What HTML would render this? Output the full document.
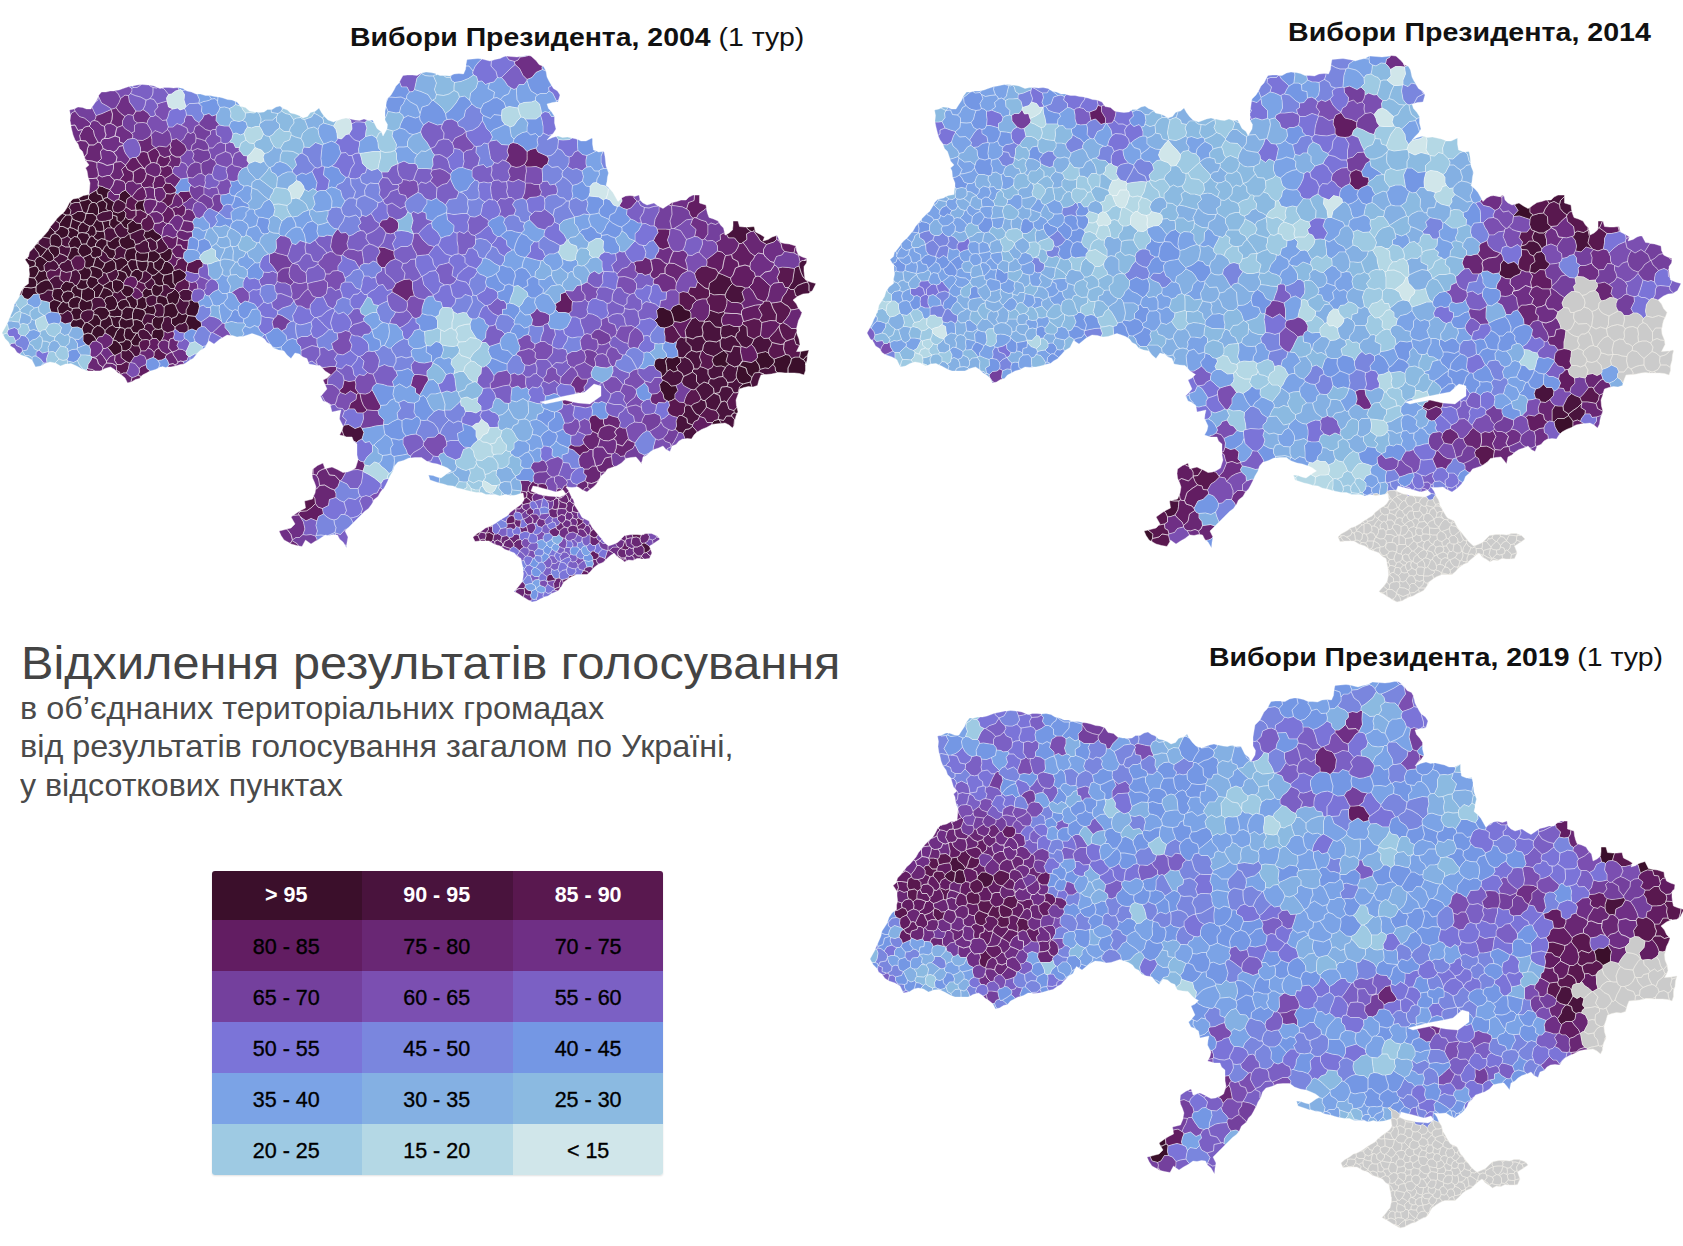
<!DOCTYPE html>
<html lang="uk"><head><meta charset="utf-8"><title>Відхилення результатів голосування</title>
<style>
html,body{margin:0;padding:0;background:#fff;}
body{width:1683px;height:1246px;position:relative;overflow:hidden;font-family:"Liberation Sans",sans-serif;}
#maps{position:absolute;left:0;top:0;width:1683px;height:1246px;}
.mt{position:absolute;white-space:nowrap;font-size:26.5px;line-height:30px;color:#111;transform-origin:0 0;}
.mt b{font-weight:bold;}
#t1{left:349.5px;top:22.2px;transform:scaleX(1.0725);}
#t2{left:1287.7px;top:17.2px;transform:scaleX(1.0794);}
#t3{left:1209.2px;top:642.2px;transform:scaleX(1.072);}
#h1{position:absolute;left:21.3px;top:636px;font-size:46px;line-height:54px;color:#444;white-space:nowrap;transform-origin:0 0;transform:scaleX(1.0566);}
.sub{position:absolute;left:20px;font-size:32px;line-height:38px;color:#4a4a4a;white-space:nowrap;transform-origin:0 0;}
#s1{top:688.5px;transform:scaleX(1.011);}#s2{top:726.5px;transform:scaleX(1.012);}#s3{top:766px;transform:scaleX(1.005);}
#legend{position:absolute;left:212px;top:871px;width:451px;height:304px;border-radius:3px;overflow:hidden;box-shadow:0 1px 2px rgba(0,0,0,.12);}
#legend div{position:absolute;width:151px;height:51px;line-height:54px;text-align:center;font-size:21.5px;color:#000;-webkit-text-stroke:0.35px #000;}
#legend div.w{line-height:49px;color:#fff;font-weight:bold;-webkit-text-stroke:0;}
</style></head><body>
<svg id="maps" viewBox="0 0 1683 1246" width="1683" height="1246">
<g transform="translate(0,0) scale(.5)" stroke-width="1.1" stroke-linejoin="round"><path fill="#3b0f2b" stroke="#fff" stroke-opacity="0.85" d="M138 464l-2-6-10-5-7 0-2 6-7 5 0 3 7 3 5 7 6-1 7-4zM342 527l-7-4-5 0-3 6-3 9-6 5 5 5 5 2 7-1 10-3 0-3 4-2-1-3-1-4zM305 573l-2 6 1 6 2 5 4 2 4 1 5-2 7-10-1-10-7 1-8-4zM271 616l4-7-1-10-6-3-5-6-4 3-6 1-1 4 6 8 3 9 4 1 3 2zM335 549l-7 1-3 11 3 8 7 1 6 7 8 0 2-5-5-7 0-11-1-8zM1599 714l4 4 4 1 6-7 2 0 0-2 3-10-12 2-5 1zM1329 750l5-7-1-12-2-9 4-7-2-2-6 4-9-1-7 3-2 5-1 7 4 8 10 6 1 9zM183 533l-4 3 4 8-2 9 9 2 6 4 9-7 1-7-2-3-1-3-9-4-8-2zM292 616l2-7-2-6 0-7-4-1-3-2-5 3-6 3 1 10-4 7 6 1 8 2zM297 514l-2 8 1 2 6-1 5 2 8-4 5-6 1-3-3-5-5-3-3-3-6 1-3 0-4 3zM125 427l-4 3-7 7-3 4 8 6 6-9 7-8zM1576 736l5-10 2-9-5-7-7-1-8 4-7 2-8 3 1 6-3 5 4 5 1 8 4 3 6 0 9 1 6 0zM1503 725l-17-3-7 8-1 1 14 5 3 11 9 8 5-9 10-1-1-3 2-3-2-9-7-10zM94 553l-1-8-1-2-3-2-7 2-4-2-4 9-5 6 5 8-1 7 8-7 9-4 8 0zM230 619l5-9 0-4-3-8-7-7-12 3-5 7 4 8-2 6 5 3 2 4zM218 522l-8 4-3 8-4 5 1 3 2 3 4 1 3 1 9-3 10-6-1-12-6-7zM374 630l2 1 8 1 7 1 5-7 3-13-1-5-2-4-8 0-4-4-4 0-2 2 0 7-6 11 0 7zM337 633l6 4 10-4 4-9-4-8-2-6-6-4-8 2-6 2-3 5 0 11-2 7 2 2zM373 638l-2 6 5 8 0 9 8-3 9 4 3-5 7-4 0-5-1-4-8-5-3-6-7-1-8-1zM183 472l4 1 5-6 0-5-2-7-5-4-3 1-3 0-2 9-6 5 6 2 2 7zM281 542l5 2 3-2 3 0 4-11 0-7-1-2-11 1-11-2 1 10 3 8zM328 504l-10 3 3 5-1 3 5 2 5 6 5 0 7-5 3-12-1-3 0-4-4-2-3 0zM73 571l1-7-5-8-9-1-2-1-1 4 0 9-9 7 0 1 7 0 7 1 10-2zM172 427l-2 11-4 6 7 5 6 3 3 0 3-1 4-6 5-8-1-4-7-6-13 0zM250 474l-9 2-3 6 3 10 5 4 7 3 10-3 7-1 0-3 1-3-3-9-7-3-1-9-2-1zM356 605l3-10 1-4-3-6-3-3-4-4-6 6-9 4-2 7 2 6 2 7 8-2 6 4zM265 627l3-9-3-2-4-1-9-1-8 7 0 6-2 6 1 2 9 5 13-3zM323 473l-5-5-7-4-5-7-9 5-7 0-3 9 5 8 9-3 10 7 9-5 3-3zM63 534l7-2 1-6-2-4-12-3-3-3-4 3 8 12 0 5zM1429 841l-4 4-2 4 8-1 10-1 2 0-5-8-2 0zM267 675l6-9-7-1-5-9-7 0-4 3-2 12 3 8 7 1 4 3zM279 660l8-2 2-3 0-4-3-4-2-4-10-4-8 1 1 10-6 6 5 9 7 1 3 0zM307 654l4 4 6 1 7-2-1-7 4-8 1-7-2-2-9 1-6-1-6 6-1 9zM185 660l-2 8 5 4 5 8 4-6 8-1 5-7 0-5-4-5-6-4-5-1-6 4zM144 642l-2 3-2 5 4 5 11-1 9 4 2-6 4-6-4-6-4-3-9 3-7-1zM1501 764l-8 2-7 2-7 6-3 11 1 1 2-8 9-3 9-2 7 1zM225 519l6 7 1 12 3 3 5 0 6-6 9-7 1-4-4-4-2-3-8-2-9 4-6-3-2 2zM213 637l-11 4-1 5-1 6 6 4 4 5 8-8 7-3-2-11-4-7-1-2zM260 468l7-3 9-4 8-3 0-5-2-6-10-1-6-6-11 9 1 9-1 5 3 4zM358 648l5 0 8-4 2-6 3-7-2-1-2-3-8 2-7-5-4 9-10 4 0 10 7 7zM142 446l2-9 0-4-3-2-1-1-5 0-3 0-7 8-6 9 0 2 0 4 7 0 10 5 1-2 3-1zM226 587l-4-6-7-4-8-2-4 9-6 11 7 1 4 5 5-7 12-3zM189 405l4 2 5-4 8-3 0-1-3-9-8-2-2-8-7 4-7 4-2 5 0 5 5 4 2 3zM147 457l9 5 1-9 6-8-12-4-7-4-2 9-2 9zM136 518l2 2 4 1 9-9 11 0-6-8 1-6-7-4-9 2-1 7-5 11zM158 607l0 9 3 3 4 4 9-3 9 0 2-10-2-10-10 3-10-6zM116 512l3-5 0-5-1-7-10-3-6 0-4 2-1 3 3 7 6 6 2 7zM175 511l-9 4 4 7-1 11 4 3 6 0 4-3 3 0 3-10 2-7-6-1-4-7zM1348 646l0-3-2-9-2-7-3-6-7-2-7-4-8 0-6 6 2 14-6 6 4 4 2 5 6 5 8 1 8-2 8-4zM117 602l-9-3-5 3-4 3 0 10 3 9 9 1 6 1-2-10 8-11zM1613 712l-6 7 4 6 0 5 3-9 1-9zM1474 827l2-3-2-10-6 7 0 2 0 3zM248 439l3-6 1-7-5-5-11 5-9-3-2 2 0 2 0 3 9 3 0 8 8 4zM238 474l-2-1-7 3-9 7-6-2 0 5 0 3 5 8 11 3 4-5 7-3-3-10 3-6zM182 649l7 6 6-4 5 1 1-6 1-5-7-11-8-1-2 9-10 7zM203 584l4-9-1-4-4-2-4-3-7 6-7 6 5 5 0 12 4 0 4 0zM142 408l8-3 9 0 2-3-4-6-11 2-5 5zM229 584l-4-9 0-12-5-1-7 5-7 4 1 4 8 2 7 4 4 6zM132 606l5-1 4-7 6-3 1-6-5-6-8-1-8 3-4 8 4 10zM225 415l4-11-7-4-7-5-5 1-4 3 0 1 8 7-2 10 5 5 4-1 4 4 2-2zM236 708l6-3 2-4-1-9-6-7-5-4-6-1-2 8-9 7 6 7 6 8 3 1zM166 560l-5-2-4 8-4 5 2 6 9 2 6-1 7-4-4-8 2-7zM125 581l2 4 8-3 8 1 1-7 6-5-5-6-7-1-6-2-4 3-5 6-2 6zM231 655l-6-5-7 3-8 8 0 5 11 6 5 7 4-8 3-8 7-8zM1510 459l-2-6-10 1-5 0 1 3 8 6 3 0 2-1zM178 555l3-2 2-9-4-8-6 0-4-3-5 6-9 2 6 9 0 8 5 2 9-1zM76 487l2-6-1 1-4 6zM137 487l2 7 2 2 9-2 7 4 3-6 3-3-3-9-5-6-6-1-7 5zM1382 627l-3-6-9-2-5-7-7-4-12 5-5 8 3 6 2 7 2 9 13 2 10-3 11-6zM123 593l4-8-2-4-4-4-6 0-8 1-1 3-2 10 4 8 9 3 6 3 1-1 3-1zM200 496l-9-3-3 0-6 3 2 7-3 5 4 7 6 1 3-2 3 0 6-3 1-9zM289 399l-5 2-8 1-6 8 2 10 0 1 9-1 11 6-3-8-2-9 3-9zM160 492l-3 6-1 6 6 8 2 2 2 1 9-4 6-3 3-5-2-7-6-4-3-4-6 0-4 1zM163 597l0-8 1-10-9-2-2-6-3 0-6 5-1 7 5 6-1 6 7-2zM172 645l-2 1-4 6-2 6 2 6 1 5 9-3 7 2 2-8 4-5-7-6-7-4zM248 671l2-12-4-3-6-1-7 8-3 8-4 8 0 1 6 1 5 4 10-1 4-5zM298 628l10 2 4-8-4-11-9 2-5-4-2 7-7 3 5 3 1 6zM61 596l6-7 10-1-5-4 0-10-10 2-7-1-7 0-3 5-2 9 6 8 7 2zM145 631l1 8 7 1 9-3-1-7 4-7-4-4-3-3-6 0-7 1-1 4-3 3zM255 449l11-9-1-2-9 1-5-6-3 6-6 6 0 1 6 9 8 3zM195 630l7 11 11-4 5-7 2-4-3-4-2-4-5-3-10-1-6 2-8 6 2 3-1 4zM345 543l0 3 1 8 0 11 5 7 3-6 10-5 6-4 3-7-3-5-11-7-10 3zM1337 803l6-2 7-4 0-9 6-7-4-10-10 1-6-7-10-5-7 9 2 12 5 7 2 10 7 4zM237 549l-5 10 9 2 6 6 3-7 5-6-4-9-11-4-5 0zM296 531l-4 11 7 5 5 4 6-1 8-7-10-7-1-11-5-2-6 1zM190 455l2 7 8 1 8-1-1-10-3-9-7-1-3-5-5 8-4 6zM243 384l-4 5 0 4-2 6 10 5 5 5 2-11 9-6-6-5-6-7zM279 684l6-4-6-5-3-9-3 0-6 9-5 8 1 4 5 5 10 0zM117 470l-7-3-7 3-3 7 0 9 2 6 6 0 10 3 3-3 2-2 1-8-2-5zM1515 715l-4 5 7 10 2 9 10-3 7 1 9-8 3-5-1-6-8-6-3-6-6-3-8 2-9 2zM274 639l10 4 3-8 4-7-1-6-5-3-8-2-6-1-3 2-3 9 0 10 1 3zM151 441l12 4 3-1 4-6 2-11-4-2-3-2-10 0-6 4-8 4 3 2 0 4zM258 680l-7-1-4 5-10 1 6 7 1 9 8 1 5-3 5-4 1-8-1-4zM163 416l2 7 3 2 4 2 1 0 3-7 3-11 5-4-2-3-5-4-9 3-7 1-2 3zM75 534l3 7 4 2 7-2-1-11 7-7-6-5-7-5-3 0-5 2-5 7 2 4-1 6zM176 492l6 4 6-3 3 0 0-5 5-7-6-3-3-5-4-1-4 3-4 7-2 6zM268 583l-1-6-8-5-11-2-2 8-5 3 5 8 7 5 6-1 4-3zM186 427l7 6 1-2 3-3 0-12-4-9-4-2-5 0-5 4-3 11-3 7zM98 560l-8 0-9 4-8 7-1 3 0 10 5 4 1 1 11-3 6-6 11 1 1-3-3-9-6-8zM227 516l4-7-1-9-11-3-5-8-5 5-4 8 7 5 5 9 8 2zM220 626l-2 4 1 2 10 2 4-1 9 0 2-6 0-6-6-3-3-8-5 9-13 3zM1478 765l8 3 7-2 8-2 2-5 1-4-9-8-3-11-14-5-2 1-2 9-2 9 1 6zM263 496l-10 3-4 11 1 7 2 3 4 4 6-5 10 1-1-11 3-7-3-2-1-5zM259 537l-4-9-9 7-6 6 11 4 4 9 3 1 3-3 1-4 2-4zM187 597l2-2 0-12-5-5-4-1-3-3-7 4-6 1-1 10 0 8 10 6 10-3zM284 523l11-1 2-8 0-9-8 1-9 0-6-4-3 7 1 11 1 1zM286 590l-1 3 3 2 4 1 7-4 7-2-2-5-1-6-6 0-4-3-5 3-4 7zM160 480l3 9 4-1 6 0 2-6 4-7-2-7-6-2-7-1-6 1-3 4 0 4zM94 476l6 1 3-7 7-3 0-3-9-9-1 0-4 7-6 7-5 5zM1611 725l-4-6-4-1-4-4-9 0-7 3-2 9-5 10 0 10 3 0 10 0 10 1 9 3 3-9 0-10 0-1zM208 462l6-6 10 0-5-6 1-10-9 2-7 1 3 9zM313 601l1 6 9 1 5 7 3-5 6-2-2-7-2-6-8-3-6-1-5 2zM246 578l2-8-1-3-6-6-9-2-4 1-3 3 0 12 4 9 6 2 6-5zM238 644l5-9-1-2-9 0-4 1-10-2 4 7 2 11 6 5 9 0zM176 666l-9 3-1 2 0 11 6 7 4 2 2 1 7-9 8-1 0-2-5-8-5-4zM318 572l7-1 3-2-3-8 3-11-5-2-5-5-8 7-6 1-1 3 0 2 6 6 1 6zM60 555l9 1 5-6 4-9-3-7-5-2-7 2-5 2 0 4 1 9-1 5zM106 510l-6-6-3-7-3 1-6 8-6 7 7 5 6 5 5 1 7-4 1-3zM132 430l3 0 5 0 2-9-4-6 4-7-1-5-2 2-5 10-5 8-4 4zM84 493l-8-6-3 1-2 2-3 4 4 6 5 6 2 7 3 0 6-7 6-8zM267 650l-1-10-1-3-13 3-9-5-5 9 2 11 6 1 4 3 4-3 7 0zM304 674l0 3 9 0 6 7 4-3 5-10 0-9-3-2-1-3-7 2-6-1-6 4-2 10zM201 520l-4-6-3 0-3 2-2 7-3 10 8 2 9 4 4-5 3-8zM124 604l-1 1-8 11 2 10 1 1 7 1 10-7 6 3 3-3 1-4-7-3-1-9-5 1-5-3zM242 600l-7 6 0 4 3 8 6 3 8-7 9 1-3-9-6-8zM1424 721l3 8 5 4 11-1 8 3 3-4 5-2-7-6 4-14-8-8-1 0-7 4-6 4-7 4zM137 456l-1 2 2 6-3 8 4 4 3 2 7-5 6 1 0-4 3-4-2-4-9-5-7-2zM271 539l-7 5-2 4-1 4 10 3 4 8 2 0 7-6 2-13-5-2-4-3zM205 502l4-8 5-5 0-3 0-5-4-2-7-2-7 4-5 7 0 5 9 3 4 6zM205 424l12-2-5-5 2-10-8-7-8 3-5 4 4 9 0 12zM210 472l-2-10-8 1-8-1 0 5-5 6 3 5 6 3 7-4 7 2zM158 466l6-1 7 1 6-5 2-9-6-3-7-5-3 1-6 8-1 9zM274 531l-1-10-1-1-10-1-6 5-1 4 4 9 5 7 7-5 6 0zM161 402l7-1 9-3 0-5 2-5-1-1 0 2-11 2-10 5zM220 379l-9-3-6-3-9-2 1 4-4 5 2 8 8 2 3 9 4-3 5-1 1-10 5-4zM173 566l4 8 3 3 4 1 7-6 7-6-3-4 1-3-6-4-9-2-3 2-3 4zM242 445l-8-4 0-8-9-3 0 7-5 3-1 10 5 6 4 2 7-8 7-4zM152 616l6 0 0-9 5-10-9-4-7 2-6 3-4 7 1 9 7 3zM325 517l-5-2-5 6-8 4 1 11 10 7 6-5 3-9 3-6zM1357 715l-1-3-11 4-10-1-4 7 2 9 1 12 6-4 7 5 9-3-3-8 9-9-2-9z"/><path fill="#49133d" stroke="#fff" stroke-opacity="0.85" d="M293 679l6 2 4-2 1-2 0-3-1-2-8-10-8-4-8 2-3 6 3 9 6 5zM1608 521l-4 0-4 3-2 3 0 5 4 13 4 9 4 3-1-6-1-9 0-9 5-7 1-6zM1494 457l-1-3-4 0-10-1-3-11-10 0 0 9-1 9-7 6-5 3 4 7 12 0 9 11 5 0 3-2 8-6-1-11 9-5zM1592 689l7 2 1-2-2-11-4-10 0-6-3 6-3 9zM1395 774l-4 4 5 7 4 7 2 6 4 3 4 0 7-6 5-4 6-5-1-10-10-9-9-3-9 6zM1361 865l5 2 5-8 7-1 7-5 0-3-10-4-1-9-10-6-6 0-3 4-3 7 1 10-3 7 4 2 3 4zM1365 758l-2 6 4 7 7 4 8 4 6 1 3-2 4-4 4-4-6-7 0-13-8-6-7 4-11 5zM380 600l4 0-1-8 2-8-4-3-4-2-11 0-9 6 3 6-1 4 7 7 12 0zM1378 748l7-4 0-4 3-2-2-9-7-10-10-5-3 2-6-1 2 9-9 9 3 8 8 5 3 7zM270 492l0 3 1 5 3 2 6 4 9 0 8-1 4-3-4-9 0-8-6-5-6 2-5 5-9 2zM1390 858l-5-5-7 5-7 1-5 8 3 8 1 3 4-1 9 1 5-8 6-6 1 0zM140 503l1-7-2-2-8 0-8-4-2 2-3 3 1 7 0 5 9 3 7 4zM1606 554l-4-9-4-13-6 2-3 3-2 13-2 13-8 12 4 4 7 0 7-8 12-5 8-2 1-2-5-2-1-3zM45 580l3-5 0-1-6 9-3 8 1 0 3-2zM1452 759l3 6 11-1 7-8-1-6 2-9 2-9-7 2-10-5-5 2-3 4-6 10 1 8zM1376 649l-6 12 2 13 14 4 6-4 13-2 1-7-2-11 5-10-1-2-10 0-7-7-7 2zM1407 690l-2 11 7 7 9 3 6 2 7-4 6-4 7-4-6-7-1-14-7 4-14-2-7 1zM710 857l-13-8-8 1-3 3 0 1-2 7 2 6 2 5 5 2 11 0 3 8 6 3 5-4 6-3 4-13-4-8-3-4zM100 540l11 1 7-6 0-3-5-8-6-4-7 4-5-1-7 7 1 11 3 2 1 2zM1468 826l-4 2-1 4 6 7-1 12 1-3 1-8 2-8 2-5zM1428 758l9-4 9-1-1-8 6-10-8-3-11 1-5-4-3 6-8 4 0 9 5 9zM76 487l8 6 10 5 3-1 1-3 4-2-2-6 0-9-6-1-9-2-1 2-6 5zM1357 677l-4 6-2 11 4 7 1 11 1 3 3 0 6 1 3-2 6-8 8-5-1-8-10-10 0-9-4 2-6-2zM74 515l5-2-2-7-5-6-4-6-2 3-7 7-2 9-3 3 3 3 12 3zM194 437l3 5 7 1 7-1 9-2 5-3 0-7 0-3 0-2-4-4-4 1-12 2-8 4-3 3-1 2zM104 569l3 9 8-1 6 0 2-6 5-6-8-6 0-7-10 0-6 4-6 5zM1404 654l2 11-1 7 3 6 4 5 7-1 14 2 7-4 3-2 0-3-2-8 1-12-11-1-11-12-11 2zM1504 774l2 0 9-3 3-11 4-10 6-1 0-1-9-3-10 1-5 9-1 4-2 5zM1507 462l9 12 5 8 12 7 9-3 6-2 5-5 0-8-9 3-8 5-10 3 3-8-8-5-10-5-1-5zM1467 692l-5 12-14-3 8 8-4 14 7 6 10 5 7-2 2-1 1-1 6-9-4-18 1-9zM1441 667l2 8 8 1 12-5 8 4 2-8 6-5-1-9-10 0-9-4-13 2-2 2-2 2zM174 620l-9 3-4 7 1 7 4 3 4 6 2-1 3 0 10-7 2-9 1-4-2-3-3-2zM1393 750l0 13 6 7 9-6 9 3 1-6 3-4-5-9 0-9-9-4-7-2-4 5-8 0-3 2 0 4zM1412 806l1 8 9 5 10 2 4-6 6-11-3-13-9-4-2-1-6 5-5 4-7 6zM1428 590l13-1 9 1 3-7 6-10 6-6-3-6-1-5-7-3-9-4-8-3-6 12-12 8-2 12 2 4 0 4zM280 487l5-5 6-2 1-1-5-8 3-9-2-3-4-1-8 3-9 4-7 3 1 9 7 3 3 9zM255 463l1-5-8-3-6-9-7 4-7 8 3 8 5 7 2 1 3 2 9-2 8-7zM299 592l-7 4 0 7 2 6 5 4 9-2 2-2 4-2-1-6 1-8-4-1-4-2zM1618 570l0 11 3 3 4-3 7-14-11-3-5-2-1 2zM1449 802l5 3 2-5 6-8 5-7-4-9-9-3-11 1-4 11-9 2 9 4 3 13zM1364 746l-8-5-9 3-7-5-6 4-5 7-6 4 0 1 0 3 3 2 10 5 6 7 10-1 6-3 5-4 2-6 2-5zM231 466l-3-8-4-2-10 0-6 6 2 10 0 7 4 2 6 2 9-7 7-3zM317 634l9-1 2-7 0-11-5-7-9-1-4 2-2 2 4 11-4 8 3 3zM284 566l5 1 6-4 8-7 0-2 1-3-5-4-7-5-3 0-3 2-2 13-7 6zM372 620l6-11 0-7-12 0-7-7-3 10-5 5 2 6 4 8 7 5 8-2zM1389 843l7-3 3-7 0-2-7-3-6-8-4-8-5-2-5 0-3 5 0 9-5 7 10 6 1 9 10 4zM104 591l2-10-11-1-6 6-11 3 1 6 3 6 10 2 7 2 4-3 5-3zM1403 725l-4-11 4-12-10 2-10-3-8 5-6 8 10 5 7 10 2 9 8 0 4-5zM304 502l6-1 5-5-2-12 7-6-9 5-10-7-9 3-1 1 6 5 0 8 4 9zM1509 696l5 11 9-2 8-2 6 3 1-8 4-6 2-7-4-5-2-4-10 1-7-6-7 3-6 4-2 5-3 6zM101 455l9 9 7-5 2-6 0-4 0-2-8-6-3 4-7 8-1 2zM132 545l11-2 3-2 3-1-5-11-2-8-4-1-2-2-7 6-7 2-4 6 0 3 3 2 1 4zM135 621l-10 7-7-1 4 7-1 9 9 5 12-3 2-3 2-3-1-8-4-7zM1441 694l6 7 1 0 14 3 5-12 15 2 1-1-5-8-3-3-4-7-8-4-12 5-8-1 0 3-3 2zM128 476l-6 1 2 5-1 8 8 4 8 0-2-7 5-9-3-2-4-4zM1437 626l-9-3-9-3-1 9-3 6-7 7 1 2 11-2 11 12 11 1 2-2 2-2-3-8 1-8 6-9-2-3zM254 724l5 2 2-1 4-6 4-6-5-8-7-6-5 3-8-1-2 4 0 10 10 8zM268 692l-5-5-1 8-5 4 7 6 5 8 5 0 6-4 0-3 2-4-2-6-2-4zM335 666l12-4 2-2 1-2 0-4-7-7 0-10-6-4-9 2-1 7-4 8 1 7 1 3 3 2zM141 431l8-4 6-4 10 0-2-7-4-11-9 0-8 3-4 7 4 6-2 9zM145 565l5 6 3 0 4-5 4-8 0-8-6-9-3-2-3 1-3 1-3 2-1 9-4 12zM320 478l-7 6 2 12-5 5 3 3 5 3 10-3 9-7-3-6-6-8-5-8zM186 622l8-6 6-2 10 1 2-6-4-8-4-5-7-1-4 0-4 0-2 2-4 3 2 10-2 10zM326 581l-7 10 6 1 8 3 2-7 9-4 6-6-1-1-8 0-6-7-7-1-3 2zM216 555l4 7 5 1 3-3 4-1 5-10-2-8-3-3-10 6-9 3zM1475 682l3 3 5 8 10 3 10-7 3-6 2-5-13-6-1-18-9-6-3 4-4 1 1 9-6 5-2 8zM1456 768l-2 5 9 3 4 9 3 1 6-1 3-11 7-6-8-3-5-9-7 8-11 1zM1438 839l9 2 6-9 10 0 1-4 4-2 0-3 0-2-10-3-4-13-5-3-7 2-6 11-4 6 6 9-2 9zM246 589l-5-8-6 5-6-2-3 3-1 4 7 7 3 8 7-6 10-2 1-4zM287 635l-3 8 2 4 3 4 6-5 9 2 1-9 6-6-3-3-10-2-7 0zM1372 674l0 9 10 10 1 8 10 3 10-2 2-1 2-11 5-7-4-5-3-6-13 2-6 4zM1469 839l-6-7-10 0-6 9-9-2 5 8 7-1 8 4 7 6 3-5zM309 562l-6-6-8 7-6 4 1 5 3 4 4 3 6 0 2-6 5-5zM246 496l-5-4-7 3-4 5 1 9-4 7 6 3 9-4 8 2-1-7 4-11zM350 658l9 7 10 1 4-2 3-3 0-9-5-8-8 4-5 0-8 6zM1283 1090l5 6 0 10 2 0 3-1 5-3 3-4-2-5-3-3-6-4-3 0-3 1zM1551 742l-1-8-4-5-9 8-7-1-10 3-2 3 1 3 9 3 0 1 5 0 10-1 9-2 3-1zM1618 581l0-11-3-6-8 2-12 5-7 8 3 12 4 2 2-1 9-4 11-1 4-3zM128 510l-9-3-3 5-8 5-1 3 6 4 5 8 4-6 7-2 7-6-1-4zM1463 605l11 0 8 2 7-7-5-16 7-8-7-3-12-1-7-5-6 6-6 10-3 7 1 5 3 4zM1418 761l-1 6 10 9 1 10 2 1 9-2 4-11 11-1 2-5-1-3-3-6-6-6-9 1-9 4-7-1zM217 516l-5-9-7-5-1 0-1 9-6 3 4 6 9 6 8-4 7-3 0-1zM295 662l8 10 2-10 6-4-4-4-3-6-9-2-6 5 0 4-2 3zM213 567l7-5-4-7-3-8-3-1-4-1-1 7-9 7-1 3 3 4 4 3 4 2zM247 404l-10-5-5 1-3 4-4 11 2 8 9 3 11-5 3-4 2-3 0-3 0-2zM1403 827l6-7 4-6-1-8-2-5-4 0-4-3-5 6-9 3-6 5 4 8 6 8 7 3z"/><path fill="#59184f" stroke="#fff" stroke-opacity="0.85" d="M351 385l-10 3-9-1-2 8-8 8 7 3 6 7 2 0 7-5 3-12 5-9zM1369 824l0-9 3-5-1-2-3-3-10-1-8-7-7 4-6 2 2 8-5 9 4 8 6 4 11 3 3-4 6 0zM1419 566l12-8 6-12-5-8-12-3-7-3-10 1-9 6-5 8 2 8 4 8 5 5 10 8 7 2zM1149 1148l-5 3-5 0-3 5 1 1 7-4 7-3zM348 538l1 3 10-3 11 7 3-3 0-7 3-9-5-4-4-6-2 0-3 0-8 5-1 8-6 5zM288 459l2 3 7 0 9-5 2-6 1-4-5-12-6-6-3-1-2 7-8 4-3 8 2 6 0 5zM983 1083l3-3 1-6 1-4-9-5-7 1-1 0 1 6-2 7 1 3 7 0 3 2zM242 729l-8 0-2 2 1 4 0 6 6 3 1 4 1 1 6-3 6 0 4-9 2-11-5-2-2-1zM381 545l8 2 8 0 1-10 8-4 0-7-3-3-2-4-8 0-8 4-9 3-3 9 0 7zM1560 662l5 12 8 8 8-3 7-2 3-9 3-6-1-5-10 0-8-7-9-5-2 2-5 0 1 2-2 3zM1572 585l-7 9-3 9 8 6 6 3 6 8 7-1 9-2-1 0-4-9-7-8 9-7-4-2-3-12-7 0-4-4zM272 446l10 1 3-8 8-4 2-7-3-2-11-6-9 1 0 10-7 7 1 2zM121 545l-1 7 0 7 8 6 4-3 6 2 4-12 1-9-11 2-10-4zM256 439l9-1 7-7 0-10 0-1-9 1-11-7-2 3-3 4 5 5-1 7zM1419 582l-2-4-7-2-10-8-5-5-4 12-11-1-4 11 5 6 6 2 6 8 11-3 9 0 6-6 0-6zM1266 1075l7-1 7 3 2-5 1-2-9-1-10 0zM686 867l-2-6-5 9 9 2zM981 1054l4-2 0-2-3 2-3 1zM1419 592l-6 6 2 8 4 5 0 9 9 3 9 3 11-3 4-8 2-8 0-8-3-4-1-5-9-1-13 1-9-4zM1485 644l0 4 9 6 1 18 13 6 6-4 7-3 1-7 1-11 1-8-3-2-2-4-11-2-13 4-8 2zM1542 692l-4 6-1 8 3 6 8 6 8-3 7-2 8-4-4-11 1-10-7 1-9-2-8-2zM1517 617l7 13-5 9 2 4 3 2 9-2 8-2 11 1 1-13-7-12-4-11-3-4-7 0-2 0-3 1-1 4-4 2zM288 579l5-3-3-4-1-5-5-1-7-3-2 0-1 6-4 6 7 3 7 8zM350 578l4 4 3 3 9-6 11 0 2-8-1-8-5-2-3-4-6 4-10 5-3 6-2 5zM600 1023l13-1 9-6 9-9-1-10-3-5-2 6-16 4 2 14-8 4-3 2zM1399 833l10 3 5 9 11 0 4-4 7-2 2-9-6-9-10-2-9-5-4 6-6 7-4 4zM947 1073l5-3 4 1 3-3 2-4-1 0-6 3zM308 711l-2 4 5 2 5 4 8-1 7-4 0-3 3-4-11-6-5-7-6 3-4 6zM1569 684l-1 4-1 10 4 11 7 1 5 7 7-3 9 0 2-11-8 0 6-12-7-2-4-12-7 2-8 3zM1403 702l-4 12 4 11-3 8 7 2 9 4 8-4 3-6-3-8 3-8-6-2-9-3-7-7zM254 398l-2 11 0 2 0 3 11 7 9-1-2-10 6-8-7-4-5-5-1-1zM1366 583l-8 3 0 12 0 10 7 4 5 7 9 2 5-5 2-8 7-7-6-8-6-2-5-6zM151 512l-9 9 2 8 5 11 3-1 3 2 9-2 5-6 1-11-4-7-2-1-2-2zM1540 680l4 5 8 2 9 2 7-1 1-4 4-2-8-8-5-12-2-10-7 10-6 6-7 8zM1476 785l-6 1-3-1-5 7-6 8-2 5 4 13 10 3 6-7-1-2-1-12 4-11 1-3zM280 696l2 6 9 0 5-6 4-7-1-8-6-2-8 1-6 4-1 8zM1374 788l-4 9-2 8 3 3 1 2 5 0 5 2 6-5 9-3 5-6-2-6-4-7-5-7-3 2-6-1zM353 380l-3-5-9-8-9-1-3 3-4 6 4 7 3 5 9 1 10-3zM104 556l6-4 10 0 1-7 1-4-1-4-3-2-7 6-11-1-7 5 1 8 4 7 0 1zM1337 654l-8 2-1 8 2 9 0 10 9 3 8 1 6-4 4-6 5-3-6-8-5-9-6-7zM1546 617l7 12-1 13 3 3 4 2 5 0 2-2 7-8 5-7 4-10-6-8-6-3-8-6-11 2-9 1zM1559 544l-5 11 4 10 7 0 5 10 7 0 8-12 2-13 2-13-12-2-12-1-9 2z"/><path fill="#621d62" stroke="#fff" stroke-opacity="0.85" d="M300 374l7 2-1-9 2-4 2-9-10-4-7-3-2 9-4 7-5 4 1 4 2 2 3 3zM1098 318l-4-6-9-4-9-4-4-8-11 3-7 4 0 8 0 9-5 9 2 2 1 3 10 0 10-1 12 5 5-7 6-3zM1136 1156l-6 2-5 1 1 7 0 1 2-3 8-6 1-1zM278 325l6 7 4 5 2 1 3-6 9-6-4-10-3-11-7-2-7 1-3 7-6 4zM1530 602l2 0 5-10 2-11 2-9-6-5-7-7-8-7-4-1-5 1-4 6-2 8-7 7 8 9 8 15 13 5zM1493 696l-10-3-1 1-1 9 4 18-6 9 7-8 17 3 8-5 4-5-1-8-5-11-6-7zM1528 677l10-1 7-8 6-6 7-10 2-3-1-2-4-2-3-3-11-1-8 2-9 2-1 8-1 11-1 7zM1095 974l-4-6-7-1-8 1 0 6 14 4 5 1zM1450 626l12 1 12 0 9 2 0-7 4-5-2-7-3-3-8-2-11 0-9-6 0 8-2 8-4 8zM346 476l-12-5-11 4 5 8 6 8 3 6 3 0 4 2 6-5 3-4 1-7 1-8-1-3zM1207 846l0-8-7 0-9-8-7 1-5 5-1 5 3 8 0 8 4 6 5 2 6 3 5-12 9-4zM357 415l-5-2-9 4 5 7 1 8 7-2 7 4 7-6 1-8 0-6-6-5zM350 494l-6 5 0 4 1 3 7 9 10 1 3 0 2 0 1-11 6-5-9-3-3-7-9 0zM601 1034l11 8 10-5 12 5 3-9 10-5-1-5-1-6-9-3-5-7-9 9-9 6-13 1-3 4 1 3zM1180 1071l8 5 5-2 3-4 0-1-4-5-5-6-5 4-2 3-1 5zM1382 636l-11 6-10 3-13-2 0 3-3 4 6 7 5 9 6 8 6 2 4-2-2-13 6-12 8-12zM1045 1010l6-2 9-2 2-3-3-4-6-4-5 2 0 3-4 6zM248 363l3 6 5-6 10-1 1-11-1-7-11-5-4-8-8 8 4 11-8 10zM1483 622l0 7 2 7 2 7 8-2 13-4 11 2 5-9-7-13 5-8-11 1-14 4-10 3zM1445 549l9 4 7 3 5-6 5-14 7-3-2-10-11-6-2-8-5 1-7 1-3 10-3 16-8 9zM327 334l8-3 6-10-2-9-10 3-9-5-4 6-3 11 5 2 2 4zM1154 1037l-1 2 2 6-3 7 2 1 5-3 7-5 0-2 0-3-4-1-5-3zM259 572l8 5 3-2 4-6 1-6-4-8-10-3-3 3-3-1-5 6-3 7 1 3zM1175 1143l-7-2-1 0-4 6 0 2 1 0 10 0 3-2zM1053 995l1-7-1-4-5-1-5-1-1 0-1 5 5-1 2 11zM330 680l8 4 2-6 7-2 2-8-2-6-12 4-7-4 0 9-5 10zM339 415l-2-2-2 0-6 10-6 5 4 7-1 7 4 4 5 1 2 0 5-7 7-8-1-8-5-7zM232 742l3 3 5 3-1-4-6-3zM303 699l5 6 4-6 6-3-2-6 3-6-6-7-9 0-1 2-4 2 1 8-4 7zM1397 428l13-9 3-3-1-6-13-4 0-15 0-1-10 0-1 11-11 4-4 13 5 4 2 8 6 7 3-2 4 1zM1495 576l3-2 7-7 2-8 4-6-2-8-8-6-1-6-10-3-12 3-7 3-5 14-5 6 1 5 3 6 7 5 12 1 7 3zM1102 1162l9-2 2-3-5-1-4-7-6 0-4 4-1 6 2 4zM293 393l-2-11-3-6-3-3-10 6-5 6-6 8 5 5 7 4 8-1 5-2zM265 315l-5 3-4 6-5 6 0 1 4 8 11 5 6-4 9-5 7 2-4-5-6-7-6-10zM276 750l-5 3-7 2-2 8 0 1 1 0 8-5 8-2 3-4zM268 596l6 3 6-3 5-3 1-3-2-4-7-8-7-3-3 2 1 6-5 7zM1173 893l-5-6-8 5-11 0-7-3-4 3-1 4 0 1 10 3 6 6 7 6 6-7 9-1 4-5zM1425 845l-11 0-5-9-10-3-3 7-7 3-4 7 0 3 5 5 5 6 8-5 10-4 9-5 1-1zM1144 621l0-8 1-10-6-7-4-6-4-6-10 4 0 13-11 7 2 5-1 6 6 6 13 0 8 2zM1335 480l4-11 1-10-9-1-9 0-8 0 2 7-6 9-3 7 6 8 5 7 8 3 8-3 6-2zM1069 966l-2-4-4 3-6 9-1 8 5 4 7 2 3-1 1-1-10-4 4-10 10 2 0-6zM970 1079l-4-1-6 2 0 2 9 0 2 0zM288 337l-7-2-9 5-6 4 1 7-1 11 7 6 9-1 5-4 4-7 2-9-2-4-1-5zM354 483l-1 7 9 0 3 7 9 3 1-1 1-8 1-11-9 1-13-6zM717 786l-4 3-1 10-11 7-4 12 12 0 5 8 12 0 4-2 4-4-7-9-4-10-3-14zM174 321l-4-3-1-4 2 8 1 0zM1246 1093l-6 4 7 2 4 1 4-1 4-4-6-3-2-11-2 1zM1500 505l-7-11-7-9-3 2-5 0-2 7-5 9-8 6 2 8 11 6 2 10 12-3 10 3 1-8 6-7 3-6zM1014 1037l-2 7 2 4 8-1 6-1 2-3 0-5-1-2-1-4-5-1-4 1zM1059 999l3 4 4-1-2-8 4-6-7-2-5-4-3 2 1 4-1 7zM1414 524l-1 8 7 3 12 3 5 8 8-9 3-16 3-10-7-7-9-2-7 6-8 6-7 5zM324 351l-6 0-4 2-4 1-2 9-2 4 1 9 2 2 8-3 8 0 4-6 3-3-2-4 0-5zM1287 1117l-4-4-3 4 2 1 6 0zM1556 480l6 8 2 9 5 6 11 2 8 1 2-10 2-3 0-1-13-4-9-1-9-2-3-6zM1055 1190l6 0 2-4 0-4-8-2-5-6-2 3 1 5 0 5zM340 351l6-5-1-3 0-3-3-7-7-2-8 3-7-1 2 9-4 9 6 0 6 6zM990 1068l-5-5 0-11-4 2-2-1-3 1 1 5-5 7 7-1 9 5zM711 777l1-9-2-7-12 2-10-3-1 6-2 9-6 5 1 5 11 4 10-7 12 7 4-3zM381 388l-2-6-8 1-10 0-6 5 9 10 2 9 7-4 6-6 6-2zM353 529l1-8 8-5-10-1-7-9-3 12-7 5 7 4 5 7zM298 316l4 10 6-1 5 2 3-11 4-6-3-7-6-7 0-1-9 5-7 5zM1444 635l-1 8 3 8 13-2 9 4 10 0 4-1 3-4 0-4 2-1-2-7-2-7-9-2-12 0-12-1zM952 1070l-5 3-1 2 4 8 9-1 1 0 0-2-2-4-2-5zM242 715l0-10-6 3-6 3-1 10 5 8 8 0 10-6zM1180 1107l5 7 1 6 3-1 3 0 4-3 2-3 0-3-1-3-6-2-3-3-4 0-2 3zM185 739l-10-2-2 2 2 3 10 0 5 0zM294 737l-2-8-9 4-5 4 1 7-3 6 6 3 3-3 8-4 7-4 1 0z"/><path fill="#692774" stroke="#fff" stroke-opacity="0.85" d="M1589 619l-7 1-4 10-5 7-7 8 9 5 8 7 10 0 2-8 2-8 4-8 3-8-2-2-4-6zM1505 463l-3 0-9 5 1 11-8 6 7 9 7 11 10 7 6-6 11 2 0-9 6-10-12-7-5-8-9-12zM637 943l7-4 6-2-4-11-11 5-9 7 0 11 3 0 4 2zM723 801l4 10 7 9 12 1 10 0 5-5 0-5-6-11-4-8-7-13-5 6-8 3-11-1zM174 307l1-10 3-7-6-8-11-1-7 2-1 1 3 4 3 9 6 6 3 9 1 2zM368 308l6-8-4-10-9-7-8-6-10 3 0 3-3 4 2 8-3 5 4 9 9 5 8 0zM1046 294l-11-7-9-2-5 2-3 3-4 12 3 9-6 11 7 4 4 6 10 3 7-1 10-5 5-9 0-9 0-8zM1088 993l2-2-6-1zM801 562l-10 5-3 7-4 5 0 5 11 6 11 7 8 6 7-10 8-1-3-11-1-6 0-12-6-5-11 1zM257 387l6 5 1 1 6-8 5-6 10-6-2-2-1-4-9 1-7-6-10 1-5 6 0 6 0 5zM1184 899l2 1 4-5 5-1 3-8 2-9-4-4 0-5-6-3-5-2-4 6-10 1-6 10 3 7 5 6 6 6zM1302 554l6 4 9-5 3-5 10-1 0-11 5-8-7-3-7-7-11-2-4 2-5 1 2 8 2 13-5 8zM1109 1178l4-2 6-2 1-9 3-6-2-1-2-2-3 0-3 1-2 3-4 7 1 9zM1197 960l-1 2 0 1 2-2 0-1zM1391 635l7 7 10 0 7-7 3-6 1-9 0-9-4-5-2-8-9 0-11 3-7 7-2 8-5 5 3 6 0 9 2 1zM1124 995l-9 2 2 2 6 5 10 3 2-2 3-3-3-9-4-5-2 2zM1298 1110l3 2 3-6-3-8-3 4-5 3zM1303 806l10 4 4-5 12 1 6-4-7-4-2-10-5-7-7 6-11 1-1 5-2 5zM1570 575l-5-10-7 0-10 1-7 6-2 9-2 11-5 10 7 0 3 4 9-1 11-2 3-9 7-9 5-10zM1440 470l1 9-10 6 4 7 0 10 9 2 7 7 7-1 5-1 8-6 5-9 2-7-9-11-12 0-4-7-3 1-1-5zM329 406l-7-3-3 1-5-2-1 8-5 7-4 7 10-1 9 5 6-5 6-10zM1597 511l3 13 4-3 4 0 6-3 0-1-9-3-8-4-4-9-1-8-2 3-2 10zM1196 962l-7 3-6 2-9-2 2 3-1 6 5 5 7-5 6-6 3-5zM1338 410l5 2 1-1 1-6-1 0-7 5zM224 239l1-11-3-9-9 4-9 4-12 4-1 6-3 4 8 2 6 7 7 3 4-5 8-1zM1118 1007l-2 11 7-1 8 1 3-6-1-5-10-3-6-5zM186 357l7-1 3-3 1-3-1-8-2-7 0-10-10-3-10-1-2 1 6 8-7 6 3 6 2 12 1 3zM1097 1022l1 4 1 5 3 3 4 2 4 0 5-2 1-1-2-7 1-8-5 1-6-2-5 2zM278 287l3 9 0 8 7-1 7 2 7-5 9-5-7-5 0-11-2-9-7 6-10 5-11-1zM1224 832l-7-3-3 7-7 2 0 8 3 6 8-2 7 2 9 5 3-1 2-3 2-8-5-10zM1126 808l7 2 10-3 3-3-16-4-6 1zM1225 929l-1-9-1-7-13 3-7 13-10 3 3 9 6 4 6-1 2 1 5-7 9-3 5-2zM352 351l-6-5-6 5-10 6 0 5 2 4 9 1 9 8 5-7 7-10zM331 713l0 3 4 5 3 8 8-2 4 3 5-3 1-3-4-7-5-7-2-6-1 0-5 2-5 3zM706 940l9-1 11 3 2-6 2-6-2-3 0-3-8-2-4-4 0 2-5 16-8 5zM251 375l0-6-3-6-9-3-5-1-5 1-3 10-6 9 1 2 8 8 10 0 4-5 8-4zM280 706l0 3 9 3 4 9 5-3 8-3 2-4 0-6-5-6-7-3-5 6-9 0zM179 388l7-4 7-4 4-5-1-4 1-8-4-7-7 1-9 0 3 9-1 12-1 9zM1088 993l-1 3 3 2 2 2 9 3 6-2 3-3 4-2-4-3-14-1-6-1zM1167 946l6 6-3 9 4 4 9 2 6-2 7-3 1-2 3-4 1-3 1-8-6-4-3-9-2 0-6 0-8 6-9 0zM626 949l0-11-1 0-1 9 0 2zM1119 976l-5 2-2 6 13-4-1-1zM1114 996l1 1 9-2 5-5-9 4-10-1zM366 407l-2-9-9-10-3-1-5 9-3 12-7 5 2 2 4 2 9-4 5 2 8-6zM207 713l-6-7-9 8-8 0 10 4 3 10 9 7 3-5 4-4 0-4zM1053 1027l6 4 1 0 1-2 4-1 2-3 0-5-4-2-2-4-4 4-5 4zM1252 1113l2-1-3-5 0-7-4-1-7-2-5 7 1 7 7 5 7 0zM226 370l3-10-5-4-4-5-6 0-10 3-7-4-1 3-3 3 4 7-1 8 9 2 6 3 9 3zM1002 1079l0 5 3 3 1 5 3-9 10-5-1-3-2-2-2-2-5 1-5 1zM337 696l7 8 1 0 6-2 7-4-4-7 4-9-8-1-3-5-7 2-2 6zM649 970l12 7 8 3 7-7 4-11-10-11-11-1-7-13-2 1 0-1-6 2-7 4-4 8 4 7 2 13zM184 714l-2 6-6 9-1 8 10 2 5 3 10 0 5-2 0-2 1-3-9-7-3-10zM1257 877l-3-13-2-8-7 0-6-3-2 3-3 1-5 7 4 7-6 7 5 3 1 7 12 4 10-13 9 4zM655 769l1-12 10-10 7-7 0-5-2-2-11 0-13 2-4-1 7 8 11 7-7 7-8 4 4 9zM779 499l-10-4-11-1-2 1 4 9-7 12 1 9 4 6 5 4 3 0 4 0 4-7 7-6 10-4-3-9 0-7zM630 997l1 10 5 7 9 3 12-6 2-12 13-4 0-8-3-7-8-3-12-7-10 1-3 4-5 4-1 7-3 6zM1305 540l-2-13-2-8-5-2-6-3-5 7-12 1-6 3 4 8-1 8 6 6 8 0 6 4 10-3zM1048 983l5 1 3-2 1-8 6-9-6-4-8 0-9 0 3 10 0 11zM1032 1180l6-3 10 0 2-3 1-4-3-4-2-3-2 1-8 10-4 5zM1283 1113l0-1-8 0-7-7-1 4-4 2 5 4 0 5 6-3 6 0zM598 1030l-1-3 3-4 0-1-4 2-7 5-3 2zM318 329l-5-2-5-2-6 1-9 6-3 6 1 5 2 4 7 3 10 4 4-1 4-2 4-9-2-9zM1330 536l0 11 6 4 12 5 5 10 6-11 5-7 11-6 0-2-11-5-15-8-11-1-3 2zM225 727l-12-1-4 4-3 5-1 3 0 2 5-3 11-3 8 5 3 3 1-1 0-6-1-4zM1185 1121l2 7-3 6 1 2 1 1 2-2 8-6 2-1-3-2-3-7-3 0-3 1zM240 253l5-2 0-9 5-9-8-6-5-5-5-7-4 2-5 1-1 1 3 9-1 11-3 8 7 3 6 5zM1246 1121l3 3 4-2-2-6zM300 398l12 2-3-9 0-13-2-2-7-2-12 2 3 6 2 11-4 6 1 1zM1485 610l2 7 10-3 14-4 11-1 4-2 1-4-13-5-8-15-8-9-3 2-4 0-7 8 5 16-7 7zM1003 1093l3-1-1-5-3-3-7-4-6 3 1 6 10 3 3 2zM319 446l-10 1-1 4-2 6 5 7 7 4 5 5 2-7 2-11 8-8-5-1-4-4zM319 684l-3 6 2 6 5 7 11 6 5-3 5-2-7-8 1-12-8-4-7 1zM363 452l-4 8 7 1 8 3 10-1 4-5 0-3 0-5-3-6-10-2-8-1zM355 475l13 6 9-1 3-5 5-1 0-6-1-5-10 1-8-3-7-1-3 3-3 5 1 4zM377 418l-6 2-1 8-7 6 2 3 2 4 8 1 10 2 3-6 4-3-3-7-4-7zM1281 1083l3 4 3-1 3 0 5-3 3-5 1-5-3-5-1-1-3 0-4 1 0 1-2 0-3 1-1 2-2 5zM350 730l-4-3-8 2-2 3-1 2 7 0 9-2zM229 721l1-10-3-1-7 3-7 9 0 4 12 1 7 4 2-2zM262 763l2-8-6-4-5-5-6 0-6 3 2 1 7 6 5 10 7-2zM1041 1079l-7 1-7 7 1 3-1 3 7 4 5 5 3-4 6-4-5-6 1-6zM1035 1040l-5-2 0 5-2 3 3 4 1 3 3 1 4 1 1-1 2-8 0-6zM196 284l-8 6-10 0-3 7-1 10-5 7 1 4 4 3 10 1 10 3 2-1 7-7-2-14 5-6-1-5-4-6zM1146 1050l-4 1-4 2-2 3-1 4 3 6 8-2 8 4 3-3-1-6-1-3-1-3-2-1zM333 294l-15-2-7 4 6 7 3 7 9 5 10-3 2-1 2-2-4-9 3-5-2-8zM1285 1109l-2 3 0 1 4 4 1 1 3 0 8-1 2-5-3-2-5-5-3 1-2 0zM1115 1182l2-1 4-6-2-1-6 2-4 2-1 2zM1264 1076l-2 11 7 7 6 0 8-4 1-3-3-4-1-6-7-3-7 1zM229 325l-2 3 0 8-2 8-5 7 4 5 5 4 5-1 5 1 8-10-4-11 8-8 0-1-9-7-10 1zM1145 1015l0 8 7 2 4 0 2-1-2-3-7-11 0-2zM1126 1051l-1-5-2 0-3-1-3 5-5 2 0 2 1 4 6 4 5-5 6-3zM329 382l-4-7-8 0-8 3 0 13 3 9 2 2 5 2 3-1 8-8 2-8zM1135 993l3 9 2 0 3-7 0-1-1-2-4-9-2 1-4 4-1 0zM1144 1006l-4-4-2 0-3 3-2 2 1 5-3 6 2 2 1 3 4 2 4 0 3-2 0-8 4-7 0-1zM1019 1078l4 3 4 6 7-7 7-1-2-3 0-5-5-3-6 1-3 5-7 1zM1031 1018l9 0 4-6 1-2-1-4-1 2-8 6-4 3zM1116 1018l2-11-1-8-2-2-1-1-4 2-3 3 0 8-3 8 6 2 5-1zM224 688l2-8 0-1-5-7-11-6-5 7-8 1-4 6 0 2 10 6 3 9 5 0 4-2zM1047 1193l2-6 0-5-1-5-10 0-6 3-2 4 2 1 7 4 7 5zM961 1064l5 1 5 1 1 0 5-7-1-5-5 2-8 6-3 2zM594 1087l-10-6-2 4-3 1 3 2 11 3 5 1zM1195 1088l3-1 0-3 2-2-5-3-2-5-5 2-8-5 0 7 0 8 5 5 6 0zM1022 1047l-8 1 0 5-2 2 2 2 8-1 4 3 4-1 2-5-1-3-3-4zM1288 1096l-5-6-8 4-6 0-2 2-1 6 2 3 7 7 8 0 2-3 3-3zM1252 1072l1 6 7-2 4 0 2-1-2-6-2 0-11 2zM989 1083l6-3 7 4 0-5 2-6-5-4-4-2-2 1-3 0-2 2-1 4-1 6zM1024 1095l3-2 1-3-1-3-4-6-4-3-10 5-3 9 8 3 7 2zM229 389l-8-8-5 4-1 10 7 5 7 4 3-4 5-1 2-6 0-4zM958 1076l2 4 6-2 4 1 2-7-1-6-5-1-5-1-2 4-3 3zM188 290l8-6-7-13-2-10-9-9-9 2-4 5-6 12 2 10 11 1 6 8zM352 314l-9-5-2 2-2 1 2 9-6 10 7 2 3 7 4-7 9 0 4-9 0-5-2-5zM314 423l-10 1-3 2-3 3 6 6 5 12 10-1 7-4 1-7-4-7zM1169 977l6-3 1-6-2-3-4-4-9 4-7 4 0 2-1 3 3 0 9 6 2 1zM659 950l11 1 10 11 1 0 4-5 5-9 2-4-6 1-11-6-11-5-12 3zM1105 1057l-4 2-3 4 1 3 4 4 3 3 7 0 5-4 1-3 0-4-6-4-1-4zM1246 1121l5-5-1 0-7 0-7-5-1 2-1 0 8 5zM308 417l5-7 1-8-2-2-12-2-10 2-3 9 2 9 3 8 3 2 3 1 3-3 3-2zM1185 1136l-1-2-4-1-6 1-5 3-1 4 7 2 2 4 4-4 5-6zM1133 969l-5 3-4 7 1 1 1 0 6 8 4-4 2-1 0-1-6-8 3 0zM1041 1061l1 5 7-3 7 1-1-5-2-7-7 4-6-2-1 1zM1171 1048l-5-3-7 5-5 3 1 3 1 3 5-1 6 1 3-4 2-4zM1270 886l-3-2-3-1-9-4-10 13-12-4-1 9-3 8 6 3 6 5 8-1 4-8 13-7 4-8zM1233 871l-4-7 5-7-9-5-7-2-8 2-9 4-5 12 0 5 4 4 7 4 10 1 10-4zM1242 1079l7 3 2-1 2-3-1-6-1-1-2 0-7 7z"/><path fill="#6f2f85" stroke="#fff" stroke-opacity="0.85" d="M1232 897l1-9-1-7-5-3-10 4-10-1-7-4-2 9-3 8 11 0 9 13 9 1 3-1 2-2zM791 463l3-1 3-6 0-10-4-6-8-5-7-2-4 6-10 1-5 7 0 5 7 5 6 9 9 2 7-2zM255 279l10-2 1-7-3-4-5-4-7-4-6-7-5 2-6 2-2 7-2 10 9 3 0 9 8 3zM1048 113l-8 1-4 6-7 3 0 3 1 3 9 8 7 14 8 8 10-4 8-10 13-6-1-4 1-3-7-3-5-7-11-10-5-1zM1132 1027l-2 4 1 3 0 5 5 1 4 2 1-3 4-3 1-5-4-6-4 0-4-2zM247 287l-8-3 0-9-9-3-13 5-8 0-5 2-3 7 4 6 1 5 8 4 6 0 7 3 6-3 5-8 8-2zM296 240l5-7-5-7-10-7-5 3-9 0-3 5-3 4 2 10 7 5 11-1 8 2zM1531 514l10 9 7 2 5-12 11-3 5-7-5-6-2-9-6-8-3-1-5 5-6 2-9 3-6 10 0 9zM1132 1055l-2-1-6 3-5 5 0 4-1 3 4 5 4 2 5 1 1-6 6-5-3-6 1-4zM1056 1200l5 2 2-2 2-2-3-3-1-5-6 0-6-3-2 6-1 1 4 2zM1306 564l1 4 10 2 7 14 9 0 7-4 12 0 0-7 1-7-5-10-12-5-6-4-10 1-3 5-9 5zM201 303l2 14-7 7 10 3 8 4 13-3 2-3 3-1 2-10-7-10-7-3-6 0-8-4zM220 713l7-3-6-8-6-7-4 2-5 0-2 5-3 4 6 7 6 9zM1148 775l3 11 7 0 4 0 7-5-1-7 6-8 2-8-13 0-7-7-6 4-5 8-4 7zM150 250l6 11 9-2 4-5 9-2 3-3 0-3-12-10-10-3-9-11-7 4-2 5-1 10 2 10zM1073 1028l-8 0-4 1-1 2 6 7-1 8 4 1 4-1 2-6 4-3-1-4zM636 975l3-4-2-13-4-7-4-2-3 0-2 0 1 7 4 9 3 9-1 5zM576 1061l6 8 3 11 7-5 7 0 7-6 4-11-3-14-6-10-3-4-12 1-4 3 8 14-8 8-9 2zM1553 532l-4-2-8 12-11 2-10 9 8 7 7 7 6 5 7-6 10-1-4-10 5-11-3-8zM1019 1032l4-1 5 1 0-4 3-4 1-4-1-2 0-1-3 2-8 6-3 4zM212 270l-2-7-1-10-7-3-6-7-8-2-4 1-3 4 0 3-3 3 9 9 2 10 7 13 5 2 3-7 5-2zM1268 396l0-4-8-1-9 1-8 4 0 1 1 5-6 10 9 5 7 2 8-3 7-8 5-6zM1084 990l-8-2-4-2-1 1-3 1-4 6 2 8 3 1 8-3 8-2 2-2 1-3zM1175 904l-9 1-6 7-3 6 1 10 3 7 4 0 3 3 9 0 8-6 6 0-2-10-3-9 0-13-2-1-5 0zM1180 979l-5-5-6 3-2 4 7 3zM1161 1058l-5 1 1 6-3 3 0 1 6 3 5 3 7-1 3-4-4-6-4-5zM204 702l2-5-3-9-10-6-8 1-7 9 3 7-1 12 2 1 2 2 8 0 9-8zM342 440l-5 7 7 2 6 10 6 4 3-3 4-8 4-11-2-4-2-3-7-4-7 2zM159 271l6-12-9 2-6-11-8 1 0 3 4 16 4 10 3 4 1-1 7-2zM194 325l0 10 2 7 1 8 7 4 10-3 6 0 5-7 2-8 0-8-13 3-8-4-10-3zM1142 1045l0 6 4-1 6 2 3-7-2-6-4-2-4-1-4 3-1 3zM1344 411l8 1 13 2 8 4 4-13 11-4 1-11-3 0-8 4-6 6-10 0-9 3-8 2zM582 1085l2-4 1-1-3-11-6-8-3-3-3 1-12 3 4 9 6 9 11 6zM1115 1034l0 5 5 6 3 1 2 0 4-3 2-4 0-5-1-3-7-2-7 4zM238 293l-5 8-6 3 7 10-2 10 10-1 9 7 5-6 4-6-8-10-3-6-3-11zM353 468l3-5-6-4-6-10-7-2-2 0-8 8-2 11-2 7 0 2 11-4 12 5 8-4zM1338 526l2-8 4-10 3-6-4-3-3-5-6 2-8 3-8-3-1 7-5 7-2 6 11 2 7 7 7 3zM1179 1045l-2 6 4 5 1 6 5-4-2-2zM366 723l-5-1-5 2-1 3-5 3 1 2 10-3 8-1zM989 1083l-3-3-3 3-2 1 7 4 2 1zM1225 1105l-7-4-2-1-1 1-2 6-3 10 1 2 1 0 2-2 7-6 6-4zM351 702l-6 2 2 6 5 7 4 7 5-2 5 1 8-2 3-8-4-4-1-6-7-4-7-1zM1608 521l6-1 0-2zM1208 944l-6 1-1 8 8-7 1-1zM1349 527l15 8 11 5-1-10-3-10 5-10-4-6-6-4-9 3-10-1-3 6-4 10-2 8zM1232 1089l3 5 3 1 2 2 6-4 3-11-7-3-7 6-4 2zM1136 1040l-5-1-2 4-4 3 1 5 4 3 2 1 4 1 2-3 4-2 0-6-2-3zM1516 506l-6 6-3 6-6 7-1 8 1 6 8 6 2 8 5-1 4 1 10-9 11-2 8-12-1-5-7-2-10-9-4-6zM1090 1046l0-6-5-1-6-2-4 3-2 6 2 6 9 3 4-5 5-1zM825 755l-2 10-2 6 10 6 0 8 8 6 6-10 5-10 7-11-1-5-2-3-8-2-9-1-8 0zM1259 1113l4-2 4-2 1-4-2-3 1-6-4 1-4-2-4 4-4 1 0 7 3 5zM1175 1051l-3 0-2 4-3 4 4 5 4 6 4 0 1-5 2-3-1-6-4-5zM1065 1046l-4 1-6 2-2 3 2 7 1 5 4 3 3 0 3-1 6-10-3-9zM1186 913l3 9 2 10 2 0 10-3 7-13 13-3 1-5-9-1-9-13-11 0-5 1-4 5zM1211 1119l-1-2-7-3-5-1-2 3-4 3 3 7 3 2 8-3 5-5zM1225 1105l2 2 1-1 6 7 1 0 1-2-1-7 5-7-2-2-3-1-9 0-8 7zM265 212l-6-8-2-13-7-1-9 7-3 8-6 10 5 7 5 5 8 6 6-4 10 2 3-4 3-5zM1054 1035l-7 3 3 6 5 5 6-2 4-1 1-8-6-7-1 0zM1143 995l-3 7 4 4 5 1-2-7-4-6zM1389 435l-3 2-1 1-4 11 11 10-3 14 7 1 8 6 3-1 2-1 7-10 0-8 0-10-4-7-10-3-9-4zM1123 1029l7 2 2-4 2-4-1-3-2-2-8-1-7 1-1 0-1 8 2 7zM1253 1092l6 3 4 2 4-1 2-2-7-7 2-11-4 0-7 2-2 3zM1032 1020l-1 4 8 1 4 3 5-4 3-3-6-4-1-5-4 6-9 0zM1253 1122l4-2 9 1 2-1 0-5-5-4-4 2-5-1-2 1-2 3 1 0zM217 277l13-5 2-10 2-7-6-5-7-3-8 1-4 5 1 10 2 7-3 7zM1149 1037l4 2 1-2 3-1-2-6 1-5-4 0-7-2-3 2 4 6-1 5zM1021 1097l-7-2-8-3-3 1 0 1 7 5 9 3zM381 581l4 3 3-5 8-1-1-9-4-6-8 2-5-2 1 8-2 8zM1052 1022l5-4 4-4-1-3 0-5-9 2-6 2-1 2 1 5 6 4zM1126 1166l-1-7-2 0-3 6-1 9 2 1 2-2 3-6z"/><path fill="#74409d" stroke="#fff" stroke-opacity="0.6" d="M289 712l-9-3-6 4-5 0-4 6-4 6 9 2 8 10 5-4 9-4 1-4 0-4zM1318 423l-8 15-2 14 4 2 2 4 8 0 9 0 9 1 3-2-3-15 4-13-1-17-5-2-1 0-2 1-9 6-8-4zM397 325l5 3 5-5 10-3 4-5 0-6-4-9-10 1-12-4-11 5 4 6-3 9 5 7zM382 328l-6 7-3 9 3 11 10 1 10-8 8-1-2-11 0-8-5-3-7-1zM1402 440l10 3 4 7 6-4 9 3 7-4-2-3-9-4-9-3-3-8-2-8 0-3-3 3-13 9-4 8zM197 193l6 13 11 6 9 6 5-1 4-2 6-10 3-8-4-9-7-7-1 1-9 0-8 2-9 0-6 7zM1285 838l-2 7 8 5 2 12 3 0 3 1 10-6 8-5 5-8 0-5-2-8-11-5-8 2-11 1zM285 281l10-5 7-6 0-1 1-7-4-7-5-8-8-2-11 1-6 4 0 13-6 3 3 4-1 7 4 0 5 3zM1289 910l-11-5-4-8-4-8-4 8-13 7-4 8 2 6 0-1 11-2 10-1 6 7 4 5 1-1 1-2 2-9 1 0zM395 297l12 4 10-1 1-4-2-7-5-7-8-3-11-3-1 9-7 5-2 10 2 2zM1200 1094l5 4 5 2 5 1 1-1 0-7 1-1-6-5-5 0-6-5-2 2 0 3zM402 336l2 11 3 3 4 2 6-4 7 1 2-7 2-8 5-6-1-3-3-5-4-1-4-4-4 5-10 3-5 5zM1358 768l-6 3 4 10-6 7 0 9 8 7 10 1 2-8 4-9 8-9-8-4-7-4-4-7zM1039 334l-7 1-10-3-6 10 4 11-4 8 10 3 11-5 13 6 1-12 2-11-1-8-1-3-2-2zM143 226l7-4-1-3 1-2-2 1-9 2 2 11zM187 221l-3-7-2 4-9 0-8-3-9-1-6 3-1 2 1 3 9 11 10 3 12 10 3-4 4-1 3-4 1-6zM444 419l3-7-5-7-1-7 1-8-4-2-10 2-4 7 3 13-6 7 7 4 9 4zM1065 940l4 7 9-3 6 0 9-1 3-8-5-11-3-3-4-1-6 4-10 0-4 4-3 8zM1306 1088l4-3 9-6 0-2-2-2-2 0-2-2-2 4-6 3zM1249 912l-8 1-6-5-6-3-2 2-3 1-1 5 1 7 1 9 4 4 4-1 10-6 8-8zM584 1081l10 6 4 5 6 1 7-13 11 8 9-6 3-1 0-3-3-6-9-3-10 1-6-1-7 6-7 0-7 5zM433 253l6-3-7-9 1-12-9 3-6-5-10 3-3 7-7 8 0 4 8 6 5 4 10 3 5-3 6 0zM539 525l7 8 9 13 8-8 6-2 11-1 3-5 2-3-6-7-4-8-10-3-9-2-7-3-6 3-4 1zM343 283l0-3-1-8-2-7-5-6-10 8-15-6-8 8 0 1 2 9 0 11 7 5 0 1 7-4 15 2 7-7zM400 394l8-6 0-6 0-8-9-3-10 4-7-5-3 5 0 7 2 6 4 7 4 4 5 2zM413 276l8-7 0-7-10-3-5-4-8-6-8 4-3 11 4 5 1 7 11 3 8 3zM1556 480l2-1-4-8-1 0 0 8zM1416 460l0 8-7 10 6 4 10-1 6 4 10-6-1-9 9-5-2-9-6-6-3-5-7 4-9-3-6 4zM685 510l4-7 8-5-3-11 2-6 2-9-6-7-10 1-6-8-1 0-5 6-5 8-2 8-2 14 5 10 7 6 9 1zM1565 534l12 1 12 2 3-3 6-2 0-5 2-3-3-13-9-5-8-1-11-2-5 7-11 3-5 12 1 5 4 2 3 4zM724 857l15-2 12-3 16-2 0-1 1-9-10-10-2-9-10 0-12-1-4 4-4 2 1 11-2 7-4 9zM1226 1094l9 0-3-5-1-2-5 2-9 3-1 1 0 7 2 1zM1048 1024l-5 4 1 5 2 5 1 0 7-3 5-4-6-4-1-5-1-1zM395 403l9 3 7 6 4 7 3-2 3 0 6-7-3-13-9-5-7-4-8 6-6 7zM1066 954l1 8 2 4 7 2 8-1 7 1 3-9 10-5-6-4-5-7-9 1-6 0-9 3zM553 632l-5 5-4 7 3 13 9-1 7 6 9-5 3-9 7-5-7-5-11-7-9-3zM1380 430l-2-8-5-4-8-4-13-2-8-1-1 1 1 17-4 13 3 15 5 0 13-8 11-9 13-2 1-1zM1089 649l7-2 3-6 0-11-9-5-10-2-6-7-6 8-8 5 5 10-2 11 8 3 9 0 6-1zM554 556l0 7 9 3 8 0 10 5 4-3 3-4-8-8-2-9 2-12-11 1-6 2-8 8 0 1zM1283 925l-1 1 1 2 1-5zM389 399l-4-4-6 2-6 6-7 4-1 2 6 5 0 6 6-2 8 3 3-13 7-5-1-2zM1203 690l9-2 8-5 2-2 0-3-3-9-13-7-8-4-8 2-8 9 2 8 10 2 2 9zM379 301l3-1 2-10 7-5 1-9-1-7-4-5-6 3-5-3-5 6-3 7-7 6 9 7 4 10zM268 241l-2-10-10-2-6 4-5 9 0 9 6 7 7 4 5 4 6-3 0-13 6-4zM1050 378l-1 8-5 11 5 1 3 3 8-6 13-1 8-3 2-8-3-5-1-9-10 0-7-3-11 0zM1104 1017l3-8 0-8-6 2-9-3 5 7 0 10 2 2zM1172 714l-3 10 7 5 11 6 1-1 3-2 0-7-2-8 6-8-2-4-3-2-8-3-8-1-6 3zM1354 861l-4-2-6 2-7-2-3 9-8 9 5 6 9 3 2 6 6-8 6-11 3-8z"/><path fill="#7b4fb1" stroke="#fff" stroke-opacity="0.6" d="M1129 769l12 1 4-7 5-8 6-4-2-7-6-8-3-2-3 0-6 5-8 9-6 6-2 8 1 5zM1296 1068l3 5-1 5 4 1 3 1 6-3 2-4-1-2-9-4-6 0zM1154 744l2 7 7 7 13 0 4-2 4-2-2-8 5-11-11-6-7-5-8 4-9 3-4 5zM381 267l6-3 3-11 8-4 0-4-8-5-6-9-11-1-4 8 0 6-7 6 12 6 2 8zM1048 700l9-3 7 2 5-3 1-8-8-6 0-9-6-4-8 2-6 5-7 3 2 8 3 6-2 9zM727 519l-2-12-1-7-8 2-8-3-11-1-8 5-4 7 10 7 15 5 9 15 2-6 7-4zM1380 574l11 1 4-12-4-8-2-8-8-5-6 0-11 6-5 7-6 11-1 7 0 7 3 3 3 3 8-3 10 2zM1309 886l-2 7-1 7 2-1 9-3 9-4 6 7 2 1 1-3 7-3 0-2-2-6-9-3-5-6-9 3-6-2zM670 703l5 5 11 2 7-4 8-5 3-11-5-9 4-12-2-4-3-2-7-2-9 4-8 1 2 12-13 9 3 11zM701 782l-10 7-11-4-5 8-2 9-3 7 5 7 10 1 4 5 4-1 4-3 4-12 11-7 1-10zM925 269l-15 7-6 10 2 4 2 7 12 2 7 7 6-5 11-2 5-7-9-10-7-9-1-10zM353 277l8 6 7-6 3-7 5-6-2-8-12-6-8-3-8 7-9 0-2 3 0 2 5 6 2 7 1 8zM1152 1075l2-6 0-1-8-4-8 2-6 5-1 6 5 5 6 0 2-3 4 0zM1381 542l8 5 5-8 9-6 10-1 1-8-1-5-9-8-6-7-6 2-8 5-8-1-5 10 3 10 1 10 0 2zM1260 666l-2 9-2 12 0 5 4 5 8-2 8 2 5-10 7-7-1-8-3-7-7-7-6-3-1 0zM673 510l-7-6-6-1-6 3-7 4-3 7-8 7 0 4 6 7 6 4 3 9 9 0 5-6 11-1 0-9 8-11-2-10zM1132 714l2 6 1 7 7 7 3 0 3 2 4-5 9-3 8-4 3-10-4-12-3-1-2-3-10 5-9 0-9 5zM1253 815l8-3 11-2 11 5-1-7 6-6-7-3-5-5-3-8-4 9-9 7-7 7-1 5zM686 545l-10-4-11 1-5 6-9 0-1 6-2 5 7 6 0 11 7-2 9 7 9-3 3-11 7-3 1-5-1-3zM869 370l5 6 11-7 9-2 7-10 1-3-1-5-11-8-10-4-16 3-3 7 4 8-5 7zM1143 807l1 4 5 1 13 2 9 2 12-3 2-5 4-3-1-3-8 6-24-2-10-2zM1239 707l-6-10-11-4-7 7-3 10 5 7 1 7 5 8 2 1 2 0 3-2 3-10 9-2 4-9zM731 788l8-3 5-6 2-6 7-6-3-9-4-10-7-1-4-2-7 6-10-2-5 5-2 4-1 3 2 7-1 9 6 9 3 1zM1243 776l3-7-6-7-8-8-10-1-6 6-11 6 4 10 5 6 8 7 10-5 8 0zM1131 866l11 5 9-1 4-7 5-9-2-11-2-4-6-2-6 7-7 2-8 0-3 5 0 7zM395 569l1 9 5 0 6 3 5-4 0-9 6-7-8-4-11-4-3 6-5 4zM673 802l2-9 5-8-1-5-7-7-7-4-10 0-5 0 4 9-6 7-5 6 1 1 6 11 13 7 4-1 3 0zM582 578l2 9-1 8 2 2 2 4 11-4 10-13 8-6 0-4-1-7-2-3-10 3-6 0-9-3-3 4-4 3zM1006 742l-11 2-7 7-1 9-7 7 1 9 2 2 9-2 14-4 13-2 3-9-1-12-3-3-4-6zM1372 440l-11 9-13 8 13 4 6 9 6 9 9-3 7-3 3-14-11-10 4-11zM588 602l3 7 4 3 7 0 11 6 7 0 1-9 6-7 6-7-8-3-5-9-4-5-8 6-10 13-11 4zM1184 598l8-1 3-8-2-6 5-8-10-1-7-5-7-5-6 3-5 3 0 11 7 9 0 8 4 5 4 1zM436 671l7 4 1 1 10-6 8 1-5-8-7-8 0-8-5-1-6 6-8 8-6 5zM1268 396l6 6 3 1 3-4-2-9-9 3-1-1zM1263 524l-8 10-11 3-10 11 0 3 3 3 12-1 7 2 11 4 6-5 3-7-6-6 1-8-4-8zM421 309l0 6 4 4 4 1 4-9 9-4 9-4 0-7 0-9-4 0-5-3-8 3-8 9-8 0-1 4zM1098 950l6 4 5 0 3-2 5-1 3-8 4-11 2-7 0-4-2-3-8-5-6 2-10 3-9 6 5 11-3 8zM388 408l-3 13 4 7 3 7 7 2 7-5 4-8 5-5-4-7-7-6-9-3zM196 200l1-7 0-2 0 1-4 9-2 3zM1296 774l1 10 6 4 11-1 7-6-2-12 7-9-3-2 0-3-14 0-7 10-12-3-1 4zM1258 754l-9 6 0 8 9 3 6 1 8 7 8-6 9-7 1-4-7-6-7-9 0-9-2 0-7 2-8 6zM371 327l-9-3-4 9-9 0-4 7 0 3 1 3 6 5 10 7 6-1 8-1 0-1-3-11 3-9zM1165 701l3 1 6-3 8 1 8 3 6-7 0-8-2-9-10-2-2-8-8-2-6 2-2 3-2 2-4 7 1 8 2 9zM828 636l4 1 8-3 4-7 0-8 2-9 4-11-12-2-9-5-8 1-7 10 1 7-2 10 7 6 5 8zM760 975l-6 11-6 1-9 6 6 4 1 7 1-4 9-7 5-9 4-5zM459 331l-5 4-2 6 3 10-1 6 3 3 3 2 8 1 8-3 0-8 3-9 6-6-6-3-10-2-5-4zM616 574l0 4 4 5 5 9 8 3 8 0 5-2 7-6 2-11 0-11-7-6-12 3-10 2-11 3zM1156 1025l-1 5 2 6 5 3 4 1 2-3-4-2-6-11zM1257 826l10 6 2 12 8 1 6 0 2-7 5-9-6-7-1-7-11-5-11 2-8 3zM469 307l11-5-2-3 1-4-8 0-4-9-8-2-3 2-5 1 0 9 0 7 10 4 4 10zM1072 333l-10 1-10 0 1 8-2 11-1 12 1 1 11 0 7 3 10 0 4-2 2-4 0-8 0-7-1-10zM1069 696l-5 3 7 6-1 10 5 4 11 0 8 0 6-6 5-7 1-12-2-3-8-3-6-5-9 0-6 3-5 2zM1357 503l9-3 4-8 1-6 2-7-6-9-6-9-13-4-5 0-3 2-1 10-4 11 5 14 3 5 4 3zM1193 705l2 4 10-2 7 3 3-10 7-7-3-6 1-4-8 5-9 2-7-2 0 8-6 7zM1404 511l9 8 7-5 8-6 7-6 0-10-4-7-6-4-10 1-6-4-2 1-3 1 1 8-3 8-4 8zM1354 873l-6 11-6 8 0 2 1 1 1-3 8-3 6-7 7-4 5 0-1-3-3-8-5-2-4 0zM832 466l-5 2-1 10-3 10 4 10 4 6 3 8 6-1 11-1 6-1 5-7 7-9-12-3-11-10-9-13zM819 362l-5-2-9-1-1 6-8 4 2 4-2 5 3 10 12 3 3 8 7-5 8-5 7-4 1-6-1-8-2-8-7-3zM1041 714l3 10 6 6 9 1 12-5 2-4 2-3-5-4 1-10-7-6-7-2-9 3-10 2-4 3-2 4zM336 234l3-12 7-4-9-4-3-12-11 3-9 3 2 6-7 8 2 8 6 4 8 7 8-1zM1346 613l12-5 0-10 0-12-3-3-3-3-12 0-7 4-1 15-11 2-2 14 8 0 7 4 7 2zM1012 112l6 8 11 3 7-3 4-6 0-1-6 1-12-1zM1305 872l6 6 6 2 9-3 8-9 3-9-10-6-5-9-5 8-8 5-10 6zM872 913l5 0 3-5 8-3-2-7 8-7-1-8-4-11-9-5-2-1-8 8-15 1-7 9-2 4 1 3 6 8 7 7 7 6zM1022 761l-3 9 2 4 3 2 12-4 7 6 10-3-2-9 1-12-3-3-5-4-8 3-7-4-8 3zM578 547l2 9 8 8 9 3 6 0 10-3 0-11-1-8-9-5-7-11-9-2-2 0-2 3-3 5zM1089 1160l-9 2-1 4 1 5 6 2 4 2 3-3 2-4 0-4zM1196 1070l-3 4 2 5 5 3 4-4-5-5-3-4zM1189 717l2 8 0 7 11 3 12 1 9-4-5-8-1-7-5-7-7-3-10 2zM1179 1045l-1-3-10-5-2 3 0 3 0 2 5 3 1 3 3 0 2 0zM1295 1083l-5 3 6 4 3 3 0-1 7-4-1-8-3-1-4-1zM1206 662l13 7 3 9 3-4 5-2 3-5 1-5-4-13-12-4-2-10-3-1-6 3-5 2 1 11-5 8zM257 737l-4 9 5 5 6 4 7-2 5-3 3-6-1-7-8-10-9-2-2 1zM1131 1077l-5-1-3 7-6 5 0 3 2 2 5 3 5 1 3-2 2-9zM1259 849l-7 7 2 8 3 13 7 6 3 1 3 2 8-11 7-8 8-5-2-12-8-5-6 0-8-1zM1256 555l-7-2-12 1-3 12-1 10 9-1 7 10 11 4 5-2 4-1 2-5 2-3 0-11-6-8zM438 368l-5 6 3 5 2 9 4 2 10-1 7-3 1-10 3-4-3-10-3-2-3-3-8 4-8 1zM1135 965l-2-5-8-7-8-2-5 1-3 2 0 9 5 8 0 7 5-2 5 3 4-7 5-3zM237 188l4 9 9-7 7 1 2-2 2-2 3-5 0-5-6-4-3 1-9 3-8 3-8 1zM469 332l10 2 6 3 5-2 4-1 2-4 2-3-4-6 1-9-8-1-7-9-11 5-4 10 0 7-1 4zM1082 1079l5 1-1-6 4-6-2-3-5-2-6 5-6 1 4 5 0 8zM1070 1114l1-3-2-4 0-4-4-2-7-1 0 6-4 6 7 1 5 4 2-1zM1241 652l-7 10-1 5-3 5 9 8 9 5 8 2 2-12 2-9 10-11-7-4-10 1zM385 317l3-9-4-6-2-2-3 1-5-1-6 8-8 6 2 5 0 5 9 3 5 8 6-7 8-4zM335 257l2-3-2-6-2-8-8 1-8-7-6-4-5 3-5 0-5 7-2 7 5 8 4 7-1 7 8-8 15 6 10-8zM1058 1084l-2-6-7-1-5 5-1 6 5 6 4 2 3 0 3-6 5-4zM1120 762l2-8-8-6-1-10-9-5-10 6-2 11-6 7 1 3 0 2 11 5 11-6 10 8 2-2zM465 324l0-7-4-10-10-4-9 4-9 4-4 9 3 5 1 3 9 4 12 3 5-4 5-3zM556 507l9 2 10 3 3-7 2-8 4-10-4-10-10-5-3 0-6-1-9 9 1 16-4 8zM1112 984l2-6 0-7-5-8 0-9-5 0-10 5-3 9 4 6 0 5zM1090 1027l-9 1-1 3-2 2 1 4 6 2 5 1 4-4 5-5-1-5zM1164 867l7 3 10-1 4-6-4-6 0-8-3-8-9-4-11 6 2 11-5 9zM396 348l-10 8-10-1 0 1 0 8 6 6 7 5 10-4 9 3 1 0 2-9-1-4 1-9-4-2-3-3zM1152 604l12-1 6-5 0-8-7-9 0-11-9 1-8 11-15-1 0 3 4 6 4 6 6 7zM1353 852l-1-10 3-7-11-3-6-4-9 8-7 3 0 5 5 9 10 6 7 2 6-2zM1260 802l9-7 4-9 0-3-1-4-8-7-6-1-9-3-3 1-3 7-3 7 9 8-2 9 6 9zM416 289l2 7 8 0 8-9 8-3 0-9-9-5-1-11-6 0-5 3 0 7-8 7-2 6zM1313 1073l2 2 2 0-4-4-1 0zM423 375l-5 3-9-4-1 0 0 8 0 6 7 4 9 5 4-7 10-2-2-9-3-5zM1154 1119l-3 4 3 3 2 5 6-6 6-4-1-4-6 1-7-4zM499 596l-1-11-5-4-7-7-7 1-9 5-7 5 7 5 7 13 5 5 8-6 7 2zM1095 1168l7 5 6 3-1-9 4-7-9 2-7 1 0 1z"/><path fill="#7b60c4" stroke="#fff" stroke-opacity="0.6" d="M728 722l-3 14 10 9 4 2 7 1 7-6 4-8 2-13-2-7-8-12-4 1-7-1-6 2-6 6-7 3zM783 333l-7 11-13 0 1 5 1 6 11 1 9 13 11 0 8-4 1-6-7-8-3-12 1-12zM974 438l-9-5-4-4-11 5-10-1-5 11 2 7-1 10 6 8 7 2 11-6 9-8 8-6-1-5 2-3zM1084 1005l1-7-8 2-8 3 5 7 2 7 3 1 3-3zM862 922l5-10-7-6-7-7-6-8-6 6-14 8-6 7 0 3 0 1 9-1 13 0 10 7 2 1zM927 317l1 6-3 12 8 3 11 3 3-6 9-4 4-15-8-11 1-12-4-1-5 7-11 2-6 5zM875 250l-18-7-10 7-4 7-2 7 4 10 9 11 7 12 9-4 7-12 10-3 1-12-6-10 3-8zM822 730l2 12 2 4 3 3 8 0 9 1 8 2 0-10 9-9 3-7 0-1-3-2-14 3-11-1-9-4zM834 560l-9 3 0 12 1 6 3 11 9 5 12 2 6-6 10-1 1-2-10-11-9-9-4-17-1 0zM1074 736l-1 11 5 5 8 5 6-7 2-11 10-6 0-1-3-6-7-7-8 0-11 0-2 3-2 4zM417 550l0-10-2-12-4 0-5-2 0 7-8 4-1 10 1 3 1 3 11 4 8 4 4-3 3 0zM1132 699l-7-2-9 1-10-4-1 12-5 7-6 6 7 7 3 6 8-7 13 1 9-6-2-6 3-6zM579 520l6 7 2 0 12-5 6-10 7-5-1-5-1-8 2-9-12-4-8 8-8-2-4 10-2 8-3 7zM1168 1141l1-4 5-3-2-6-3-7-1 0-6 4-6 6 0 3 3 5 8 2zM266 175l8 0 9-6-9 1-9 2zM1018 431l10-1 4-10-7-11 5-8-6-6-7 0-6 3-10-1-7 7 5 10 2 9-4 9 7 0 6 5zM525 553l-7 7 1 5 4 8 10-4 9 0 7 2 3-3 2-5 0-7 1-9-10-5-7 3-11-1zM1109 437l-3-6-10-8-7-5-6 5-13-1-6 6-5 4 0 8 8 8 8 8 15 4 6-7 7-1 6-8zM753 565l4 6 9-2 8 12 10-2 4-5 3-7-6-8-14-12-1-12-4 0-3 0 0 7-9 5-3 7zM819 558l6 5 9-3 9-7-7-13-4-7-1-15-10 1-7 7-8 1-3 9 7 10-2 13zM1384 511l8-5 6-2 4-8 3-8-1-8-8-6-7-1-7 3-9 3-2 7-1 6-4 8 6 4 4 6zM973 335l-6-6-11 2-9 4-3 6 0 12 6 7 6 2 2 4 10-2 8 2 7-1 3-3 2-1-6-11 2-10-1-8zM456 286l3-2 5-7 2-9-3-8-5-8-9 0-10-2-6 3-1 6 1 11 9 5 0 9 5 3 4 0zM1169 781l-7 5 8-2 1-1zM428 358l10 4 8-1 8-4 1-6-3-10 2-6-12-3-9-4-5 6-2 8-2 7zM1296 907l-7 3-2 4 7-4 4-4zM290 211l2-11-11-6-11-3-9-4-2 2-2 2 2 13 6 8 7 10 9 0 5-3zM552 568l-3 3 1 11 4 6 8-1 13 5 8 3 1-8-2-9-1-7-10-5-8 0-9-3zM1069 1160l9-1 0-4 0-2-9 0-5-4-4 2 3 7 2 7zM1250 645l-1-9-6-8-9-1-9 2-9 6 2 10 12 4 4 13 7-10 12 0zM1227 733l-2 0 1 10-4 10 10 1 8 8 6 7 3-1 0-8 9-6 1-8-10-3-10-4-9-8zM769 407l5 3 10-4 17 11 10-5-1-6 4-7-3-8-12-3-3-10-15 5-6 10-9 7 0 1zM919 508l4 2 8-1 6-12 8-1 6-8 0-9 1-5-3-3-7-2-6-8-8 6-9-4-5 3 0 16 2 11 0 15zM1000 798l9 8 8 1 5-2 0-4 0-8 1-8 1-9-3-2-2-4-13 2-14 4-9 2 6 8 3 10zM852 367l-10-3-6 7 1 8-1 6 7 3 6 8 5 3 9 2 10-5 0-10 1-10-5-6-9-8zM753 516l7-12-4-9-10-5-7-2-9 4-6 8 1 7 2 12 1 8 10 1 8-6 8 3zM820 626l-7-6-6 4-9 1-7-1-4 8-5 6-3 9 14 2 6 7 8-4 10-7 8-11zM734 241l0-1-6-2-9 3-9-1-9-2-4-1 4 3 2 8 8-4 9 0 10 1zM750 441l-4-8-4-6-10 6-9-3-1 4-4 2 4 10-6 6 5 9 7 1 5 7 11-5 7-4 8-8 0-5zM1005 619l8-1 0-10-5-7-6 0-7-5-6 5-7 7-8 3 4 8 8 8 11 5 4-3 4 0zM410 654l6 7 6 5 3-1 6-5 8-8 6-6-2-3-5-5-9-4-10-2-7 5-10 7 1 4 0 5zM980 767l7-7 1-9-4-7-5-7-7-6-4 3-5 0-1 13-6 7-2 11 5 6 7 6 8-1 7 0zM327 177l4 4 6 8 6-1 8-6 7-2-2-5-9 1-9-1-9 0-5 1zM1335 897l-1 3 6 3 3-8-1-1zM1190 660l8-2 5-8-1-11-6-6-11-5-9-1-6 8-10 3 2 11 5 12 1 8 6-2 8 2zM306 233l5-3-2-8 7-8-2-6-6-9-8-2-4 2-4 1-2 11-4 8 10 7 5 7zM978 300l3 17 7 8 8 2 9-7 6 2 6-11-3-9 4-12-15-1-10-9-12 2-3 3-2 3zM1108 1180l-3 1-3 4 1 2 3-1 9-4zM1003 661l-9-3-3-10-5 3-8 1-6 11-1 13-8 7 1 2 8 0 7 8 12-4 9-3 2-9 8-9zM810 546l-7-10 3-9-6-5-9-4-10 4-7 6-4 7 1 12 14 12 6 8 10-5 7-3zM1052 1096l-4-2-6 4-3 4 6 4 6 7 3-1 4-6 0-6 0-2-3-2zM1153 1136l3-2 0-3-2-5-3-3-6 1-4-2-5 4-1 7 9 4 7 1zM1189 805l8 1 6-3 10 4 2-2 5-9 2-8-8-7-5-6-4-10-1 0-6 6 4 1 0 20-14 10zM1109 761l-11 6-11-5-4 4-1 5 4 7 0 8 5 6 7-1 10-4 7 2-2-13 6-7zM666 747l-10 10-1 12 10 0 7 4 7 7 6-5 2-9 1-6-2-9-5-5-8-6zM1263 651l7 4 1 0 8-7 1-8-3-8-1-9-7-5-10 1-10-2-1 8-5 3 6 8 1 9 3 7zM1001 397l10 1 6-3-4-12 2-8-2-12-10 1-6-4-9 1-2 1-3 3-2 10 1 12 3 13 5 0 4 4zM880 337l10 4 11 8 2-4 3-3-6-6-3-13-3-6-10-6-5-2-10 1-4 8 1 12-4 8 2 2zM776 732l-7-3-12 5-4 8-7 6 4 10 3 9 13 2 9 3 13 1-3-10 10-12-3-9-3-2-2-6zM1281 411l-4-8-3-1-5 6-7 8-8 3-1 10 8 9 8 3 7 5 7 0-3-10 7-11 2-10zM681 746l5 5 2 9 10 3 12-2 1-3 2-4-5-4-2-12-3-5-11-4-9 9-10-3 0 5zM1151 1082l4 4 6-1 3-4 0-3 1-3-5-3-6-3-2 6-4 4zM626 522l-5-13-9-2-7 5-6 10-12 5 9 2 7 11 9 5 4-8 12-3 8-6 0-4zM1087 760l-1-3-8-5-5-5-6 1-7 6-8 0-1 12 2 9 2 2 3 3 7-6 10 2 7-5 1-5 4-4zM1245 823l-6 3-3 9 5 10-2 8 6 3 7 0 7-7 10-5-2-12-10-6-4-11-1-1-1 1zM1214 618l3 9-4 7 3 1 9-6 9-2 9 1 5-3 1-8 0-2-2-3-8-3-7-3-8-5-4 5-6 1zM657 701l-9-7-9 2 1 14-8 11 3 10 5 0 3 3 4 1 13-2 11 0 3-8-5-7 6-10-5-5-4-5zM745 997l-6-4-7-2-9 3-4 8 6 16-3 8 2 2 5-5 8-6 6-8 3-5zM698 658l0 5 3 2 2 4 7 3 6 0 8 3 4-6 10-1 6-7 0-1-4-8-5-4-7-6-10 4-11 3-6 6zM1287 425l-7 11 3 10 1 2 7-1 10 5 7 0 2-14 8-15 0-10-1-1-1 0-9 1-9 3-9-1zM788 502l0 7 3 9 9 4 6 5 8-1 7-7 10-1 2-3 1-3-3-8-4-6-4-10-8 5-13 0-12 7zM873 386l0 10 6 6 6 3 6 5 7-11 15-2 5-13-8-7-6-12-3-8-7 10-9 2-11 7zM1302 765l7-10 14 0 0-1-1-9-10-6-4-8-10 0-10 7-10-2-2 2 0 9 7 9 7 6zM1265 587l-5 2-6 7 0 11-7 5 2 3 0 2 10 2 10-1 7 5 7-5 1-9-1-9-9-5-5-9zM708 499l8 3 8-2 6-8 9-4-7-11 1-8-5-7-7-1-6 2-9 6-8 3-2 9-2 6 3 11zM651 603l4 9 9 5 3 0 6-9 1-7 11-6-1-7-4-10-9 3-9-7-7 2-2 11-7 6zM1180 1078l0-7-1-1-4 0-3 4-7 1-1 3 0 3 2 7 5 4 1 0 4-1 4-5zM1100 370l-5-8-10 1-2 4-4 2 1 9 3 5-2 8 7 3 1 5 6-7 8-2 10-1 2-6-1-8-4-7zM296 199l4-2 5-7 1-6 0-9-6-3-2-2-2 0-11-1-2 0-9 6-8 0-2 2 0 5-3 5 9 4 11 3 11 6zM1096 1136l-4-1-3 6-4 5 4 4 5 3 4-4 6 0-2-4 2-7-2-1-2-2zM1171 783l17-15 10 3 6-6-7-2-8-4-5-5-4 2-4 2-2 8-6 8 1 7zM661 494l2-14 2-8-11-2-6 3-11-1-2 4-5 4 7 10 9 6 8 10 6-3 6 1zM41 708l1-3 3-2 0-1-1-6-11-5-3-5-8 1-2 3 1 2 8 5 5 8 6 3zM865 355l-4-8 3-7-2-2-8-1-11 0-7 0-3 6-3 8-3 9 7 3 2 8 6-7 10 3 8-5zM1249 710l2-1 3-7 6-5-4-5 0-5-8-2-9-5-9-8-5 2-3 4 0 3-2 2-1 4 3 6 11 4 6 10 7 3zM300 172l6 3 7 1 2-1-7-3-10-2zM1284 822l6 7 11-1 8-2 3-7 1-9-10-4-3-8-7 1-5 3-6 6 1 7zM1058 1090l-3 6 3 2 0 2 7 1 4 2 4-3 3-4 0-8-3-3-4 1-6 0zM1252 814l1-5-6-9 2-9-9-8-8 0-10 5-2 8-5 9 13 4 14 0 9 6zM383 565l8-2 5-4 3-6-1-3-1-3-8 0-8-2-8-3-3 3 3 5-3 7 3 4 5 2zM798 373l-2-4-11 0-9-13-11-1-5 6-3 6 3 13-2 9 8 11 9-7 6-10 15-5zM1144 1079l-2 3 4 6-1 6 3 0 6 0 1-5 0-3-4-4-3-3zM575 592l-13-5-8 1-1 9-10 8 2 10 11 7 9-6 16-5 7-9-1-1-2-4-2-2zM1133 810l-7-2-2 9-11 6 8 3 5 11 3 9 8 0 7-2 6-7-4-7 2-8 1-10-5-1-1-4zM1098 1114l5 7 1 6 7 0 6-5-5-4-3-6-7-1-4 2zM624 722l11 9-3-10 8-11-1-14-3-2-12-3-12 5-10 5 0 9 0 1 4 3 8 3 3 8zM1168 338l6-4-2-6 0-8 2-9-9-2-9-8-7 3-5 8-6 2 0 11-3 8 10 6 8-2 11 5zM913 557l-9-6 3-17-9-9-11 3-9 2-5 7-2 4 6 8 2 15 10 6 6-1 5 1 8-4 5-7zM425 558l-3 0-4 3-6 7 0 9-5 4 2 4 1 3 3 3 5 1 7-7 5-3 7-3 0-10-4-7-5-3zM1290 551l-6-4-8 0-3 7-6 5 6 8 0 11 11 0 9-8 10 3 3-2 1-3-1-4 2-6-6-4-2-6zM410 361l1 4-2 9 9 4 5-3 10-1 5-6 0-6-10-4-4-9-7-1-6 4zM707 649l11-3 10-4-1-5 4-5-9-5-2-9-5-1-8 1-6 8-6 5 5 7 3 7-2 10zM766 485l3-9 3-10-6-9-7-5-8 8-7 4-11 5-1 8 7 11 7 2 10 5 2-1zM843 146l-9 5-9-1-10 0-9 1-4 7-3 6 4 10 11 0 5 10 7-1 3-4 2-9 3-14 9-9zM1009 1072l5-1 0-8 0-6-2-2-5 1-6 1-3 6-3 4 4 2 5 4zM1010 163l5 8 7 5 6 3 5-2 5-8 10 0 6-8 0-2-8-8-7-14-9-8-8 7-12 12-7 7zM593 680l1 6 7 7 1 8 10-5 12-5 12 3-2-8 0-9-8-3-3-6-8 5-12 0-8 4zM1140 1102l2-6-4-1-6 0-3 2 0 3-1 4 6 1 5 6 3-3zM1128 748l8-9 6-5-7-7-1-7-9 6-13-1-8 7 0 1 9 5 1 10 8 6zM1200 574l6-9-1-13 3-9-2-1-8 6-9-6-9 5-4 7-2 10 7 5 7 5 10 1zM827 905l14-8 6-6-1-3 2-4-6-11-10-5-10 1-10 3-5 3-1 3 0 10 6 11 3 9 2 2 4 2zM249 302l3 6 8 10 5-3 7 0 6-4 3-7 0-8-3-9-4-7-5-3-4 0-10 2-8 8-1 4zM686 853l3-3 4-10-8-7 4-11-4-5-10-1-5-7-3 0-4 1-2 2 3 12 9-2 9-2-2 9-1 9 7 14 0 2zM932 263l-5-7-10-4-2-8-11-6-10 1-6 3-3 6-3 8 6 10-1 12 11 1 6 7 6-10 15-7zM774 592l1 10 2 8 6 10 8 4 7 1 9-1 6-4 2-10-1-7-8-6-11-7-11-6zM1292 603l-8 6-1 9-7 5 1 9 3 8 9-1 11-3 9 5 6-6-2-14 6-6-8-7-9-3zM690 948l-5 9-4 5 13 6 6 9 16 0 7-11 2-12 1-11 0-1-11-3-9 1-3 1-8 3-3 0zM1092 1121l-6 4 4 5 2 5 4 1 4-1 3-5 1-3-1-6-5-7zM1140 632l3 2 9 0 8 4 10-3 6-8-2-8 2-8 2-7-4-1-4-5-6 5-12 1-7-1-1 10 0 8-6 6zM1153 974l1-3 0-2-9-3-4-7-3 0-5 1 2 5-2 4 2 5 9 1zM1141 882l1 7 7 3 11 0 8-5-3-7 6-10-7-3-9-4-4 7-9 1zM898 279l-11-1-10 3-7 12-9 4 4 8 4 5 10-1 5 2 10 6 6-5 7-7 1-8-2-7-2-4zM407 597l3-9-1-3-2-4-6-3-5 0-8 1-3 5-2 8 1 8 4 4 8 0zM986 329l-3 3 1 8-2 10 6 11 9-1 6 4 10-1 3-2 4-8-4-11 6-10-4-6-7-4-6-2-9 7-8-2zM610 494l1 8 1 5 9 2 5 13 10 2 8-7 3-7 7-4-8-10-9-6-7-10-10 7-8-2zM1048 1121l0-4 3-4-6-7-6-4-2 5-3 3 3 4 5 3 1 5zM1257 517l-5-8-2-6-6 1-5-2-3 3-5 2 2 14-10 9 5 14 3 0 3 4 10-11 11-3 8-10zM1090 683l6 5 8 3 2-10 5-11-2-12-8-1-5-10-7 2-3 3 1 9-5 13-1 9zM785 487l7-12-4-9-7 2-9-2-3 10-3 9-8 9 11 1 10 4 9 3 2-2zM313 176l-7-1 0 9-1 6-5 7 8 2 6 9 9-3 11-3-1-6 4-7-6-8-4-4-3-1-4 1-5-2zM1110 1036l-4 0-2 3 1 5 5 1 2 7 5-2 3-5-5-6 0-5zM1138 959l3 0 2-11 6-7 7-5-13 1-5-11-12-1-2 7-4 11-3 8 8 2 8 7zM1193 583l2 6-3 8 6 3 9 2 7 5 6-1 4-5 1-12 4-9-9-3-8-3-12 0-2 1zM691 1058l-10 11-10-3 0 4 4 0 4 8 7 6 4 6 3 1 1-6 2-11-6-12 3-4zM865 442l-12-4-1-12-8-3-8 4-9-4-5 4 4 14-4 16 5 11 5-2 5 1 7-8 11-10 8-3zM650 803l-6-11-1-1-2 1 5 10 8 3 7 5 0 2 2-2zM365 699l7 4 4-8 4-9-5-6-6-3-5 5-6 0-4 9 4 7zM1277 403l4 8 8 4 9 1 9-3 9-1-8-6-14 4-8-4-6-6 0-1zM1024 395l6 6 6-2 8-2 5-11 1-8 1-12-1-1-13-6-11 5-10-3-3 2 2 12-2 8 4 12zM612 1070l10-1 9 3 1-1 3-9-3-11 2-9-12-5-10 5-11-8 6 10 3 14-4 11zM774 418l0 6 4 9 7 2 8 5 9-2 10-7 4-8-3-4-2-7-10 5-17-11-10 4zM1242 809l-14 0-13-4-2 2-2 7 1 9 5 6 7 3 12 3 3-9 6-3 6-8zM1034 1110l-2 0 3 3 2 1zM713 885l-6-3 6 5zM1118 1131l3-7 0-1-4-1-6 5-7 0-1 3-3 5 2 2 2 1 4 3 8-2zM1114 1104l4 3 5 1 1-3 4-1 1-4 0-3-5-1-5-3-2 5-3 5zM1134 1105l-6-1-4 1-1 3-4 5 3 9 8-5 8-3 1-3zM1200 1082l6 5 5 0-5-5-2-4zM1102 1034l-3-3-5 5-4 4 0 6 3 3 1 1 5-3 6-3-1-5 2-3zM648 539l-6-4-6-7-8 6-12 3-4 8 1 8 0 11 2 3 11-3 10-2 12-3 2-5 1-6zM1146 1110l-4-2-3 3-1 3 4 4-1 4 4 2 6-1 3-4 0-5-2-4zM187 221l5 10 12-4 9-4 9-4 1-1-9-6-11-6-6-13-1 7-5 4-4 6-3 4zM1048 741l-4 6 5 4 3 3 8 0 7-6 6-1 1-11-3-10-12 5-9-1zM796 327l-1 12 3 12 7 8 9 1 5 2 8-2 3-9 3-8 3-6-2-7-4-3-12 0-10-5zM1080 1022l-1-4-3-1-6 0-3 3 0 5-2 3 8 0 5 5 2-2 1-3zM1093 1049l-5 1-4 5 0 4-1 4 5 2 2 3 6-1 3-1-1-3 3-4-4-3-3-6zM1225 589l-1 12 8 5 7 3 8 3 7-5 0-11 6-7-11-4-7-10-9 1-2 3-2 1z"/><path fill="#7b74d8" stroke="#fff" stroke-opacity="0.6" d="M1091 792l-5-6 0-8-4-7-7 5-10-2-7 6-2 6 5 8-4 8 7 2 10 3 9 1 3-2-6-2 10-2zM749 579l-7 3-8 7 1 5 7 3 5 12 10 2 7-4 11-5-1-10 10-8 0-5-10 2-8-12-9 2zM984 438l6-2 7-4 4-9-2-9-5-10-4-4-5 0-7-2-8 6-5 5-2 11-2 9 4 4 9 5 4 5zM705 1043l1 3 4-4 6-6 6-6 2-2-2-2-6 6-9 3-6 1zM624 722l-7 3 1 3 11 2 6 1zM937 451l-2-7 5-11-3-4-3-2-11 0-15 2-15-3 2 14 13 11-1 12 3 2 4 1 5-3 9 4 8-6zM707 1035l9-3 6-6 3-8-6-16 4-8-3-2-9 7-14-3-9 8 2 7 3 10-4 8 7 3 5 4zM1165 935l-4 0-5 1-7 5-6 7-2 11 4 7 9 3 7-4 9-4 3-9-6-6 1-8zM626 639l3-4-7-7-2-10-7 0-11-6-7 0-5 11-5 8 2 11 3 3 2 2 8 3 10-2 12-4zM72 705l0 7 9 6 6 8 3 0 3 0 1 0-1-8 2-7 3-7-1-1-12 3-7-6-2 1zM643 632l11-10 10-5-9-5-4-9-5-10-5 2-8 0-6 7-6 7-1 9 2 10 7 7 4 0zM1222 508l-4-3-9-1-8 5-4 7 7 7 0 11 2 8 2 1 8 0 12 1-5-14 10-9-2-14zM699 681l5 9-3 11 8 7 7 5 3 0 7-3 6-6 6-2-1-13-3-6-10-8-8-3-6 0-7-3zM1010 148l12-12 8-7-1-3 0-3-11-3-6-8-6 2-6 3-10 2-6 2-1 0-1 11 10 11 3 12 4 1 4-1zM630 356l4 9-3 15 4 3 6-2 10 0 3-2 2-2 3-17-12-10 2-16-2-2-3 0-8 4-6-1-3 3-3 5zM493 581l5 4 8-6 7 1 8-2 1-3 1-2-4-8-1-5-9-4-10 2-5-6-3 2-2 3-3 7 0 10zM1093 1172l-3 3 1 4-1 4 6 4 6-2 3-4 3-1 1-2-1-2-6-3-7-5zM719 537l-9-15-15-5-10-7-3 1 2 10-8 11 0 9 10 4 4 11 10-6 7-9 12-3zM725 954l-2 12-7 11 1 9 3 6 3 2 9-3 7 2 9-6 6-1 6-11 2-2 0-6-13-11-13-8-10-5zM1150 788l8-2-7 0zM538 635l-7 0-9-4 0 8-1 9-5 6 5 9 8 6 2 0 10-6 6-6-3-13 4-7zM1117 200l3-10-5-8-8-5-4-6-6 4 1 7 7 4 5 10 3 6zM1234 551l0-3-3-4-3 0-12-1-8 0-3 9 1 13-6 9 12 0 8 3 9 3 2-1 2-3 1-10 3-12zM1271 581l-2 5 5 9 9 5 1 9 8-6 10 2-5-8 5-12 1-12-10-3-9 8-11 0zM867 529l-2-11-8-9-6 1-11 1-6 1-1 3-2 3 1 15 4 7 7 13 1 0 10-6 5-4 12-2 2-4zM703 645l-3-7-5-7-8-7-10 4-7-7-5 10-4 15 4 13 3 6 6 1 8-1 9-4 7 2 0-5 3-3zM855 449l-11 10-7 8 9 13 11 10 12 3 3-3 4 0 3-5 3-9-7-12-10-8-2-10zM775 957l-8 2-5 8 0 6-2 2 5 4 2-1 4-7 4-8 2-5zM1292 491l7-8 8-2 3-7 6-9-2-7-2-4-4-2-7 0-10-5-7 1-7 13-7 6 0 15 8 7 8 2zM933 273l7 9 9 10 4 1 9-1 6-6 8 2 2-3 3-3 4-8-4-9-8-8-3-7-5-9-8 12-11 7-14 3zM669 718l5 7-3 8 2 2 10 3 9-9 11 4 4-5 6-7 3-8-7-5-8-7-8 5-7 4-11-2zM817 645l-10 7-8 4 6 7 0 7 3 7 4 2 4 0 8-9 5-9 11-3-1-8-7-5 0-8-4-1-3-2zM862 502l-5 7 8 9 2 11 6 8 5-7 9-2 11-3 1-9 5-4-13-4-8-9-7-9-4 0-3 3zM1115 447l-6-3-6 8-7 1-6 7-2 7 0 5 11 8 9 4 12 7 7-2 7-9-6-11-9-9 0-11zM1058 1073l2-6-4-3-7-1-7 3-3 2 0 3 0 5 2 3 3 3 5-5 7 1zM1278 489l-8-7-6 6-6 7-8 8 2 6 5 8 6 7 4 1 6-3 12-1 5-7 2-9-2-6-4-8zM1030 1184l2-4 0-1-4 4 1 1zM922 562l10 2 6 7 3-13 7-4 7-11-2-3 0-2-9-4-7-2-11 7-10 10-3 8 0 2zM982 387l-1-12 2-10-7 1-8-2-10 2-2 11 2 7 0 11 5 5 7 4 8-6 7 2zM1035 1054l-3-1-2 5-4 1-1 5 3 5 6-1 5 3 0-3 3-2-1-5-2-6zM1005 1041l7 3 2-7 5-5-2-3-3 3-7 4-5 3zM718 306l-8 1-6 4 5 16-7 10-5 17 2 2 2 1 10 1 9-3 4-7 7-2 3-10-9-9-2-10-3-10zM1151 786l-3-11-7-5-12-1-8-2-2 2-6 7 2 13 6 5 9-2 20-4zM893 912l11 5 7 3 10-4 6-17 11-4-10-1-6-6-5-7-9 0-7 0-8 2 1 8-8 7 2 7zM1128 691l6-9 2-9-7-5-2-10-7 2-11-2 2 12-5 11-2 10 2 3 10 4 9-1zM957 124l-7 9-4 9-1 4 2 4 6 3 3 10 8-1 7 7 8-3 9-2 7-9-3-12-10-11 1-11-3 1-12-3-4-1zM346 254l8-7 8 3 7-6 0-6 4-8-1-7-3-6-9 3-5-4-9 2-7 4-3 12-3 6 2 8 2 6zM999 473l-4 0-5 9-7 7 0 3 10 4 6 11 10 6 5-7 11-6-11-9-1-10-12-9zM1144 676l11-2 9 0 2-2 2-3-1-8-5-12-2-11-8-4-9 0-3 9-6 11-7 4 2 10 7 5zM1148 822l-2 8 4 7 6 2 2 4 11-6 9 4 1-5 5-5 1-10-2-8-12 3-9-2-13-2zM716 588l-9 1-7 10 0 10 7 9 8-1 5 1 6-9 5-9 4-6-1-5-6 0-6-7zM910 607l2-10-7-6-3-14-2-7-5-1-6 1-8 3-4 11-10 6-1 2 5 10 11 2 3 11 10 0 7 1zM1063 1200l-2 2 3 2 9-2 2-1-3-3-4 1-3-1zM1124 1141l-4 4-2 4 1 7 2 2 2 1 2 0 5-1 6-2 3-5-5-5-1-7zM690 1090l3 6 0-5zM349 668l-2 8 3 5 8 1 6 0 5-5-1-5 1-6-10-1-9-7-1 2-2 2zM1191 1105l6 2 3-4 5-5-5-4-2-7-3 1-4 3 0 6-3 5zM1072 1056l-6 10 2 2 3 1 6-1 6-5 1-4 0-4-9-3-2-6-4 1zM972 821l-8 1-4 9 3 7 6 5 6 4 4 8 10 0 8-1-1-8 3-7-2-8-7-6-6-1-6-5zM1073 394l-13 1-8 6 3 8 1 13 8 6 6-6 13 1 6-5 1-12-1-7-1-5-7-3zM998 1063l3-6-3-6-5-6-1 1-7 4 0 2 0 11 5 5 3 0 2-1zM717 299l2-9 0-7-10-3-5-5-6-7-6 1-9 9-8-2-1 4-4 5 8 6 1 7 3 8 10-1 5 6 7 0 6-4 8-1zM899 516l-1 9 9 9-3 17 9 6 3-8 10-10 11-7-7-7 0-10-7-5-4-2-3 0-7 1-5 3zM645 671l5-4 8-8-10-9-5-6-10-9-4 0-3 4-4 5 2 9-3 9 2 6 3 6 8 3zM693 1021l-3-10-2-7-8-3-8-6-13 4-2 12-12 6 1 6 1 5 7 6 6 4 8 2 7-2 7-9 7 0zM1061 492l0 11-9 11 10 3 11 3 9 2 1-1 3 0 2-5 3-3-5-12-8-5 0-14-4 2-6-1zM802 493l13 0 8-5 3-10 1-10-11-5-13-2-9 1-3 1-3 3 4 9-7 12 5 13zM1082 906l-1 7 3 7 4 1 3 3 9-6 10-3-6-4 1-13-5-4-8-2-6 0-1 4-4 1zM1139 279l-13 1-9-1-1 9-1 9 9 4 7 10 7 3 6-2 5-8 7-3-1-10 0-11-2-2-9-2zM883 499l8 9 13 4 5-3 7-1 0-15-2-11 0-16-4-1-3-2-7 8-8 1-10 4-3 9-3 5zM721 579l-9-3-9-12-13 0-7 3-3 11 4 10 1 7 6 1 9 3 7-10 9-1 6-6zM1097 1007l-5-7-2-2-3-2-2 2-1 7-2 10 8-1 7 3zM930 515l0 10 7 7 7 2 9 4 5-6 5-6 3-9-8-3-4-12-9-6-8 1-6 12-8 1zM1028 1028l0 4 1 4 1 2 5 2 7 0 4-2-2-5-1-5-4-3-8-1zM37 667l-1-8-7-4-12 4-2 3-1 4 4 7 9 0 4 9 8-5 3-6zM1135 1133l-5-7-9-2-3 7-2 8 1 4 3 2 4-4 9-2 1-3zM754 415l-6 5-6 7 4 6 4 8 9 6 5-7 10-1 4-6-4-9 0-6 0-8-5-3-3-6-5 3-5 1zM1050 1127l3 4 3 0 3-1 4-6 3-7-5-4-7-1-3 1-3 4 0 4zM265 172l-7 1 6 4 2-2zM702 337l7-10-5-16-7 0-5-6-10 1-4 8-8 13-7 5 14 5 5 10 10 8 5-1zM1185 628l11 5 6 6 5-2 6-3 4-7-3-9 0-11-7-5-9-2-6-3-8 1-6 6-2 7-2 8 2 8zM725 844l2-7-1-11-12 0-5-8-12 0-4 3-4 1-4 11 8 7-4 10 8-1 13 8 11-4zM743 556l-6-4-9 0-4 10 0 6-3 11 1 3 6 7 6 0 8-7 7-3 8-8-4-6-2-11zM1103 233l-5-8-8-2-7 4-2 4 3 10 2 12 0 13 11 5 7-2 3-3 5-8-3-12 0-13zM848 570l9 9 10 11 10-6 4-11 8-3-10-6-2-15-6-8-12 2-5 4-10 6zM920 299l-12-2-1 8-7 7-6 5 3 6 3 13 6 6 10-6 9-1 3-12-1-6 0-11zM969 457l-9 8-11 6 3 3-1 5 10-2 12 3 10 9 7-7 5-9-8-6-4-10-6-6zM1046 1162l4-5 5-7-3-6-4-5-2 3 1 5-1 8-1 6zM1099 1047l-5 3 3 6 4 3 4-2 7-3 0-2-2-7-5-1zM1075 1201l5-3 7-3-1-4 2-6-6 1-6-3-1 9-3 6zM380 713l-3 0-3 8-8 2 3 5 1-1 7-5 3-2zM713 887l1 1 0 11 0 11 2 8 4 4 8 2 6-10 11-10 0-13-6-8-9 2-6-7-6 3-5 4zM1102 1185l-6 2-6-4-2 2-2 6 1 4 1-1 8-2 7-5zM529 511l-5 5-4 9-1 9 8 10 11 1 7-3 10 5 0-1-9-13-7-8 0-17-2 0zM1069 1086l4-1 2-3 0-8-4-5-3-1-2-2-3 1-3 0-2 6-2 5 2 6 5 2zM520 611l-5 5 0 2 5 5 2 8 9 4 7 0 10 2 5-5 2-4 0-3 1-3-11-7-2-10-8 2-7-3zM985 815l2-11 5-8-3-10-6-8-2-2-7 0-8 1-3 10-7 8-2 9 8 8 0 8 2 2 8-1 6-2zM509 608l6 8 5-5 8-7-4-9-4-6 1-11-8 2-7-1-8 6 1 11-2 8zM952 826l-10-3-11 0-3 8-4 4-1 9 2 3 10 3 9 3 8-6 6-1 5-8-3-7 4-9-2-2zM726 278l5-5 1-11 2-6-4-11-10-1-9 0-8 4 1 10-6 10 6 7 5 5 10 3zM883 926l-6-13-5 0-5-1-5 10-7 1 9 3 11 2 8 3zM1136 1126l5-4 1-4-4-4-8 3-8 5-1 1 0 1 9 2 5 7zM1302 683l-2-10-5-2-8 1 1 8-7 7-5 10 6 5 6 4 5-2 6 1 10-7 1-11zM911 767l-1-10-3-9-6-2-9 3-3 7-5 9-8 3 3 9 3 8 1 1 11-4 9 3 10-4zM1300 636l-11 3-9 1-1 8-8 7 6 3 7 7 3 7 8-1 5 2 3-8 7-8 5-7-2-5-4-4zM923 596l7-7 13 4 3-3-2-8-6-11-6-7-10-2-9-3-5 7-8 4 2 7 3 14 7 6zM968 639l3 8 7 5 8-1 5-3 3-10 3-6-11-5-8-8-4-8-4 0-6 5-5 11-2 7zM1312 819l-3 7 11 5 2 8 7-3 9-8-4-8 5-9-2-8-2-1-6 4-12-1-4 5zM969 581l-9 5-7 5 3 9 8 6 6 5 4 0 8-3 7-7 6-5 1-5-1-7-8-6-8-2-6-4zM1198 1110l0 3 5 1 7 3 3-10 2-6-5-1-5-2-5 5-3 4zM1051 1135l-2 2-1 2 4 5 3 6 3 1 2 0 4-2-1-8 5-6-4-2-5-3-3 1-3 0zM1034 1110l3-3 2-5-5-5-7-4-3 2-3 2-2 5 2 1 8 3 3 4zM443 675l-7-4-11-6-3 1-3 6-2 8 0 2 0-1 11 7 12-10 4-2zM1136 1082l-5-5 3 9-2 9 6 0 4 1 3-2 1-6-4-6zM1095 1163l-2-4 1-6-5-3-4-4-2 0-3 3-2 4 0 2 0 4 2 3 9-2 6 4zM1184 1102l4 0 3-5 0-6-6 0-5-5-4 5-4 1 4 9 6 4zM1042 1040l0 6-2 8 6 2 7-4 2-3-5-5-3-6-1 0zM1102 1111l7 1 1-5 4-3 0-1-5-1-5-4-4 8-3 4 1 3zM1144 1137l-9-4-1 3-1 3 1 7 5 5 5 0 5-3 3-5-1-5zM1163 1147l4-6-8-2-3-5-3 2-2 2 1 5-3 5 2 2 2-1 10 0zM1066 1002l-4 1-2 3 0 5 1 3 2 4 4 2 3-3 6 0-2-7-5-7zM1110 1107l-1 5 3 6 5 4 4 1 1-1-3-9 4-5-5-1-4-3zM661 660l4-1-4-13 4-15 5-10-3-4-3 0-10 5-11 10-10 3 10 9 5 6 10 9zM1025 1074l3-5-3-5 1-5-4-3-8 1 0 6 0 8 2 2 2 2zM1311 608l8 7 2-14 11-2 1-15-9 0-7-14-10-2-1 3-3 2-1 12-5 12 5 8zM716 713l-3 8-6 7-4 5 3 5 2 12 5 4 5-5 10 2 7-6-10-9 3-14-9-9z"/><path fill="#7a86de" stroke="#fff" stroke-opacity="0.6" d="M670 1065l2-10-3-7-1-8-8-2-6-4-7-6-10 5-3 9-2 9 3 11-3 9 10-1 7 1 1-1 6 1zM980 520l9 7 10 5 3 0 2-2 5-8 0-9-10-6-6-11-10-4-2 7-8 10-3 7zM946 260l11-7 8-12 0-6 2-4-6-7 1-7-9-2-9-7-13 12-3 14-13 10 2 8 10 4 5 7zM1130 338l5-5 3-8 0-11-7-3-7-10-9-4-6 9-7 5-8 1 4 6-3 10 9 7 12-2 10 9zM913 397l-15 2-7 11 3 6-1 9 0 1 15 3 15-2 11 0 3-11-2-8 1-9-3-6-6-6-7-3-2 0zM944 582l2 8 4 1 3 0 7-5 9-5 4-9-2-8 3-9-6-4-9-3-4-5-7 11-7 4-3 13zM699 356l-2-2-5 1-6 9-11 5-4 7 10 5 3 12 6 9 8-6 9 0 4-13-9-13-1-13zM1127 441l13-4 9-2 0-1-7-11-4-8 1-13-3 0-3 0-9 9-15 7-3 13 3 6 0 7 6 3 4 2zM631 285l-12 10-11-1-3 5-1 7 11 7 4 10 11 12 6 1 8-4-2-15 1-12 2-15zM822 702l5-5-9-7-2-11-4 0-4-2-10 5-7 5-9 9 3 8 5 6 2 6 11-3 9 3 12-3zM905 619l1 4 9 5 11-3 7 1 6-10 6-12-2-11-13-4-7 7-11 1-2 10-8 9zM1144 703l9 0 10-5-2-9-1-8 4-7-9 0-11 2-8-3-2 9-6 9-3 6 7 2 3 9zM1105 1075l1-2-3-3-4-4-3 1-6 1-4 6 1 6 2 4 4 1 7-4 4-3zM913 810l-11 10-13 0 0 1 2 12 7 7 9 6 9-4 7 2 1-9 4-4 3-8-3-9-6-3-1-9zM1019 720l-5 8 0 6 0 6 4 6 3 3 8-3 7 4 8-3 4-6 2-11-6-6-3-10-9-5-3 2-3 0zM379 207l9 0 10-1 1-7-4-9-1-2-2 0-9-4-9-2-4-2-6 1 5 8-1 11 4 13zM1116 333l-12 2-9-7-6 3-5 7 1 10 0 7 0 8 10-1 5 8 10-2 11-8 4-7-1-6 2-5zM1321 655l-6-5-5 7-7 8-3 8 2 10 8 4 7 1 9-1 3 0 1-4 0-10-2-9 1-8zM1262 716l6 10 6 12 2 0 2-2 7-9 3-12 0-9-6-4-6-5-8-2-8 2-6 5-3 7zM963 420l2-11 5-5-7-4-5-5-6 4-9 1-7-1-1 9 2 8-3 11 3 2 3 4 10 1 11-5zM1117 1143l-1-4-8 2-4-3-2 7 2 4 4 7 5 1 3-1 3 0-1-7 2-4zM1124 347l1 6 7 4 8 7 5 7 11-3 9-6 2-9-3-11-11-5-8 2-10-6-5 5-4 4zM891 833l-2-12-12-2-9 4-5 6-6 5-3 6 13 6 8 10 3 10 2 1 3-9 6-9 9-9zM743 341l-9-5-3 10-7 2-4 7 3 10 11 5 7-4 7 1 9 0 3-6 5-6-1-6-1-5-4-3-3-4zM1007 445l5 9 1 8 10-1 8 3 12 2 6-6-2-8 3-7-9-2-3-9-10-4-10 1-8 6zM676 458l4-7 6-8 4-11-5-5-3-11-9-2-10 1-3 5-4 1 0 8-3 9 3 6 4 6 8 7 7 1zM754 547l9-5 0-7-5-4-4-6-8-3-8 6-10-1-7 4-2 6 0 1 6 5 3 9 9 0 6 4 8-2zM462 425l7-7-5-3 0-5-10-2-7 4-3 7-7 6 1 1 6 5 8 6 11 1zM1274 897l4 8 11 5 7-3 2-1 2-2 6-4 1-7 2-7 2-8-6-6-6-9-3-1-3 0-8 5-7 8-8 11 0 3zM1158 928l-1-10 3-6-7-6-6-6-10-3-1 9-12 4 0 8 2 3 0 4 12 1 5 11 13-1 5-1zM555 625l0 3 9 3 11 7 7 5 5-1-2-11 5-8 5-11-4-3-3-7-7 9-16 5-9 6zM889 849l-6 9-3 9 9 5 4 11 8-2 7 0 9 0-2-14 12-6-2-14-2-3-7-2-9 4-9-6zM777 696l-8-5-3 0-4 2-5 7-8 2 8 12 2 7-2 13 12-5 7 3 11 2 5-10 0-8-2-6-5-6-3-8zM672 987l0 8 8 6 8 3 9-8 14 3 9-7-3-6-1-9-16 0-6-9-13-6-1 0-4 11-7 7zM396 626l-5 7 3 6 8 5 10-7 7-5 3-7-1-10-9 0-5-5-8 3zM1024 657l6-9-2-3 1-4-6-6-7-5-11-1-4 0-4 3-3 6-3 10 3 10 9 3 7 7 5-3 5 0zM710 398l-3-2-9 0-8 6-4 7-4 7 3 11 5 5 8 2 14-4 6 6 4-2 1-4-1-9-10-9 2-14zM520 589l4 6 4 9 7 3 8-2 10-8 1-9-4-6-1-11-7-2-9 0-10 4-1 2-1 3zM1202 312l0 13 5 12 7 0-2-5-1-10-1-9-2-10-2 0zM875 856l-8-10-13-6-6 1-7-1-1 9-6 12-2 7 10 5 6 11 7-9 15-1 8-8zM663 687l13-9-2-12-6-1-3-6-4 1-3-1-8 8-5 4-11 6 0 9 2 8 3 2 9-2 9 7 9-3zM829 389l-8 5-7 5-4 7 1 6 2 7 3 4 2 3 4 1 5-4 9 4 8-4 4-7 6-9 0-8-5-3-6-8-7-3zM1155 1089l-1 5 4 2 1 3 3 0 4-6 5-1-5-4-2-7-3 4-6 1zM437 425l-9-4-7-4-3 0-3 2-5 5-4 8 6 9 7 7 0 8 3 0 2 0 3-3 2-1 6-9-4-10 7-7zM782 638l5-6 4-8-8-4-6-10-2-8-11 5-7 4-4 8 1 6 4 7 1 8 7 5 5 1 6 2 2-1zM827 716l-3-3-12 3-9-3-11 3 0 8-5 10 2 6 3 2 12-1 12-4 8 5-2-12 7-9zM747 399l-9-4-8-4-8 2-8 5-2 14 10 9 1 9 9 3 10-6 6-7 6-5 2-10zM705 1043l-4-7-5-4-7-3-7 0-7 9-7 2 1 8 3 7-2 10 1 1 10 3 10-11 2 0 4-3 7-7 2-2zM592 666l-1-10 1-9-2-2-3-3-5 1-7 5-3 9-9 5 9 9 2 10 11-4 8 3 2-3zM1075 686l6-3 1-9 5-13-1-9-6 1-9 0-8-3-4 1-1 2 0 9-2 7 6 4 0 9 8 6zM1159 432l9-4 12 2 0-1-7-9 3-13-3-9-9 4-12-7-10 4-3 3-1 13 4 8 7 11zM670 1065l-14 6 2 0 9-2 4 1 0-4zM642 1070l-10 1-1 1 3 6 0 3 6-4 9-6zM603 673l12 0 8-5-2-6 3-9-2-9-12 4-10 2-8-3-1 9 1 10 3 11zM1097 271l-11-5-4 6-5 1-3 7 2 10-4 6 4 8 9 4 9 4 8-1 7-5 6-9 1-9 1-9-4-6-1 0-7 2-11 5 6-7 4-4zM417 680l2-8 3-6-6-5-6-7-7-1-7 4-3 5-6 12 3 9 7 5 8 5 6-1 1-1 5-9zM369 217l3 6 1 7 11 1 6 9 8 5 7-8 3-7-5-7 1-10-6-6 0-1-10 1-9 0-7 6zM1038 434l3 9 9 2 5-3 4-2 0-8 5-4-8-6-1-13-3-8-3-3-5-1-8 2-6 2-5 8 7 11-4 10zM1154 1114l7 4 6-1 0-3 2-3-4-4-3-8-3 0-4 6-3 5zM682 466l10-1 6 7 8-3 9-6 6-2-5-9 6-6-4-10-6-6-14 4-8-2-4 11-6 8-4 7zM941 369l-7 11-14 4 7 3 6 6 3 6 7 1 9-1 6-4 0-11-2-7 2-11-2-4-6-2zM945 604l-6 12-6 10 5 9 6 3 8 0 5-4 2-7 5-11 6-5-6-5-8-6-3-9-3 0-4-1-3 3zM56 677l-6-5-5-1-3 0-3 6-8 5-1 4 3 5 11 5 1 6 9-2 5-13 0-2zM800 840l4 1 7-4 13 2 9-6-5-9 1-8 0-10-13-1-8-5-11 5 4 12-7 9 2 12zM1040 114l8-1 9-2-4 0-10 2-3 0zM724 568l0-6 4-10-3-9-6-5-12 3-7 9-10 6 1 3-1 5 13 0 9 12 9 3zM1121 360l-11 8 4 7 1 8-2 6 7 6 8 1 5 6 3 0 3 0 3-3 4-7-2-10 1-11-5-7-8-7-7-4zM998 1051l3 6 6-1 5-1 2-2 0-5-2-4-7-3-3-2-3 2-6 4zM1306 518l4-2 2-6 5-7 1-7-5-7-6-8-8 2-7 8-6 0 4 8 2 6-2 9 6 3 5 2zM1097 1017l-7-3-8 1-3 3 1 4 1 6 9-1 8-1-1-4 2-3zM604 346l8 3 12-6 3-5 3-3-11-12-4-10-11-7-4 1-2 2-9 9 4 12-8 10 0 4 3 3 5 5zM538 684l-4-6-3-9-2 0-6 5 6 4 5 7 6 3zM1087 1102l-1-3-5-1-5-2-3 4-4 3 0 4 2 4 4 0 7 1 4-2 2-5zM952 305l8 11-4 15 11-2 6 6 10-3 3-3 2-4-7-8-3-17-2-12-8-2-6 6-9 1zM1109 418l15-7 9-9-5-6-8-1-7-6-10 1-8 2-6 7 1 7-1 12 7 5 10 8zM761 404l5-3 0-1-8-11 2-9-3-13-9 0-7-1-7 4-5 11 1 10 8 4 9 4 9 6zM711 358l-10-1 1 13 9 13-4 13 3 2 4 0 8-5 8-2-1-10 5-11-11-5-3-10zM1049 1137l2-2 2-4-3-4-2-6-5 1 1 6 2 7zM1084 1124l-4 1-2 1-3 4-4 5 8 5 4 6 2 0 4-5 3-6-2-5-4-5zM1063 1158l-3-7-2 0-3-1-5 7-4 5 0 1 2 3 3 4 6-2 7-1 1-2zM1075 1111l-4 0-1 3-2 2 5 7 5 3 2-1 4-1 0-7-2-5zM1078 496l8 5 5 12 7-5 10 0 8-4 3-4 1-9-12-7-9-4-11-8-5 4-5 6zM1242 719l-9 2-3 10 9 8 10 4 10 3 8-6 7-2-6-12-6-10-11-7-2 1-3 0zM700 609l0-10-9-3-6-1-11 6-1 7-6 9 3 4 7 7 10-4 8 7 6-5 6-8zM389 708l-9 5 0 7 6-3 6-7 1-2zM1046 1163l0-1-1-1-1 3zM970 516l3-7 8-10 2-7 0-3-10-9-12-3-10 2 0 9-6 8 9 6 4 12 8 3z"/><path fill="#7497e4" stroke="#fff" stroke-opacity="0.6" d="M861 815l-4-8-4-10-6-6-7 2-2 8-9 5 0 10-1 8 5 9 4 1 4 6 7 1 6-1 3-6 6-5 5-6zM971 564l2 8 6 4 8 2 8 6 12-4 3-9-10-7-5-10-3-7-8 5-10 3zM1172 372l-7-10-9 6-11 3-1 11 2 10-4 7 10-4 12 7 9-4 2-2 3-4 2-7 0-12zM1165 309l9 2 7-3 12-6-6-2-2-12 0-10-1-2-12 6-10 0-6-3-1 1 0 11 1 10zM863 401l-9-2 0 8-6 9-4 7 8 3 1 12 12 4 9-9 8-3 11-5 1-9-3-6-6-5-6-3-6-6zM1276 446l-7-5-8-3-4 6-8 6-6 4 1 3 0 5 8 5 6 10 12 5 0-15 7-6 7-13-1-2zM643 305l-1 12 2 15 3 0 2 2 8 1 6-3 7-5 8-13 4-8-3-8-1-7-8-6-7-3-10 4-6 2-2 2zM981 237l7-8 15 2 1-11 8-5-4-11-7-5-7-4-7 1-9 6-11 5-5 10-1 7 6 7zM892 233l-1-6-5-9-8-8-12-10-2 1-7 9-13 4-4 13 0 3-1 3 1 7 7 10 10-7 18 7 10-2 3-6 6-3zM495 546l-1 6 5 6 10-2 9 4 7-7 2-9-8-10 1-9-6 1-4-1-7 6-9 9zM490 602l-8 6-5 4-1 9 3 11 9 6 8-4 8-15 11-1 0-2-6-8-12-4zM801 248l-2 8 11 3 8 8 8 2 8-2 7-3 2-7 4-7-7-10-1-7-8 3-15-5-9 5zM1253 429l1-10-7-2-9-5-3 1-5 12-10 5-2 9 1 2 6 5 11 6 7 2 6-4 8-6 4-6zM355 388l6-5 10 0 8-1 0-7 3-5-6-6 0-8-8 1-6 1-7 10-5 7 3 5-2 5 1 2zM620 487l10-7 5-4 2-4-3-9 2-13-6-5-5-3-10 3-6 7-5 8 5 9 1 7 2 9zM826 746l-2-4-8-5-12 4-12 1 3 9-10 12 3 10 1 1 10-6 14 8 8-5 2-6 2-10 4-6zM1060 479l-7-8-10-4-7 9-5 12-3 12 5 9 8 4 9 2 2-1 9-11 0-11 7-9zM430 197l-7 1-6 3-10 2-9 4 6 6-1 10 5 7 10-3 6 5 9-3 5-8 2-6-4-7-1-6zM470 392l4-6 11-7 3-7-8-4-4-8-8 3-8-1 3 10-3 4-1 10 4 5zM1016 701l-12-2-4-13-9 3-12 4-3 8 3 8 4 7 11 4 8 4 12 4 5-8 7-9zM1097 175l6-4-1-2-4-7-4-8-2-12-7-3-13 6-8 10-10 4 0 2 4 13 4 8 13 8 6-3 12 0 5-5zM832 645l7 5 1 8 3 4 6 1 8-2 8-1 10-4 0-8 0-7-4-7-9-4-8 0-10-3-4 7-8 3zM585 677l-11 4-6 7-6 6 2 7 4 1 6 8 8 7 8-11 9 2 3 3 0-1 0-9-1-8-7-7-1-6zM1115 872l-3 10 8 7 8 3 9 4 1-4 4-3-1-7 1-11-11-5-5-8-8 4-7 3zM1090 802l31-8-6-5-7-2-10 4-7 1zM904 365l6 12 8 7 2 0 14-4 7-11 9-9-6-7 0-12-11-3-8-3-9 1-10 6-3 3-2 4 1 5-1 3zM1076 290l-2-10 3-7-6-6-10 3-7-7-9 2-11 6-6 7-1 3-1 4 9 2 11 7 8 9 7-4 11-3zM370 180l-4-3-10-2 2 5 3-1 3 2zM1118 862l8-4 0-7 3-5-3-9-5-11-8-3-4 1 0 11-12 10-1 10 2 4 7 5 6 1zM1004 432l-7 0-7 4-6 2-6 5-2 3 1 5 6 6 4 10 8 6 4 0 2-1 6-6 6-4-1-8-5-9 3-8zM1236 505l3-3 0-9-6-9-2-8-9-3-7-4-12 2 0 4-3 2 7 5-1 14 3 8 9 1 4 3 9-1zM1062 1195l3 3 3 1 4-1 3-6 1-9-3-2-1-3-1 0-4 2-4 2 0 4-2 4zM950 133l7-9 7-6-8-1-11 1-11 1-2 10 0 3 6 0 8 10zM1066 1117l-3 7-4 6 5 3 4 2 3 0 4-5 3-4-5-3-5-7zM928 234l3-14 13-12-3-5-2-3-10-8-10 2-7 12-11 13-10 8 1 6 2 6 10-1 11 6zM568 688l6-7-2-10-9-9-7-6-9 1-6 6-10 6 3 9 4 6 2 4 2 1 3 5 7 2 10-2zM1329 687l-3 0-1 11 7 8 1 7 2 2 10 1 11-4-1-11-4-7 2-11-6 4-8-1-9-3zM1113 202l-1 2 4 0 1-4zM865 456l10 8 7 12 10-4 8-1 7-8 1-12-13-11-2-14 0-1-11 5-8 3-9 9-2 4zM397 492l-3 9 4 4 3 6 6-7 10-4 6-4 0-3-5-11-9-5-6 2-6 2zM837 834l-4-1-9 6-13-2-7 4 0 12 2 11 6 8 10-3 10-1 2-7 6-12 1-9zM812 899l-6-11 0-10-8 2-8-2-8-1 4 12-5 7 1 12 2 3 4 2 11-2 7-1 9-2zM465 441l-2-3-11-1-8-6-6-5-7 7 4 10-6 9 11 2 11-4 10 6 1-7 4-5zM592 357l1 4 8 3 6 8 2 7 8 4 9-6 5 3 3-15-4-9-6-13-12 6-8-3-11 6zM927 861l-12 6 2 14 5 7 6 6 10 1 3 1 5-7 10-9-4-8 0-11-8-8-9-3-10-3zM1063 1141l1 8 5 4 9 0 2-4 3-3-4-6-8-5-3 0zM411 692l-6 1-1 6 6-4 2-4zM117 626l-6-1-9-1-7 2-5 5 3 10 4 8 11-3 9 2 3-2 1-3 1-9-4-7zM785 843l-9 6-9 0 0 1 1 10 2 9 7 4 5 4 8 1 8 2 8-2 1-3 5-3-6-8-2-11 0-12-4-1-4-2zM1190 428l8-2 1-8 8-9 0-9-9-6-9-1-11-1-3 4-2 2 3 9-3 13 7 9zM1072 238l-11 0-11 0 6 8-2 8 0 9 7 7 10-3 6 6 5-1 4-6 0-13-2-12-3-10zM1100 1106l4-8-1-3-4 0-5-5-5 5-3 4 1 3 1 3 5 3 4 2zM1028 561l3-9-2-9-8-9-7 0-10-4-2 2-3 0-1 10-6 5 3 7 5 10 10 7 8-3 8 4zM1097 1110l-4-2-5-3-2 5-4 2 2 5 0 7 2 1 6-4 6-7 0-1zM1092 892l8 2 8-6 4-6 3-10-4-7-6-1-7-5-11 7-6 8 3 10 2 8zM772 213l4 10 6 1 10 2 7-1 3-12 5-6 4-9-9-4-11 1-13-1-2 2-3 7-1 7zM1054 937l-7-1-5 5-3 7-8 4 0 2 2 5 7 2 9 0 8 0 6 4 4-3-1-8 3-7-4-7-4-4zM938 132l-6 0-1 7-4 9-9-1-10 1-6 3-1 4 2 6 6 4 13-2 15-6 10-7-2-4 1-4zM1084 135l1 4 7 3-1-2-4-7-2-1zM1203 803l-6 3-8-1-4 3-2 5 2 8-1 10 7-1 9 8 7 0 7-2 3-7-5-6-1-9 2-7zM682 347l-5-10-14-5-6 3-8-1-2 16 12 10-3 17 7-3 8 2 4-7 11-5 6-9zM384 658l-8 3-3 3-4 2-1 6 1 5 6 3 5 6 5-1 5-2-3-9 6-12zM1087 578l-9-9 0-10-3-2-5-3-3-1-4 1-9 6 2 11-11 6 9 7 2 8 7 4 8 0 5-4 10-6zM1148 1094l-3 0-3 2-2 6 2 6 4 2 6 0 3-5 4-6-1-3-4-2zM1236 452l-11-6-6-5-7 10-3 8-7 8 1 4 12-2 7 4 9 3 8-5 5-9 0-5-1-3zM320 728l-4-7-5-4-5-2-8 3-5 3 0 4-1 4 2 8 7 5 10-3 6-3zM380 475l-3 5-1 11-1 8 11 0 8 2 3-9 0-11-6-5-6-2zM734 683l3 6 1 13 7 1 4-1 8-2 5-7-2-13-12-5-4-14-6 7-10 1-4 6zM965 235l0 6 5 9 3 7 8 8 7-6 10-4 12-6-6-8-1-10-15-2-7 8-14-6zM866 725l6-8 10-3 3-7 2-7-2-10-3-2-2-3-8-2-11 9-8-1-1 13 11 7 0 12zM1085 825l-10 4-2 10 9 4 9 7 5 5 1-10 12-10 0-11-8-2-6-3-7-2zM979 725l-7 6 7 6 5 7 4 7 7-7 11-2 8-2 0-6 0-6-12-4-8-4-11-4zM137 713l-3 6 1 3 12 3 8-4 4-6 3-5-4-5-4-7-10 1-8 4zM1031 464l-8-3-10 1-6 4-6 6 12 9 1 10 11 9 3 0 3-12 5-12 7-9 0-1zM320 728l-3 8 3-2 3 0 1-1 4 1 3 1 4-1 1-2 2-3-3-8-4-5-7 4-8 1zM1293 799l7-1 2-5 1-5-6-4-1-10-7-8-9 7-8 6 1 4 0 3 3 8 5 5 7 3zM1059 547l-7-9-8-3-7 2-8 6 2 9-3 9-2 11 2 1 8-2 9 6 11-6-2-11 9-6zM773 810l7-9 9-4-3-8 1-7 2-8-1-1-13-1-9-3-13-2-7 6-2 6 7 13 4 8 6 11zM1042 676l6-5 8-2 2-7 0-9-9 3-10-8-9 0-6 9-4 8 10 3 5 11zM1207 409l-8 9-1 8 4 6 7 3 9 4 2-9 10-5 5-12-8-3-7-10-8-3-3 1-2 2zM791 195l11-1 9 4 2-1 1-7 5-6-5-10-11 0-4-10-1 2-6 6-4 8-6 10-4 4zM165 692l7-3-6-7 0-11-8 8-9-1 6 9 0 9zM464 415l5 3 10-4 8-1 11 3 0-5-3-4-9-4-6-8-10-3-2 10-4 8zM1165 470l5 9 8 6 6-3 8-5 8 0 3-2 0-4-1-4-8-2-4-7-8-6-7 5-11 2-5 6zM1175 1111l-6 0-2 3 0 3 1 4 1 0 8 2 8-2 1-1-1-6-5-7zM515 441l-2 10 5 4 5 11 6 2 7-1 3-4-3-7 3-11-1-7-12-3-9-1zM487 641l1-3-9-6-3-11-6-2-5 3-4 10-6 7-4 7 12-3 12 3 13 0zM1048 1139l1-2-3-2 0 3 0 4zM996 591l-1 5 7 5 6 0 5 7 4-1 2-1 2-9 6-15 1-9-2-1-8-4-8 3-3 9-12 4zM468 402l2-10-7-1-4-5-7 3-10 1-1 8 1 7 5 7 7-4 10 2zM1039 617l-1-3-10-6-9-2-2 1-4 1 0 10-8 1 0 10 11 1 7 5 6 6 2-6 6-8 3-6z"/><path fill="#7ba3e6" stroke="#fff" stroke-opacity="0.6" d="M744 661l4 14 12 5 2 13 4-2 3 0 8-16 2-12-2-15-6-2-5-1-6 3-6 7-10 5zM1086 586l-10 6-5 4-2 9 5 11 6 7 10 2 9 5 8-4 4-7 1-6-2-5-5-8-7-10-10-3zM1149 435l0 12 6 7 4 11 5-6 11-2 7-5-3-8-2-6 3-8-12-2-9 4-10 2zM510 428l7 6 9 1 12 3 4-4 5-3 3-12-3-10-4-6-4-4-2 0-9 5-7 12-12 4zM1059 651l4-1 2-11-5-10-10 1-10-9-3 6-6 8-2 6-1 4 2 3 9 0 10 8 9-3zM1025 500l-11 6-5 7 0 9-5 8 10 4 7 0 8 9 8-6 7-2 2-11 4-9-9-2-8-4-5-9zM976 177l13 7-2 12 7-1 7 4 6-7 10-4 5-12-7-5-5-8-7-8-4 1-4-1-7 9-9 2zM831 785l0-8-10-6-8 5-14-8-10 6-2 8-1 7 3 8 2 6 6 2 11-5 8 5 13 1 9-5 2-8-1-2zM1201 370l10 2 6 6 2-1-7-6 2-8 1-9 2-8-3-9-7 0-6 2-3 3 1 7-5 9-1 7zM838 725l11 1 14-3 0-12-11-7 1-13-10 5-7 1-9 0-5 5 2 11 3 3 2 5zM879 962l0-6-1-1-4-1-8-3-9-1 3 10 9 3 9 3zM562 694l-10 2-7-2 2 2 10 4 7 1zM492 425l0 7-7 9 10 7 2 8 8-2 8-3 2-10 2-7-7-6-1-8-4-2-6 0zM1023 273l-2-10-1-9-4-3-6-2-12 6-10 4-7 6 4 9-4 8 12-2 10 9 15 1 3-3 5-2 1-4 1-3zM745 245l3 0-3-5-6 1zM773 231l3-8-4-10-2 9 0 9 0 6zM462 449l-1 7 8 4 10 7 4 6 5 1 4-4 1-7 4-7-2-8-10-7-12-1-7 4zM1177 438l2 6 3 8 8 6 4 7 8 2 7-8 3-8 7-10-1-2-9-4-7-3-4-6-8 2-10 1 0 1zM1062 182l-4-8-4-13-6 8-10 0-5 8 0 10 1 12 6 9 8-3 15-1 8-3 0-7 4-4zM1029 711l3-2 2-4 4-3 2-9-3-6-2-8-5-11-10-3-5 0-5 3-8 9-2 9 4 13 12 2 10 10zM953 215l9 2 5-10 11-5 9-6 2-12-13-7 3-11-8 3-7-7-8 1-4 13-11 10-2 14 2 3 3 5zM592 489l8-8 12 4-2-9-1-7-5-9-3-5-9-1-8 3-9 8-5 7 10 5 4 10zM1096 579l6-7 13-2-5-5-5-8-2-7-7 3-7 6-11 0 0 10 9 9-1 8 2 1zM1085 896l1-4-2-8-3-10-8-4-9-1-4 9-9 4 8 8 0 10 6 2 9-6 7 1zM491 649l-1 3 10 4 9-5 7 3 5-6 1-9 0-8-2-8-5-5-11 1-8 15-8 4-1 3 1 5zM1148 535l8-5-1-7-4-4-9 3-8-1-10-4 2 11-5 7 8 7 7 5 6-4 4 1zM735 648l5 4 4 8 10-5 6-7 6-3-7-5-1-8-4-7-9 0-5 2-9 5-4 5 1 5zM793 307l0 11 3 9 12-5 10 5 12 0 0-10 5-8-9-5-5-6-6-5-8 1-11 0-5 6-1 1zM471 203l-7-3-9-1-9-3-8-2-2 0-1 8 1 6 4 7 9-1 10 3 6-3 6-5zM1083 808l1 6 4 3 7 2 6 3 8 2 4-1 11-6 2-9-2-7-34 7-4-2zM1194 358l5-9-1-7-9 0-7-9-8 1-6 4-4 4 3 11-2 9 7 10 8 1 6-7 7-1zM457 585l-3 2 1 9-8 10 4 6 7 7 7 3 5-3 6 2 1-9 5-4-5-5-7-13-7-5-4 0zM398 456l8 6 9-3 2-1 2-2 0-8-7-7-6-9-7 5-7-2-4 3-3 6 3 6 0 5zM728 865l-4 13 6 7 9-2 6 8 3-1 8-8 6-4 8-9-2-9-1-10-16 2-12 3-15 2zM473 440l12 1 7-9 0-7 7-7-1-2-11-3-8 1-10 4-7 7 1 13 2 3 1 3zM1288 738l10-7 10 0 1-7 2-5-7-9-5-5-6-1-5 2 0 9-3 12-7 9zM817 910l-2-2-9 2-7 1-11 2 1 8-1 10-3 10 1 0 3-9 7-8 11-3 11-5 3 0 0-1 0-3zM734 305l12-2 14 0 2-1-5-6-1-11-3-9-9-6-13 3-5 5-7 5 0 7-2 9 1 7 2 1zM374 500l-6 5-1 11 4 6 5 4 9-3 8-4 8 0-2-4 2-4-3-6-4-4-8-2-11 0zM1055 1180l8 2 4-2 4-2 0-6-7-5-7 1-6 2-1 4zM529 669l-8-6-5-9-7-3-9 5-10-4-6 8 4 8-4 5 2 0 9-3 9-3 9 3 8 3 2 1zM493 463l-1 7 10 5 3 6 9 5 3-1 2 1 2-10 8-8-6-2-5-11-5-4-8 3-8 2zM430 582l-5 3-7 7 5 9 3 9 7 2 6-1 3-3 5-2 8-10-1-9-10 0-7-8zM1098 225l5 8 6 0-5-8-3-4zM1176 1101l-4-9-1 0-5 1-4 6 3 8 4 4 6 0 5-4 2-2zM1043 467l10 4 7 8 8 4 6 1 4-2 5-6 5-4 0-5 2-7-15-4-8-8-8-8-4 2-5 3-3 7 2 8-6 6zM388 458l-4 5 1 5 0 6 6 2 6 5 6-2 6-2 2-8 4-10-9 3-8-6-10-1zM1130 625l-13 0-6-6-4 7-8 4 0 11-3 6 5 10 8 1 11 2 7-2 7-4 6-11 3-9-3-2-2-5zM658 249l-11-3-8 5-3 8 2 12 3 6 6 11 6-2 10-4 7 3 4-5 1-4-1-9-2-8-5-7zM793 649l-14-2-2 1 2 15-2 12-8 16 8 5 5 0 9-9 7-5 10-5-3-7 0-7-6-7zM1055 777l-2-2-10 3-7-6-12 4-1 9-1 8 0 8 11 3 13-7 10 6 1-1 4-8-5-8 2-6zM491 260l4-6-3-10-7-3-7 2-10-2-6 2-4 9 5 8 3 8 6-2 9 4 7-3zM81 668l-1-4-2-1-10-4-9 2-4 6-5 5 6 5 3 8 6-5 7-2 7-6zM773 203l3-7-2 2zM54 603l1 5 8 4 6 4 4-1 4-1 5-7 0-6-3-6-1-6-1-1-10 1-6 7-5 3zM861 788l10 0 11-3-3-8-3-9-9-9-10 1-7 11-5 10-6 10 1 2 7-2 6 6zM471 209l6 2 2-1-5-6-3-1zM761 816l-5 5 2 9 10 10-1 9 9 0 9-6 11-5-2-12 7-9-4-12-6-2-2-6-9 4-7 9-12 1zM1091 528l8 4 5 10 10-2 7-5 5-7-2-11-3-6-5-7-8 4-10 0-7 5-3 3-2 5zM1059 890l-8-8-7 0-7-2-9 6 0 11-7 6 0 4 4 3 5 4 7 1 7-4 6-5 7-2 2-4zM1087 866l11-7-2-4-5-5-9-7-9-4-8 1-6 3 3 9 4 7-2 10 9 1 8 4zM856 593l-6 6-4 11-2 9 0 8 10 3 8 0 9 4 7-4 2-9 5-6-3-11-11-2-5-10zM633 424l10-1 13-2 4-1 3-5 1-13-3-10-10-11-10 0-6 2-9 10 4 15-6 10zM1008 204l4 11 7-2 10 2 7 1 1-5 3-3-6-9-1-12 0-10-5 2-6-3-5 12-10 4-6 7zM480 395l6 8 9 4 8-9-1-9 2-13-1-2-7-3-8 1-3 7-11 7-4 6zM567 472l3 0 5-7 9-8 8-3-1-8-6-12-2-1-9 1-10 8-3 7-3 11 0 7 1 2 2 2zM910 739l-8-11 2-9-6-4-10 3-6-4-10 3-6 8 0 1 10 5 9 8 7 10 9-3 6 2 1-1zM1113 202l-3-6-5-10-7-4-5 5-12 0-6 3-4 4 0 7 8 7 3 12 1 7 7-4 8 2 3-4-4-4-3-9 11-3 7-1zM1071 543l8-8 3-13-9-2-11-3-10-3-2 1-4 9-2 11 8 3 7 9 4 7 4-1 3 1zM663 374l-7 3-2 2-3 2 10 11 3 10-1 13 10-1 9 2 4-7 4-7-6-9-3-12-10-5zM856 189l-14-6-13-4-3 4-7 1-5 6-1 7 8 7 13 7 6 16 4-13 13-4 7-9zM1106 1089l-3 6 1 3 5 4 5 1 3-5 2-5-2-2 0-3-3 1-3-2zM423 198l7-1 5 5 1-8-7-1-9-2-2 0zM1201 339l6-2-5-12 0-13 4-9-9 1-4-2-12 6-7 3-2 9 0 8 2 6 8-1 7 9 9 0zM450 552l-6-4-7 10-9 1 5 3 4 7 0 10 7 8 10 0 3-2 2 0 2-13-7-12 4-8zM1108 888l-8 6 5 4-1 13 6 4 6-2 8 5 0-8 12-4 1-9 0-1-9-4-8-3-8-7zM1075 1174l5-3-1-5 1-4-2-3-9 1-4 5-1 2 7 5 0 6 1 0zM488 513l-10 4-3 7 4 8 8 2 7 6 9-9 7-6-5-7-7-3-4-11-2 0zM1068 624l6-8-5-11 2-9-8 0-7-4-7 6-5 10-6 6 1 3 1 4 10 9 10-1zM1100 1081l-7 4 1 5 5 5 4 0 3-6 5-2-6-4-1-5zM1076 1088l0 8 5 2 5 1 3-4 5-5-1-5-4-1-2-4-5-1-7 3-2 3zM941 658l6 10 6 9 6 3 4 3 8-7 1-13 6-11-7-5-3-8-11-5-5 4-8 0-2 4-2 6zM1074 896l-9 6-6-2-2 4 4 5 5 8 2 7 10 0 6-4-3-7 1-7-1-9zM622 434l-3-5 1-9-3 0-11 4-10 8-11 2 6 12 1 8 9 1 3 5 5-8 6-7 10-3zM668 457l-8-7-4-6-8 3-12 3-2 13 3 9 11 1 6-3 11 2 5-8 5-6zM395 190l4 9-1 7 0 1 9-4 10-2 6-3-5-7-7 0-10-3-7 0zM398 608l1 5 8-3 5 5 9 0 1-3 4-2-3-9-5-9-5-1-3-3-3 9-11 7zM959 548l9 3 6 4 10-3 8-5 6-5 1-10-10-5-9-7-10-4-4 1-3 9-5 6-5 6 0 2 2 3zM836 697l7-1 10-5-3-8 0-9-1-11-6-1-3-4-11 3-5 9-8 9 2 11 9 7zM438 619l3 15 2 9 2 3 5 1 1-1 4-7 6-7 4-10-7-3-7-7-4-6-5 2-3 3zM1086 1173l-6-2-5 3-3 4 1 3 3 2 6 3 6-1 2-2 1-4-1-4zM763 921l-5 6 5 6 8 6 7 8 4-2 3-4 3-10 1-10-1-8-4-2-2-3-8 2-9 1zM816 231l15 5 8-3 1-3 0-3-6-16-13-7-8-7-2 1-4 9-5 6-3 12 7 6 1 5zM1064 928l4-4-2-7-5-8-4-5-7 2-6 5-7 4 5 6-1 11 6 4 7 1 7-1zM784 272l9 17-2 11 5-6 11 0 8-1 0-9 3-7 8-8-8-2-8-8-11-3-5 3-8 3zM756 898l0 8 9 5 9-1 8-2-1-12 5-7-4-12-5-4-7-4-8 9-6 4-8 8zM565 348l10-4 10 0 0-4-6-7-7-6-12-4-9 3-3 5-8 4 3 9 8 4 4 7zM1177 1123l-8-2 3 7 2 6 6-1 4 1 3-6-2-7z"/><path fill="#84b0e3" stroke="#fff" stroke-opacity="0.6" d="M1043 982l0-11-3-10-7-2-2-5-6 4-4 6 2 9 1 7 11 1 7 1zM896 948l9-4 6-3 3-8-3-6 0-7-7-3-11-5-5-7-8 3-3 5 6 13 0 5 3 1 9 4 8 6-7 4-3 2zM1031 952l-6-8-2-6-10-5-9 4-8-1-1 3-2 2-1 9 7 9 2 7 8-3 12 1 4-6 6-4zM422 612l-1 3 1 10-3 7 10 2 9 4 5 5-2-9-3-15 1-8-6 1-7-2zM1017 812l0 5 6 11 5 8 9 4 5-1 7-1 8-12 0-11-1-12-10-6-13 7-11-3 0 4-5 2zM1309 698l-10 7 5 5 7 9 7-3 9 1 6-4-1-7-7-8 1-11-9 1-7-1zM539 399l3-8 4-6 2-6-8-5-10-8-11-8-2 1-5 0-8 6-1 9 1 2 11 4 14 13 8 6zM922 799l0-2-4-7-1-6-3-1-1-2-10 4-9-3-11 4 4 12 3 11-1 11 13 0 11-10 8-8zM441 531l5 9-2 8 6 4 8 0 3-2-1-10 7-10 4-6-3-2-2-1-8-2-10-1-8 3zM542 434l-4 4 1 7-3 11 3 7 8 3 11 1 0-7 3-11 3-7-8-8-9-3zM1182 746l2 8 5 5 8 4 7 2 1 0 11-6 6-6 4-10-1-10-2-1-9 4-12-1-11-3-3 2-1 1zM871 197l2-8-4-10 4-13-6-14-8 0-9-1-7-4-9 9-3 14-2 9 13 4 14 6 8 12 2-1zM539 508l4-1 6-3 4-8-1-16 9-9-2-2-1-2-11-1-8-3-3 4-7 1-8 8-2 10 6 7 5 8 7 7zM623 234l-6 2-8 3 3 7 4 11 12-3 8 5 3-8 8-5 0-6-2-4-9-6-8-4zM120 646l-3 2 6 7-3 10 9 6 8-2 4-7 3-7-4-5 2-5-12 3-9-5zM467 503l-1 8 0 10 2 1 3 2 4 0 3-7 10-4 4-9-13-5-3-9-5 3-7 0zM546 269l5-7 8-6 0-8-6-5 0-10-8 7-15 0-9 6-2 2 0 5 4 6 4 9 5 4 7 1zM560 376l10 1 6 2 2-6 8-5 7-7-1-4 1-5-5-5-3-3-10 0-10 4-10 7-1 8-1 12zM498 515l7 3 5 7 4 1 6-1 4-9 5-5 8-3-7-7-5-8-6-7-2-1-3 1-5 9-9 5-6 4zM454 560l7 12-2 13 4 0 7-5 9-5 7-1 0-10 3-7-10-2-6-6-12 1-3 2zM843 147l7 4 9 1 8 0 2-2 3 0 0-2-1-1-9-2-10-1-9 2zM564 215l-4-3-8 2-8 5-2 0 1 6 12 2 4-1 4-4 2-4zM15 649l2 10 12-4 7 4 5-5-1-5-1-3-1-2-10-1-5-1-6 0-3 6zM999 839l-3 7 1 8 1 5 6 2 9-5 10 3 4-8 9-4 1-7-9-4-5-8-6-11-4 6-8 6-8 2zM1127 575l4 6 15 1 8-11 9-1-2-9-12-8-3-9-4-1-6 4-1 9-9 8-2 8zM1019 990l2-1 2-4 1-5-1-7-2-9-12-1-8 3-2 3-2 7 7 9 5 4 6 1 2 0zM854 285l-9-11-4-10-7 3-8 2-8 8-3 7 0 9 6 5 5 6 9 5 8-7 8 1 10-6zM1048 235l-6-1-8 8-6 9-8 3 1 9 2 10 5 5 6-7 11-6 9-2 0-9 2-8-6-8zM533 330l5 5 2 0 8-4 3-5 9-3 1-13 4-8-2-3-2-3-9 0-5-5-3 8-8 6-7 2-3 7 2 8zM488 668l-4-8 6-8 1-3-3-3-13 0-12-3-12 3-1 1 0 8 7 8 5 8 3 0 9 3 6-1 4 0zM505 418l4 2 12-4 7-12 9-5-8-6-14-13-11-4-2 13 1 9-8 9 3 4 0 5 1 2zM41 633l-3 11 1 2 1 3 6-2 9 2 6-4 2-7-1-4-2-2-10-5-8-2zM1192 514l-6 1-6 2-5 9-7 5 7 7 5 9 9-5 9 6 8-6-2-8 0-11-7-7zM54 700l-9 2 0 1 5 8 7 0 7 4 4-3 4 0 0-7 4-4-7-3-3-6-7-5zM851 303l-8-1-8 7-5 8 0 10 4 3 2 7 7 0 11 0 8 1 4-8-1-12 4-8-4-5-4-8zM1159 465l-7 8-11 2-5 5 5 8 12 4 2 10 6-6 12 1 3-4 2-8-8-6-5-9zM1056 803l1 12 0 11-8 12 5 1 5 4 6-3 8-1 2-10 10-4 3-8-4-3-1-6-9-1-10-3-7-2zM444 511l4-8 2-7-9-1-9-8-4 3-5 3 0 3 8 5 0 12 8 8 1 0zM154 698l4 7 4 5 9 0 9 1 1-12-3-7-2-1-4-2-7 3-10 4zM745 904l-11 10-6 10 0 3 2 3 9 2 10-8 9 3 5-6 2-10-9-5 0-8-8-8-3 1zM480 368l8 4 8-1 7 3 1-9 8-6-7-8-7-7-4-10-4 1-5 2-6 6-3 9 0 8zM90 726l-3 0-5 6 8-5 3-1zM144 699l10-1 1-2 0-9-6-9-5-3-4-1-2 13-8 7 5 3 1 6zM34 612l-3-7-3 5 0 2zM417 458l-2 1-4 10-2 8 9 5 5 11 5-3 4-3 3-4 2-8-3-6-6-7-4-6-2 0-3 0zM440 521l-1 0-8 2-9 4-7 1 2 12 0 10 8 8 3 1 9-1 7-10 2-8-5-9zM1066 859l-4-7-3-9-5-4-5-1-7 1-5 1-1 7-9 4-4 8 6 8 2 5 6 8 7 2 7 0 9-4 4-9zM517 359l2-1 7-7 8-9 4-7-5-5-5-8-7 4-11-4-12 5-2 3-2 4 4 10 7 7 7 8zM462 243l6-2-7-7 1-8-3-9-10-3-9 1-2 6-5 8-1 12 7 9 10 2 9 0zM1105 1083l6 4 3 2 3-1 6-5 3-7-4-2-4-5-5 4-7 0-1 2-1 3zM460 480l-6-8-8 3-9 0-2 8-3 4 9 8 9 1 7-2 4-2zM473 549l6 6 10 2 2-3 3-2 1-6-1-6-7-6-8-2-4-8-4 0-4 6-7 10 1 10zM68 659l10 4-4-7-3-9 0-7-4 0-4-2-2 7-6 4 2 5 2 7zM155 654l-11 1-3 7-4 7 1 4 2 1 4 1 5 3 9 1 8-8 1-2-1-5-2-6zM1119 460l9 9 6 11 2 0 5-5 11-2 7-8-4-11-6-7 0-12-9 2-13 4-8 8zM648 447l8-3-3-6 3-9 0-8-13 2-10 1-9-6-4 2-1 9 3 5 3 8 5 3 6 5zM461 492l-4 2-7 2-2 7-4 8-4 10 8-3 10 1 8 2 0-10 1-8-3-10zM1270 482l-12-5-6-10-8-5-5 9-8 5 2 8 6 9 0 9 5 2 6-1 8-8 6-7zM1168 567l6-3 2-10 4-7-5-9-7-7-5 1-7-2-8 5-2 9 3 9 12 8 2 9zM104 682l-4 4-4 9 1 8 1 1 8-1 5 3 5-7 5-7-6-9-6-2zM1089 559l7-6 7-3 0-3 1-5-5-10-8-4-5-7-3 0-1 1-3 13-8 8-1 11 5 3 3 2zM471 493l5-3 5-9 2-8-4-6-10-7-8-4-5 7-2 9 6 8 1 12 3 1zM1098 590l7 10 5 8 11-7 0-13 10-4 0-3-4-6-3-3-4-3-5 1-13 2-6 7-8 8zM68 712l-4 3 0 5 7 14 10-2 1 0 5-6-6-8-9-6zM927 964l7 0 1-1 2-2 1-7 3-8-2-8-7 3-9-3-9-5-3 8-6 3 4 6 8 6 1 7zM451 450l-11 4-11-2-2 1-3 3 4 6 6 7 3 6 9 0 8-3 2-9 5-7zM984 824l6 1 7 6 8-2 8-6 4-6 0-5 0-5-8-1-9-8-8-2-5 8-2 11-7 4zM1120 569l4 3 2-8 9-8 1-9-7-5-8-7-7 5-10 2-1 5 0 3 2 7 5 8 5 5zM890 809l-3-11-4-12-1-1-11 3-10 0-8 9 4 10 4 8 7 8 9-4 12 2 0-1z"/><path fill="#8bbae1" stroke="#fff" stroke-opacity="0.6" d="M803 461l13 2 11 5-5-11 4-16-4-14-4-1-2-3-4 8-10 7-9 2 4 6 0 10-3 6zM912 972l6-9-1-7-8-6-4-6-9 4-3 0-4 3-7 5-3-1 0 1 0 6-1 4 9 2 9 3 10 1 5 2zM585 434l11-2 10-8 11-4-5-12-7-6-7-4-6-2-9 2-1 7-8 6 0 6 4 9 5 7zM914 783l3 1 13-5 4-9 13-6-9-6-5-8-6-7-8 0-11 4-1 1 3 9 1 10 2 14zM908 174l1-9-6-4-2-6-8 0-6-4-7 0-5-2-3 1-3 0-2 2 6 14-4 13 4 10 14 2 11-3 10-7zM517 298l6 2 6 7 7-2 8-6 3-8-5-9-3-9-7-1-5-4-5 10-9 3-5 6 1 4 1 4zM916 185l-8-4-10 7-11 3-14-2-2 8-5 3 12 10 8 8 5 9 10-8 11-13 7-12zM95 626l7-2-3-9 0-10-7-2-10-2 0 6-5 7 1 10 10 7 2 0zM159 730l-4-9-8 4-12-3 0 6 7-1 11 5 11 6 3 1zM115 683l6 9 4 1 5 1 8-7 2-13-2-1-1-4-8 2-9-6-6 4-4 5-1 3 0 4zM62 634l1 4 4 2 4 0 9-5 8-4-10-7-1-10-4 1-4 1-9 7 0 9zM775 259l11 3 8-3 5-3 2-8 6-12-1-5-7-6-7 1-10-2-6-1-3 8-3 6 0 3 5 9-1 9zM863 733l-9 9 0 10 2 3 1 5 10-1 9 9 8-3 5-9 3-7-7-10-9-8-10-5zM603 391l-5 7 7 4 7 6 5 12 3 0 4-2 6-10-4-15 9-10-4-3-5-3-9 6-8-4zM929 192l10 8 2-14 11-10 4-13-3-10-6-3-10 7-15 6-13 2-1 9 0 7 8 4 3 9zM561 310l-1 13 12 4 7 6 6 7 8-10-4-12 9-9-12-6-11-1-10 0zM1030 914l-5-4-7 5 0 12-5 6 10 5 2 6 6 8 8-4 3-7 5-5-6-4 1-11-5-6zM94 683l-9-1-2 12-5 6 7 6 12-3-1-8 4-9zM575 302l11 1 12 6 2-2 4-1 1-7 3-5-1-8-5-9-11-3-9-4-3 10-11 4-7 12 2 3 2 3zM46 614l-6 6 0 2 2 3 8 2 10 5 0-9 9-7-6-4-8-4zM722 627l9 5 9-5 5-2 9 0-1-6 4-8-10-2-5-12-7-3-4 6-5 9-6 9zM893 155l8 0 1-4-3 1-10-1-2 0zM647 288l-6-11-3-6-2-12-8-5-12 3-6 5-5 5-3 10 5 9 1 8 11 1 12-10 14 5zM628 226l8 4 9 6 3-4-5-7-5-9-7 6-2 1zM990 989l-7-3-2 0-2 3 2 0zM559 226l-4 1 0 3-2 3 0 10 6 5 0 8 9 7 10 0 3-8 7-9-1-7-7-10-9-2-8-5zM492 244l3 10 8 2 8-3 8 0 0-5 2-2 1-8-3-9-4-5-3 0-4 2-8-1-9 1-1 9-5 6zM494 504l6-4 9-5 5-9-9-5-3-6-10-5-4 4-5-1-2 8-5 9 3 9 13 5zM84 675l1 7 9 1 6 3 4-4 5-1 0-4 1-3-10-3-4-3-5-9-6 1-5 4 1 4-2 4zM530 366l10 8 8 5 2-3 3-1 1-12 1-8-4-7-8-4-3-9-2 0-4 7-8 9-7 7zM593 236l-6 3 1 7-7 9-3 8 4 2 0 5 9 4 11 3 3-10 5-5 6-5-4-11-3-7-4-1-4-3zM519 229l3 9-1 8 9-6 15 0 8-7 2-3 0-3-12-2-1-6-7 0-7 5-10 1-3-1zM1021 989l-2 1-2 0 4 1 4 0zM1009 989l-5-4-2 6 9-2 4 1zM24 635l6-8 10-5 0-2-2-4-4-4-6 0-2 8-4 9-2 5zM42 705l-1 3-1 1 2 1 12 4 10 6 0-5-7-4-7 0-5-8zM919 699l-4-8-8 2-12-1-10-2 2 10-2 7-3 7 6 4 10-3 6 4 9-8 5-6zM963 787l3-10-7-6-5-6-4-2-3 1-13 6-4 9-13 5 1 6 4 7 12-3 10 5 12-4zM72 678l-7 2-6 5 0 2 7 5 3 6 7 3 2-1 5-6 2-12-1-7-5-3zM1042 982l-7-1-11-1-1 5-2 4 4 2 7-1 9-3zM1179 510l0-7-6-6-12-1-6 6-3 7-1 10 4 4 1 7 7 2 5-1 7-5 5-9 6-2zM645 236l2 4 0 6 11 3 9 3 5-8 2-3-7 3-11-4-7-7-1-1z"/><path fill="#9ecae3" stroke="#fff" stroke-opacity="0.6" d="M1036 571l-8 2-1 9-6 15-2 9 9 2 10 6 6-6 5-10 7-6-2-8-9-7zM758 266l-5 10 3 9 1 11 5 6 8 3 11-1 9-3 1-1 2-11-9-17 2-10-11-3-1-1-8 14-3-8zM135 722l-1-3-8 2-8-3-8 8 1 0 10 6 10-4 4 0zM861 692l11-9 8 2 1-9 0-9 1-7-3-2-4-2-10 4-8 1-8 2 1 11 0 9 3 8zM760 303l1 12-3 12-2 10 3 4 4 3 13 0 7-11 13-6-3-9 0-11-3-6-9 3-11 1-8-3zM785 941l-3 4-4 2-3 5 0 5 2 1 3-6 6-10 0-1zM971 955l-1-6-3-10-11-6-3-6-5 9-9 2 2 8-3 8-1 7 10 5 10-5 8 2 2-2zM482 286l-3 9-1 4 2 3 7 9 8 1 5-4 5-6 5-7-1-4-1-4-9-1-7-6zM1113 273l4 6 9 1 13-1 5-3-9-2-10 1-9-3-4 1zM601 235l4 3 4 1 8-3 6-2 5-8 1-3-8 2-6 8-9 3-5-3zM23 642l5 1 10 1 3-11 1-8-2-3-10 5-6 8-4-1-2 4-1 4zM116 699l-5 7 1 5 6 7 8 3 8-2 3-6-1-10-1-6-5-3-5-1-4-1zM543 403l4 6 10-1 6 1 11 2 8-6 1-7-2-12-5-7-6-2-10-1-7-1-3 1-2 3-2 6-4 6-3 8zM567 217l-3-2 1 3zM996 928l-5-9-6-5-9-1-12 8-10-1-2 3 1 4 3 6 11 6 3 10 8-2 7-5 8-1 2-2 1-3zM556 434l8 8 10-8 9-1-5-7-4-9 0-6-11-2-6-1-10 1 3 10-3 12zM49 597l-6-8-3 2-1 0 0 2-5 8-3 4 3 7 4 4 2 4 6-6 9-6-1-5 2-4zM57 654l-2-5-9-2-6 2 1 5-5 5 1 8 5 4 3 0 5 1 5-5 4-6zM949 913l-2-11-6-6-3-1-11 4-6 17-10 4 0 7 3 6 9 5 9 3 7-3 9-2 5-9-1-4 2-3zM173 739l-2 1-4-1 7 3 1 0zM1016 903l-4-3-8 8-10 0-7 1-2 5 6 5 5 9 0 8 8 1 9-4 5-6 0-12 7-5-4-3 0-4zM171 740l2-1 2-2 1-8 6-9 2-6-2-2-2-1-9-1-9 0-3 5-4 6 4 9 8 9zM118 718l-6-7-1-5-5-3-8 1-3 7-2 7 1 8 6-2 10 2zM734 241l-4 4 4 11-2 6-1 11 13-3 9 6 5-10 5-2-1-1-8-6-4-8-2-4-3 0-6-4-2 0-3-1zM477 211l-6-2-6 5-6 3 3 9-1 8 7 7 10 2 7-2 5-6 1-9-5-6-3-7-3 0-1-3zM979 709l-3-8 3-8-7-8-8 0-5 11-12 10-7 11 2 5 8 2 5 5 8 5 5 0 4-3 7-6 4-9zM568 284l11-4 3-10 0-5-4-2-10 0-9-7-8 6-5 7-7 4 3 9 5 9 5 5 9 0zM1028 897l0-11 9-6-6-8-2-5-6-8-10-3-9 5-2 7-1 5 5 10 7 7-1 10 4 3 5 0zM1004 985l-7-9 2-7-3 1-2 1-5 10-6 5 7 3 1 0 9 3 2-1zM490 273l-2-6-7 3-9-4-6 2-2 9-5 7 8 2 4 9 8 0 3-9 10-6zM972 983l-7-11-4 2-2 6 0 4-1 1 5 0 9 4 7 0 2-3zM975 965l9 6 10 0 2-1 3-1 2-3-2-7-7-9 1-9-8 1-7 5-8 2 1 6-4 6zM22 687l8-1 1-4-4-9-9 0-4-7-6 2-2 1 4 8 7 7 3 6zM114 669l6-4 3-10-6-7-9-2-11 3-3 5-3 5 5 9 4 3 10 3zM565 218l-2 4 8 5 9 2 7 10 6-3 8-1 0-2-3-2-8-3-9-2-6-6-8-3zM934 975l0-9 0-2-7 0-9-1-6 9-1 2 3 2 10 2 3 1zM957 961l-10 5-10-5-2 2-1 1 0 2 5 6 3 5 9 3 8 0 2-6 4-2 0-5 0-4z"/><path fill="#b4d8e5" stroke="#fff" stroke-opacity="0.6" d="M1082 220l-3-12-8-7-8 3-15 1-8 3-3 3-1 5 3 11 3 7 6 1 2 3 11 0 11 0 9-7 2-4zM723 317l2 10 9 9 9 5 13-4 2-10 3-12-1-12-14 0-12 2-14 2zM932 714l-10-3-4-6-5 6-9 8-2 9 8 11-2 8 11-4 8 0 3-10 4-5 8-6-2-5zM728 936l-2 6 0 1 10 5 13 8 13 11 5-8 8-2 0-5 3-5-7-8-8-6-5-6-9-3-10 8-9-2zM895 615l-10 0-5 6-2 9-7 4 4 7 0 7 0 8 4 2 3 2 7 3 10-6 5-1 0-11 3-10-1-12-1-4-3-3zM8 668l6-2 1-4 2-3-2-10-1-1-5 9-5 9 2 3zM962 812l-8-8 2-9-12 4-10-5-12 3 0 2-1 3 1 9 6 3 3 9 11 0 10 3 10-6zM974 885l-9-1-5-5-4 1-10 9-5 7 6 6 2 11 5 7 10 1 12-8 9 1 2-5-3-5 0-11-4-5zM930 649l-14 4-5 7 4 8-2 8 5 8 14-1 8-8 13 2-6-9-6-10-1-10zM913 676l2-8-4-8-4 0-3-4-5 1-10 6-7-3-1 7 0 9-1 9 2 3 3 2 10 2 12 1 8-2 1-4 2-3zM405 693l-8-5-7-5-5 2-5 1-4 9-4 8 1 6 4 4 3 0 9-5 4 0 7-7 4-2zM940 675l-8 8-14 1-2 3-1 4 4 8-1 6 4 6 10 3 8 3 7-11 12-10 5-11-1-2-4-3-6-3zM1134 521l8 1 9-3 1-10 3-7-2-10-12-4-5-8-2 0-7 9-7 2-1 9-3 4 5 7 3 6zM85 660l6-1 3-5 3-5-4-8-3-10-2 0-8 4-9 5 0 7 3 9 4 7 2 1zM942 977l-3-5-5-6 0 9-7 4 7 2 9 2zM486 220l5 6 9-1 8 1 4-2-3 0-10-2-8-7-8-2zM984 893l0 11 3 5 7-1 10 0 8-8 1-10-7-7-5-10-6 3-5 10-10 2zM422 527l9-4 8-2-8-8 0-12-8-5-6 4-10 4-6 7-2 4 2 4 2 4 3 3 5 2 4 0zM990 886l5-10 6-3 1-5 2-7-6-2-1-5-8 1-10 0-4 11-9 4-6 9 5 5 9 1 6 3zM907 635l-3 10 0 11 3 4 4 0 5-7 14-4 10-1 2-6 2-4-6-3-5-9-7-1-11 3-9-5zM499 286l9 1 5-6 9-3 5-10-4-9-4-6-8 0-8 3-8-2-4 6-3 7 2 6 2 7zM955 729l-5-5-8-2-8 6-4 5-3 10 6 7 5 8 9 6 3-1 4 2 2-11 6-7 1-13zM1039 227l-3-11-7-1-10-2-7 2-8 5-1 11 1 10 6 8 6 2 4 3 8-3 6-9 8-8zM1201 509l8-5-3-8 1-14-7-5-8 0-8 5-6 3-2 8-3 4 6 6 0 7 7 5 6-1 5 2zM943 983l10 2 5 0 1-1 0-4-8 0-9-3z"/><path fill="#d0e6ea" stroke="#fff" stroke-opacity="0.6" d="M1186 366l-6 7 0 12-2 7 11 1 9 1 9 6 2-2 3-1 3-8 2-11-6-6-10-2-8-5zM701 240l-4-3-5-1-9 2-8 3-1 0-2 3-5 8 5 7 2 8 1 9 8 2 9-9 6-1 6-10-1-10zM581 386l2 12 9-2 6 2 5-7 6-12-2-7-6-8-8-3-7 7-8 5-2 6zM368 200l1-11-5-8-3-2-3 1-7 2-8 6-6 1-4 7 1 6 3 12 9 4 9-2 5 4 9-3 3-4zM966 870l9-4 4-11-4-8-6-4-6-5-5 8-6 1-8 6 8 8 0 11 4 8 4-1zM989 981l5-10-10 0-9-6-8-4-2 2 0 4 0 5 7 11 9 3 2 0zM1217 378l-2 11-3 8 8 3 7 10 8 3 3-1 6-10-1-5-7 6-5-9-5-9-6-7-1-1zM505 302l-5 6-5 4-1 9 4 6 12-5 11 4 7-4-2-8 3-7-6-7-6-2-7-3z"/></g>
<g transform="translate(865,0) scale(.5)" stroke-width="1.1" stroke-linejoin="round"><path fill="#3b0f2b" stroke="#fff" stroke-opacity="0.85" d="M576 1068l-10-8-8 2 4 9 6 9 3 2 2 0 2-5zM1299 410l7 11-9 10 0 2 12-1 12 4 9 3 2-6 5-3-7-5 0-10-4 2-9-5-9-6-7 2zM1416 843l-3-5-6-7-9 6-13 0-7 7 2 10 7 12 4 1 3-3 9-5 10-4 3-2z"/><path fill="#49133d" stroke="#fff" stroke-opacity="0.85" d="M1348 466l9 0 8-5 4-2 3-4 0-2-6-5-1-15-8-7-10 1-10 3-5 3-2 6-1 10 2 6 2 5 6 2zM612 1033l8-3 6-10 1-7 1-11-9 0-7-1-3 1 2 14-8 4-5 3 3 2 4 9zM1437 465l-12-3-6 4-1 5-4 2 6 7 3 12-2 10 11 2 10-10 13 4-9-12 3-13-3-13zM1396 396l-5 5-2 8 1 8 7 8 7 5 5-6 5-1-1-4-1-9-13-4 0-13zM1420 791l-7-4-8 7-4 8-5 10 1 9 10 7 9-7 9-6 9-9 0-2-2-4-2-5zM1311 494l1 2 1 3 12 1 5 9 7 3 6-7 10-2 0-3 1-2-5-8-3-4-9-4-9 0-6 7-10 3zM1366 403l2 4 10-4 11 6 2-8 5-5 3-3 0-3-13 0-8 4-6 6-9 0zM619 1002l9 0 3-2-2-10 0-1-4 9-13 3zM1362 521l-2-11-7-7-10 2-6 7 3 11-9 7-2 14 11 3 10-8 10 1 6-6 4-6zM1334 474l3 8 9 4 3 4 5 8 3-4 6-3 0-12-3-10 5-8-8 5-9 0-9-4zM1377 791l1-9-4-7-11 0-6-7-7 7-9 3-3 9 3 10 8 2 2 5 10 1 9-6zM1425 815l-9 6-9 7 0 3 6 7 3 5 9-3 6 3 2-6 7-9 1-7-9-6 2-9zM1271 528l0 12-3 6 1 3 3 3 9 5 10 1 7-5 12-5 3-8-5-3-2-7-8-7-12 4-9-7zM1378 844l7-7 13 0 9-6 0-3-10-7-1-9-9 0-7-1-6 9 0 14 0 9z"/><path fill="#59184f" stroke="#fff" stroke-opacity="0.85" d="M1331 530l9-7-3-11-7-3-5-9-12-1 0 12-5 8-2 11 2 7 5 3 9 4 7 0zM1250 895l-7-3-12 1-5 4-4 2-3 6 2 8 6 4 3 11 4 3 4-2 4-3 3-2 6-7 6-1 0-3 2-12zM1409 424l-5 6-1 3 2 10 12 10 2 13 6-4 12 3 9-5 0-1 0-4-5-5-5-8-9-4-9-3-3-8-1-4zM609 1078l-2-8-13-2-6 6-13 3-2 5 2 2 7 4 11 3 11 2 6-10zM1469 456l6-14-9 0 0 9 0 5zM1126 803l-6 2-5 8 1 2 11 5 15-7 10 4 2-3 2-6 0-2-26-6-4 1zM642 931l6 2-2-7-6 3zM1453 774l-6 1-5 7-6 7-6 6 2 5 2 4 11 0 7 1 10 2 5-7 2-10-9-7-3-7zM1397 425l-7-8-1-8-11-6-10 4-8 11-3 8 8 7 1 15 6 5 12-1 8-9 11-10 1-3zM576 1068l-1 9 13-3 6-6 13 2 1-2-2-8-6-3-1-9-11 2-6 6-12 3-4 1zM702 944l-5-1-2 1-9 1-11-6-1 0-8 12-10 1 0 1 4 10 5 7 9 2 2 7 9 1 7-12 8-5 9-9-1-2zM1330 425l7 5 10-3 10-1 3-8 8-11-2-4-3-3-1 0-9 3-9 2-9 6-5 4zM1446 459l0 1 3 13-3 13 9 12 2 1 9 3 11-4 2-13 0-8 5-10-9-7-6-4-3 0-1 4-7 6-8 4-2-11zM656 944l0 8 10-1 8-12-10-5-12 3zM1333 460l-2-5-7 9-12 0-4 11 7 9-3 8 10-3 6-7 9 0-3-8 5-12zM599 1048l6-4 0-10-4-9-3-2-2 1-7 5-7 5 8 14-2 2z"/><path fill="#621d62" stroke="#fff" stroke-opacity="0.85" d="M1509 463l2 1-3-11-2 0zM1007 355l-11-2-3-10-11-4-10 5-3 6 2 11-2 7 5 4 6 7 7 1 7-5 12-5 0-4 2-3zM1446 459l2 0-1-3-1-1zM629 990l2 10 4 1 4 0 5-16 10-8 11-7-5-7-4-10-9 9-14-5-6 4 2 4 3 9-2 12-1 3zM1350 539l-10 8-11-3 6 8-4 12 2 11 1 1 10-4 11 6 15 0 3-2 1-4-1-13-10-5-3-14zM628 1002l-1 11-1 7-6 10 5 6 9 8 3 7 9-8 3-15 11-7-2-4-4-5-12-4-3-7-4 0-4-1zM1412 775l8-9-1-10-10-7-3-10-3 0-3 1-4 5-7 4-2 9 4 8-4 10 10 1 3 7 10 0zM642 931l-2-2-5 2-10 7-1 9 1 9 2 5 6-4 14 5 9-9 0-1 0-8-4-7-2 1-2-5zM1469 790l-2 10-5 7 3 10 11 6-3-11-1-12 4-11 0-2zM1392 699l-6 1-6 7-2 13 1 3 7 9 10 2 4 6 3-1 3 0 4-3 3-5-3-8 2-10 1-11-5-3-10-2zM1416 853l6-3 9-2 7-1-7-4-6-3-9 3zM450 233l2 8 9-3 11 11 9-3 0-10-8-13 0-11-3 0-4-2-4 9-13 5zM983 249l1-5-11-5-13-3-8-11-11 5-4 9-1 9 4 9 0 11 2 1 2 3 6 2 10 1 8-1 6-4 3-9 7-6zM1359 839l-2-10-9-3-9 6-12-2-6 5 4 5 1 9 3 10 3 2 6 2 11-6 9-1 3-8 5-4zM666 1002l10-3 11-11 0-4-2-4-9-1-2-7-9-2-11 7-10 8-5 16 3 7 12 4 4 5zM1469 456l6 4 9 7 9 0 10-2 6-2-3-10-8 1-9 0-10-1-3-11-1 0z"/><path fill="#692774" stroke="#fff" stroke-opacity="0.85" d="M1463 769l7-8 6-3-2-6-2-5-8 4-9-4-11 2-2 5-2 2 1 8 6 11 6-1 4 2zM1263 514l-16 2-11 5-2 6 2 9-1 7 10-1 11 6 12-2 3-6 0-12 6-8-1-6-4-8-1 0zM1452 805l-7-1-11 0 0 2-2 9 9 6-1 7 10 0 4 7 9-1 10-3 3-8-11-6-3-10zM1363 600l9-11-2-11-15 0-11-6-10 4-6 12 9 9-4 11 5 2 5 5 10-2 8-4zM1374 834l0-14 6-9-6-5-4-7-9 6-10-1-3 6-2 8 2 8 9 3 2 10 7 5 3-2 5 1zM1492 587l3-12-7-6-9-5-9 2-6 0 1 7-5 8 6 5 3 10 4 6 8-2 9-5 8 1zM1338 610l-5-2-11 2-9 0-6 6-2 4 6 8 6 10 1 11 6 1 5 2 7-9 10-2 1-9-6-6 2-11zM1232 516l-7-8-7 1-6 2-9-1-3 2-3 5-3 9 5 12 9-1 7 11 13 0 4-1 3-4 1-7-2-9 2-6zM1297 905l-7-2-2-10-2 0-8 1-7 6-11-1-1 2-2 12 0 3 5-1 10-1 6 7 5 7 3-14 8-4 3-3zM1397 658l-5-1-10 2-3 13-12 2 0 3-2 4 4 9 10 1 7 9 6-1 6-2 0-13 2-8 2-15zM1489 766l-8-2-5-6-6 3-7 8-6 7 3 7 9 7 7-3 3-9 9-3 4-1zM1257 501l-10-9-3-11-6 3-7 3-3 5 1 9-4 7 7 8 4 5 11-5 16-2 8-8zM674 1043l-6-7 0-9-5-2-3-4-11 7-3 15-9 8 0 3 3 5 4 2 7 1 9-3 7 3 5-4 3-7zM1226 897l5-4 2-9 0-6-1-11-10-7-6-5-7 8-4 6-9 8 3 8 5 7 10 1 8 6zM1249 865l-9-2-8 4 1 11 0 6-2 9 12-1 7 3 9 6 1-2-5-12 7-14-6-12zM1185 867l-6-5-8-5-10 3-6 7-2 8 5 11 8 2 8 1 6-9 8-5zM691 1049l-7 1-9 1-3 7-5 4 2 7 6 1 4 8 3 3 5-1 5-2 4-4-6-12 7-7 3-3zM718 909l2 9 3 8 11-3 10 4 8-2 0-1-6-6 2-14-8-7-9 2-11-5-3 9-3 1 0 3zM1123 822l-2 12 7 6 5 2 6-1 5-5 7-6 4-6-3-7-10-4-15 7-11-5-1 2z"/><path fill="#6f2f85" stroke="#fff" stroke-opacity="0.85" d="M1393 619l4-4-3-9 5-11-9-6-8-7-9-6-3 2 2 11-9 11-2 9 5 9 11 0 9 6zM1277 392l1 0 0-2-1 0zM755 981l-10 0-9 8-2 6-1 4 6 7 2 5 2-2 4-9 9-7 5-9 1-1zM1329 544l-7 0-9-4-3 8-12 5-7 5-1 10 8 8 0 6 10-2 13-9 12 4-2-11 4-12zM1382 461l5 13 9 1 7 1 11-3 4-2 1-5-2-13-12-10-2-10-11 10-8 9-12 1 0 2zM1377 618l-11 0-5-9-8 4-10 2-2 11 6 6-1 9 3 1 4 2 9 2 12-4 8-7 2-5 2-6zM1366 870l-7-5-1-9-9 1-11 6 3 10-1 12 1 7 3 1 0-1 8-3 6-7 7-4 2 0zM1610 518l4 2 0-3-6-2zM1491 521l0-8-3-7-3-6-8-2-11 4-9-3-6 7 3 9-1 11 4 6 10 8 11-1 7-12 9 1zM1080 133l5-1-7-3-1-2zM709 954l11 2 3 7 9-10 9-5 12-4-2-5 4-7-3-4 0-3-8 2-10-4-11 3-4 10-3 7-8 9zM1050 114l-7 4-2 9 5 5 5 7 10-6 9 0 9 1 1-1-3-6-4-5-11-10-9-1-3 1zM1262 873l-7 14 5 12 11 1 7-6 8-1-4-7 5-13-6-7-7-3-10 0-5-5-3 3zM1374 642l-12 4-9-2 4 10 7 10 3 10 12-2 3-13 10-2-2-8-4-8-4-6zM1270 559l-6 9-2 9 8 5 1 10 10 1 6-1 8-4 0-4 3-2 0-6-8-8 1-10-10-1-9-5zM1230 403l7 8 13 3 10 7 6-3 3-3 5-9 0-12-8-2-8-1-7 1-8 4-7 7-3-5zM1457 532l-4-6-7 3-6 2-9 0-5 5 1 8-3 9 13 1 12 7 12-1 7-10-1-10zM1154 935l8 4 5-9 5-4 4-8-11-1-9-5-10-11-4 1-2 7-5 9 4 10 4 9zM988 779l-8 4 3 9 1 7-3 10 7 2 10 8 10-1 3-2 2-5-4-9-7-11-2-12-1 0zM1321 571l-13 9-10 2-3 2 0 4 8 7 1 9 3 12 6-6 9 0 11-2 4-11-9-9 6-12-1-1zM1266 392l8 2 3-2 0-2-8 3-9-2-2 0zM1287 873l-5 13 4 7 2 0 7-3 9-4 6-3 1-6 2-7-4-5-7-5-9-2-4 4-8 4zM600 1057l6 3 2 8 11-3 6-8 12-3 0-3-3-7-9-8-5-6-8 3-7 1 0 10-6 4zM660 1059l-9 3-7-1 5 9 1 0 8 1 9-2 2 0-2-7zM1360 469l3 10 0 12 9-3 12 5 4-7 8-11-9-1-5-13-10-6-3 4-4 2z"/><path fill="#74409d" stroke="#fff" stroke-opacity="0.6" d="M1528 631l9-5-5-9 7-14-1-10-8-2-6-3-6 2-5 5-8 4-3 8 0 7 4 8 7 2 5 7zM1441 764l-1-8-11-2-10 2 1 10-8 9-2 9 3 3 7 4 10 4 6-6 6-7 5-7zM840 648l1 6 9 7 9 6 7 7 5-2 5 0 3-7 6-4 1-9-5-9-7-6-8-3-8 4-7 1-8 2zM1214 893l-10-1-8 9-3 10-11 4 0 1 5 8 10 3 9-4 6-3 9-7-2-8 3-6zM326 251l5-6 1-5-2-3-3-10-8 1-5-9-6 8-9 0-6 4 1 11 4 5 6 7 8 4 6-1zM1273 840l-9 4-5 5-2 5 2 4 5 5 10 0 7 3 8-4 4-4 4-8 0-10-8-3-12-5zM1497 529l-3-1-9-1-7 12-11 1 1 10-7 10 0 3 3 3 6 0 9-2 9 5 11-7 5-8-2-8-3-6 0-9zM1579 517l9-8 8-2-3-6-1-9-13-4-9-1 0-1-6 10-5 8 7 5 5 12 1 0zM1388 486l-4 7 1 8 8 6 1 10 10-2 5-4 9-2 1-4 2-3 2-10-3-12-6-7-11 3-7-1zM1307 616l-3-12-1-9-8-7-8 4-6 1-10-1-2 7-5 6 10 5 5 10 3 9 10 0 4-6 9-3zM473 223l8 13 0 10 1 1 1 0 11-1 4-6 3-9 1-8-3-1-8-7-11-2-2-3-5 2zM1382 582l8 7 9 6 5-5 9-7 7 0-3-10 5-6-2-11-11-1-7-5-10 2-8 11-10 9-1 4zM1242 636l0-10 1-13-13 7-11-1-10-2-1 3-1 3 2 7 2 6 7 2 8 6 5 5 10-1 6 0 1-2zM1476 823l-3 8-10 3 0 8-5 7 0 1 7 6 4-8 1-8 2-8 4-8zM1146 901l6-8 6-7-5-11 2-8-5-4-5 1-9 1-6 5-3 8 0 9 5 10 10 5zM1364 664l-7-10-4-10-4-2-3-1-10 2-7 9 6 7-2 11 7 8 10-3 8 8 4 1 3-3 2-4 0-3zM1551 554l5 6 10 3 6-2 7 3 0-7 2-10 6-6-6-7-5-4-4-9-1 0-12 8-5 8-8 7 0 3zM1010 318l-7-4-5-10-13 1-9 9-11 3-2 3 2 8 0 7 1 5 6 4 10-5 11 4 5-8 4-8 8-5zM1341 892l-8 4-3 0 2 3 8 4 4-10zM815 636l14-8 12 10 0-10 0-10-3-12-12-4-9-1-4 1-3 7-8 7-2 11 0 1zM1366 534l-6 6 3 14 10 5 1 13 10-9 8-11 10-2-8-7-6-10 1-8-8 2-11 1zM1554 537l5-8 12-8-5-12-7-5-7-5-12 7-7-5-4 6-3 7-1 9 3 10 7 7 11 4zM264 742l-9 1-7 7 2 6 5 7 4 2 4-1 8-5 4-1-2-3 2-13-2-3-4-1zM1024 245l-2-8-4-8-6-4-12 2-7 6-7 5-2 6-1 5 1 6 13 5 11 6 10 3 4-11 7-6zM712 869l-10-3-6 4-6 1-2 2 5 1 11 0 3 8 7 6 0 11 0 5 3-1 3-9 1-8-3-9zM1263 817l-5-7-7 6-9 5-1 3 1 4 8 6 2 7 7 8 5-5 9-4 4-8-3-7 0-7zM1230 928l-3-11-6-4-9 7-6 3-9 4 3 5 0 7 6 5 4 1 5-7 9-3 9-3 1-1zM1315 890l-5-7-6 3-9 4-7 3 2 10 7 2 0 2 3-3 8-5 9-3 5-2zM1242 926l-4 3 5-3 2-2zM998 198l2-8 0-8-8-8-8 5-15-7-11 3 1 10 8 10-1 9 11-4 7 7 10-3zM1596 507l-8 2-9 8-7 4 4 9 5 4 6 7 11-4 8 4 2-4 0-4 5-7 1-6-4-2-2-3-3-1-8-4zM1419 505l-1 4 5 7 0 9 8 6 9 0 6-2 7-3 1-11-3-9 6-7-2-1-13-4-10 10-11-2zM1199 885l-3-8-5 0-3-2-8 5-6 9 4 10 2 8 2 8 11-4 3-10 8-9zM1333 896l8-4-1-7 1-12-3-10-6-2-3-2-7 4-9 7-2 7-1 6 5 7 7 4 4-2 4 4zM1606 541l1 12 3 2-1-4-1-9 0-5z"/><path fill="#7b4fb1" stroke="#fff" stroke-opacity="0.6" d="M45 687l-7 0-5 7-2 6 3 5 6 4 4-1 12-6-5-8-1-9-2-1zM1108 939l2-10 1-10-4-5-7-8-3-7-8 3-7 0-5 7-5 10 9 10 12 7 3 10 1 0 4-1zM625 1057l-6 8-11 3-1 2 2 8 1 5 1-3 11 8 9-6 9-5 9-7-5-9-4-2-3-5zM702 944l6 8 8-9 3-7 4-10-3-8-2-9-4-2 0 3 2 10-5 16-8 5-6 2zM984 207l-7-7-11 4-4 8-7 4-3 8 0 1 8 11 13 3 11 5 2-6 7-5 7-6-2-9 1-9-5-5zM1287 422l-11 2-7-9-3 3-6 3-4 9 1 5 9 4 8 11 8 7 4-1 2-3 7-8 2-12 0-2zM700 963l-8 5-7 12 2 4 0 4 10 4 6 7 4 8 8-1 7-7 11 0 1-4 2-6 0-8-5-13-8-5-3-7-11-2zM1172 570l-2 10-9 3 8 6 3 5 2 10 8 3 13-2 6-6 4-7-1-7-1-4-7-2-8-5-5-9zM1026 219l8-3-1-9 3-6-8-6-4-6-6 1-11-4-7 4-2 8-4 6 5 5-1 9 2 9 12-2 6 4zM1303 462l-9-3-6-6-2 3-4 1-3 2 0 3-3 11 4 9 4 10 8 4 13-7 6 5 1-2 3-8-7-9 4-11zM1093 936l-12-7-9-10-2 2-3 0-2 12-6 6 6 8 4 7 10-3 7-3 10-2zM1521 470l1 7 7-3-8-5-4-2zM1297 850l-4 8 9 2 7 5 4 5 9-7 7-4-3-10-1-9-4-5-3-2-4-2-3 0-9 4-5 5zM1522 477l-1 4 0 2 3 13 9 5 7 5 12-7 7 5 5-8 6-10-9-1-7-13-2 0-2 0-6 2-8 5-10 3 3-8zM1546 544l-11-4-7-7-3-10-10 3-8 8-8-3 0 9 3 6 2 8 9 4 8 6 9-2 9-7 7-8zM1374 806l6 5 7 1 9 0 5-10 4-8 8-7-3-3-10 0-3-7-10-1-4 4-5 2-1 9-7 8zM944 219l-8-9-6-12-9 5-8-3-7 4-4 10 7 9-3 8 1 1 8 1 13 8 9-2 4-9 11-5 0-1zM731 968l5 13 0 8 9-8 10 0 0-12 8-7-1-10-9-8-12 4-9 5-9 10zM1205 869l4-6 7-8-1-2-1-3-4-3-4-5-7-5-11 1-5 7-10 5-2 2 0 5 8 5 6 5 3 8 3 2 5 0zM1252 841l-2-7-8-6-9 6-11 3-8 13 1 3 1 2 6 5 10 7 8-4 9 2 7-4 3-3-2-4 2-5zM1180 907l-2-8-4-10-8-1-8-2-6 7-6 8 10 11 9 5 11 1 2-1 4-1 0-1zM1526 514l3-7 4-6-9-5-3-13-14 6-9 7-10 10 3 7 0 8 3 7 3 1 2 2 8 3 8-8 10-3zM1346 818l2-8 3-6-2-5-8-2-6 2-9 1-3 10 0 12-9 9 4 2 3 2 6-5 12 2 9-6zM737 852l-7-2-6-10-10 3-3 6-8 6 2 5-3 6 10 3 6 8 10-5 8-2 8-9zM850 704l6-10 5-11 5-9-7-7-9-6-9-7-5 5-7 7 0 8 0 16 6 7 5 4 6 3zM755 969l0 12 7 2 5-5 4-7 4-8 2-4-3-1-11 4zM1329 449l1-10-9-3-12-4-12 1-2 12-7 8 6 6 9 3 9 2 12 0 7-9zM1357 494l-3 4-1 2 0 3 7 7 2 11 8 7 11-1 8-2 4-3 1-5-1-10-8-6-1-8-12-5-9 3zM1499 562l-11 7 7 6-3 12 6 9 3 1 4 2 8-4 5-5 6-2-1-10 2-7-4-7-8-6-9-4zM707 801l5 7 8 10 4 2 3-2 7-11 0-10 9-12-6-9-6-6-12 3-9 3-5 6 0 7zM1240 455l4 6 4 9 10 0 8-6 13-2 0-3 3-2-8-7-8-11-9-4-10 1-4 3-7 7zM960 372l9-4 2-7-2-11 3-6-6-4-1-5-12 1-10 5-8 7-2 7 0 6 7 4 5 7 8 5zM1055 914l-14 3-8-9-9 7 1 11 3 7 9 6 6 3 9-1 7-2 6-6 2-12zM1277 392l-3 2 0 12-5 9 7 9 11-2 10 9 9-10-7-11 2-2-7 2-8-4-6-6-2-8z"/><path fill="#7b60c4" stroke="#fff" stroke-opacity="0.6" d="M1197 801l-5 3-1 9-8 6 2 10 3 9 11-1 7 5 4-11-2-7 5-9-8-4-3-9zM1379 691l-10-1-4-9-3 3-4-1 0 9-9 7-5 7 2 4 1 4 11 3 8-2 12 5 2-13 6-7zM928 241l-13-8-8-1-5 15-2 9-1 13 12 2 13 1 16-4 0-11-4-9 1-9zM1272 506l3-11 9-3-4-10-4-9 3-11-13 2-8 6-10 0-2 6-2 5 3 11 10 9 14 5zM869 243l0-10-1-3-3-2-10-4-16 2-9 0-8 4-2 6 9 9 3 10 11 4 6-4 9 0 9-4zM660 765l5 7 1 0 12-2 5-6 8-4 0-6 2-7-10-4-3-4-7-7-5 4-10 6-8 0 11 7-5 5zM1182 560l1 5 5 9 8 5 7 2 5-16 15-2 5-15-13 0-7-11-9 1-6 4-7 8-5 3zM1617 586l8-5 7-14-11-3-7-3-2 6-3 6 1 7zM1539 555l-9 7-9 2 4 7-2 7 1 10 6 3 8 2 4 0 4-2 4-10 4-13 2-8-5-6-5-7zM1617 586l-7-6-1-7-7-1-11-1-7 1-3 6-1 12-4 7 9 3 1 0 11-8 9-4 10-1zM769 935l12 4 6-1 2-6 7-8 2 0-1-4-4-7-8-11-5 0-5-1-4 10-10 11-9 2 0 1 0 3 3 4zM1203 607l6 10 10 2 11 1 13-7 2-3-4-7-6-10 0-8-9 4-11-7-11 3 1 7-4 7zM1225 787l-4-2-5-1-6 3-4 8-4 7 3 9 8 4 12 3 7-5-1-6 0-10 0-6zM466 210l4 2 3 0 5-2-4-6-10-4zM929 872l11-6 12 5-2-6 2-5-6-11-1-7-10-8-5 0-5-3-5 3-6 1-1 3-3 3 2 7-1 11 7 9zM894 194l-9 2-7 9-9 1 0 9-6 4 2 9 3 2 1 3 12 0 13-6 12 4 3-8-7-9 4-10-2-3-4-3zM993 290l-6-15-13-5-6 4-8 1 8 13-3 12 0 17 11-3 9-9 13-1 0-4zM255 763l-1 1 1 2 4-1zM443 223l-6-6-8-2-6 1-5 4 2 10 0 8 3 10 8 2 12-1 3-4 6-4-2-8-1-9zM850 588l-9-7 0-9-3-4-7 0-5 1-1 4-1 8-4 10-3 10 9 1 12 4 8-6 6-5zM1156 808l-2 6 8 1 10-2 11 6 8-6 1-9-2-4-10 8-24-2zM1119 977l6 3 1 0 0 1 4-5 2-7-6-5-9 1 1 6-5 5zM1119 977l-6-1-1 1 0 4-1 3 1 0 13-4zM1387 866l-7-12-2-10-4-1-5-1-3 2-5 4-3 8 1 9 7 5 1 8 7-1 9 1 5-8 3-3zM35 681l-12 2-5-6-3 3 1 3 1 1 4 8 8 5 2 3 2-6 5-7zM15 680l3-3 1-3 1-4-2-7-6-7-2-1-1 2-5 9 6 11 3 3zM1368 753l8 0 11 5 2-9 7-4 4-5-4-6-10-2-7-9-5 7-7 11-6 6zM1217 663l10-3 4-11-5-5-8-6-7-2-5 6-5 8-1 6 2 5 6 8 6 4zM1115 956l2 9 9-1 6 5 4-1 1-3 3-2-5-10 3-9-8 3-9 5-9-2z"/><path fill="#7b74d8" stroke="#fff" stroke-opacity="0.6" d="M309 290l5-8 8-9-2-9-2-7-6 1-8-4-8 5-4 7 1 11 5 8 4 3 5 2zM823 155l-12 0-6 2-1 8 9 9-3 10 9 2 7 3 6 3 2-3 5-1 5-10 4-6-6-6-9-8-4-7-3 0zM1350 675l-10 3-7-8-3 8-7 10-8 5 1 3 2 3 10 1 7 4 9 2 5-7 9-7 0-9zM548 249l-10 4-7-6-3 2-4 3-5 8 2 11 6 7 2 8 3 0 7-6 10-6 7-2 0-9-3-9zM1187 967l-5 4 2 6 3-3 6-6 2-3-7-5zM1183 845l5-7-3-9-2-10-11-6-10 2-8-1-2 3 3 7-4 6 9 7 6 6 7 7zM798 639l2 11 1 15 9 1 10 3 9-3 7-7 5-5-1-6 3-7-2-3-12-10-14 8-15-8zM108 567l0 5 8 4 4 13 3 0 0-11 10-9-4-3-2-5-8 1-7 0zM824 312l3-15-5-9-10-1-8-10-4 1-3 10-5 9-6 8 4 6 1 7 10 7 7-7 11 5 3-3zM1106 947l6 3 9 2 9-5 8-3 3-2 2-5-4-9-4-10-8 1-10 1-6-1-1 10-2 10-7 6zM1509 463l-6 2-10 2-9 0-5 10 0 8-2 13 8 2 3 6 10-10 9-7 14-6 0-2 1-4-1-7-4-3-6-3zM906 330l-6 2-6 8-4 5 2 10 11 6 6 13 6-7 10 1 8-7 0-6 2-7-7-9-2-5-10-7zM164 290l9-6 4-12 4-7 0-2-10-3-11-4-10 4 0 8-4 3 4 9 6 8 0 1zM1544 626l7 4 6 7 3-3 3-2-2-10 2-13 6-9-9-5-7 0-7-4-4 2-4 0 1 10-7 14 5 9zM1171 852l2-2-7-7-6-6-9-7-7 6-5 5 4 9-3 6 5 8 5-1 5 4 6-7 10-3zM886 882l7 2 9 0 6-1 3-11 7-4-7-9 1-11-2-7-9-1-9 3-9 5 3 12 0 9-2 12zM648 790l1-3-1-2-7 7 1 1zM891 453l-6 6 2 8 8 3 5 9 11-1 7 1 7-13-9-14 5-14-11-2-9 0-6 3-7 5zM1243 439l4-3 10-1-1-5 4-9-10-7-13-3-7-8-5 1-4 2 9 14 1 9 0 16 3 0 2 1zM501 231l-3 9 9 8 9 0 8 4 4-3 3-2-2-7 8-8-2-9-3-2-4 3-10 1-9-1-7-1zM772 240l1-1-3-7 0 8 1 1zM967 195l-8-10-1-10-2-1-7 1-8 1-7 6 2 9-6 7 6 12 8 9 8 5 3-8 7-4 4-8zM439 199l-6 8-4 8 8 2 6 6 6 1 13-5 4-9-2-10-9-1-9-3-6-1zM926 334l2 5 7 9 8-7 10-5 12-1 0-7-2-8-11 0-12-7-13-3-7 9-4 8zM1119 188l-4-6-2-1 4 7 1 0zM493 311l-1 9 1 7 4 4 8 3 7-5 8-2 7-1-7-8-3-9-1-9-7-1-11 4zM1260 799l-1-7-4-3-3-4-7-2-8 2-6 6 0 6 0 10 1 6 7 3 3 5 9-5 7-6zM1164 974l10 2 8-5 5-4 1-7-2-3 0-4-8-7-11 0 0 9-7 6 1 9 1 2zM896 393l10-5 1-7 2-7-6-13-11-6-2-10-6-2-6 4-2 11-5 11-7 10 6 7 1 6 6 5 6 1 7 0zM1276 514l1 6 9 7 12-4 8 7 2-11 5-8 0-12-1-3-1-2-6-5-13 7-8-4-9 3-3 11zM1216 712l-11 4-1 8-1 11 4 9 2 2 4 0 3 1 9-7 8-3 8-7-4-7-4-9-5-5-3 0-2-1zM940 313l12 7 11 0 2-3 0-17 3-12-8-13-10-1-6-2-8 10-2 15-8 10 1 3zM1141 942l-3 2-3 9 5 10 10-1 11 8-1-9 7-6 0-9-4-3-1-4-8-4-11 2zM950 384l3-7-8-5-5-7-7-4-8 7-10-1-6 7-2 7-1 7 7 6 5 2 10 4 9-9 12 3zM687 817l5 6 8 3 12-4 8-4-8-10-5-7-2-12-7 3-12 4-4 6 0 9zM101 577l-10 0 0 11 7 5 6-2 7 4 3-3 6-3-4-13-8-4zM1206 795l4-8-6-9-2-3 0 17-12 8 2 4 5-3 5 1zM399 193l-2 7 8 7 0 8 6 1 7 4 5-4 6-1 4-8 6-8 1-4-2-1-9-1-9-2-9 0-9-2zM1164 974l-2-2-3 4 6 4 1 0zM333 177l-1 3-1 6 4 11-2 7 10 3 6 8 8-1 1-1-4-8 3-10-2-9-6-3-8-5-6-3zM1182 971l-8 5-10-2 2 6 8 4 10-7zM874 257l1 7 7 7 5 0 7 3 3-2 2-3 1-13 2-9 5-15-1-1-12-4-13 6-12 0 0 10-2 8zM1097 946l1 7-3 5 0 8 5 9 6 3 6-1 1-1 5-5-1-6-2-9-3-6-6-3-5-2zM1612 567l2-6-3-1-1-5-3-2-1-12-8-4-11 4-6 6-2 10 0 7 2 4 3 4 7-1 11 1 7 1zM1213 676l1 3 1 1 6 1 9-3 8 1 4-6 5-4 5-8 0-6-5-7-6 0-10 1-4 11-10 3-3 10zM1167 645l5-1 2-4 3-6 0-9-8-3-1-9-9 2-7-3-10 4-5 10 2 8 8 1 9 9 7 3zM796 857l-8 1-17-1-9 2-4 1-1 3 0 5 1 9 2 10 9 9 6 5 5 1 5 0 7-5 5-7 3-10-4-9 3-10zM675 812l-7 2-6-1 2 11 9-2 9-2-2 9-1 9 1 1 7-1 6-8-1-7-5-6-5-6zM1097 980l3-5-5-9 0-8-5 10-9 5 9 3 1 2zM120 616l10 0-4-9 0-8 2-7-3-1-2-2-3 0-6 3-3 3-1 8 1 9zM1117 920l10-1 8-1 5-9 2-7-10-5-5-10-9 1-9 3-7 1-4 3-1 4 3 7 7 8 4 5zM1136 968l-4 1-2 7-4 5 5 5 2 1 8 2-3-7-6-8 5 1zM1458 849l5-7 0-8-9 1-4-7-10 0-7 9-2 6 7 4 3 0 9-1 8 4zM206 492l4-8-2-5-2-3-8 7-10 1-4 6 0 8 4 3 2 4 8-4 9-2zM649 787l11-4 5-11-5-7-4-11-2 2-8 4 4 9 4 9-6 7zM136 589l5 3 3-4 4-3-4-9-1-6-6-2-4 1-10 9 0 11 2 2 3 1zM781 236l13 4 11-3 0-16-11-11-2-13-8 8-10-3-1 1-1 7-1 8 2 3-3 5 0 5 0 1 3 7zM494 294l4 9 11-4 7 1 8-5 5-9-2-8-6-7-8-3-12-1-7 4-5 7-2 5-2 8zM1000 779l12 3 7-4 9-3 1-8-4-9 2-8-5-8-10-2-6 4-5 1-1 8 3 16-4 10zM1112 981l0-4-6 1-6-3-3 5 14 4zM150 268l0-8 10-4-2-5-4-8-7 1-6 0-1 0 2 10 4 16 0 1zM1239 816l-7-3-7 5-12-3-5 9 2 7-4 11 4 5 4 3 8-13 11-3 9-6-1-4 1-3zM698 792l7-3 0-7 5-6-7-5-6-6-6-5-8 4-5 6-12 2 8 5 8 12 4 7zM1580 590l1-12 3-6-3-4-2-4-7-3-6 2-10-3-2 8-4 13-4 10 7 4 7 0 9 5 4-3 3 0zM489 255l3 5 2 11 7-4 12 1 8 3-2-11 5-8-8-4-9 0-9-8-4 6-11 1zM1090 976l-9-3-3 1-1 1 13 3 1 0zM1086 993l3-2 1 0-7-2zM885 160l9 4 7 0 7 1 5-3 6-3 3-9 0-3-4 0-10 1-9 4-10-1-6 0zM243 231l1 8-1 12 7 0 11 3 6 2 0-9 7-4 2-8-5-8-11-4-7-3-5 2-5 0zM934 297l2-15 8-10-2-3-2-1-16 4-13-1-12-2-2 3-3 2-1 4 3 6 13 6 6 12 11 5zM268 704l11 4 4 7 1 0 5-3 3-7-8-7-1-10-7 4-11 3zM160 582l8 4 0-3 1-3-8-9-6-8-3 0-3 5-6 2 1 6 4 9z"/><path fill="#7a86de" stroke="#fff" stroke-opacity="0.6" d="M255 702l1 8-2 7 10 2 5 6 6-6 8-4-4-7-11-4-3-9-5-1zM829 690l0-16 0-8-9 3-10-3-9-1-2 1-2 3-6 7 2 9 6 4 4 10 7 4 6-1 9-2 10-3zM130 623l0 8 10-1 4 4 10 1 4-9 3-7-4-3-1-4-4-2-8 2-8 0-6 4zM151 600l1 10 4 2 2-9 10-9 1-8-1 0-8-4-12 3-4 3-3 4zM183 645l2-5 0-4 0-5-9-4-5-7-5-3-5 2-3 7-4 9 0 5 2 4 9 2 7-4 8 5zM523 555l6 6 14-7 12 6 10-3 2-2 2-9-5-11-9-2-9-5-5-6-7 8-7 13-8 5zM1393 522l-4 3-1 8 6 10 8 7 7 5 11 1 4-3 3-9-1-8 5-5-8-6 0-9-5-7-9 2-5 4-10 2zM166 493l2 3 8 4 8-2 0-8 4-6-8-9-8-4-2 2-4 0 2 10-5 8zM941 135l9 3 12 0 4-2 2-8 10-7-10-2-12-2-11 1-11 1-2 10 0 1zM773 813l-2 0-5 5-7 7-1 10 3 13 1 11 9-2 17 1 8-1 0-7 7-7 2-8-11-7-6-10-12-6zM1072 970l-6-6 1-5-10 3-7 2 2 9 8 8 3-1 3-8 4 1zM1148 462l7-5 1-11-5-7-12-2-9-2-9 9 3 9-9 10 1 3 1 2 12 1 6 9 10 0 1-3 4-1zM336 520l-3 3 6 7 0 13 6 3 6-1 7-6 1-7 0-3-1-2-8-4-2-7-9-1-3 1zM554 498l-5 2-7 6-2 7 1 5 0 4 5 6 9 5 9 2 5-6 4-9 8-6-10-5-2-8-8-3zM571 360l-3-10 10-11-3-10-5-6-11-1-7-5-8 3-7 10 1 3 9 13 13 6 4 11 4-1zM968 777l6 2 6 4 8-4 11 0 4-10-3-16 1-8-9-4-10-2-7 7-7 3 0 8 2 9-3 11zM470 297l-2 14-6 5 7 4 12 1 7 7 3-1 2 0-1-7 1-9 5-8-4-9-9-3-4 2-4-1zM1113 181l-6-4-5-8 0-1-9-2-7 7-10-4-1 1-2 12 3 17 7 9 3 1 2 1 6-2 4-1 7-13 12-6zM60 705l-2-1-2-2-12 6-4 1 2 1 12 4 6 3zM908 764l2-12 8-4-1-6-3-5-11-7-9 3-3 10-7 9-7 6 2 2 1 3 11 5 9 1zM904 201l2 3 7-4 8 3 9-5 6-7-2-9 7-6-9-3-3-8-10-6-6 3-5 3 1 14-2 11-7 8zM773 221l-2-3-1 4 0 4zM527 354l6-10 5-11-1-3-4-2-6-2-7 1-8 2-7 5-3 13 5 9 5 5 10 2zM922 150l-3 9 10 6 3 8 9 3 8-1 7-1 1-11 1-12 4-13-12 0-9-3-9-5-1 9-4 9-5-1zM1178 917l-2 1-4 8-5 4-5 9 1 4 4 3 11 0 8 7 4-8 10-6 0-7-3-5-10-3-5-8zM1275 743l5-9-8-4-4-8-7-2-13 2-5 9 7 9 3 9 5 9 13 3 7-6zM214 292l3 3 9-1 9-7 11-2-2-12-10-6 0-8-5-2-5 2-6 7-5 8-4 6 4 5-2 6zM992 741l9 4 5-1 6-4-2-8 9-11 0-9-9-6-9 3-7-6-6 5-4 5-5 9 0 8 3 9zM392 516l-6-8 4-10-4-5-4 1-4-3-4 9-12 2 1 6 3 5 8 2 10-3 6 5zM1118 188l-1 0-12 6-7 13 7-2 11-1 4-14 0-1zM299 316l-8-2-4-9-11-2-2 7-8 7 5 7 3 6 9 3 5-3 7-2 3-4zM349 317l2 9 0 1 7 4 11 4 7-2 2-11 6-7-6-6-2-6-10-1-9 5zM377 468l-9 6 0 1 8 6 2 10 4 3 4-1 8-4 8-10-6-6-5-7-6-5zM1279 781l2-8 5-6 0-4-1-4-4-3-3-1-7 6-13-3-4 4-2 3 4 10-4 10 3 4 4 3 9-4 9 0zM863 219l6-4 0-9-8-5-12-11-10-2-5 1-2 3 2 9 1 15-5 10 9 0 16-2 10 4zM1205 681l-8 0-7 8-1 6-1 7 0 3 3 3 9 3 5 5 11-4 7-4-1-12 0-7-7-9-1-1zM1238 484l6-3 2-5 2-6-4-9-4-6-4-9-2-1-3 0-13 1-6 9-1 10 3 9 7 4 10 9zM132 467l-3-6-10 2-10 4 0 8 9 6 3 8 8-6 7-3 1-4 2-5zM367 221l11 4 11 2 7-5 9-7 0-8-8-7 2-7-7-3-6 1-9 3-5 14-11 4zM739 1006l-6-7-11 0-7 7-8 1-1 8-5 9 2 8 5 12 2-2 6-6 6-6 7-7 8-6 4-6zM792 195l9-5 9-6 3-10-9-9 1-8-2-1-1 2-4 8-6 6-4 8-1 2zM144 505l5-11-7-8-6-6-7 3-8 6 1 13 5 7 7 3 7 1zM1078 974l-2-3-4-1-2 3 7 2zM1133 987l-2-1 1 2-11 6 3 1 3 5 5 0 4-1 2-5 3-4 0-1zM475 667l-4-11-12 1-10 2-9 2-2 3 1 4 5 7 10-5 11 1 7 2zM721 555l6 11 5 8 5-6 9-2 1-10 5-7 4-6-6-5-2-10-10-3-8 2-7 6-6 5-2 10zM1162 972l-1-2-11-8-10 1-3 2-1 3 1 7 7 0 12-1 3 2zM879 587l1-9-2-14-7-5-6 0-6 6-11 5-7 2 0 9 9 7 2 7 9-3 10 6zM918 789l6 0 5-4 5-8 2-6-2-9-2-8-7-1-7-5-8 4-2 12-8 5 3 8 7 11zM394 422l0 5 3 4 2 3 7-3 7-1 9 3 2-2-2-7 5-9-3-8-3-2-5 5-10 4-10 1zM602 574l5-5 7-6-5-7-7-4-4-11-8 6-13-1-8 10 7 5 12 5 6 10zM275 719l-6 6 1 7-1 6 4 1 2 3 9-4 8 1 0-7 2-6-5-4-5-7-1 0zM857 298l3 11 10 2 6-5 9 0 1-9 3-7 7-6-3-6 1-4-7-3-5 0-11 3-7 12-9 3zM168 483l-2-10-6-3-5-5-7 6-9 0-2 5-1 4 6 6 7 8 5-2 9-1zM805 157l6-2 12 0 3-4-1-1-10 0-9 1-3 5zM1052 973l-2-9-5 2-4-3-1 1 6 6-2 13 6-2 10 0zM472 249l-11-11-9 3-6 4-3 4 2 8-1 12 7 8 4 1 3-1 7-14 10-4 7-12-1-1zM840 701l-5-4-10 3-9 2-6 1-3 8-1 8 9 4 4 10 8-2 5 1 3-12 8-5 3-11zM418 303l10-4 8-2-1-5 3-6-7-8-7-3-9-6-2 7-6 4-6 8 2 8 9 10zM141 513l7 4 9-6 8 5 1-9 2-11-2-3-3-2-9 1-5 2-5 11zM564 363l-4-11-13-6-9-13-5 11-6 10-5 9 2 4 11-2 18-2 10 1zM312 203l3 12 13-4 5-7 2-7-4-11 1-6-6 2-9 4-9 2-2 3 0 6zM1065 947l-6-8-7 2-9 1-2 9 0 12 4 3 5-2 7-2 10-3 2-5zM1228 548l-5 15-15 2-5 16 1 4 11-3 11 7 9-4 2-7 5-4-6-8 0-8-4-11zM341 178l8 5 6 3 9 0 5-7-3-2-10-2-9 1-9-1-3 0zM274 299l2 4 11 2 4 9 8 2 2-9 0-10 6-7-5-2-4-3-8 3-8 1-6 5z"/><path fill="#7497e4" stroke="#fff" stroke-opacity="0.6" d="M844 178l-5 10 10 2 12 11 8 5 9-1 7-9-1-13-10-2-1-12-6-3-9 0-5 3-5 3zM365 705l6 4 3-2 4 1 3-5 3-4-2-7-6-6-5 0-5 1 0 7-6 6zM263 539l-2 12 1 9 7 2 2 6 11-4 4-7 0-6 0-7-7 2-6-5-8-4zM736 870l-8 2-10 5 3 9-1 8 11 5 9-2 9-6 5-4 4-10-1-9 0-5-6 0-7-2zM1017 988l-2-2-11 5-7-3 0 3 3 1 11-3 5 1zM1286 640l6 14-1 10 3 1 6-9 9-4 9-3-1-11-6-10-6-8-9 3-4 6-10 0-2 4zM371 727l6-5 9-5 1-2-2-2-7-5-4-1-3 2-6 6-1 9zM357 226l3 10 2 12 6 0 8 0 9 0 1-9 5-6-2-6-11-2-11-4-6-9-3 1-1 1-1 0zM424 483l-8 4-4 10-1 6 2 10 8 3 12-2 9 0 0-6 5-6-2-5-7-4-5-8zM422 433l3 8-1 7 4 8 4 1 5 3 6-6 4-9 0-7-6-7-8 1-9-1zM1222 689l0 7 1 12 2 1 3 0 6-9 11-4-3-9-4-8-8-1-9 3-6-1zM364 186l-9 0 2 9-3 10 4 8 3-1 11-4 5-14 9-3-9-7-1-1-2-1-5-3zM629 500l-10-7-8-9-13-1-1 1-7 10-1 9-2 10 5 9 10 2 8-3 9-1 8-2 3-8 0-9zM229 257l5 2 6-2 3-6 1-12-1-8 0-9-5-4-5-1-4 3-7 1-3 8-2 9-5 7 5 10 7 4zM1177 654l8 3 7 0 8-1 1-6 5-8 5-6-2-6-2-7-8 2-11 7-11 2-3 6-2 4zM934 762l2 9 9 6 12-3 10 3 3-11-2-9 0-8-7-3-11-4-10 8-8 4zM1077 909l5-7-3-6-7-6-9-2-6 4-8-2-7 3-1 11-8 3 0 1 8 9 14-3 12 7 3 0 2-2zM1015 394l6-5-5-7-2-7-8-5-12 5-7 5-3 9 3 7 7 10 9 3 5-2 6-2zM1077 350l2 13 2 12 4 6 4 2 5 3 8-1 8-10 9 0-1-11 1-8 3-11-1-2-15 2-12-9-10 0-1 1zM62 524l-7 3 1 1 6 6 0 8 7 2 7 0 4-3 1-7 1-4-10-6-6-8-1-1zM251 717l-3 2 1 12-8 5 2 11 3 0 2 3 7-7 9-1 5-4 1-6-1-7-5-6-10-2zM1323 688l7-10 3-8 2-11-6-7-5-2-6-1-9 3-9 4-6 9 6 7-1 7 5 8 6 1 5 5zM515 642l-1 2 8 10 1 6 5 11 4 1 4 0 10-5 7-4 5-9-3-3 0-4-6-7-10-3-9 5-12-2zM134 512l-7-3-7 2-8 8-1 1 4 8 8 1 3 8 8-6 7-7 2-6-2-5zM1170 738l2-11 8-10 11-9-3-3 0-3-9 5-13-3-10 0 0 7-6 9 4 8 6 4 7 7zM687 552l5-7-1-6-2-7-8-2-5-7-10-2-9 7-5 3-11 4 1 3 12 6 6 7 5 9 6 4 9-2zM1200 762l2-8 7-8-2-2-13-6-11 5-13-5-3 1 0 2-1 11 7 5 2 10 4 1 2 4 2 0 5-4 8 2 1-1zM833 158l9 8 6 6 5-3 5-3 1-10 1-6-1-5-7-1-9 2-9 5-5 0zM1234 700l-6 9 5 5 4 9 4 7 2 1 5-9 13-2-1-13 5-7-13-1-7-3zM240 320l8-3-2-10 1-10 2-11-3-1-11 2-9 7-9 1 7 5 1 11 3 6zM1033 907l-9-5-3-7-11-1-6-1-4 8-13 5 2 12 6 8 11 3 8 3 6-2 5-4-1-11 9-7zM316 683l-13 2 1 9-1 8 7 1 5 4 1-10 8-2 1-10-1-4zM1309 789l11 3 6 8 9-1 6-2-3-10 3-9-10-4-5-10-4 1-4 7-2 8-7 7zM940 750l10-8-3-6-3-8 1-11-12 0-8-3-5 5-3 8-3 10 3 5 1 6 7 5 7 1zM218 597l7-1 8-1-7-9 0-9-4-5-6 1-5 4 0 11-4 6 1 3 2 2zM1218 757l-2-10-3-1-4 0-7 8-2 8-3 7 2 2 3 1 0 3 2 3 6 9 6-3 5 1 3-9 6-5-1-8zM1008 118l1 8 6 4 7 2 10-6 9 1 2-9 7-4 0-2-7 1-9 1-12-1-13-1zM108 457l-1 9 1 0 1 1 10-4 10-2 0-7 1-5-7-4-10-2-3 2-3 1-1 1zM1383 780l4-4 4-10-4-8-11-5-8 0-7-6-3 1-1 11 0 9 6 7 11 0 4 7zM402 479l-8 10-8 4 4 5-4 10 6 8 6 4 9-2 3-2 3-3-2-10 1-6 4-10-5-6-6-2zM143 518l-2 6 7 4 4 10 4 0 8-5 7-10-4-2-2-5-8-5-9 6-7-4zM1181 772l-2-4-4-1-8 1-6 5-8 6-4 8 0 1 21-4 9-8zM1254 762l4-4-5-9-3-9-7-9-2-1-8 7-8 3-9 7 2 10 11 6 6 1 9-1 8 2zM1242 687l3 9 7 3 13 1 1-1 0-10 4-9-2-8-8-7-8-4-5 8-5 4-4 6zM660 1021l3 4 5 2 13-1 11 3 9-5 5-9 1-8-4-8-6-7-10-4-11 11-10 3-8 15zM354 676l3 1 2-6 5-4-4-4 0-7-6-4-10 3-1 3-1 6 1 7 5 1 3 6zM385 461l6 5 5 7 6 6 3 0 7-7 2-11-3-7-9-6-4-5-4 7-9 6zM171 523l-7 10-8 5 5 10 8 4 5-1 5 2 2-2 3-4 0-6-5-9zM314 464l1 3 9 0 7-4 7-8-1-5-1-6-6-1-4-5-6-1-5 3-3 11-1 10zM774 202l10 3 8-8 0-2-5-13-5 8-8 8-1 5zM1247 648l5 7 0 6 8 4 8 7 8 0 8-8 7 0 1-10-6-14-6-7-12 4-8 3-12 6zM431 250l-8-2-3 6-7 4 0 6 2 5 9 6 7 3 7 8 6-6 7-3-7-8 1-12-2-8zM1185 684l-3-5-8-3-14 7-8-5-3 2 0 10 3 5 4 9 10 0 13 3 9-5 1-7 1-6zM284 698l8 7 8 1 3-4 1-8-1-9-8-6-4-5-1 7-7 7zM597 531l5-7-10-2-5-9-3 1-3 0-8 6-4 9-5 6 5 11-2 9 2 1 8-10 13 1 8-6zM1022 742l5 8 11-2 10-5-2-5 3-4-6-12-5-7-11-7-4 2-4 2 0 9-9 11 2 8zM1311 736l-4 8-4 10 7 7 5 0 7 4 4-1 6-8 5-10 2-6 0-2-10 2-9-9-8-1zM185 598l-2-4-7-2-7-6-1 8-10 9-2 9 1 4 4 3 5-2 5 3 6-11 7-6zM775 612l13 3 3 10 4 3 5-1 2-11 8-7 3-7-11-5-6-11-11-7-3 2-3 2-5 7-2 10zM230 207l6-10-3-8-2-2-1-2-10 1-4-3-4 1-1 0-4 3-10 8 1 10 4 6 5 5 6 3 9 2 7-1 4-3zM1084 684l-14-2-8 7-3 3-1 4 3 7 2 6 4 8 10 3 6 4 7-11-1-10 7-8-1-5-2-8zM219 333l0 3 3 7 5 6 11 0 9 3 6-2 1-4 1-10-3-7 1-9-2-3-3 0-8 3-12-3-6 6-2 7zM1181 772l-2 4 4-4zM282 289l8-1 8-3-5-8-1-11-9-2-12-1-1 8-5 11 4 9 7 3zM452 629l-11 3-3 7 5 11-3 11 9-2 10-2 12-1 1-2-5-9-2-10-4-1-1-3zM692 1078l-5 2-5 1 4 3 7 12 1-11 2-11zM1367 741l7-11 5-7-1-3-12-5-8 2-11-3-4 8-1 7-3 9 0 2 8 6 11 2 3-1zM182 378l11-3 9 2 1-5 3-5-8-3-4-8-5-6-7 4-6 1 0 1 4 10 0 8zM31 643l-7-1-6 5-6 9 6 7 2 7 8-2 6-2 7-11 1-8zM357 450l0 8 5 10 6 6 9-6 8-7 0-5-6-3-9-3-5-6zM228 686l-6-2-6 7-3 8 6 5 7 10 4-2-1-6 6-8 3-7zM249 286l8 0 8-4 5-11 1-8-3-2-1-5-6-2-11-3-7 0-3 6-6 2 0 8 10 6 2 12zM558 253l2-5 2-7-2-12-8-7-10-2-3 2-4 1 2 9-8 8 2 7 7 6 10-4 5 5zM961 746l7 3 7-3 7-7-3-9 0-8-4-7-13-4-7-1-4 4-6 3-1 11 3 8 3 6zM1231 429l-1-9-9-14-5-1-6 8-5 9-9 3 1 8 6 6-1 11 5 0 5 5 6-9 13-1zM1183 743l11-5 13 6-4-9 1-11 1-8-5-5-9-3-11 9-8 10-2 11zM432 457l-4-1-5 4-9 1-2 11-7 7 6 2 5 6 8-4 9 2 2-9 5-11-1-3-2-2zM553 663l-7 4-10 5 5 5 3 10 7 6 7 0 5 0 3-3 7-10-3-11 3-7-5-4-10-4zM569 501l2 8 10 5 3 0 3-1 2-10 1-9 7-10-9 1-9-2-8-7 0 8-8 6-2 8zM1270 680l-4 9 0 10 9 4 8-1 10-4 1-7 10-4-5-8 1-7-6-7-3-1-7 0-8 8-8 0zM427 405l-3 2 3 8-5 9 2 7 9 1 8-1 4-4 3-4-2-6 0-4-8 1-7-9zM625 463l-4-4-10 3-7 7-4 6-2 8 13 1 8 9 10 7-3-11 1-12 4-10zM438 664l2-3-9-3-4-4-9-2-5 8-7 2 2 7 0 4 6 3 4 3 8-3 7-1 6-7zM781 804l5-3 7-7-3-6 1-10-9 0-8-6-6 7-6 4-6 4 4 9 4 8 7 9 2 0 3-1zM879 891l1 14 0 11 3 7 6 2 7 1 8-6 2-8 7-6 2-11-2-7-5-5-6 1-9 0-7-2zM243 465l5-1 3-6 4-5 0-8-2-8-1-1-7 0-6-2-5 9-8 8 1 7 7 6 2 1 3 1zM1347 746l-8-6-2 6-5 10-6 8 5 10 10 4 9-3 7-7 0-9 1-11zM1088 729l-5-5-6-4-10-3-5 5-8 9-5 3-3 4 2 5 2 1 1 2 11-2 9-1 9 4 3-9 5-4zM439 668l-6 7-7 1-8 3 1 3 9 6 12-10 4-3zM1157 748l-11 9-9 5 7 5 6 6 3 6 8-6 6-5 8-1-2-10-7-5 1-11zM690 871l6-1 6-4 3-6-2-5-3-6-6-7-7-4-7 1 6 13-2 9-5 9 9 3zM154 415l-4 6-2 6 3 4 7 3 7-6 8 3-2-5 3-5-6-4-5-6zM984 389l3-9-7-1-6-7-5-4-9 4-7 5-3 7-1 10 5 4 1 7 5-1 6 5 9-3 8-5 4-5zM821 913l-4-7 0-8-9-2-11-6-5 7-7 5 8 11 4 7 1 4 9-3 11-5 3 0zM1287 809l-7 3-6 6 0 7 3 7 12 5 8 3 5-5 9-4-1-10-14-4-3-12zM1013 982l1-6-7-4-5 0-1 6-6 7 2 3 7 3 11-5zM696 743l7-4-3-6 5-10-2-6-8-2-6-6-9-3-1 9-8 9 2 8 7 7 3 4 10 4zM528 671l-5-11-1-6-8-10-5 1-4 1-2 5-7 2 1 12 0 4 7-2 9 3 8 3 5 3zM1195 965l3-4 3-8 8-7 1-1-4-1-6-5-10 6-4 8 0 4 2 3zM1149 585l-10 9-4 10 1 7 6 5 10-4 7 3 9-2 2-6 4-3-2-10-3-5-8-6-2 0zM1251 577l-9-3-5 4-2 7 0 8 6 10 4 7 8 2 11-7 5-6 2-7-1-10-8-5zM192 519l-3-8-9 5-9 7 8 9 5 9 4-3 6-2 0-8 5-4zM423 629l-6 2 5 13-4 8 9 2 4 4 9 3 3-11-5-11 3-7-5-5-5-2-5 0zM529 570l-2 6 7 7 10 4 11 8 3-1 4-4 6-8 1-14-4-11-10 3-12-6-14 7zM1256 775l-4-10-8-2-9 1-6-1 1 8-6 5-3 9 4 2 6 4 6-6 8-2 7 2zM110 603l1-8-7-4-6 2-3 7-6 4 3 9 4 6 4 1 4-2 5-2 2-4zM848 287l7 2 9-3 7-12 11-3-7-7-1-7-7-6-9 4-9 0-6 4 2 13-5 9zM308 735l-1-10-7-1-6 2-2 6 0 7 1 7 7-4 11-3 1-1zM101 465l6 1 1-9-2-10-5 6-5 9-2 2zM549 640l6 7 8-5 1-12 5-8-4-7-9 0-5-7-2 2-3 1 1 8-8 8 0 10zM397 697l-6 3-7-1-3 4-3 5 7 5 2 2 5-5 7-8zM334 294l-6 9 1 5-2 9 10 1 7 3 7 5-2-9 8-10-8-3-4-12zM413 430l-7 1-7 3-1 5 0 4 4 5 9 6 3 7 9-1 5-4-4-8 1-7-3-8zM1025 341l-13-8-2-11-8 5-4 8-5 8 3 10 11 2 1 8 8-5 7-7 13-2zM1096 946l-10 2-7 3-10 3-2 5-1 5 6 6 4 1 2 3 3-1 9-5 5-10 3-5-1-7z"/><path fill="#7ba3e6" stroke="#fff" stroke-opacity="0.6" d="M1073 472l-13-5 2 9-7 4 0 9 13 3 7 6 6-5 8-8-1-9-6-8zM848 570l11-5 6-6 0-11-4-8-8-9-4-3-4 8-11 6-5 11 4 6-2 9 7 0 3 4zM186 313l-11 4-5 1 1 4 7 8-7 6 3 6 1 12 1 1 6-1 7-4 1-2 4-9-9-11 3-12zM1188 632l11-7 8-2 1-3 1-3-6-10-2-8-6 6-13 2-8-3-4 3-2 6 1 9 8 3 0 9zM1089 243l-7 7-9 8 7 11 1 10 6 10 7-8 18-4 5-5-1 0-11 3-11 5 6-7 7-7 2-3-3-10-5-12zM1009 126l-1-8-9-1-9 2-10 3-2-1-10 7-2 8 16 4 7 5 9 11 4-6 10-2 2-8 1-10zM831 287l-9 1 5 9-3 15-2 8 11-2 10-4 13 4 3-4 1-5-3-11-2-9-7-2-8-6zM668 814l7-2 7-1 0-9 4-6-4-7-8-12-8-5-1 0-5 11-11 4-1 3 2 8 6 7 0 2 5 3 1 3zM843 314l-10 4-11 2-3 3-2 8 0 10 4 10 5 3 5 2 12-10 11-5 10-2-3-6 1-10-6-5zM397 431l-3-4-9 1-7 0-3 7-10 7 0 2 5 6 9 3 6 3 9-6 4-7 0-4 1-5zM764 804l-4-8-4-9-8-3-5 1-9 12 0 10-7 11 9 4 14-1 9 4 7-7 5-5zM886 869l0-9-3-12-8-1-9-5-5-5-6 5-5 5-3 5 0 4 7 6 5 10 0 9 9-1 10-3 6 4zM238 218l5 4 5 0 5-2 8-6-2-9 8-7-2-5-4-3-11 1-9 2-8-4 3 8-6 10 3 10zM1152 695l-3-5 0-10-7-3-10 0 0 10-6 11-2 8 4 7 9 1 9 6 4 0 6-9 0-7zM109 616l-5 2 9 6 4 12 3 2 4-1 4-3 2-3 0-8 0-7-10 0-9-4zM174 551l-5 1-7 6-7 5 6 8 8 9 3-6 7-7 4-8-4-6zM1127 878l3-8-6-3-4-7-7-4-4 0-3 5-8 5-1 11 5 8 0 7 7-1 9-3 9-1zM172 666l9 2 0-12-1-9-8-5-7 4-9-2-1 2-1 3 7 4 1 9 2 9zM137 410l-3 5-5 8-5 4 0 2 10 5 4 6 4-1 3 0 4-2 2-6-3-4 2-6-7-6-5-5zM366 584l1 10 2 0 7-1 8-5 4-6-5-6-1-9-8-4-3 9-11 5zM576 622l-7 0-5 8-1 12-8 5 0 4 3 3 10 4 5 4 6 0 4-3 4-5 5-8-2-8 0-11-7-6zM212 559l2-4-3-5 1-5-13-1-5-8-6 2-4 3 0 6-3 4 9 4 11 1 9 7zM879 760l-2-2-9-3-8-8-6 0-7 3-6 8-5 11-5 6 9 6 8 6 8-3 13-1 1-8 5-5 5-7zM345 638l-3 2 3 7-1 8 10-3 6 4 6-7 3-6-1-4 0-3-2-2-2-1-10 3-8-1zM754 887l-5 4-9 6 8 7-2 14 6 6 9-2 10-11 4-10-6-5-9-9-2-10zM122 502l-1-13-8 2-6 4-9 0 1 8 12 6 1 10 8-8 7-2zM1084 861l5 6 9-1 8-5 3-5-7-6 2-9-7-7-11-5-9 2-5 9 1 13 3 9zM203 246l9-1 5-7 2-9 3-8-9-2-6-3-5-5-7 4-5 10-5 5 6 6 0 9zM948 470l3-11 9-7-4-8-13-5-10-4-3 0-4 0-2 1-3 2-5 14 9 14-7 13 3 1 7 4 10-6zM938 597l-3-13 8-7-1-3-2-2-9-3-8-3-6 7-11 3 2 6-3 7 8 1 4 11 11 4zM259 205l2 9-8 6 7 3 11 4 5 8 5-3 8-2 1-9-8-8-1-12-2-1-2-2-4-2-6 2zM188 501l-4-3-8 2-8-4-2 11-1 9 2 5 4 2 9-7 9-5-1-3 2-3zM1047 380l-4 4 2 9 2 7 5 10 9 2 10 0 11-8 2-8 5-13-4-2-4-6-8-5-12 0-12 4zM307 525l5 5 7-1 7-3 7-3 3-3 0-4-5-7-10-4-4 1-4 1-3 8-5 4zM852 915l-3 5 4 2 11 4 11 2 11 4 1 0-1-1 3-6-6-2-3-7-11-3-9 6-7-4zM1094 797l-6 1-7 4-3 5-6 7-1 10 5 6 1 1 9-2 11 5 7-5 2-7 9-5 1-2-1-2-8-4-4-4-13 3-10-4 17-4zM312 535l-1 4 3 3 1 4 5 2 8 2 7-1 4-6 0-13-6-7-7 3-7 3-7 1zM189 350l5 6 4 8 8 3 8 0 6-4 3-9 4-5-5-6-3-7-6 7-14 4-9 1zM801 190l-9 5 0 2 2 13 11 11 0 16 4 2 6-2 5-1 2-6 8-4 5-10-1-15-2-9-6-3-7-3-9-2zM851 639l7-1 8-4 3-14 3-7 1-13-2-2-10-6-9 3-6 5-8 6 3 12 0 10 0 10 2 3zM623 553l10-6 9-9-1-3-5-5-6-7-3-5-8 2-9 1-8 3-5 7 1 10 4 11 7 4 5 7 4 2 3-1zM1177 482l6 0-2-7 5-11-1-8-11 0-6-4-9-7-3 1-1 11-7 5 2 12 5 6 9 2 9 4zM246 574l5 9 9-1 11-4 0-6 0-4-2-6-7-2-12-3-6 4-1 3-1 4zM903 801l1-9 6-4-7-11-3-8-9-1-11-5-5 7-5 5-1 8 3 10 6 6 5 7 7 0 5 0zM228 385l-5 6 3 6 7 2 7-5 7 1 5-9-4-11-11-3-8 6zM377 184l9 7 6-1 7 3 3-4-1-1-9 0-9-4-7-1zM1305 799l4-10 0-2-6-12-9-3-8-5-5 6-2 8-2 7 5 3 6 6 5 6zM393 408l-4-5-5-1-5-3-10 6-8 4 4 5 4 9 9 5 7 0 9-1 0-5 2-7zM528 606l10 0 8 5 3-1 2-2 1-6 3-7-11-8-10-4-7-7-7 7-3 7-6 7 4 4 2 5zM933 612l4 6 4 0 5 1 5-8 8-1 8-6-4-10 2-10-7-5-9 3-6-5-8 7 3 13-10 8 1 3zM642 286l6 8-1 7 6 5 9 2 2-10 6-7 10-8-1-5-2-3-3-1-9 3-12-4-8 2zM1216 349l1-3-1-4zM340 605l-2-11-1-3-7-2-10-2-1 11-4 8 7 6 5 4 2-2 4 0zM1097 642l0 12-6 9-1 8 5 7 15 4 7-3 12-4-5-14 6-10-2-9-9-3-8 3-8-6zM187 591l5-2-1-8 4-6-9-1-7-7-7 7-3 6-1 3 0 3 1 0 7 6 7 2zM777 713l6-9-2-12-8 1-11-1-9-7-4 1-2 1 1 13-3 14 5 10 8-2 11 1 7-1zM679 704l-12 4-9-10-11 4-5 10 2 18 1 6 5 6 8 0 10-6 5-4-2-8 8-9 1-9zM1292 714l-4-6-5-6-8 1-9-4-1 1-5 7 1 13 7 2 4 8 8 4 9-3 5-8zM1232 547l4 11 0 8 6 8 9 3 11 0 2-9 6-9 2-7-3-3-1-3-12 2-11-6-10 1zM1103 237l-2 4 5 12 3 10 3-5-3-12 0-11zM1084 628l-13 3-6 7-2 6-1 6 10 3 8 8 11 2 6-9 0-12 6-6-4-6-5-9zM189 274l12-1 8 7 4-6 5-8 6-7-7-4-5-10-9 1-12-1-1 10-9 8 0 2zM238 552l7-6 6-8-2-6-8-6-6-1-3 2-2 1 2 7 3 9 1 7zM1291 755l12-1 4-10 4-8 1-6-2-4-2-2-8-3-6 2-5 8-9 3-5 9 3 12 3 1 4 3zM211 506l-4-7-9 2-8 4-2 3 1 3 3 8 7 5 4-1 6-1 1-9 5-5zM481 293l4-2 2-8 2-5 5-7-2-11-3-5-6-8-1 0-7 12-10 4-7 14 5 8 4 3 10 4zM374 563l8 4 1 9 5 6 3 1 3 0 10-5 2-11-4-4 0-6-11 0-9 1-7 2zM309 716l-2 9 1 10 4 3 8-4 11 1 3-2-1-8 0-9-6-7-11 1zM819 810l-4-7-7-3-8-4-7-2-7 7-5 3-5 8 12 6 6 10 11 7 4-2 4-10 5-8zM993 432l-8 3-8 1-8 5-2 11 6 7 3 5 9-4 11 5 13-1 4-7-3-9 1-8-5-7-8-3zM843 715l-8 5-3 12 8 5 2 5 5 8 7-3 6 0-2-13 13-11-4-9-7-9-10-1-4 0zM199 421l-3 9-6 6 7 5 8 9 2-3 6-1 1-8 1-5-8-5-4-8zM1215 381l-5 11 4 10 2 3 5 1 4-2 5-1 3-5-2-4-5-9-6-7-6-5zM75 699l7-6 1-4-2-4-5-2-3-4-9 3-6-1-8 4 1 9 5 8 2 2 2 1 6 0 3 0zM969 172l15 7 8-5 7-7-1-11-9-11-7-5-16-4-4 2-4 13-1 12-1 11 2 1zM258 691l-8 2-9-4-3 2-3 7-6 8 1 6 9 4 9 3 3-2 3 0 2-7-1-8 5-8zM270 525l5-4 0-6-2-11-9 1-11 2-2 4 1 5 6 8 8 6zM148 398l-2 0-7 7-2 5 1 0 5-3 4-7zM379 672l3 4 7 2 10 2 4-2 5-5 0-4-2-7-4-6-9-3-4 2-4 0-1 9-5 4zM162 221l9-1 4 9 10 1 5-5 5-10 7-4-4-6-1-10-2 1-2 5-6 9-5 8-9 0-7-3zM12 656l6-9 6-5 1-6-3-5-4 7-4 10-4 7zM645 683l1 7-3 8 2 1 2 3 11-4 9 10 12-4 1-12 5-7 0-9-7-6-7 6-12-2-8 0zM691 754l0 6 6 5 6 6 7 5 9-3 12-3 6-7 1-6-1-10-12 1-13-9-9 0-7 4-3 4zM1041 951l2-9-6-3-9-6-3-7-5 4-6 2-4 8 2 8 12 6 3 11 3 1 6-1 4-1 1-1zM1160 732l-6-4-4-8-4 0-11 3-6 17-11 3 1 4 8 2 1 10 8 3 1 0 9-5 11-9 10-7 0-2zM130 616l6-4 8 0 8-2-1-10-10-8-5-3-8 3-2 7 0 8zM1098 895l4-3 0-7-5-8 1-11-9 1-5-6-8 1-3 2-2 9 4 8-3 9 7 6 3 6 7 0 8-3zM221 507l-6 1-5 5-1 9 4 5 4 5 7-1 6-3 2-1 1-9-6-10zM1164 482l-9-2-5-6-4 1-1 3-1 13-6 7 9 6-2 8 9 4 4 3 4-1 4-3 4-2 1-11 6-7-4-9zM184 435l-6 2 0 5-3 2 6 9-1 9 10 4 10-4 1-7 4-5-8-9-7-5zM854 341l-11 5-12 10 2 9 2 6 7 6 6 2 8 1 8-1 7-10 5-11 2-11-9-3-5-5zM964 788l-5 8-9 5 5 9 5 10 3 3 4-1 5-7 9-6 3-10-1-7-3-9-6-4-6-2zM197 305l8-11 6-3 2-6-4-5-8-7-12 1-8-9-4 7-4 12 3 8 9 8 3 7zM66 516l11 0 10-7 1-5 2-5-8 2-9-6-5 5-4 8-1 5 2 2zM241 747l-3-4-6-1 3 3 6 4zM632 581l-4-13-7-4-3 1-4-2-7 6-5 5-8 2 0 6-1 4 4 6 9 1 7 5 9-3 3-5 9-3zM751 624l3 7 3 10 4 2 12-4 11-4 7-10-3-10-13-3-3-12-6 6-8 4-12 1-1 3-2 3zM671 564l-6-4-9 9-3 12-14 9 9 1 11 9 14-2-2-12 6-10 3-11 0-3zM262 344l10 6 2-2 3-1 2-9 4-5-9-3-3-6-5-7-8 2-5 1-1 9 3 7-1 10zM544 320l8-3-1-5 1-4-2-9-12-4-6-9-3 0-5 9-8 5 1 9 3 9 7 8 6 2 4 2zM845 518l-9-4-6-5-4 2-3-2-2 10-9 10-5 13 7 5 9 2 6 4 5-11 11-6 4-8-2-2 1-2zM89 481l5 4 4-7 2-7 8-5-1 0-6-1-7-1-4 5-6 7-1 1zM566 298l-7 5-7 5-1 4 1 5 7 5 11 1 5 6 9-8 8-1-5-10 4-11-10-1-11-5zM907 190l2-11-1-14-7-1-7 0-9-4-6 6-6 3 1 12 10 2 1 13 9-2 6 4zM670 291l-6 7-2 10 7 8 1 8 6-5 6-3 8-1-1-9 7-8-2-7-6-4-8-4zM335 641l-8-2-5 3 0 6 5 4 0 6 8-2 8 2 1-3 1-8-3-7zM63 513l1-5-2-5-1 0-2 1-2 9-7 6 5 8 7-3 3-9zM284 738l-9 4-2 13 2 3 4-1 6-7 8-4-1-7zM365 442l-4-5-10-5-6 8-9 4 1 6 1 5 3 2 2 3 6 1 8-3 0-8 8-6zM1000 419l3-10-9-3-7-10-4 5-8 5-9 3 5 9 2 11 4 7 8-1 8-3 5-2zM134 531l-8 6 0 3 5 4 0 5 6-4 9 2 4-4 2-5-4-10-7-4zM1208 669l-6-8-2-5-8 1-7 0 2 9-3 6-2 7 3 5 5 5 7-8 8 0 9-2-1-3 1-3zM233 405l1 9 7-1 8 0 7 1 3-3 0-4-3-5-5-3-4-4-7-1-7 5zM244 682l-1-11-2-7-8-1-7-3-7 8 1 14 2 2 6 2 10 5 3-2zM73 592l3 10 7-1 6 3 6-4 3-7-7-5 0-11-8 3-7 4zM70 605l-3 3 0 8 3 10 3 3 11 2 6-5 4-3 2-4-4-6-3-9-6-3-7 1zM869 408l8-11-6-5-1-6-6-7-8 1-8-1-6-2-7 5-2 11-6 8 5 11 11 3 12-3 9 2zM207 428l8 5 6-6 9-4 0-4-10-1-10-8-4 3-3 7zM230 423l5 4 4 7 6 2 7 0 3-9-1-8 2-5-7-1-8 0-7 1-3 1-1 4zM149 446l6 6 11-1 9-7 3-2 0-5-2-5-3-1-8-3-7 6-7-3-2 6-4 2zM807 711l3-8-7-4-4-10-6-4-6 2-6 5 2 12-6 9-1 9 5 2 3 3 7-2 7-4 8-2zM552 602l-1 6 5 7 9 0 4 7 7 0 7-1 3-4 0-14-3-8-5-2-11 2-5-5-4 4-3 1zM239 559l5 2 6-4 12 3-1-9 2-12-7 1-5-2-6 8-7 6zM1288 797l-6-6-5-3-9 0-9 4 1 7-2 11 5 7 11 1 6-6 7-3 6-4 0-2zM110 445l3-2 0-4-5 6-1 1zM642 793l4 9 8 3 2 2 0-2-6-7-2-8zM100 676l-9 0-4 6-6 3 2 4-1 4 7 5 8 3 7-4 4-8 4-8-2-3zM388 252l8-1 6 7 11 0 7-4 3-6-3-10 0-8-2-10-7-4-6-1-9 7-7 5 2 6-5 6-1 9zM681 651l13 6 9 0 16 1 1-9-2-9 0-10-9-3-8 1-6 0-9 7-5 6-1 3 0 5zM215 664l10-6-1-3 0-4-8-6-6-5-6 1-3 4 1 9 1 8zM62 542l0-8-6-6 2 3 0 9 1 5zM353 564l-4-8 4-8-2-3-6 1-6-3-4 6-7 1 1 6 1 9 4 7 12 1 1 0zM228 499l0-12-7-4-11 1-4 8 1 7 4 7 4 2 6-1 6 1 2-1zM265 695l11-3 7-4 7-7 1-7-1-1-10-4-9-1-8 1-1 7 1 8-5 7 2 3zM332 693l-7-8-1 10-8 2-1 10 1 3 11-1 6 7 6-2 3-5 2-2 1-4-1-3-1-3zM191 236l-6-6-10-1-4-9-9 1-3 5 1 9-6 8 4 8 2 5 11 4 10 3 9-8 1-10zM170 473l2-2 6-5 2-4 1-9-6-9-9 7-11 1-3 6 3 7 5 5 6 3zM1008 118l1-6-9 5-1 0zM364 724l-3 1-2 5 2-1 9-2 1 0zM395 603l7-4-5-6-3-10-3 0-3-1-4 6-8 5-7 1 2 7 7 8 9-1 5 5zM853 480l-9 1-1 12-10 4-3 12 6 5 9 4 3 6 5-9 10-5 8-9-8-7 3-10-7-7zM1498 762l7-7 0-7 3-4-4-9-11-5-8 5-11 4 0 5-2 3 2 5 2 6 5 6 8 2zM1024 987l5 3 0-6 2-11-1-7-3-1-7 7-6 4-1 6 2 4 2 2zM227 508l6 10-1 9 3-2 6 1 5-6 6-4-1-5 2-4-1-2-3-2-8 2-12 2zM278 434l-7 1-8 1-10 1 2 8 0 8 10 5 9-3 3-9 2-10zM931 569l9 3 0-9 12-10 0-9-7-5-3-5-8-3-10 7-7 7 5 7 2 8-1 6zM313 392l-6-3-9 1-6 8-7 1 0 5-3 6 8-1 10 7 5 4 7-4 2-5 0-6 0-8zM257 179l4 11 4 3 2 5 6-2 4 2 6-6 2-10 3-11-8-2-6 1-9 2-7 1zM169 700l5 10-2 8 6-3 8 4 7-3 3-6 0-3 0-4-6-4-8-4-6-1zM72 582l-3-1-10 2-6 6 0 7 0 6 7 0 7 6 3-3 6-3-3-10 3-8zM957 493l-12-6-7-9-10 6-7-4 0 9 2 12 0 8 4 6 6 2 10-7 5-6 13 0 1-4zM1095 690l1 5 5 4 6 9 7 1 6 0 4-3 2-8 6-11 0-10-3-2-12 4-7 3-15-4-2 2 0 2zM344 707l-2 2 9 2 6 7 4 7 3-1 1-9 6-6-6-4-5-5-7 1-8 2zM300 579l-2-7 2-8-8-4-6-3-4 7-11 4 0 4 0 6 1 0 4 5 11 4 7-1zM220 186l10-1 3-4-4 1-9 0-4 1zM112 519l-1-10-12-6-1-8-2 0-3 1-3 3-2 5-1 5 4 5 2 9 4 3 6-1 4-3 4-2zM222 373l-2-10-6 4-8 0-3 5-1 5 1 3 1 3 8 1 11 7 5-6 1-7zM134 434l-10-5 0-2-3 3-7 7-1 2 0 4 10 2 7 4 4-5 4-4zM971 579l6-4-3-12 2-8-6-11-8-1-6 2-4-1 0 9-12 10 0 9 2 2 1 3 6 5 9-3 7 5zM897 687l8-7 8-7-2-4-1-4-9 0-7 1-9-5-6 4-3 7 1 12 13 3 3 13 2-1zM107 522l-4 3 2 8-1 7-2 7 1 1 7-2 8-1 8-5 0-3-3-8-8-1-4-8zM700 491l6-11 3-7-10-3-5-8-8-5-7 8-1 16-10 10 1 0 9 3 9-3 10 7zM251 317l2 3 5-1 8-2 8-7 2-7-2-4 2-5-7-3-4-9-8 4-8 0-2 11-1 10 2 10zM340 406l-5 6-5 6 1 1 8 3 12 4 4-8 5-9-6-2-3-8-4-1-3 0zM148 555l4 8 3 0 7-5 7-6-8-4-5-10-4 0-2 5-4 4zM598 462l-4-6-7-5-10 1-11 4-2 3 1 7 6 10 8 7 9 2 9-1 1-1 2-8 4-6zM62 503l2 5 4-8 5-5-1-7-1 2-5 7-5 6zM261 397l3-11 8-6 0-1-9 0-5-6-9 1-1 1 4 11-5 9 4 4 5 3zM291 623l9-5 3-6 2-4-4-8-7-5-7 3-6 7-5 5 0 3 5 4 4 3zM81 534l-1 7 5 2 8 2 9 2 2-7 1-7-2-8-6 1-4-3-3 4-8 3zM337 615l2 2 6-2 9-3-1-8 4-4-8-5-11-1 2 11-7 9zM1020 972l7-7-3-11-12-6-10 4-5 9 5 5 0 6 5 0 7 4zM256 540l7-1 2-2 0-3 1-4-8-6-6-8-6 4-5 6 8 6 2 6zM613 622l-5-7-6-1-8 5-8-2-3 4 7 6 0 11 2 8 11 3 10-6 6-9 1-8zM206 700l7-1 3-8 6-7-2-2-8-2-10-2-1 7 1 9-2 6zM201 556l-11-1-9-4-2 2 4 6-4 8 7 7 9 1 9-5 6-6 0-1zM837 893l13 1 7-7 2-6 0-9-5-10-7-6-8 4-6 9-7 0 0 10 4 9zM230 185l1 2 2 2 8 4 9-2 11-1-4-11 1-6-3 1-9 3-8 3-5 1zM627 477l-1 12 3 11 1 1 9-2 12-6 13-4-6-9 0-11-8-5-12-1-7 4zM168 417l6 4 7-1 5-8-4-8 3-6-2-1-2-2-6 4-7-1-3 2-2 3-1 4 1 4zM1063 709l-2-6-3-7-10 4-8 2-9 1-1 3-3 2 11 7 5 7 6 12 5-3 8-9 5-5zM863 510l-10 5-5 9-1 2 2 2 4 3 11 2 12-9 16 6-1-6 3-5-4-6-5-10-5-3-9 1zM137 568l6 2 6-2 3-5-4-8-2-8-9-2-6 4-3 7-1 5 2 5 4 3zM291 353l-10 0-4-6-3 1-2 2 1 8 2 9-2 10 8 2 8-3 8-6 1-6 0-6zM241 505l8-2 2-4-2-4-3-8-11-4-3 2-4 2 0 12 1 8zM72 524l10 6 8-3 3-4-2-9-4-5-10 7-11 0zM1316 780l2-8 4-7-7-4-5 0-7-7-12 1-6 4 1 4 0 4 8 5 9 3 6 12zM1120 860l4 7 6 3 6-5 9-1-5-8 3-6-4-9-6 1-5-2-5 11-10 5zM585 590l-2 5 3 8 0 14 8 2 8-5 6 1 3-7 2-10-7-5-9-1-4-6zM73 495l9 6 8-2 3-3 3-1-3-4 1-6-5-4-6-4-6 5-5 6zM185 328l9 11-4 9 9-1 14-4 6-7 0-3 1-3-9-7-12 1-11-8zM214 438l-1 8 5 4 8 1 8-8 5-9-4-7-5-4-9 4-6 6zM562 272l-6 0-7 2-10 6-7 6 6 9 12 4 2 9 7-5 7-5 4-5-6-6 0-11z"/><path fill="#84b0e3" stroke="#fff" stroke-opacity="0.6" d="M969 441l8-5-4-7-2-11-5-9-6-5-5 1-9 8-10 9-3 13 10 4 13 5 4 8 4 0 3 0zM588 566l-12-5-7-5-2-1-2 2 4 11-1 14-6 8 5 5 11-2 5 2 2-5 8-4 1-4 0-6zM59 564l4 1 3 2 4-5 8-2-1-7-1-9-7 0-7-2-3 3 0 4-2 9 0 2zM281 617l-5-4-6 6-5 3 2 8-5 9 5 8 5-2 8 1 5-3 1-5 2-11-3-7zM593 395l-3-1-9 3-8 7-4 10 4 9 7 2 10 2 5-8 8-4 1-9-3-5-3-5zM1169 377l7-1 4-5 6-6 7-3 2-8-3-8-1-6-6-4-7-6-9 0-4 7-4 8-5 4 4 6 0 10 3 6zM763 301l10 2 13 2 6-8 5-9 3-10-11 2-8-11-14 1-1 2 0-1-3 2 0 10-1 5-6 7zM1216 342l-4-10 0-3-1 0-9 2-4 5-7 4 1 6 3 8-2 8 11 2 9 4 1-5 1-9 1-5zM729 264l-4 7-4 6 0 3 9 6 15 1 9 10 2-2 6-7 1-5 0-10-8-5-11-9-9 0zM1293 805l3 12 14 4 1 10 3 0 9-9 0-12 3-10-6-8-11-3-4 10-12 4zM301 517l-3 1-3 4-7 3-1 9 0 9 10 1 5-2 9-3 1-4 0-5-5-5-2-6zM181 420l-7 1-3 5 2 5 3 1 2 5 6-2 6 1 6-6 3-9-9-3-4-6zM1221 478l-7-4-11 2-7 11-1 7 8 7 0 9 9 1 6-2 7-1 4-7-1-9 3-5zM70 626l-10 6-10 2-2 5-2 6 7 8 7 5 3 2 4-1 5-2 4-4 3-7-2-11-4-6zM703 1032l-2-8-9 5-11-3-13 1 0 9 6 7 1 8 9-1 7-1 9 3 4-4 4-4zM637 589l2 1 14-9 3-12 9-9-5-9-6-7-12-6-9 9-10 6-2 11 7 4 4 13 2 6zM331 342l11 0 7-7 2-2 0-6 0-1-7-5-7-3-10-1-4 3-3 9 4 11-5 6 3 4 4 1zM197 195l10-8 4-3-8 0-6 8-2 4zM295 679l8 6 13-2 8-2 0-1-2-6-2-4-10-2-8-7-3 2-5 1-1 5-3 4 1 1zM452 320l4-3 6-1 6-5 2-14 7-5-10-4-4-3-5-8-3 1-4-1-7 3-6 6-3 6 1 5 6 7 4 10 5 6zM168 732l-4-4-3-4-7-1-6 7 5 2 11 6 2 1zM826 879l0-10-8-3-10 2-9-7-3 10 4 9-3 10 11 6 9 2 4-8 9-2zM499 594l-7-7-3-7-7 0-4 1-3 8-8 3-1 9 10 2 5 6 6 5 8-6 7-4 4-7zM271 668l9 1 10 4 3-4 1-5-1-8-6-6-7-4-8-1-5 2-5 2-4 3-1 5 1 8 5 4zM1073 853l-1-13 5-9-1-1-12 6-12 7-10 2 4 7 0 9 9 1 8 5 10-3 3-2zM1136 611l-1-7-12 0-13 5-16 5 0 4 0 3 5 9 4 6 8 6 8-3 9 3 5-3 6-5-2-8 5-10zM1139 415l-13 1-2 9 0 5 6 5 9 2 12 2 5 7 3-1 7-8 4-4 1-11 1-4-4-6-8-2-8-2-9-6zM626 412l-2 1-2 7 5 10-3 6 13 0 9 7 12-2-2-6 5-10 3-6-12-3-13-4-11-2zM171 724l-7 4 4 4-2 7 8 3 7 0 2-5 7-3-1-9-3-6-8-4-6 3zM951 714l4-4-3-12 11-8-2-9-7-3-4-3-9 5-11 1-4 11-6 9 3 10 2 3 8 3 12 0zM190 699l6 4 4-3 2-6-1-9 1-7-1-4-4-3-6-2-6 2-5 8 3 7-1 9zM625 227l1-4-5 2-6 8-9 3-8-5-5-2 1 6 9 0 7 5 5-3 7-2zM659 446l7 5 8 4 12 1 2-12 11-6 3-9-16 0-10-4-9-9-3 3-3 6-5 10 2 6zM212 384l-8-1 0 8-7 6 8 5 5 5 4-12 9-4zM305 591l4-6 9 0 2-5-1-5-4-8-11-4-4 1-2 8 2 7-6 7 1 2zM478 535l6 8 1 6 7 2 4 4 7-6 7-2 8 1-10-7 0-21-8-7-8-2-7 3-6 8-2 6zM119 562l8-1 1-5 3-7 0-5-5-4-8 5-8 1-7 2 0 1 3 6 6 7zM998 819l-10-8-7-2-9 6-5 7 1 7 6 8 9 2 4 4 6-6 10 0 6-1-5-7 4-11zM1013 854l0-6-2-10-2-2-6 1-10 0-6 6 0 9 0 7-3 10 7 5 6-1 9-5 5-5zM397 593l5 6 6-1 6 1 3-7 7-2-6-10 1-9-6-2-7-2-2 11-10 5zM693 830l-6 8 7 4 6 7 3 6 8-6 3-6 10-3 5-9-5-11-4-2-8 4-12 4-8-3zM233 574l-7 3 0 9 7 9 3 5 5 1 1-1 9-8 0-9-5-9-4-6zM242 616l10 5 5 3 8-2 5-3 6-6 0-3-5-4-2-5-9 4-8-1-10-4-1 1-1 5zM686 635l9-7-3-9 2-8-3-6-7-1-9-2-5 10-5 9 10 6 1 8 5 6zM606 712l10-2 5-10 9-3-6-4-4-8-4-8-8 2-6-2-1 10-8 9 1 7 4 4zM680 565l9 10 15-1 5 12 10-2 4-5 9-5-5-8-6-11-6-7-7 2-9-1-7-4-5 7-7 10zM360 552l8 5 6 2 5-6 1-8 1-9-8-2-5 0-9-2-1 7-7 6 2 3zM502 604l-7 4-8 6 0 4 6 6 6 10 6 12 4-1 5-1 1-2 3-2 3-14-2-11-2-9-2-5-4-4-5 0zM1080 661l-8-8-10-3-8 3-4 7 3 9 7 7 2 13 8-7 14 2 9-2 0-2 2-2-5-7 1-8zM446 417l2 6 11 3 8 3 3-3 6-3-1-11-5-7-4-2-5-2-10 4-5 8zM1023 710l4-2 3-2 1-3 1-14-12-6 2-11-4-3-7 1-5 7-9 2-8 9 0 8 5 7 7 6 9-3 9 6zM920 319l7-9-1-3-11-5-6-12-13-6-7 6-3 7-1 9 7 7 0 11 8 8 6-2 10-3zM574 272l-10 4 0 11 6 6 11 5 10 1 5-6 5-7 6-5-12-3-4-10-10-2zM1125 541l-11-2-13 5-13 6-1 3-2 1 2 12 5 5 8 9 10 0 11-3 4-9 2-5 8-6-3-9-6-7zM200 665l3-3-1-8-1-9-10 1-6-6-2 5-3 2 1 9 0 12 4 3 6-2 6 2zM977 663l-7 8-2 8 7 6 8-1 6 4 8-9 9-2 5-7-7-11-3-8-10 0-11 0zM845 272l-2-13-11-4-3-10-9-9-5 1-6 2 2 10-3 14-4 14 8 10 10 1 9-1 9-6zM180 475l8 9 10-1 8-7 0-1-3-7-3-6-10 4-10-4-2 4-6 5zM692 523l7-5 4-10-5-4-1-6-10-7-9 3-9-3 2 10-2 12-3 8 10 2 5 7 8 2zM860 150l-1 6-1 10 9 0 6 3 6-3 6-6-2-9-3 0-9-4-9-2-3 0zM1156 644l-9-9-8-1-6 5-5 3 2 9-6 10 5 14 3 2 10 0 7 3 3-2-1-10 7-9 5-12zM878 877l-10 3-9 1-2 6-7 7 0 13 3 8 7 4 9-6 11 3 0-11-1-14 7-9-2-1zM791 676l6-7-10 0-14-5-6-8-1 12-11 8-2 9 9 7 11 1 8-1 6-5 6-2zM621 449l-1-8-10 0-5-4-10 1-2 7-6 6 7 5 4 6 6 7 7-7 10-3zM294 586l-7 1-11-4-4-5-2 8 3 9-4 6 2 5 5 4 5-5 6-7 7-3 2-3-1-4zM246 360l5 8-2 6 9-1 5 6 9 0 1-2 2-10-2-9-1-8-10-6-8 2-1 4-6 2zM973 459l-6-7-3 0-4 0-9 7-3 11-10 8 7 9 12 6 5 7 8-5 6-5-1-8 3-10-2-8zM478 490l6 10 0 13 1 1 7-3 8 2 2-6 9-4 1-8 1-12-4-5-2-3-9 2-7-4-7 0-5 7zM699 549l9 1 7-2 2-10 6-5 7-6-3-8-9-8-6-3-9 0-4 10-7 5-3 9 2 7 1 6zM978 644l2 7 11 0 10 0 4-6 1-11 7-5-4-5-2-6-3-3-5-2-7 4-6-2-1 11-11 3-1 10zM1002 791l7 11 4 9 6-5 10-1 6-7 2-8 2-6-4-6-7-3-9 3-7 4-12-3zM757 332l8 2 13-1 11-6 2-9-1-7-4-6-13-2-10-2-7-6-2 2-6 11-2 9 0 4 3 4zM317 506l4-1 9-10-2-10-6-5-6-5-8 4-9 7 0 2 3 9 5 3 6 7zM1158 659l-7 9 1 10 8 5 14-7 8 3 2-7 3-6-2-9-8-3-5-10-5 1-4 2zM319 598l1-11-2-2-9 0-4 6-10-3 1 4-2 3 7 5 4 8 5-3 5 1zM1124 453l-3-9 9-9-6-5 0-5-5 1-4-4-9 0-13 6-6 6-1 12 5 7 9 3 8 4 7 3zM724 659l-4 0-5 9-2 8-8 6 10 5 3 10 9-8 8-1 11-1-5-12-8-4-4-9zM185 300l-9-8-3-8-9 6-8-1 3 8 6 6 3 9 2 6 5-1 11-4 2-3 0-3zM288 330l-5 3-4 5-2 9 4 6 10 0 7 5 6-9 8-2-4-10-7-1-6-8zM197 622l-6 2-6 7 0 5 0 4 6 6 10-1 3-4 6-1 0-8 3-10-5-2-1-3-5 1zM1113 856l10-5 5-11-7-6 2-12-8-5-9 5-2 7-7 5 7 7-2 9 7 6zM535 223l4-1 3-2 1-1-8 0-3 2zM1092 610l-4-7-5-2-7-1-10 3-8 7-8 6 0 3 8 6 0 9 7 4 6-7 13-3 10-7 0-3 0-4zM371 616l7-7-7-8-2-7-2 0-3 3-7 3-4 4 1 8 5 6 6 5zM298 247l-4-5-1-11-4-1-8 2-5 3-2 8-7 4 0 9 1 5 3 2 12 1 9 2 4-7 8-5zM620 717l-4-7-10 2-8-5-1 1 2 0 7 6 8 3 3 8zM957 644l-5 7-7 5 1 8 4 11 4 3 7 3 3-2 4 0 2-8 7-8 3-12-2-7-5-5-8-4-7 2zM46 585l7 4 6-6 10-2 2-6-5-8-3-2-4-1-2 1 0 2-9 7-4 6zM781 269l8 11 11-2 4-1 4-14 3-14-2-10-4-2-11 3-13-4-8 3-1 1-1 2 4 7-1 9-7 12zM752 549l-5 7-1 10 11 7 11 10 11 0 3-2 3-2 2-4 4-6 0-7-4-8 3-8-2-2-12 3-12 0-8-4zM833 869l6-9 8-4 0-4 3-5-13 3-14-18-14 1-4 2-2 8-7 7 0 7 3 4 9 7 10-2 8 3zM439 353l6 4 8-10 10 0-1-9-3-9-7-9-1 0-9 4-6 11-8 1 0 7 1 9zM338 594l11 1 8 5 7-3 3-3-1-10-6-7-5-3-8-1-1 0-2 8-7 10zM321 417l-7-6-2 5-7 4 3 6-3 6 4 4 6 4 5-3 6 1 6-8-1-11-1-1zM322 396l5-1 9-3-2-7 4-11-3-7-4-2-7 10-12 1-6 5 0 4 1 4 6 3 1 5zM1038 428l-1 5 7 9 5 9 9-6 13-8 12-5-2-8-5-8-5-4-10 0-9-2-9 4-4 8zM708 591l-2 5 5 7 4 11 11 7 11 0 6-4 2-3 1-3-2-12-1-15-11-10-9 5-4 5-10 2zM901 627l-1 4 6 3 9 6 4 7 3-1 2-1 0-9 5-11 8-7-4-6-4-4-10 1-9 13-9 0zM403 296l-2-8-8-2-11 0 0 8-6 9 2 6 6 6 6 1 9-2 9 3 3-6 1-5zM255 763l-5-7-2-6-2-3-3 0-2 0 0 2 2 1 7 6 4 8zM969 535l1-11-4-13-5-7-13 0-5 6-10 7 1 7 0 7 8 3 3 5 7 5 4 1 6-2zM169 690l-9-4-2-9-5 6-8 6-1 7 5 9 11 1 9-6zM890 806l-7 0-8 5-3 14-11 4 0 5 0 3 5 5 9 5 8 1 9-5 9-3 9 1 3-3 1-3-12-9-4-8-3-12zM176 694l6 1 1-9-3-7 5-8-4-3-9-2-8 5-3 2-3 4 2 9 9 4 0 10zM699 438l-11 6-2 12 0 1 8 5 5 8 10 3 6 2 6-5 2-7 4-3-1-6-5-8 0-9-6-4-10-6-3 2zM630 510l-3 8 3 5 6 7 5 5 11-4 5-3 9-7 3-8 2-12-2-10-1 0-4-2-13 4-12 6-9 2zM551 693l-7-6-3-10-5-5-4 0-4-1-2 5 3 2 5 7 8 4 5 7zM898 818l4 8 12 9 6-1 5-3-2-12 6-7 3-13-5-3-3-7-6 0-8-1-6 4-1 9-8 5zM667 646l-10-1-10 3-4 3-3 6 6 6 5 11 8 0 12 2 7-6 1-11 2-8-1-2zM262 639l5-9-2-8-8 2-5-3-6 6-2 11 9 8 5 6 4-3 5-2zM165 400l3-2-6-5-5 3-9 2-1 2 9 2 7 1zM355 574l5 3 11-5 3-9 1-3-1-1-6-2-8-5-7-4-4 8 4 8-6 9zM434 547l-4-5-9-1-7-3-7 4-4 9-2 2 1 4 0 6 4 4 7 2 6 2 3-6 8-4 7-2 1-3 1-2zM1100 732l8 4 0-12 4-8 2-7-7-1-6-9-5-4-7 8 1 10-7 11 5 5 0 5zM251 485l13-6-7-9-9-6-5 1-4 1-2 6-2 11 11 4 3 8zM862 323l-1 10 3 6 5 5 9 3 6-4 6 2 4-5 6-8-8-8 0-11-7-7-9 0-6 5-10-2-1 5-3 4zM943 799l-11 0-3 13-6 7 2 12 5 3 5 0 6-8 12-2 7-4-5-10-5-9zM148 471l7-6-3-7 3-6-6-6-4-7-3 0-4 1-4 4-4 5-1 5 0 7 3 6 7 4zM189 607l7 9 6 2 5-1-1-11 4-7-2-2-1-3-10 0-5-5-5 2-4 3 2 4-1 5zM904 707l9-2 10 6-3-10 6-9 4-11-7-7-10-1-8 7-8 7-2 12zM378 680l-2 6 6 6 2 7 7 1 6-3 3-8-1-9-10-2-7-2zM630 278l-8 3-14-2-1 2 7 9 9 9 8 10 5-6 11-2 1-7-6-8 3-11-4-3zM821 916l9-1 13 0 6 5 3-5-12-4-7 1-12 1zM625 227l-3 8 9 5 2 7 10 2 6-7 10 0 0-1-3-1-7-7-6-8-5-9-7 6-5 1zM339 422l-8-3 1 11-6 8 4 5 6 1 9-4 6-8 1-3-1-3zM189 725l1 9 8-1 7 2 4-5 0-8-3-7-10-5-3 6-7 3zM397 350l-4-4-7-1-5-2-7 6-4 7 7 10-3 9 2 1 9 0 9-3 0-11 5-5zM632 660l-7-1-7 10-2 8 4 8 4 8 6 4 6-1 7 2 3-8-1-7 6-9-5-11-6-6zM970 495l-8 5-1 4 5 7 4 13 7 0 9 1 6-1 7-6 5-6 3-10-13 0-9-9-9-3zM275 422l3-9-11-1-8-1-3 3-2 5 1 8-3 9 1 1 10-1 8-1 7-1zM603 649l-11-3-5 8-4 5 4 10 10 3 5 5 6 2 8-2 2-8 7-10-5-6-7-10zM1132 382l-8-1-5-6-9 0-8 10 9 13-1 15 5 9 4 4 5-1 2-9 13-1 4-13-5-9 3-8zM644 730l-2-18 5-10-2-3-2-1-7-2-6 1-9 3-5 10 4 7-3 8 1 3 11 2 11 1 5 5zM310 668l10 2 2-6 5-6 0-6-5-4-6 1-8 0-5 4-1 8zM288 171l4 1 2-2-9-1-5 0zM59 564l-2-4 0 5zM1043 414l9-4-5-10-2-7-2-9-7-2-6 3-9 4-6 5-1 11 7 4 11 10 7 3zM436 335l6-11 9-4-5-6-4-10-6-7-8 2-10 4-6 3-1 5-3 6 0 5 2 3 8 10 10 1zM277 446l-3 9 3 4 5 7 4-6 8-2-2-10 1-9-6 0-8-3zM206 606l1 11 1 3 5 2 7 1 5-1 3-8 5-6 7-2 1-5-5-1-3-5-8 1-7 1-8 2zM312 451l3-11-6-4-4-4-6 6-6 1-1 9 2 10 10-1 7 4zM303 653l5-4-4-6 0-5-10 0-8 0-1 5-5 3 7 4 6 6 1 8 5-1 3-2zM1192 396l12 8 10-2-4-10 5-11-1-8-2-2 1-3-9-4-11-2-7 3-6 6-4 5 0 8 4 5zM711 330l-1-3-9-1-1-8-10-3-8 1-6 3-6 5-1 1 6 8 9 9 7 8 6-6 9-1 4-9zM327 632l-7-5-4 0-7 2-4 3-1 6 0 5 4 6 8 0 6-1 0-6 5-3zM762 952l1 10 11-4 3 1 3-7 6-10 1-4-6 1-12-4-14-3-4 7 2 5zM289 712l-5 3 5 7 5 4 6-2 7 1 2-9 7-6-1-3-5-4-7-1-3 4-8-1zM103 548l-1-1-9-2-8-2-5-2-4 3 1 9 1 7 3 4 6 1 6-8 10-8zM233 663l8 1 5-6 11-1 1-5-5-6-9-8-5 1-4-2-7 8-4 6 0 4 1 3 1 2zM408 322l0-5-9-3-9 2-6-1-6 7-2 11 4 4 1 6 5 2 7 1 9-7 4-5 4-9zM1105 517l-12-1-10 5 4 11 0 8 1 10 13-6 13-5 11 2 1-10-14-7 0-13zM732 574l11 10 1 15 2 12 12-1 8-4 6-6 2-10 5-7-11 0-11-10-11-7-9 2zM229 552l-9 3-6 0-2 4-2 4 0 1 2 5 4 4 6-1 4 5 7-3 9-6 1-4 1-3-5-2-1-7-2-1zM220 418l10 1 1-4 3-1-1-9 0-6-7-2-3-6-9 4-4 12 0 3zM237 372l11 3 1-1 2-6-5-8 1-8-9-3-11 0-4 5-3 9 2 10 7 5zM229 731l1-8-5-8-11 1-5 6 0 8-4 5 3 3 2-1 11-3 8 5 1 1zM310 515l3-8-6-7-5-3-3-9-5 9-7 5 6 9 5 7 3-1 4 2zM251 592l-9 8 10 4 8 1 9-4 4-6-3-9 2-8-1 0-11 4-9 1zM693 387l-8-1-11 2-4 3 3 8-8 8 2 9 9 9 10 4 16 0 3-2-2-10 8-6 1-11-3-4-4-2zM530 642l9-5 0-10 8-8-1-8-8-5-10 0-11 0 2 9 2 11-3 14zM1116 466l-1-3-7-3-8-4-9-3-2 10-7 5 6 8 1 9 10-2 6 5 5-5 1-8 6-7zM177 609l-6 11 5 7 9 4 6-7 6-2 5-4-6-2-7-9-5-4zM1046 970l-6-6-4 1-6 1 1 7-2 11 0 6 3 0 9-2 3-4 0-1zM973 605l8 4 5 6 6 2 7-4-2-10-2-9 4-12-9-2-6-1-7-4-6 4-6 5-2 10 4 10zM199 324l12-1 9 7 2-7 6-6-3-6-1-11-7-5-3-3-3-1-6 3-8 11-9 2 0 3-2 3 2 3zM340 394l-4-2-9 3-5 1-8 1 0 8 0 6 7 6 9 1 5-6 5-6 4-8zM88 667l4-12-10-2-6 0-4 4-5 2 2 8 4 12 3 4 5 2 6-3 4-6zM364 682l2 5 5-1 5 0 2-6 4-4-3-4 0-4-8 0-7-1-5 4-2 6zM337 734l-3-1-3 2 7-1zM315 567l4 8 8-4 3-6-1-9-1-6-8-2-5-2-3 7-8 10zM581 260l-1-10-10 3-10-5-2 5-5 1 3 9 0 9 6 0 2 4 10-4 7-6zM87 570l0-5-6-1-3-4-8 2-4 5 5 8-2 6 3 1 4 2 7-4 8-3zM677 576l-6 10 2 12 2 4 9 2 7 1 9-2 6-7 2-5 1-5-5-12-15 1-9-10zM201 674l1 4 10 2 8 2-1-14 7-8-1-2-10 6-12-2-3 3-3 6zM1260 640l8-3 12-4 2-4-3-9-5-10-10-5-11 7-8-2-2 3-1 13 0 10 6 10zM542 220l10 2 8 7 7 1 6-6 5-2-3-2-8-3-7-5-8 2-8 5-1 0zM182 404l4 8 4 6 9 3 4-1 3-7 4-3 0-3-5-5-8-5-7 2-5-1zM235 544l-3-9-2-7-6 3-7 1-5 6 0 7-1 5 3 5 6 0 9-3 7-1zM342 664l1-6-8-2-8 2-5 6-2 6 2 4 2 6 10 1 9-10zM1511 759l-6-4-7 7-9 4 3 8 5-1 9 1 9-3 1-5zM1173 397l1 7-6 8 4 6-1 4 7-3 11 1 7 5 9-3 5-9 6-8-2-3-10 2-12-8-12-7zM803 431l-8-5-8-3-5-6-9 3-6 8-9 4 2 3 0 3 8 4 6 3 6 5 4-7 10-4 8-4 1-2zM355 418l-4 8 1 3-1 3 10 5 4 5 10-7 3-7-9-5-4-9-4-5-1 0zM205 735l-7-2-8 1-7 3-2 5 4 0 15 0 8-4zM598 707l-4-4-1-7-8-6-11 0-8 0-3 3 4 7 1 2 6 8 8 7 8-11 7 2zM963 823l-3-3-7 4-12 2-6 8 10 8 1 7 6 11 9-6 5-11 8-6-6-8-1-7zM1315 716l4-8-1-9-2-3-1-3-5-5-6-1-10 4-1 7-10 4 5 6 4 6 2 9 6-2 8 3zM997 882l0-9-6 1-7-5-7 3-5 6-9 2 5 7 1 8 8 7 5 3 5 1 13-5 4-8zM830 784l-9 11-6 8 4 7-1 5 9 1 10-5 11 3-3-8 5-11-2-8-8-6-9-6zM283 522l-8-1-5 4-4 5-1 4 0 3 8 4 6 5 7-2 1-1 0-9 1-9zM183 397l2 1 5 1 7-2 7-6 0-8-1-3-1-3-9-2-11 3-2 10 1 7zM720 353l5-7-7-5-8-7-4 9-9 1-6 6 0 3 0 2 7 8 8 3 7-1 8-4zM1080 133l-1 1 2 14-5 12 0 9 10 4 7-7 9 2-4-6-4-8-3-14-4-7-2-1zM871 723l-13 11 2 13 8 8 9 3 7-6 7-9 3-10-2-8-4-5-6-8-8 2-7 0zM106 555l-3-6-10 8-6 8 0 5 4 7 10 0 7-5 0-5 4-5zM162 407l1-4-7-1-9-2-4 7-5 3 5 5 7 6 4-6 9-4zM894 562l7 7 5 7 11-3 6-7 1-6-2-8-5-7-7-1-9-5-6 1-6 7 1 8-4 6zM820 591l4-10 1-8-14-1-9-2-11-1-4 6-2 4 11 7 6 11 11 5 4-1zM194 528l0 8 5 8 13 1 0-7 5-6-4-5-4-5-6 1-4 1zM911 923l10 0 6 7 11-5 3-7-3-8-1-9-7 0-7-5-8-1-2 11-7 6-2 8zM350 482l12-4 6-3 0-1-6-6-5-10-8 3-6-1-3 8 1 9 1 7 3 2zM1189 306l-13 12-10-1 4 7-1 6 9 0 7 6 6 4 7-4 4-5 9-2 1 0-1-3-3-5-3-13-5-4-3 0-1-1zM701 628l8-1 9 3 2-4 6-5-11-7-4-11-5-7-6 7-9 2 3 6-2 8 3 9zM821 890l-4 8 0 8 4 7 12-1 7-1 12 4 1 0-3-8 0-13-13-1-7-5zM279 200l2 1 6-3 9 0 10-1 0-6 2-3-7-5-2-8-4-5-1 0-2 2-4-1-3 11-2 10-6 6zM118 481l-9-6 0-8-1-1-8 5-2 7-4 7-1 6 3 4 2 0 9 0 6-4 8-2zM252 505l1 2 11-2 9-1 2-2 1-8-4-7-2-8-3 1-3-1-13 6-2 10 2 4-2 4zM1063 867l-8-5-9-1-2 2 4 7-1 10 2 10 8 2 6-4 9 2 3-9-4-8 2-9zM232 485l3-2 2-11 2-6-3-1-2-1-10 1-9 7-9 3 0 1 2 3 2 5 11-1 7 4z"/><path fill="#8bbae1" stroke="#fff" stroke-opacity="0.6" d="M913 888l2 7 8 1 7 5 7 0 10-6-1-12 10-6-2-4-2-2-12-5-11 6-11-4-7 4-3 11zM891 597l9-4 5-4 3-7-2-6-5-7-7-7-8-1-6 0-2 3 2 14-1 9-8 11 2 2 6-1 6 3zM545 495l-5-8-3-7-9 0-9 1-6 2-1 12-1 8 9 8 9-2 11 4 2-7 7-6zM1063 341l8-1 12-3 1-1 0-13 4-8-1-11-1-3-2-2-10 1-16 2-11-3-1 2-2 3-1 14 1 8 8 11zM1033 493l8 4 7 0 7-8 0-9 7-4-2-9-3-10-8-5-14 4-8 6-8 14 4 9-3 9zM1153 572l-8-12-10-3-8 6-2 5-4 9 2 9 5 13 7 5 4-10 10-9 10-2zM784 507l-2 14 10 8-4 15 2 2 9 1 8-5 5-13 9-10 2-10-12-3-6-7-10 3-10 5zM354 407l6 2 1 0 8-4 10-6 0-8-2-6-1-9-2-1-8 0-5 4-1 7-6 8-3 5zM890 513l4 6 10-7 10 5 9-8 0-8-2-12 0-9-3-1-7-1-11 1-2 9-5 7-8 8zM286 544l0 7 0 6 6 3 8 4 4-1 8-10 3-7-1-4-3-3-9 3-5 2-10-1zM617 332l-5 0-1 9-10 9-3 8 7 9 5 7 7-4 8 4 9-2 5-6 3-10 0-9-7-2-6-10-7-4zM1049 452l8 5 3 10 13 5 9-4 7-5 2-10-5-7 1-12-4-2-12 5-13 8-9 6zM659 242l7 6 6 1 9 1 11-7 8-4-1-1-7-2-9 2-8 3-8 3-8-3zM351 278l-5 3 0 6-1 5 4 12 8 3 9-5 10 1 6-9 0-8-2-3-1-2-10-1-7-1-10-4zM180 388l2-10-2-4-1 4-1 11-11 2-5 2 6 5 7 1 6-4zM718 341l7 5 9 1 9-5 5-9 1-8-3-4 0-4-8-3-7-3-9 4-6 8-6 4 1 3-1 4zM711 268l-8-3-8 6-8 4-8 3 1 5 8 4 6 4 2 7 10-3 7-1 4-8 4-6 0-3zM711 411l-8 6 2 10 10 6 6 4 7-8 12-4 9 0 1-8-4-10-8-4-6-1-5-6-8 5-7-1zM1186 550l7-8 6-4-5-12 3-9-7 0-10-3-10-1-4 2-4 3-2 10 9 8 1 11 7 1 4 5zM794 439l-10 4-4 7 4 8-4 9 8 4 8 2 9 3 3-3 3-4-7-11 0-11-2-12zM763 373l1 11 7 6 4 0 3 2 11 0 8-8 5-9-1-13-3-6-13-1-4-7-9 9-7 7-9 3zM265 458l-10-5-4 5-3 6 9 6 7 9 3 1 3-1 5-2 6-5-1-2 2-4-5-7-3-4zM635 400l-3-12 8-6-4-5-2-5-9 2-8-4-7 4-6 8-6 5 0 9 3 5 3 5 11 1 9 6 2-1 2-2zM368 639l1 4 8 6 8 6 4 0 4-2 2-6 4-8 0-10-3-2-10 8-8 3-10-2zM1010 502l-3 0-3 10-5 6-7 6 3 8 4 12 4 3 4 1 6-6 9-3 7 1-4-15-1-10-9-15zM25 636l-1 6 7 1 11 4 4-2 2-6 2-5-5-5-3-7-7-5-9 2 0 1-1 3 0 2-1 0-2 4 0 2zM826 569l5-1 2-9-4-6-6-4-9-2-7-5-8 5-9-1-3 8 4 8 0 7 11 1 9 2 14 1zM1032 419l-11-10-7-4-6 2-5 2-3 10-2 11 8 3 5 7 9-2 6-5 11 0 1-5 1-6zM417 592l-3 7 5 7 2 9 5 10 5 0 1-12 13-7 1-9-2-3-11 1-9-5zM409 383l-5 1-7 6-3 9-5 4 4 5 3 7 10-1 10-4 5-5-7-9-1-10zM733 671l8 4 5 12 1 0 2-1 4-1 2-9 11-8 1-12 0-8-6-5-4-2-11 9-10 1-7 11zM1100 791l1-10 0-4-2-4-13-4-5-6-6 9-9 4 7 5 1 13 7 8 7-4 6-1zM1107 809l8 4 5-8 6-2 0-2-23 4zM658 469l0 11 6 9 4 2 10-10 1-16 7-8 0-1-12-1-8-4-7-5-2 11-7 7zM586 240l8-5-1-6-3-1-9-2-3-4-5 2-6 6-7-1 2 12-2 7 10 5 10-3zM466 403l4 2 9-3 3-10 8-4-2-4-1-3-10-4-8-3-8-1-8 7-1 3 4 9 5 9zM335 367l5 2 4-3 5-5 9-7 0-11-9-8-7 7-11 0-5 9 0 8 5 6zM567 700l-4-7-5 0-7 0-4 3 10 4 11 2zM315 472l1 3 6 5 6 5 9-1 5 0-1-7-1-9 3-8-2-3-3-2-7 8-7 4-9 0zM729 366l6 10 7-6 9 3 5-6-2-9-4-11-7-5-9 5-9-1-5 7 1 8zM344 581l2-8-12-1-4-7-3 6-8 4 1 5-2 5 2 2 10 2 7 2zM860 705l7 9 7 0 8-2 9-5 2-7-3-13-13-3-1-12-5 0-5 2-5 9-5 11-6 10zM1065 171l-7 0-5 10-3 9-2 7 9 3 11 9 11 1 4-2-7-9-3-17 2-12zM345 627l-6-10-2-2-4-1-4 0-2 2-1 6-6 5 7 5 0 7 8 2 7-1 3-2 1-3zM934 777l-5 8-5 4 3 7 5 3 11 0 7 2 9-5 5-8 4-11-1 0-10-3-12 3-9-6zM141 244l6 0 7-1 6-8-1-9 3-5-10-5-4 2-9 2 2 11-1 10 0 3zM299 227l9 0 6-8 1-4-3-12-6-6-10 1-9 0-6 3 1 12 8 8-1 9 4 1zM416 379l7-3 0-8 1-10-7 2-9 0-9-3-5 5 0 11 4 6 6 5 5-1 4 3zM393 286l8 2 6-8 6-4 2-7-2-5 0-6-11 0-6-7-8 1-8 7 1 10-2 12 1 2 2 3zM679 659l-1 11 7 6 0 9 11-5 9 2 8-6 2-8 5-9-1-1-16-1-9 0-13-6zM307 321l9-5 7 4 4-3 2-9-1-5-5-8-8 0-6-5-2 0-6 7 0 10-2 9zM625 590l-3 5-9 3-2 10-3 7 5 7 7 4 12-3 8-2 0-9 0-12-1-10-2-1-3-2zM361 725l-4-7-6-7-9-2-3 5-6 2 0 9 1 8 3 1 1 0 4 0 9-2 8-2zM1094 336l12 9 15-2 0-12 11-10-2-10-2-2-16-4-12 5-13-6 1 11-4 8 0 13zM1205 308l3 13 3 5 0-4-1-9-2-10-8 1zM445 554l-6 0-1 2-1 3 8 6-2 8 5 7 9-4 10-3 1-7-2-7-7-7-6-2zM645 275l8-2 12 4 9-3-5-8 2-9 1-8-6-1-7-6-10 0-6 7-3 7 3 9-2 7zM1044 326l-1-8 1-14-10 9-14 5-10 0 0 4 2 11 13 8 11 8 3 1 3-9 10-4zM777 341l4 7 4 7 13 1 3 6 7-3 8-3 5-5-4-10 0-10 2-8-11-5-7 7-10-7-2 9-11 6zM746 245l2 0-3-5-6 1zM1093 229l-3-8-2-11-2-1-3-1-4 2-8 9-5 10-9 4-3 11 4 8 4 3 6 0 5 3 9-8 7-7 12-2 2-4zM966 843l-5 11-9 6-2 5 2 6 2 2 2 4 4 2 3 1 9-2 5-6 7-3 3-10 0-7 0-9-4-4-9-2zM984 548l7 0 8-4-4-12-3-8-6 1-9-1-7 0-1 11-7 8 8 1 6 11zM299 175l2 8 7 5 9-2 9-4 6-2 1-3 2-2-6 0-9 2-12-5-12-2-1 0zM639 412l13 4 12 3 3-3-2-9 8-8-3-8-11-3-8 0-11-6-8 6 3 12-7 10zM718 640l2 9-1 9 1 1 4 0 5 3 7-11 10-1 11-9-3-10-3-7-8-7-6 4-11 0-6 5-2 4zM1088 210l2 11 3 8 10 8 6-2 0-2-5-8-7-8-3-9zM42 668l-8-2-6 2-8 2-1 4-1 3 5 6 12-2 3 6 7 0 3-3 2-5-3-4zM306 385l0-4-7-5-2-6-8 6-8 3-8-2-1 2 0 1 5 7 0 6 8 6 7-1 6-8 9-1zM579 662l-6 0-3 7 3 11-7 10 8 0 11 0 8 6 8-9 1-10-5-5-10-3-4-10zM1076 416l5 8 2 8 4 2 6-6 13-6 9 0-5-9 1-15-9-13-8 1-5-3-5 13-2 8-11 8zM709 715l6-4 3-5 0-9-3-10-10-5-9-2-11 5-5 7-1 12 1 2 9 3 6 6 8 2zM366 634l2 2 10 2 8-3 10-8-4-5 0-9-5-5-9 1-7 7-6 7-2 5 1 5zM347 511l-8 4 9 1 2 7 8 4 6-7 2-7-3-5-1-6-6-4-6 0zM1177 548l-7-1-10 2-12 0-13 8 10 3 8 12 6 11 2 0 9-3 2-10 11-5-1-5-1-7zM895 411l7 10-1 15 9 0 11 2 3-2 2-1-2-15-7-12 1-12-5-2-7-6-10 5-6 5zM71 711l4 8 7 0 10 1 6-6 2-9-3-4-8-3-7-5-7 6-6 6zM467 592l8-3 3-8-6-6-5-2-10 3-9 4-2 6-2 8 2 3 5 6 9 0 3-1 3-1zM837 811l-10 5-9-1-5 8-4 10 14-1 14 18 13-3 5-5 6-5 0-3 0-5-7-5-6-10zM407 542l7-4-1-11-6-9-9 2-6-4-2 1-3 8-5 10 7 4 9 6 5 6zM414 676l-6-3-5 5-4 2 1 9-3 8 2 5 1-1 10-6 7-14 2 1-1-3zM1036 349l-13 2-7 7-8 5-2 3 0 4 8 5 2 7 5 7 9-4 6-3 7 2 4-4 2-6-6-7-4-7 0-10zM399 639l-4 8-2 6 9 3 4 6 7-2 5-8 4-8-5-13-10 1-8-3zM519 548l8-5 7-13 7-8 0-4-1-5-11-4-9 2-9-8-9 4-2 6 8 7 0 21 10 7zM878 799l-6-6-3-10-13 1-8 3 2 8-5 11 3 8 6 10 7 5 11-4 3-14 8-5zM773 490l4 6 8 11 10-5 10-3-3-7 3-7 0-9-9-3-8-2-8-4-10 4-6 8zM880 561l6 0 4-6-1-8 6-7 0-5-3-5-16-6-12 9-11-2 8 9 4 8 0 11 6 0 7 5zM287 439l6 0 6-1 6-6 3-6-3-6-5-4-10-7-8 1-2 2-2 1-3 9 3 12 1 2zM392 622l4 5 3 2 8 3 10-1 6-2 3-4-5-10-2-9-5-7-6-1-6 1-7 4-3 10zM197 594l10 0 4-6 0-11 5-4-4-4-2-5-6 6-9 5-4 6 1 8zM56 670l-9 5 3 4-2 5 2 1 8-4 6 1 9-3-4-12-2-8-4 1-3-2zM1083 738l-3 9 0 7 1 9 5 6 13 4 8-7 3-11 9-8-1-4-5-6-5-1-8-4-12 2zM808 423l12-8 1-13-9-6-6-9-9-3-8 8-11 0-1 7 6 8-1 10 5 6 8 3 8 5zM285 404l0-5-8-6 0-6-5-7-8 6-3 11-5 5 3 5 0 4 8 1 11 1 2-1 2-2zM670 612l5-10-2-4-14 2-11-9-9-1 1 10 0 12 0 9 3 2 7 0 7 1 8-3zM923 711l-10-6-9 2-9-8-2 1-2 7-9 5 6 8 4 5 2 8 9-3 11 7 3-10 3-8 5-5zM201 455l-1 7 3 6 3 7 9-3 9-7 10-1-7-6-1-7-8-1-5-4-6 1-2 3zM1004 829l5 7 2 2 10 1 7 1 9 1 2-8 4-5 0-9-9-5-5-9-10 1-6 5-2 5-3 2zM511 597l6-7 3-7 7-7 2-6 0-9-6-6-4-7-1 0-8-1-7 2-7 6 0 10-8 7 1 8 3 7 7 7 7 3zM293 511l-6-9-7 2-5-2-2 2 2 11 0 6 8 1 5 3 7-3 3-4zM430 561l-8 4-3 6-1 9 6 10 9 5 11-1 2-8 2-6-5-7 2-8-8-6zM713 365l-7 1-5 8 8 9-4 11 4 2 3 4 7 1 8-5 7-8 1-12-6-10-8-5zM748 333l-5 9 7 5 4 11 2 9 9-3 7-7 9-9-4-7 1-8-13 1-8-2-8-7zM969 895l-1-8-5-7-3-1-4-2-10 6 1 12-10 6 1 9 3 8 6 4 9 2 4-7 8-9 9-6zM131 725l-1-7 4-8-9 4-10 2 1 5-1 6 9 3 1 1 6-3 1 0zM758 484l-4 7-8 2 1 9 8 8-1 8 11-3 6-7 13-1 1 0-8-11-4-6-9-11zM862 422l6 10 3 6 9 4 8 2 7-5 6-3 1-15-7-10-5-13-7 0-6-1-8 11-5 6zM326 359l0-8-4-1-3-4-4 1-3 0-8 2-6 9 0 6-1 6 2 6 7 5 6-5 12-1 7-10zM623 438l-3 3 1 8 0 10 4 4 6 4 7-4 12 1 7-7 2-11-1-5-12 2-9-7-13 0zM107 656l-11-3-4 2-4 12 3 9 9 0 10 2 2-9 1-7zM615 407l-11-1-1 9-8 4-5 8 4 4 1 7 10-1 5 4 10 0 3-3 1-2 3-6-5-10 2-7zM162 221l4-6-1 0-9-1-4 2zM354 636l10-3-1-5 2-5-6-5-5-6-9 3-6 2 6 10 1 8zM365 352l5 4 4-7 7-6-1-6-4-4-7 2-11-4-7-4 0 6-2 2 9 8 0 11zM298 324l-3 4 6 8 7 1 4 10 3 0 4-1 5-6-4-11 3-9-7-4-9 5-8-5zM1026 888l-7-7 5-9-6-4-7-5-5 5-9 5 0 9 7 11 6 1 11 1zM764 479l-3-7-10-5-3-7-11 0-10 0-4 3-2 7 9 6-2 10 7 6 5 1 6 0 8-2 4-7zM800 627l-5 1-4-3-7 10-11 4-12 4 6 5 0 8 6 8 14 5 10 0 2-3 2-1-1-15-2-11 2-11zM474 348l2 0 5-6 0-8 7-6-7-7-12-1-7-4-6 1-4 3 7 9 3 9 1 9 4 3 3 0zM523 452l-7 0-2 9-6 7-1 7 2 3 4 5 6-2 9-1 9 0 3-12 6-6-8-7-7-6zM1046 301l1-2-3-5-1-3-10-3-2-10-11-1-5 12-12 5-5 6 0 4 5 10 7 4 10 0 14-5 10-9zM226 714l-1 1 5 8-1 8 1 9 2 2 6 1 3 4 2 0-2-11 8-5-1-12-9-3-9-4zM481 609l-5-6-10-2-3 1-3 1-1 10-3 10 4 8 1 3 4 1 11-3 4-9 7-5 0-4zM1037 160l-6 2-2 11-2 7-3 9 4 6 8 6 7 0 5-4 2-7 3-9 5-10-6-4-8-7zM288 627l-2 11 8 0 10 0 1-6 4-3-3-6-6-5-9 5-6-3zM1129 740l6-17 11-3-9-6-9-1-4-7-4 3-6 0-2 7-4 8 0 12 5 1 5 6zM457 542l3-9-5-6-7-4-6-7-8 8-2 7-2 11 4 5 5 7 6 0 8-4zM340 276l-7-3-11 0-8 9-5 8 6 5 8 0 5 8 6-9 11-2 1-5 0-6zM1041 904l1-11 7-3-2-10 1-10-4-7-4 6-8 3-8 0-5 9 7 7-5 7 3 7 9 5zM384 664l1-9-8-6-8-6-3 6-6 7 0 7 4 4 7 1 8 0zM1046 132l-5-5-9-1-10 6-7-2-1 10-2 8 8 5 6 2 5 7 6-2 7 0 8-8-1-13zM41 655l-7 11 8 2 5 7 9-5 4-12-7-5-7-8-4 2zM734 388l-7 8 5 6 6 1 8 4 9-6 11-3 5-8-7-6-1-11-7-6-5 6-9-3-7 6zM1003 577l5-1-5-9 8-10-4-9-4-1-4-3-8 4-7 0-8 7-2 8 3 12 7 4 6 1 9 2zM1149 787l4-8-3-6-6-6-7-5-1 0-3 5-5 8-4 7 2 6 2 4 2 0 19-4zM353 370l8 9 5-4 8 0 3-9-7-10-5-4-7 2-9 7-5 5zM1192 484l4 3 7-11 11-2-3-9 1-10-5-5-5 0-10 3-7 3 1 8-5 11 2 7zM387 525l3-8-6-5-10 3-8-2-2 7-6 7 1 2 0 3 9 2 5 0 8 2 1-1zM1066 229l5-10 8-9-11-1-11-9-9-3-5 4-7 0-3 6 1 9 10 5 7 7 6 5zM239 639l5-1 2-11 6-6-10-5-2-10-7 2-5 6-3 8 4 8 6 7zM887 611l7 6 7 5 9 0 9-13 10-1-1-3-11-4-4-11-8-1-5 4-9 4-6 5zM591 268l4 10 12 3 1-2-3-13 2-13 3-13-7-5-9 0-8 5-6 10 1 10 0 6zM398 379l-4-6-9 3-9 0 1 9 2 6 0 8 5 3 5 1 5-4 3-9 7-6zM322 612l-7-6-5-1-5 3-2 4-3 6 6 5 3 6 7-2 4 0 6-5 1-6zM468 566l-1 7 5 2 6 6 4-1 7 0-1-8 8-7 0-10-4-4-7-2-8 4-11 6zM740 425l-12 4-7 8 0 9 5 8 1 6 10 0 11 0 4-6 6-9 2-7 0-3-2-3-7-3-2-4zM477 377l10 4 3-10 5-10-7-4-6-6-6-3-2 0-4 2 0 8 0 6-1 10zM1177 495l-6 7-1 11 10 1 10 3 7 0 3-5 3-2 0-9-8-7 1-7-4-3-9-2-6 0-4 4zM746 245l-7-4-2 0-1 0 3 6-4 12 9 0 11 9 8 5 3-2-4-8-8-6-4-8-2-4zM228 645l7-8-6-7-4-8-5 1-7-1-3 10 0 8 6 5 8 6zM716 323l6-8-4-6-2-9-3-6-7 1-10 3-7 8 1 9 10 3 1 8 9 1zM154 723l0-8-7-7-7 0-6 2-4 8 1 7 1 3 10-1 6 3zM680 644l1-3-5-6-1-8-10-6-8 3-7-1-7 0 0 10-1 8 5 7 10-3 10 1 13 3zM196 707l0 3 10 5 3 7 5-6 11-1 1-1-7-10-6-5-7 1-6 0-4 3zM700 239l-8 4-11 7-9-1-1 8-2 9 5 8 3 1 2 3 8-3 8-4 8-6-5-10 3-8zM1128 775l5-8 3-5-8-3-1-10-8-2-9 8-3 11-8 7 2 4 0 4 7 0 8 4 8-3zM698 363l-7-8-7 8-7 4 2 13-5 8 11-2 8 1 12 7 4-11-8-9 5-8zM382 558l9-1 11 0-1-4 2-2-5-6-9-6-7-4-1 1-1 9-1 8-5 6 1 1z"/><path fill="#9ecae3" stroke="#fff" stroke-opacity="0.6" d="M1039 784l-2 6-2 8-6 7 5 9 9 5 6-2 10-4 5-1-3-12-11-5-8-11zM824 402l3-1 6-8 2-11 7-5-7-6-2-6-2-9-5-2-5-3-5 5-8 3-7 3 1 13-5 9 9 3 6 9 9 6zM350 491l0 7 6 0 6 4 12-2 4-9-2-10-8-6-6 3-12 4-5 4zM355 266l-3-11-6-3-7-4-8-3-5 6-8 6 2 7 2 9 11 0 7 3 6 5 5-3 1-3zM1158 288l-3 8 1 11 5 5 5 5 10 1 13-12 7-3-9-3-2-12 0-12-13 6-10 0-1-1zM1031 278l2 10 10 3 5-14 4-9 10-13-4-3-7 1-13 0-9-1-7 6-4 11 2 2 0 6zM1060 676l-7-7-3-9-6-2-4 1-6 2-5 5-7 6-2 11 12 6-1 14 9-1 8-2 10-4 1-4 3-3zM712 508l6 3 4-10 5-4 8-5-7-6 2-10-9-6-6 5-6-2-3 7-6 11-3 7 1 6 5 4zM1161 345l4-8 4-7 1-6-4-7-5-5-5-5-9-2-8 7-9-1 2 10-11 10 0 12 1 2 9-4 14 2 11 6zM1003 294l12-5 5-12 0-6-2-2-10-3-11-6-13-5-7 6-3 9 13 5 6 15 5 10zM432 531l2-7 8-8 0-2-9 0-12 2-8-3-3 3-3 2 6 9 1 11 7 3 9 1zM497 665l-1-12-7-2-8 2-9 1-1 2 4 11-3 6 4 1 10-1 9-3 2-1zM966 970l6 3 3-5 4-4 1-2 1-4-5-7-3-6-4-1-4-2-8 4-3 8-10 4 7 4 5 11zM674 388l5-8-2-13-9-8-16-2-6-11-4 1 0 9-3 10-5 6 2 5 4 5 11 6 8 0 11 3zM1019 579l10-3 6 6 3-2 4-4 0-10 0-11-2-11-5-5-6 1-7-1-9 3-6 6 4 9-8 10 5 9zM818 471l-7-2-3 4-3 3 0 9-3 7 3 7 6 7 12 3 3 2 4-2 3-12 10-4 1-12-7-3-4-9-7-2zM140 689l-4-2-3 6-5 5 0 7 6 5 6-2 7 0 2-3-5-9 1-7zM450 463l-10 2-5 11-2 9 5 8 7 4 2 5 2 0 3-13 5-7 11-5-5-4-1-4zM642 641l1-8 0-10-3-2-8 2-12 3-1 8-6 9 7 10 5 6 7 1 8-3 3-6 4-3zM563 490l8-6 0-8-6-10-1-7-7 4-11-1-6 6-3 12 3 7 5 8 4 5 5-2 7 0zM750 417l-1 8 2 4 7 3 9-4 6-8 9-3 1-10-6-8 1-7-3-2-4 0-5 8-11 3-9 6zM978 472l-3 10 1 8 9 3 9 9 13 0 3 0 5-2 4-3 1-3 3-9-4-9-4-5-6-7-13 1-11-5-9 4zM72 734l9-2 9-5 6-2-4-5-10-1-7 0-2 4-2 7zM428 343l0-7-10-1-8-10-4 9-4 5-9 7 4 4 2 7 9 3 9 0 7-2 1-4 4-2zM643 265l-3-9 3-7-10-2-2-7-9-5-7 2-5 3-3 13-2 13 3 13 14 2 8-3 11-6zM740 493l-5-1-8 5-5 4-4 10 9 8 3 8 8-2 10 3 4-4 2-6 1-8-8-8-1-9zM984 713l4-5 6-5-5-7 0-8-6-4-8 1-7-6-4 0-3 2 2 9-11 8 3 12 7 1 13 4 4 7zM112 669l-2 9 2 3 3 1 6-2 10-2 3-7 1-6 0-4-2-2-2-3-3-1-7 5-8 2zM160 706l-11-1-2 3 7 7 0 8 7 1 3 4 7-4 1-6 2-8-5-10zM1039 607l8 0 3 9 8-6 8-7 10-3-5-8-2-7-9-6-7-2-11-1-4 4-3 2 0 7-1 9zM1004 659l7 11 7-1 4 3 7-6 5-5 6-2-6-5 1-12-7-7-8 1-7-7-7 5-1 11-4 6zM445 606l-13 7-1 12 5 2 5 5 11-3 8 2-4-8 3-10 1-10-9 0-5-6zM263 684l-1-8 1-7-5-4-1-8-11 1-5 6 2 7 1 11-3 7 9 4 8-2zM553 395l11 3 9 6 8-7 9-3-3-12-12-9-7-11-4 1-1 1-3 12-2 8-6 10zM100 620l-4-1-2 4-4 3 4 9 5 10 10-2 8-7-4-12-9-6zM414 396l7 9 3 2 3-2 4 0 4-6 6-5 4-9-6-7-8 0-8-2-7 3-3 7zM752 524l-4 4 2 10 6 5 8 4 12 0 12-3 4-15-10-8 2-14-13 1-6 7-11 3zM347 398l4 1 3-5 6-8 1-7-8-9-9-4-4 3-5-2 3 7-4 11 2 7 4 2 4 4zM770 471l10-4 4-9-4-8-6-5-6-3-8-4-2 7-6 9-4 6 3 7 10 5 3 7zM304 457l-10 1-8 2-4 6-2 4 1 2 6 8 6 1 6 5 9-7 8-4-1-3 0-5-1-3-3-3zM499 634l-6-10-6-6-7 5-4 9-11 3 2 10 5 9 9-1 8-2 7 2 7-2 2-5zM1140 523l-5 12-9 6 6 7 3 9 13-8 12 0 10-2-1-11-9-8 2-10-4 1-4-3zM598 387l6-5 6-8-5-7-7-9-9 1-8 4-10-3-3 2 7 11 12 9 3 12 3 1 5 1zM691 353l0-3-7-8-9-9-6-8-7 6-10 9-6 6 6 11 16 2 9 8 7-4 7-8zM826 770l-12 0-5-6-5 6-7 4-6 4-1 10 3 6 7 2 8 4 7 3 6-8 9-11 1-9zM751 863l6 0 1-3 4-1-1-11-3-13 1-10-9-4-14 1-9-4-3 2 5 11-5 9 6 10 7 2 7 9zM987 987l-8-1-6-1-2 3 1 1 9 0 5 0zM1113 495l-8-7-6-5-10 2-8 8-6 5 4 12-1 7 2 3 3 1 10-5 12 1 7-6 2-2 0-4zM1192 453l10-3 1-11-6-6-1-8-7-5-11-1-7 3-1 11-4 4-7 8 9 7 6 4 11 0zM1007 186l11 4 6-1 3-9 2-7 2-11-5-7-6-2-8-5-10 2-4 6 1 11-7 7 8 8 0 8zM581 363l8-4 9-1 3-8 10-9 1-9-6-7-7-2-7-3-8 1-9 8 3 10-10 11 3 10zM989 918l-2-12-5-1-5-3-9 6-8 9-4 7 5 8 4 10 4 2 4 1 7-10 6-7 9-2zM891 524l1 6 3 5 0 5 6-1 9 5 7 1 7-7 10-7 0-7-1-7-6-2-4-6-9 8-10-5-10 7zM376 248l-8 0-6 0-4 6-6 1 3 11-3 9 10 4 7 1 10 1 2-12-1-10 8-7-3-4zM351 689l-8 8 1 3 1 3 8-2 7-1 6-6 0-7-2-5-7-5-3-1-3 2zM96 648l3-3-5-10-4-9-6 5-11-2 4 6 2 11-3 7 6 0 10 2 4-2zM799 751l-10-2-3-7-3 7-9 2-3 7-2 7 5 7 8 6 9 0 6-4 7-4 5-6-3-4 1-5zM670 324l-1-8-7-8-9-2-6-5-11 2-5 6-1 9-3 5-5 8 7 4 6 10 7 2 4-1 6-6 10-9 7-6zM1145 512l2-8-9-6-6 1-11 2-7 4 0 4-2 2 0 13 14 7-1 10 1 0 9-6 5-12 14-7zM294 497l5-9 0-2-6-5-6-1-6-8-6 5-5 2 2 8 4 7-1 8 5 2 7-2zM339 515l8-4 3-13 0-7-5-5-3-2-5 0-9 1 2 10-9 10 10 4 5 7zM965 635l8 4 1-10 11-3 1-11-5-6-8-4-6-1-8 6-8 1-5 8 3 9 9 9zM973 985l-2-6 1-6-6-3-10 3 1 7-3 5 9 0 8 3zM1042 341l-3 9 0 10 4 7 6 7 12-4 12 0 8 5-2-12-2-13 6-13-12 3-8 1-11-4zM700 239l1 8-3 8 5 10 8 3 10 9 4-6 4-7 6-5 4-12-3-6-8-3-9 3-9-1-8-2zM731 311l7 3 8 3 2-9 6-11-9-10-15-1-9-6-4 6-4 8 3 6 2 9 4 6zM459 552l7 7 11-6 8-4-1-6-6-8-1-7-8 5-9 0-3 9-4 8zM449 384l3-1 1-3-2-7-5-7-1-9-6-4-10-1-4 2-1 4-1 10 0 8 8 2 8 0 6 7zM1004 615l3 3 7-11 10-2 10-7 1-9 0-7-6-6-10 3-11-3-5 1-4 5-4 12 2 9 2 10zM488 457l2 7 1 9 7 4 9-2 1-7 6-7 2-9-5-3-5-7-7-3-7 2-1 6-6 4zM979 986l8 1 4-2-3-7-5-7-4-7-4 4-3 5-1 6 2 6zM735 688l-8 1-9 8 0 9-3 5 10 2 7 13 12 3 2-3 4-2-5-10 3-14-1-13-1 0zM499 439l7 3 4-7 1-10 3-9-5-1-6-4-9 3-6 7-7 3 5 7 6 10zM41 604l11-1 1-1 0-6 0-7-7-4-2-5-2 3-3 10-5 8zM1026 433l-6 5-9 2-1 8 3 9-4 7 6 7 4 5 8-14 8-6 14-4 0-1-5-9-7-9zM1078 807l3-5-7-8-1-13-7-5-5 1-6-2-8 2-5 7 8 11 11 5 3 12 4-1 4 3zM158 677l-8-1-10-6-5-5-1 6-3 7 1 5 4 4 4 2 5 0 8-6zM838 444l6 2 11 4 10-7 6-5-3-6-6-10 2-8-9-2-12 3-3 11 2 9-5 7zM71 730l2-7 2-4-4-8-2-6-3 0-6 0 0 12 4 3 5 11zM461 373l8 1 1-10 0-6 0-8-3 0-4-3-10 0-8 10 1 9 5 7 2 7zM983 971l5 7 3 7 4 0 6-7 1-6 0-6-5-5-8-5-8 2-1 4-1 2zM824 434l-9 3-12-4-1 2 2 12 0 11 7 11 7 2 8-4 1-11 5-8 6-4-1-2zM798 721l-7 4-7 2-2 8 4 7 3 7 10 2 8 4 3-8 9-6 0-8-4-10-9-4zM1048 497l-7 0 8 5 1 15 5 7 9-1 4-4 10-2 1-7-4-12-7-6-13-3zM957 980l-1-7-5-11-7-4-4-1-4 1 0 1 0 11-1 8 3 4 5 1 10 2 1 0zM995 985l-4 0-4 2-1 2 5 0 6 2 0-3zM1144 491l1-13-10 0-6-9-12-1-6 7-1 8-5 5 8 7 1 10 7-4 11-2 6-1zM915 640l-9-6-6-3-7 10-12 2 5 9-1 9 9 5 7-1 9 0 0-9 9-9zM71 730l-2 1 2 3 1 0zM472 480l-4-3-11 5-5 7-3 13 12-3 14 9 9 5 0-13-6-10 1-10zM1071 824l1-10-4-3-4 1-5 1-10 4-6 2 0 9-4 5-2 8 3 2 2 2 10-2 12-7 12-6zM438 414l8-1 5-8 10-4-5-9-4-9-3 1-4 1-4 9-6 5-4 6zM1071 743l-9 1-11 2 3 11-2 8 3 10 6 2 5-1 9-4 6-9-1-9 0-7z"/><path fill="#b4d8e5" stroke="#fff" stroke-opacity="0.6" d="M861 955l-3-1 2 6 3 1zM1320 731l9 9 10-2 3-9 1-7 4-8-1-4-2-4-9-2-7-4-10-1 1 9-4 8-7 8 2 2 2 4zM732 726l-7-13-10-2-6 4-6 2 2 6-5 10 3 6 9 0 13 9 12-1 1-2 3-2 4-6-1-8zM1024 515l1 10 4 15 6-1 5 5 3-1 2-2 4-10 6-7-5-7-1-15-8-5-8-4-13 1-1 3-4 3zM762 783l6-4 6-7-5-7 2-7-12 0-12-6-6-9-3 2-1 2 1 10-1 6-6 7 6 6 6 9 5-1 8 3zM1063 644l2-6-7-4 0-9-8-6-8 2-7 10-7 4 7 7-1 12 6 5 4-1 6 2 4-7 8-3zM1126 788l-2-6-8 3-8-4-7 0-1 10-6 6 3 3 31-8zM1038 748l-11 2-2 8 4 9-1 8 7 3 4 6 3 0 5-7 8-2-3-10 2-8-3-11-1-2-2-1zM842 435l-2-9 3-11-11-3-5-11-3 1-3 0-1 13-12 8-5 8 0 2 12 4 9-3 13 8zM479 522l6-8-1-1-9-5-14-9-12 3-2 0-5 6 0 6 0 2 6 7 7 4 5 6 9 0 8-5zM861 955l5-4-9-1 1 4zM932 954l4 4 4-1 4 1 10-4 3-8 8-4-4-10-5-8-9-2-6-4-3 7-11 5 2 10-2 9zM545 392l-10 2-6-3-3 9-2 7-5 8 9 5 9 6 4-3 4 0 3-8-1-10 6-10-1-1zM350 226l-9 6-11 5 2 3-1 5 8 3 7 4 6 3 6-1 4-6-2-12-3-10-1-12zM465 448l-2-5-7 3-9-1-4 9-6 6 2 2 1 3 10-2 12 6 3-9 3-8zM1155 373l-4 9-10 3-3 8 5 9 9 6 8 2 8 2 6-8-1-7 7-8-4-5 0-8-7 1-6-6zM781 724l-5-2-7 1-11-1-8 2-4 2-2 3 1 8-4 6 6 9 12 6 12 0 3-7 9-2 3-7-4-7 2-8zM511 425l-1 10-4 7 5 7 5 3 7 0 8-3 0-6 1-11 5-6-9-6-9-5-3-1-2 2zM1110 580l-10 0-2 8-7 6-3 9 4 7 2 4 16-5 13-5 12 0-7-5-5-13-2-9zM1087 540l0-8-4-11-3-1-2-3-10 2-4 4-9 1-6 7-4 10 13-1 13 5 11 10 3-1 2-1 1-3zM1124 281l-2 19 6 9 2 2 9 1 8-7 9 2-1-11 3-8 3-7-8-3-9-2-9-2-10 1-3-1zM1006 929l-11-3-9 2-6 7-7 10 3 6 5 7 8-2 8 5 5-9 10-4-2-8 4-8zM827 731l-8 2 0 8-9 6-3 8-1 5 3 4 5 6 12 0 5 5 5-6 5-11 6-8-5-8-2-5-8-5zM348 672l-5-1-9 10-10-1 0 1 1 4 7 8 11 4 8-8 0-11zM465 460l-3 9 1 4 5 4 4 3 7 0 5-7 7 0-1-9-2-7-3-6-8-1-9 2zM929 965l7-6 0-1-4-4-5-5-7 1-10 0-9 4-1 12-3 5 9 1 8 4 9 2zM115 690l0-8-3-1-4 8-4 8-7 4 3 4 4 2 4 1 4-9 9-3zM558 384l2-8 3-12-10-1-18 2-11 2-2 5 1 8 4 3 2 8 6 3 10-2 7 2zM922 646l-3 1-9 9 0 9 1 4 2 4 10 1 7 7 11-1 9-5-4-11-1-8-8-5-8 1-5-7zM860 458l-2 10 2 7 7-1 13 0 7-7-2-8 6-6-3-9-8-2-9-4-6 5-10 7zM35 617l7 5 2-13 8-6-11 1-7-3-6 9-2 9zM67 616l0-8-7-6-7 0-1 1-8 6-2 13 3 7 5 5 10-2 10-6zM115 727l1-6-1-5-1-5-6-3-4-1-4-2-2 9-6 6 4 5 4-1 11 2 3 2zM1018 868l6 4 8 0 8-3 4-6 2-2 0-9-4-7-2-2-3-2-9-1-7-1-10-1 2 10 0 6-2 9zM879 599l-6 1-1 13-3 7-3 14 8 3 7 6 12-2 7-10 1-4 0-5-7-5-7-6-2-9zM121 660l7-5-5-6 1-12-4 1-3-2-8 7-10 2-3 3 0 5 11 3 6 6zM880 474l-13 0-7 1-1 2 7 7-3 10 8 7 9-1 5 3 8-8 5-7 2-9-5-9-8-3zM504 360l3-4-5-9 3-13-8-3-4-4-2 0-3 1-7 6 0 8-5 6 6 3 6 6 7 4zM123 649l5 6 3 1 2 3 6-3 8-2 7-5 1-3 1-2-2-4 0-5-10-1-4-4-10 1-2 3-4 3zM1058 302l16-2 10-1 2-6 1-4-6-10-1-10-7-11-5-3-6 0-10 13-4 9-5 14 1 3 3 5zM445 427l-4 4 6 7 0 7 9 1 7-3 3-5 1-9-8-3-11-3zM935 978l1-8 0-11-7 6-6 13 1 0 10 3 4 1zM124 698l-3-2-9 3-4 9 6 3 1 5 10-2 9-4-6-5 0-7zM832 448l-5 8-1 11 7 2 4 9 7 3 9-1 6-3 1-2-2-7 2-10-5-8-11-4-6-2zM475 412l1 11 2 2 3-1 7-3 6-7 9-3-5-11-3-9-2-1-3-2-8 4-3 10-9 3zM1071 545l-13-5-13 1-2 2-3 1 2 11 0 11 0 10 11 1 7 2 8-6 9-7 5-11zM564 398l-11-3-6 10 1 10-3 8 8 6 10 2 6-2 4-6-4-9 4-10zM133 693l3-6-4-4-1-5-10 2-6 2 0 8 6 6 3 2 4 0zM861 955l2 6 6 2 9 3 9 2 9 3 1 0 3-5 1-12-9-5-3 2-7 5-8-2-8-3zM1009 624l4 5 7 7 8-1 7-4 7-10 8-2 0-3-3-9-8 0-5-9-10 7-10 2-7 11z"/><path fill="#d0e6ea" stroke="#fff" stroke-opacity="0.6" d="M1052 152l-8 8 8 7 6 4 7 0 10-1 1-1 0-9 5-12-2-14-9-1-9 0-10 6zM1091 594l7-6 2-8-8-9-5-5-2-12-3 1-5 11-9 7-8 6 9 6 2 7 5 8 7 1 5 2zM527 383l-4-3-13 0-6 11-9 0 3 9 5 11 6 4 5 1 2-2 3 1 5-8 2-7 3-9zM1054 244l3-11-6-5-7-7-10-5-8 3-8 10 4 8 2 8 5 7 9 1 13 0 7-1zM901 954l9-4 10 0 7-1 2-9-2-10-6-7-10 0-7-3-8 6-7-1-3 6 1 1 8 4 8 6-7 4-4 3zM601 286l-5 7-5 6-4 11 5 10 7 3 7 2 6 7 5 0 5-1 5-8 3-5 1-9-8-10-9-9-7-9zM538 455l8 7 11 1 7-4 2-3-2-7 1-11-2-7-10-2-8-6-4 0-4 3-5 6-1 11 0 6zM124 730l-9-3-1 1 7 4 4-1zM357 214l-8 1-6-8-10-3-5 7-13 4-1 4 5 9 8-1 3 10 11-5 9-6 6-12zM162 662l-1-9-7-4-7 5-8 2-6 3 2 2 0 4 5 5 10 6 8 1 3-4 3-2zM1160 365l0-10-4-6-11-6-14-2-9 4-3 11-1 8 1 11 5 6 8 1 9 3 10-3 4-9 8-2zM954 398l-5-4-12-3-9 9-10-4-1 12 7 12 2 15 4 0 3 0 3-13 10-9 9-8zM522 372l2-5-2-4-10-2-5-5-3 4-9 1-5 10-3 10 1 3 2 4 3 2 2 1 9 0 6-11 13 0zM949 628l-3-9-5-1-4 0-8 7-5 11 0 9 5 7 8-1 8 5 7-5 5-7 1-7zM1112 277l-18 4-7 8-1 4-2 6 2 2 1 3 13 6 12-5 16 4-6-9 2-19-2-7-5-2zM466 438l-3 5 2 5 3 4 9-2 8 1 6-4 1-6-6-10-5-7-3 1-2-2-6 3-3 3zM569 429l-6 2 2 7-1 11 2 7 11-4 10-1 6-6 2-7-1-7-4-4-10-2-7-2z"/><path fill="#cbcbcb" stroke="#f1efe9" stroke-opacity="0.85" d="M1148 1012l-8 0-2 3 0 1 4 6 2 4 5-3 6 0 0-1 0-2-2-4zM1138 1004l-2-5-4 1-5 0-3 5-1 6 8 2 7 2 2-3 1-3zM1204 1116l3-7-1-1-6-1-5-4 1 9-3 8 3 3 7 0 1-1zM1536 745l-4-7-3-2-3-2-8 10-10 0-3 4 0 7 6 4 5 7 2-6 4-10 11-1 3 0zM1518 664l1 9-2 6 5 8 6 1 7 5 5-5 7-4-1-11 1-5-2-11-9-4-8 1-7 3zM1487 649l0-7 1-10-10-4-6-4-5-8-5 4-8 3 2 9-1 9-2 12 9 5 9-4 12 4 0-1zM1137 1156l-2-7-8 3-10 0 0 3 0 5 1 2 3 4 4 0 3-2 8-6 1-1zM1384 630l-2 5 4 6 4 8 2 8 5 1 5 3 2 0 7-2 5-8 4-9-3-6 1-11-7 0-4-9-10-1-4 4-7 5zM1044 984l-3 4 4-2zM1052 998l-4-6-2-4 2 11zM1470 698l2 8 6 1 8 3 10-1-2-9 2-9 2-8-6-6-6-5-9 4-8 9-5 8zM1019 1029l1 4 2 2 4 2 3-5 6-4-4-4-1-7-2 2-8 6-2 3zM1081 1108l6 2 3-4 4-4-3-4-4-5-3 0-9 7-3 8 3 3zM1461 563l0-3-12 1-12-7-13-1-4 3 2 11-5 6 3 10 9 2 5 6 8-2 8-6 10-2 5-8-1-7zM1123 1081l4-1 4-6-2-5-7-1-6 0-1 2-3 1 0 4 2 5 2 3 4 0zM1138 994l-2 5 2 5 3 5 7-2 1-1-2-6-5-8-1-2zM1129 1062l0-6-1-3-3-3-4 3-6 5-1 5 2 5 6 0 7 1 0-1zM1047 1126l0-4 3-3-5-4-2-6-3 2-4 0-1 2 7 4 2 8zM1066 1049l6 4 3-1 4-2 0-1-5-6 1-6-6-2-5 2-3 3-2 6 0 2zM1151 1124l2-5-7-4-2-5-5 2-3 3-1 4 6 7 2 6 3-3 4 0zM1045 1051l1 8 5 0 4-3 0-4 4-4 0-2-5-6-9 0-2 3-2 1zM1485 735l8-5-2-9 5-12-10 1-8-3-6-1-4 10-5 6 9 8 2 9zM1045 1179l-2 3 1 9-1 1 7 4 4 3 2-1 5-4 2-7 0-1-9-7-8 0zM1571 743l-8-3-5-10-9 1-7 2-10 5 4 7 0 4 7-1 9-2 9-1 7 1zM1453 673l1 7 3 11 3 2 4 0 5-8 8-9 9-4-2-7-1-7-12-4-9 4-9-5-2 1-1 4-3 5zM1075 1100l9-7-1-3-2-1-7 0-6 0-2 1-2 2 0 6-1 6 3 3 6 1zM1027 1059l0 6-5 9 8 4 8-1 2-3 2-5 0-3 0-3-5-6-6 1zM1160 1115l6 2-1-3 0-4-3-4-6-2-7 3-5 3 2 5 7 4zM951 1074l1-2-1-3-5 5 1 2zM1054 1131l6 2 2-4 1-3-3-3-2-5-3 1-5 0-3 3 0 4 2 2 0 3zM1076 1025l-1-4-3 0-3-3-6 6-2 7 2 3 1 3 5-2 6 2 3-4 2-3zM1174 1148l1 0 6-5 5-6-1-3-3 0-4-1-4 5-4 2 1 5-2 3zM1082 1129l2-4-8-5-1-8-1 7-5 5 5 4 3 2 3 0zM1576 694l-5-8-8-4-8 0-8 2-7 4-5 5 0 5-1 3 10 2 7 8 7 6 9-8 7-6zM1092 1193l4-1 10-6 3-1-2-6-8 6-10 1 0 1zM1056 1020l-7 0 0 3 0 3 6 2 6 3 2-7 6-6-2-2-2-1zM1578 743l-4 1-3-1-3 3 2 0 9 0 3 0zM1004 1046l6 2 3 5 3-1 2 0 3-6 6-7-1-2-4-2-2-2-4 7-11 3zM1125 1166l-4 0-3-4-2 7-7 7 11 0 0 1 3-4 2-3zM1600 635l-13-4-12 4-12-3-3 2-3 3-2 4 1 4 7 3 6 8 6 8 6-8 13 0 1-7 2-8zM990 1064l5 4 3-1 0-7 0-11-4 1-6 5-5 6 0 1zM1490 595l-9 5-8 2-5 4-1 10 5 8 6 4 10 4 9-5 9-5-4-8 0-7 3-8-4-2-3-1zM980 1065l-2 1 2 6 1 9 3-1 5 2 5-4 1-10-5-4-7-2zM1432 699l-7-2-7 3-5 2-1 11-2 10 3 8 10 0 8 3 9-4 2-4 2-3-1-6-7-9 1-6zM1125 1107l-3-6-4-2-7 4-6 6 4 7 6 3 0 1 2-3 4-1zM1591 680l-7-3-9 4-2 3-2 2 5 8-2 9 8 3 8 7 10-3 6-4 3-4-3 0-13 1 7-14-1-8zM1042 1088l-1 8 7 7 7-1 8 2 1-6 0-6-4-6-6-1-7 0-5 2zM1235 1091l-1 6 1 3 2 1 6-2 8-2 1-1 0-2-5-6-4-5-5 0-2 1-1 1zM1068 1164l2 6-1 5 10 1 8 4 3-5-1-4-4-5-3-5-6 3-6-2zM1518 744l8-10-3-12 1-9-10-1-9-3-9 0-5 12 2 9 11 5 4 9zM1059 995l-4 4 0 1 7 7 3 8 2 1 3-8 5-5-6-5-6-5zM1289 1070l8 1 7 1 0-1 1-3-2-1-11 0-4 2zM1165 1040l3 5 4 1 4-5-9-4zM1283 1081l-6-7-6-1-5 6-2 4 4 4 3 4 6-7 6-2zM1054 1145l-4 3-1 2 8 6 0 8 6-1 5 1 2-2 0-5-3-6-5-2-4-4zM1582 706l-8-3-7 6-9 8 0 7 0 6 5 10 8 3 3 1 4-1 8-4 5-9-2-7 1-10zM1416 651l-5 8-7 2 7 7 8 4 8 2 6-6 7 0 7-5 3-5 1-4-7-7-17 1-7-6zM1108 1124l-4 3 1 4 2 3 7 0 5 2 1-1-1-9-4-6 0-1zM972 1059l2 6 4 1 2-1 3-3 0-1-2-7 0-1-10 3-2 2zM1195 1103l5 4 6 1 4-8 2-5-6-4-3-5-6 9zM1529 736l3 2 10-5 7-2 9-1 0-6 0-7-7-6-7-8-10-2-8 6-2 6-1 9 3 12zM1519 640l-1-9-5-7-7-2-9 5-9 5-1 10 0 7-4 8 10-5 12-3 11 3zM1078 1146l-5-2-2 3-4 4 3 6 0 5 6 2 6-3 2-4 4-5 0-4-3-3zM1312 1084l-9-4-1 4-5 4 4 3 9-6zM1067 1135l-6 0-2 4-1 6 4 4 5 2 4-4 2-3-1-3-1-4zM1450 692l-7 5-6 5-1 6 7 9 1 6 10 2 9-3 5-6 4-10-2-8-6-5-4 0-3-2zM1097 1102l7-6 2-4-2-3 0-3-2-1-4-3-6 5-5 6 4 5 3 4zM1000 1047l4-1 1-3-2-4-4 2-4 3zM1111 998l6-4-20-2 0 1 4 4 1 8 3 0 3 0zM1120 1029l-2 1-1 9 7 8 1 1 4-5 9-4 0-1-5-7-5-4-5 0zM1442 754l2-5 2-9-6-10-9 4-8-3-10 0-3 5-4 3 3 10 10 7 10-2 11 2zM1247 1088l5 6 4-5 6-6-4-3-4-4-4 2-3-1-2 4-2 2zM1049 1170l2-4 6-2 0-8-8-6-2 1-1 4-2 9zM1093 1151l-5 1-4 5-2 4 3 5 4 5 4-4 6 0 3-3-1-4-2-4-2-4zM1170 1073l4-2-4-6-1-8-7 3-8 3 7 5 2 8 2 1 2 1zM1027 1087l4 7 7-1 4-5 0-1 1-5-5-5-8 1-8-4 0 1-3 2-1 5zM1219 1111l-5-3-7 1-3 7 0 6 3 1 7-6 6-5zM1469 596l-3-10-6-5-10 2-8 6-8 2 5 8 1 7-2 8 9 3 7 6 8-3 5-4 1-10 5-4zM1072 1202l-2-7-5-7-2-1-2 7-5 4 2 3 6 3zM1066 1124l3 0 5-5 1-7 0-1-3-3-6-1-3-3-4 8-1 6 2 5 3 3zM1279 1107l-5 2 1 6 1 2 6 1 9 0 1-4 1-5-4-5-4-3-2-1-3 2zM1254 1117l-8-2-10-6-1 1 1 5 6 3 7 5 1 0 3-5zM1068 1070l0 12 0 7 6 0 7 0 0-6 0-6-4-3-3-3-4-1zM1275 1115l-1-6-5 1-5-2-5 4-3 4 10 4 1 0 7-3 2 0zM1005 1091l-4-5-5-1-4 0-1 4 9 3 6 4zM1030 1050l5-6-4-2-4-3-6 7-3 6 7 3 2 4 4-1zM1194 1130l-8 4-1 0 1 3 2-2 6-4zM1039 1174l6 5 1 0 3-3 0-6-5-6-7 9zM1278 1096l-7-2-2 5-6 1 0 4 1 4 5 2 5-1 5-2 1-5zM1300 1107l-7 2-1 5-1 4 8-1 5-11 0-1zM1204 1079l-5-6-7-9-1-1 1 7 5 10 2 1 4 1zM1041 1015l5-1 3-7 6-7 0-1-3-1-4 1 0 1-5 8-6 5zM1091 1041l-6 3-6 5 0 1 5 1 3 8 4-4 7-2 0-5-5-7zM1111 1103l7-4 0-1-6-3-6-3-2 4-7 6 3 3 4 4 1 0zM1176 1117l-6 3 2 6 6 7 4 1 3 0 1 0 2-5 2-7-6-4-4-3zM1149 1107l7-3 2-6-2-4-6-2-8 2-3 8 5 8zM1616 700l-7 2-3 4-6 4-10 3-1 10 2 7 12 0 8 5 0-4 3-10 1-11 2-8zM1287 1085l4 4 3 0 3-1 5-4 1-4 0-4 1-4-7-1-8-1-3 5-3 6 0 1zM1111 1008l2 2 5 3 3-1 2-1 1-6 3-5-3-5-3-1-1 0-3 0-6 4-3 7zM1105 1005l-3 0-6 4-3 5 3 4-1 4 2 1 7 0 5-1 1-7 3-5-2-2-3-3zM1162 1060l7-3 0-3 3-3 1-4-1-1-4-1-3-5-3-1-3 0-6 6-5 9 0 2 1 2 2 4 3 1zM1124 1101l6-9 7-3-5-2-5-7-4 1-3 2-4 7 2 8 0 1 4 2zM956 1081l-5-7-4 2 3 7 5 0zM1125 1020l-4-8-3 1-5-3-3 5-1 7 4 3 2 4 3 1 2-1 3-2zM1407 616l4 9 7 0 6-3 8-2 6-6 2-8-1-7-5-8-5-6-9-2-7 0-9 7-5 5-5 11 3 9zM1090 1175l-3 5 2 3 0 3 10-1 8-6 1-3-4-3-5-6-6 0-4 4zM1104 1038l-4-2-4 3-3 2 5 7 0 5 2 2 3 0 2-6 4-5-2-3 0-3zM1129 1043l-4 5 0 2 3 3 1 3 11 1 8-1 0-2-8-6-2-9zM1149 1082l-4-3-6 3-2 7 3 4 2 1 8-2 6 2 1-1-3-5 0-5zM1036 1111l-3-2-2-3-2 1 6 6zM1136 1115l3-3-5-8-10-3-2 0 3 6-4 9 5 1 5 3 4-1zM1148 1142l-7-2-3 1 1 4-4 4 2 7 0 1 7-4 8-3 1-4zM1161 1068l-7-5-3-1-5 4-2 4 0 4 1 5 4 3 5 1 5-3 4-4zM1548 651l-3 6 2 11-1 5 1 11 8-2 8 0 8 4 2-2 2-3 0-11 0-6-6-8-6-8-7-3zM1078 1033l-3 4-1 6 5 6 6-5 6-3-5-3-3-8-3 0zM1063 1163l-6 1-6 2-2 4 0 6-3 3 8 0 9 7 2-6 4-5 1-5-2-6zM1119 1043l-10 1-4 5-2 6 1 1 5 0 6 2 6-5 4-3 0-2-1-1zM1048 1134l1-3 0-3-2-2-3-1 0 3 2 8zM1029 990l-5-3-7 1-1 2 5 1zM1169 1148l2-3-1-5-4-5-6-1-4 5-3 7 6 1 7 2 2 0zM1018 1102l3 1 8 3 0 1 2-1-2-4 1-7-7 1-7 4zM1155 1022l0 1-3 8 4 6 3 2 3 0 3 1 2-3-3-2-8-13zM1102 1164l-3 3 5 6 4 3 1 0 7-7 2-7-1-2-8 3-8-3zM1181 1088l-3 0-1 7-1 6 3 3 5 2 5 0 4-3-1-10-8-7zM1238 1083l5 0 2-2 2-4-2-2-3 3-6 6zM1253 1118l-3 5-1 0 0 1 6-3zM1060 981l4 4 0 6 8-2 2-2-12-5 1-2zM1173 1047l-1 4 10 2 8 9-5-6-6-12zM1254 1076l4 4 4 3 2 0 2-4 5-6-1-3 0-1-8 0-6 1zM1086 1189l0 4-3 4 5-3 4-1-3-6zM1095 1074l0 4 3 4 4 3 2 1 7-2 3-4-2-5 0-4-5 0-5-3-2 4-4 1zM1191 1085l6-5-5-10-1-7-1-1-5 4-6 5 6 6 1 7zM1144 1110l-5-8 3-8-2-1-3-4-7 3-6 9 10 3 5 8zM1091 1012l-4 0-5 3-7 6 1 4 4 5 3 0 6-8 6 0 1-4-3-4zM1087 1093l5-6 6-5-3-4 0-4-6 2-8 1 0 6 0 6 2 1 1 3zM1311 1071l-7 0 0 1-1 4 0 4 9 4 8-6-7-7-1 0zM1043 1043l2-3 0-6 1-5-7 1-4-2-6 4-3 5 1 2 4 3 4 2 3-2 3 2zM1505 649l-12 3-10 5 0 1 1 7 2 7 6 5 6 6 11-5 8 1 2-6-1-9 3-7-3-2-2-3zM1082 1137l-2-7-3 0-4 4-2 3 1 4 1 3 5 2 7-1 0-3zM1169 1081l1 4 3 3 5 0 3 0 3-2 2-2-1-7-6-6-2 0-3 0-4 2-3 5zM1043 1061l-1 2 0 3 0 3 10 0 8 4 3 0 2-3-4-7-6-7-4 3-5 0zM1149 1058l-1-2-8 1-11-1 0 6 0 6 6 2 9 0 2-4 5-4zM1169 1120l1 0 6-3 4-2 4-5 0-4-5-2-3-3-2 2-4 0-3 1-2 6 0 4 1 3zM1206 1091l6 4 3 1 4-2 2-3-4 1-11-10-2-3-1 3 0 4zM1128 1027l3-8 7-3 0-1-7-2-8-2-2 1 4 8-2 7zM1120 1176l-11 0-1 0-1 3 2 6 8-4 3-4zM1152 1150l1-1 11 0 2 0-7-2-6-1zM1427 648l17-1 7 7 2-1 2-12 1-9-2-9-7-6-9-3-6 6-8 2-6 3-1 11 3 6zM1093 1064l-6-4-6 9-7 2 3 3 4 3 8-1 6-2 1-1zM1160 1134l6 1 4 5 4-2 4-5-6-7-2-6-1 0-7 6zM1006 1076l-1 6 6 0 6 0 1 0 1-5 3-2-5-9-7-1-4 3-4 0zM1056 1198l-2 1 4 2zM1263 1104l0-4-7-1-4-3-1 1-3 12 6 8 2-1 3-4 5-4zM1074 1071l7-2 6-9 0-1-3-8-5-1-4 2-3 1 0 8-2 9zM998 1067l-3 1-1 10-5 4 3 3 4 0 5 1 2-2 2-2 1-6-4-8zM981 1081l-1-9-2-6-4-1-3 6-8 3 6 4 2 4 7 0zM1505 709l9 3 10 1 2-6 8-6 1-3 0-5-7-5-6-1-5-8-8-1-11 5-2 8-2 9 2 9zM1048 1141l-2-4 0 1 1 9 0 4 2-1 1-2zM1220 1111l3-7-1-7-3-3-4 2-3-1-2 5-4 8 1 1 7-1 5 3zM1040 1074l-2 3 5 5-1 5 5-2 7 0 2-8 4-4-8-4-10 0zM1055 1052l0 4 6 7 4 7 3 0 2 0 2-9 0-8-6-4-7-1zM1184 1086l8 7 1 10 2 0 2-8 6-9 0-4-4-1-2-1-6 5-5-1zM1573 597l-4 3-6 9-2 13 2 10 12 3 12-4 13 4 1-2 3-8-7-8-4-9-7-8-1 0-9-3zM1070 1008l-3 8 2 2 3 3 3 0 7-6 5-3-3-4-3-6-4-1-2 2zM1100 1072l2-4-1-7 3-5-1-1-3 0-2-2-7 2-4 4 0 1 6 4 3 9zM1135 1070l-6-2 0 1 2 5-4 6 5 7 5 2 2-7 6-3-1-5 0-4zM1271 1091l-3-4-4-4-2 0-6 6-4 5 0 2 4 3 7 1 6-1 2-5zM1235 1110l-5-2 4 5 2 2zM1226 1107l-6 4-1 0 1 1 1-1zM1162 1126l7-6-3-3-6-2-7 4-2 5-1 5 6 1 4 4zM998 1049l0 11 0 7 4 1 4 0 4-3 4-4-1-8-3-5-6-2-4 1zM1586 739l-8 4 4 3 7 0 10 1 9 3 3-9 0-6-8-5-12 0zM1167 1104l3-1-4-6-3-5-3 0-3 1-1 1 2 4-2 6 6 2 3 4zM1049 1007l-3 7 0 3 3 3 7 0 9-5-3-8-7-7zM1048 1141l2 7 4-3 4 0 1-6 2-4-1-2-6-2-5 0-1 3-2 2 0 1zM1030 1095l-1 7 2 4 2 3 3 2 4 0 3-2 4-2 1-4-7-7 1-8-4 5-7 1zM1017 1066l5 9 0-1 5-9 0-6-2-4-7-3-2 0-3 1 1 8-4 4zM1097 1029l0-6-2-1-6 0-6 8 3 8 5 3 2 0 3-2 4-3zM1091 1130l2-6-5-1-4 2-2 4-2 1 2 7 3 5 4-2 5-4zM1079 1176l-10-1-4 5-2 6 0 1 2 1 11 5 10-4 3-2 0-1 0-3-2-3zM1289 1104l4 5 7-2 4-2-5-13 2-1-4-3-3 1-3 0-1 7-5 5zM1089 991l-3 2-4 3-1 6 3 6 3 4 4 0 2 2 3-5 6-4-1-8-4-4-1-1-6-1zM1089 1117l5 6 2-1 2-7 6-6-4-4-3-3-3 0-4 4-3 4zM1055 1119l3-1 1-6 4-8-8-2-7 1-1 4-4 2 2 6 5 4zM1010 1098l-2 0 2 1 8 3-2-2-3-3zM994 1050l4-1 2-2-5-3-3 2-1 1zM1050 981l-6 2 0 1 1 2 1 0 0 2 2 4 4 6 3 1 4-4 4-2 1-2 0-6-4-4zM1113 1025l-4-3-5 1-7 0 0 6 3 7 4 2 3 0 4-3 4-6zM1400 676l-2 8 0 13 10 2 5 3 5-2 7-3 4-7-4-8 2-8-8-2-8-4-7-7-2 0zM1101 1061l1 7 5 3 5 0 3-1 1-2-2-5 1-5-6-2-5 0zM1237 1106l-1 3 10 6 8 2-6-8 3-12-8 2-6 2zM1311 1071l1 0-7-3-1 3zM1054 1040l5 6 2-6 3-3-1-3-2-3-6-3-6-2-3 3-1 5 0 6zM1266 1120l-10-4-2 1-1 1 2 3 2-1 9 1 1-1zM1177 1071l2 0 6-5 5-4-8-9-10-2-3 3 0 3 1 8 4 6zM1425 682l4 8-4 7 7 2 5 3 6-5 7-5 7-1-3-11-1-7-6-10-7 5-7 0-6 6zM1044 1191l-1-9-7 4-5-1 8 4 4 3zM1069 998l6 5 2-2 4 1 1-6 4-3-3-4-7-1-2-1-2 2-8 2-1 2zM1204 1122l-1 1-2 4 5-2 1-2zM1038 1042l-3 2-5 6 1 8 6-1 5 6 1-2 3-2-1-8-4-7zM1056 1077l-2 8 6 1 4 6 2-2 2-1 0-7 0-12-3 0-2 3-3 0zM1196 1123l-3-3-3 2-2 7-2 5 8-4 0 1 2-2 5-2 2-4zM1142 1022l-4-6-7 3-3 8 5 4 5 7 4-3 1-4 1-5zM1036 1186l7-4 2-3-6-5-2-1-1 1-8 9 3 2zM1184 1110l-4 5 4 3 6 4 3-2 3-8-1-9-2 0-4 3-5 0zM1138 1038l0 1 2 9 8 6 5-9 6-6-3-2-6-3-8 1zM978 1082l10 6 3 1 1-4-3-3-5-2-3 1zM1148 1007l-7 2-1 3 8 0 5 4-4-6 0-4zM1126 1117l-5-1-4 1-2 3 4 6 1 9 2 1 3-2 4-7 2-7zM1016 1092l-3 5 3 3 7-4 7-1 1-1-4-7-9-5-1 0zM952 1072l6-1 5 3 8-3 3-6-2-6-3-1-6 4-9 5-3 2zM1474 744l0-5-2-9-9-8-9 3-10-2-2 3-2 4 6 10-2 9 11-2 9 4 8-4zM1103 1143l-1-3-3-1-5-3-5 4-4 2 0 3 3 3 0 4 5-1 4 1 4-1 2-4zM1116 1090l4-7-4 0-2-3-3 4-7 2 0 3 2 3 6 3 6 3zM1518 655l3 2 7-3 8-1 9 4 3-6 8-6-1-4 2-4-6-7-7-4-7 0-9 5-10 0 1 9-3 12zM1031 1024l4 4 4 2 7-1 3-3 0-3 0-3-3-3 0-3-5 1-4-2-2 1-5 3zM1143 1031l-1 4 8-1 6 3-4-6 3-8-6 0-5 3zM1235 1100l-1-3-5 0-7 0 1 7-3 7 6-4 2-1 2 2 5 2 1-1 1-3 0-5zM1219 1094l3 3 7 0 5 0 1-6 0-6-9 4-5 2zM1165 1077l-2-1-4 4-5 3 0 5 3 5 3-1 3 0 2-5 5-2-1-4-2-3zM1174 1148l-5 0-1 1 6 0 1-1zM1131 1120l-2 7-4 7 7 6 6 1 3-1 2-3 0-5-2-6-6-7zM1139 1145l-1-4-6-1-7-6-3 2-2-1-1 1-1 9-1 6 0 1 10 0 8-3zM1101 1151l-4 1 2 4 2 4 8 3 8-3 0-5 0-3 0-1-9 0-5-4zM1010 1098l3-1 3-5 1-10-6 0-6 0-2 2-2 2 4 5 1 5 2 2zM1173 1088l-3-3-5 2-2 5 3 5 4 6 4 0 2-2 1-6 1-7zM1156 1130l-6-1-4 0-3 3 0 5-2 3 7 2 5 4 3-7 4-5zM1103 1137l4-3-2-3-1-4-5-1-3-4-2 1-1 1-2 6 3 6 5 3 3 1zM1074 1128l-5-4-3 0-3 2-1 3-2 4 1 2 6 0 4 2 2-3 4-4zM1005 1043l11-3 4-7-1-4-1-1-4 4-7 4-4 3zM969 1078l-6-4-5-3-6 1-1 2 5 7-1 2 4-1 10 0 2 0zM1270 1070l1 3 6 1 6 7 3-6 3-5-1-1-5 1-9-1-2 0zM1250 1078l4-2 2-6-7 1-4 4 2 2zM988 1055l6-5-3-3-9 5-1 1 0 1 2 7zM1108 1151l9 0 1-6 1-9-5-2-7 0-4 3-1 3 1 3 0 4zM1581 656l-6 8 0 6 0 11 9-4 7 3 8 1-1-3-4-10-1-11 1-1zM1088 1123l5 1 1-1-5-6-2-7-6-2-6 3 0 1 1 8 8 5zM1111 1035l-4 3 0 3 2 3 10-1 5 4-7-8 1-9-3-1zM1125 1166l0 4 3-6zM1283 1100l2 1 5-5 1-7-4-4-4-3-6 2-6 7 0 3 7 2 2 6zM1070 1195l2 7 2 0 6-4 3-1 3-4 0-4-10 4-11-5zM1109 1116l-4-7-1 0-6 6-2 7 3 4 5 1 4-3 7-5zM1172 1046l1 1 6-3-1-2-2-1z"/></g>
<g transform="translate(868,626) scale(.5)" stroke-width="1.1" stroke-linejoin="round"><path fill="#3b0f2b" stroke="#fff" stroke-opacity="0.85" d="M599 1051l1-11-1-3-3-1-8 4-3 0 5 8-8 8-12 3-6 2 4 9 11 3 7-3 7-11 8 0zM588 1040l8-4-1-9 1-3-7 5-7 5 3 6zM1540 478l2 7 3 10 6-4 8-3 10 1 2-2-1 0-9-2-7-14-10 3-6 3zM1472 473l3 2 5-5 9-1 3-11 2-4-5 0-10-1-3-11-10 0 0 9-1 9-2 2 2 1 2 9zM1471 645l-10-1-9 6 3 9 1 10 7 3 7 7 8-4 7-4 0-10 2-10-7-12z"/><path fill="#49133d" stroke="#fff" stroke-opacity="0.85" d="M1384 755l11 3 4 0 6-9 5-9-2-6-1-6-4-5-8-2-9 1-3 8-5 9-2 7 1 3zM247 517l4-10 0-4-1-4-9-4-5-3-9 0-8 9-1 3 0 2 9 6 4 10 3 1 5-1zM166 469l-3 5 3 5 1 9 4 3 4 1 7-5 9 2 2-2 2-2-4-7-11-9-2-7-6 1-5 1zM191 514l4-3 0-6-3-10-1-6-9-2-7 5-1 9-2 10 6 4 9 1zM1414 787l2-12-7-5-2-9-8-3-4 0-7 9-2 8-7 10 3 7 5 5 9-6 12 0zM172 511l2-10 1-9-4-1-4-3-8 5-5 4-1 4 2 3 4 4 9 5zM1474 557l0 8 2 7 7 6 6-1 5 2 2-13 12-6 7-12-2-3-1-2-9 2-15 2-10-2zM1429 768l5-4-5-6 3-13-7-4-7 4-8-5-5 9-6 9 8 3 2 9 7 5 6-2 5 1z"/><path fill="#59184f" stroke="#fff" stroke-opacity="0.85" d="M1590 652l5-2 0-1 2-8 4-8 3-8-2-3-9 3-8-5-11 0-4 3-2 4 7 8 4 7 3 9zM192 451l-6 1-3 7-5 3 2 7 11 9 4 7 1-1 4-8 1-6 5-9-7-6-4-7zM279 562l-11-5-3 2-2 1-1 10 3 10 6 3 11-1 3-2 3-2 1-7-2-5zM152 578l3-7-8 1-6-5-8-3-1 2-1 2-1 10 7 10 3 2 6-3 4-1zM1470 683l0-4-7-7-7-3-7 5-11 0-10 6 2 10 3 6 8-1 7 5 8-2 4-7 8-5zM1445 641l-1-7 1-10-5-6-9-4-7 1-8 3-8 5 0 4-2 4 6 8 6 7 2 8 7-5 15 5 7-6zM227 531l4-9-4-10-9-6-8 4-6 4-1 9 5 8 5 4 7-1zM1625 574l-3 10 3-3 7-14-6-2zM1607 587l-5 0-2-3-10 0-7 12-10 0 1 7 3 7-3 10 11 0 8 5 9-3-5-5-4-9-7-8 11-8 9-4 1 0zM142 463l-3 3 1 5 2 7 11-3 10-1 3-5 1-5-2-2-2-2-7-5-12 1zM80 506l-1 7-1 7 4 8 11-2 6 4 3-1 2-2 3-3-1-3 0-8-6-6-9-1-4-4zM230 654l-7 1 2 8-3 7 2 8 6 4 5 2 2-6 3-9 8-6-8-8-5-7zM276 513l7-8 0-6 0-4-11-5-9-2-8 6-5 5 1 4 0 4 5 8 5 3 8 2zM1415 707l-6-7-10-4-8 8-10 2 0 3-2 3 2 7 5 3 9-1 8 2 4 5 3-10 7-3zM93 549l5-3 0-7 1-9-6-4-11 2-3 3 0 9 2 6 5 1 4 5zM1389 654l4-7 1-8-10-3-14-4-9 1 0 10-4 10 11 1 5 6 10 3zM1542 622l5 4 7 4 8 1 6-4 2-4 4-3 3-10-3-7-1-7-4-6-7-5-6-3-6 3-9-2-3 1-2 5 2 10-7 10 2 12zM215 465l-9-4-5 9-1 6-4 8 6 1 5 1 11-4 5-8 0-6-2-4zM217 573l-4 6 0 7 3 9 8 4 6 0 7-6-2-8 6-5-1-4-9-3-9-4zM1515 481l11-3 2-2 1-2-8-5-10-5-3-11-10 1-4 0-2 4-3 11 8 3 10 9zM1556 544l2 10 10 6 9 0 9-1 7-4 2-2 1-3 2-6-2-7-11-8-3-8-10 0-9 7-9 0-1 4-2 5zM295 543l-1-5-6 3-8 0-8 5-1 7-3 4 11 5 8 4 10-5 2-9 1-3zM114 489l0 8 6 2 4 3 3-1 3-1 2-7 6-3 0-4-10 0-7-8-6 1-4 5zM1608 551l-12-1-1 3-2 2 5 8-1 9 3 12 2 3 5 0 1 1 9-1 5-3 3-10 1-9-5-1-10-4-2-9zM147 508l8-4-2-3 1-4-5-6-11-1-6 3-2 7 7 8 6 9zM155 528l-12-5-1 2 4 4 4 8 1 10 5 1 2-2 1-10 5-8-1-3zM223 553l-4 3 2 8 1 5 9 4 9 3 6-11 4-6-5-5-1-5-12 1-8-1zM1442 654l-15-5-7 5 2 8-3 11 3 5 6 2 10-6 11 0 7-5-1-10-3-9-3-2zM246 565l-6 11 1 4 11 2 6 5 4-4 3-3-3-10 1-10-8 2-5-3zM1433 704l0-8-3-6-2-10-6-2-3-5-8 6-8 0-2 7-2 10 10 4 6 7 2 8 6 0 4-4zM131 464l-10 0 3 7-3 7 7 8 10 0 1-5 3-3-2-7-1-5zM224 541l-4-7-7 1-5-4-7 2-5 7 1 6 2 8 11 3 9-1 4-3 1-4zM283 595l-1-13-11 1-6-3-3 3-4 4 2 4-1 6 7 6 12-1zM297 595l3 7-1 10 1 1 10-5 7 3 2-4 5-2-4-7 0-9-9-4-9 0zM1569 489l3 10 9 1 3 11 5-6 6-1-2-3-1-9-13-4-8-1zM69 582l8-4 2-2 0-4-4-7-7-2-8 5-7 2 0 7 4 6 3 1 4 2zM1369 740l7 6 2-7 5-9 3-8-5-3-2-7-9 1-7 1-4 11-1 10z"/><path fill="#621d62" stroke="#fff" stroke-opacity="0.85" d="M237 645l-2 3 5 7 8 8 2 0 3 1 7-4 8-8-3-9-6-4-13 2-8 0zM269 520l-8-2-5-3-5-8-4 10-8 5 3 6 6 8 6-3 10 0 1-7zM1598 544l-2 6 12 1 1 0-1-9 0-9 3-5-6 8-9 1zM271 553l1-7-6-6-2-7-10 0-6 3-1 7-3 6 1 5 5 5 5 3 8-2 2-1 3-2zM1385 665l-2-2-10-3-5-6-11-1-4 8 2 11-2 10 0 1 11 2 7-2 8-8 6-5zM278 630l6 5 4-9 4-4 8-4 0-5-1-1-10-4-8-1-5 7-9 10zM137 529l-5-1-3 11-6 4 1 2-1 4 3 3 5 3 7-2 8-4 5-2-1-10-4-8-4-4zM210 597l-4 5 6 8-1 8 1 7 6 0 5-1 1-9 8-3 1-8-2-2-1-3-6 0-8-4zM162 442l2 8-1 10 2 2 2 2 5-1 6-1 5-3 3-7-8-5-7-6-3-8-3-1-4 2zM1563 528l9-7 10 0 3-6-1-4-3-11-9-1-3-10-10-1-8 3-6 4-4 5 0 5 9 7-5 10 9 6zM1411 679l8-6 3-11-2-8-2-8-6-7-6-8-6 6-6 2-1 8-4 7-6 9 2 2 0 5 10 5 8 4zM1565 569l-7 2-2 11 6 3 7 5 4 6 10 0 7-12 10 0-3-12 1-9-5-8-7 4-9 1-9 0zM124 574l7-6 1-2 1-2-2-4 0-5-5-3-3-3-3 2-4 0-3 6-2 8-9 6 2 4 6 0 3 3zM240 611l9-1 3-7 7-6 1-6-2-4-6-5-11-2-6 5 2 8-7 6 1 3 2 2zM144 520l-1-3-6-9-7-8-3 1-3 1-4 9 0 5 9 6 3 6 5 1 5-4 1-2zM1561 667l6 1 10-6 4-5 1-6-3-9-4-7-7-8-6 4-8-1-2 13-10 11 4 12 2 2 3 0zM1450 731l5-3 5-3-3-10 0-9-1-8-8 2-7-5-8 1 0 8-6 7 6 8 9 6 6 6zM75 565l4 7 7-4 5-2 1-7-2-7-4-5-5-1-8 2-5 6-1 4 1 5zM302 584l-6-4-8-2-3 2-3 2 1 13-5 7 2 2 1 3 8 1 10 4 1-10-3-7 5-10zM1408 627l0-4-5-7-7-8-4-5-10 2-11-1-6 4-3 10-6 5 3 6 2 4 9-1 14 4 10 3 6-2 6-6zM340 511l2 3 6 4 11 0 3-6 2-8 0-9-4 0-4-4-4 3-5 0-7 7-2 7zM232 550l12-1 3-6 1-7-6-8-3-6-5 1-3-1-4 9-7 3 4 7 0 8zM183 534l-5 7-2 5-1 9 6 7 8-3 6 1 2-2 2-4-2-8-1-6-6-4-6-2zM276 614l5-7-1-3-2-2-12 1-7-6-7 6-3 7 1 2 6 5 11 7zM190 536l6 4 5-7 7-2-5-8 1-9-3-2-6-1-4 3-4 2-3 10 0 8zM76 614l-5-7-1 0-5 5-3 10 5 6 2 7 7-3 9-4 2-4-2-3 0-4zM1392 424l9-1 4-7 1-8-7-2 0-16-7 0-6 3-5 0-3 1-3 3 1 6 9 9-3 10zM96 598l-1-5-5-2-4 1-4 9-11 6 5 7 9 3 2-7 11-3 2-6zM309 558l-10-6-2 9-10 5 2 5-1 7 8 2 6 4 6-9 4-7zM329 549l-4-3-8 1-7 3-10-1-1 3 10 6 3 10 6-3 6 2 2-7 5-2zM1353 585l16 5 2 14 11 1 10-2 4-10 0-6-9-5-1-12-8-4-10 1-8 6-9 2zM67 511l12 2 1-7 7-4-1-5-6-5-5-2-7 4-2 3-7 7-2 7 1 0zM1421 807l-8-9-5-7-12 0-9 6-3 10-2 7 6 4 8 0 7 7 9-3 7-5 6-2zM210 510l8-4 0-2 1-3-2-10-10-5-5-1-6-1-1 1-2 2-2 2 1 6 3 10 0 6 6 1 3 2zM357 579l6-2-3-8 7-10-8-7-7-1-5 4-6 4 1 10 3 5 5 6zM226 479l-3-5-5 8-11 4 10 5 2 10 8-9 9 0-2-5 0-5zM61 523l-3-12-1 0 0 2-7 6 8 12zM1379 697l-7-5-1-9-7 2-11-2-2 9-5 3-1 9 8 4 10 6 7-1 9-1 2-3 0-3zM210 557l-11-3-2 4-2 2 5 5 1 11 7 3 5 0 4-6 5-4-1-5-2-8zM115 584l4 7 9-4 9 1-7-10 1-10-7 6-11 4zM114 603l5-5 0-7-4-7-2-6-3-3-6 0-5 9-4 9 1 5 4 3 5 0 6 4zM1401 686l2-7-8-4-10-5-6 5-8 8 1 9 7 5 2 9 10-2 8-8zM595 1027l1 9 3 1 1 3 10-3 8-2 11 3-2-6 2-9 3-7-1-3-3-2-8-5-10 2 1 8-8 4-7 4zM129 522l-9-6-9 1-5 4 1 3-3 3 4 8 10 0 5 8 6-4 3-11zM195 448l4 7 7 6 9 4 6-1 3-5 4-4-4-9-8-4-12 3-8 2zM92 559l-1 7 7 2 4 3 9-6 2-8 3-6-10-4-8-1-5 3-3 3zM61 523l-3 8 0 1 5-3 9 4 7-2 3-3-4-8 1-7-12-2-9 0zM120 551l3-2 1-4-1-2-5-8-10 0-4-8-2 2-3 1-1 9 0 7 8 1 10 4zM120 511l4-9-4-3-6-2-4 7-10 3 6 6 0 8 5-4 9-1zM369 558l6-6 0-8-6-7-10-3-4 1-2 3 1 7-2 6 7 1 8 7zM63 594l2 9 3 1 2 3 1 0 11-6 4-9-4-7-5-7-8 4-5 4zM53 570l7-2 8-5-1-5 1-4-9-3-2 7 0 9zM244 632l3-11 3-9-1-2-9 1-7-7-1 8-8 3-1 9 8 3 7 12zM224 429l-5 2 1 6-4 5 8 4 4 9 9-7 1-9-5-5-3-7zM1589 505l-5 6 1 4-3 6 3 8 11 8 9-1 6-8 2-2 1-9-9-3-8-4-2-6zM1474 541l-3-6-9-2-8 3-11 1-1 2-1 4 5 6-2 8 7 6 9 2 5-5 9 5 0-8 4-12zM963 364l-2 3 0 11 1 8 6 5 12-7 11 8 11-3-1-5 3-4-7-9-5-9-10-3-10 1-8 0zM319 607l-2 4 4 10 6 9 5 2 7 0-2-10 6-7-3-10-8 4-8-4zM164 517l4-4-9-5-4-4-8 4-4 9 1 3-1 3 12 5 8-3zM272 405l-4 6 5 10 8 3 2-1 4 0 6-4 2-5 0-8-6-6-6 1-6-2zM296 532l-5-7 3-11-4-6-7-3-7 8-7 7 9 6 12 1 4 7zM153 475l-11 3-3 3-1 5 0 4 11 1 5 6 5-4 8-5-1-9-3-5z"/><path fill="#692774" stroke="#fff" stroke-opacity="0.85" d="M1428 812l4-1 4-8 4-7 0-7-5-11-8-4-5-1-6 2-2 12-6 4 5 7 8 9 4 8zM160 559l-4-11-5-1-5 2-8 4-7 2 0 5 2 4 8 3 6 5 8-1 3-3 3-1zM1465 560l-5 5-9-2-4 7-7 11-1 8 1 2 7-1 13 5 8 0 1-6 10-3 4-8-7-6-2-7zM292 465l-5 3 2 8 5 11 7-7 9-2 1-5 0-5-6-6-10-2zM265 643l3 9 3 2 2 0 8-7 4-6-2-3 1-3-6-5-11-6-3 9-5 6zM105 601l-5 0-2 6-11 3-2 7 0 4 2 3 11 5 11-3 3-9-1-12zM127 625l-3 7 4 3 2 6 9-3 9 2 7 2-6-6 0-11-7 0-10-2zM1432 584l-11-4-5-6-9 3-2 6-9 4 0 6-4 10 4 5 7 8 5 7 8-5 8-3 7-1 0-8 7-8 2-7-1-2zM184 526l3-10-9-1-6-4-4 2-4 4-1 8 1 3 9 2 10 4 1 0zM1489 577l-6 1-4 8-10 3-1 6-1 8 3 9 5 7 1 2 3 2 5-6 11-3 6-5-1-12 2-9-4-5-4-4zM1419 437l1-1-2-1-3-8-2-8-1-9-6-2-1 8-4 7 1 9 3 7 6 4zM1507 665l3-4 7-8-2-6 0-6-12 4-12-3-9-6-2 3 7 12-2 10 0 10 6 1 10 3zM1364 774l4 7 6-1 5 5 7-10 2-8 7-9-11-3-7-6-3 9-12 6zM121 433l2-5-2 2-7 7-4 5 4-1 10-1zM130 424l8-4 1-6 5-6-3-3 0-2-2 2-5 10-5 8-2 2zM168 569l5 1 5-4 3-4-6-7 1-9-9-3-9 3-2 2 4 11 1 8zM87 502l4 4 9 1 10-3 4-7 0-8-3-5-7-5-6 0-5 9-7 9zM895 257l0 9-1 9 10 8 0 9 13 1 7 4 2-2 3-2 6-9 2-17-5-11-5-5-11-3-5-7-4 1-3 3-2 1zM189 413l-3-10-6 3-7 1 1 11 5 6 6 1 10 1 4-2 2-5zM365 626l-6 5-10-1-9 2 3 8-1 12 11-1 7-2 4-5-2-10 5-7zM237 448l-9 7 7 1 8 2 6 6 1-4 3-4-4-8-1-9-5 3-5-3zM185 583l5 4 8-5 3-6-1-11-5-5-6-1-8 3-3 4-5 4 2 6 2 6zM1406 853l11-1 6-6 11-3-5-6-2-11-2-11-6 2-7 5-9 3-1 9 2 9-2 9zM338 508l2-7 7-7-10-2-6-11-5 4-3 1 0 6-3 4 14 4 3 8zM255 681l-2 7 3 5 5 4 5 1 7-7 7-9-3-3 0-5-9 4-9-3zM250 663l-2 0-8 6-3 9-2 6 1 2 10 0 7 2 2-7 4-6-2-7-4-4zM310 503l-3-7-5-6-8-3-7 1-4 7 0 4 0 6 7 3 4 6 8-8 7-1zM144 452l-4-6-7 1-6-3-2 11-4 9 10 0 8 2 3-3 2-7zM199 424l-4 2 3 12-2 9 8-2 12-3 4-5-1-6-8-3-9-9-1 0zM376 658l3-2 2-5 0-4-1-8-5-7-8-5-5 7 2 10-4 5 5 9 7 3zM102 571l-4-3-7-2-5 2-7 4 0 4-2 2 5 7 4 7 4-1 5 2 4-9 5-9zM220 416l-3-10-3 0-2 0-3 8-7 5 9 9 8 3 5-2 6-2 1-3 2-3zM257 668l2 7 9 3 9-4 0-5 3-3-5-4-2-8-2 0-3-2-8 8-7 4zM119 609l12 1 6-2 2-5 2-6-1-7-3-2-9-1-9 4 0 7-5 5zM294 534l-4-7-12-1-9-6-4 6-1 7 2 7 6 6 8-5 8 0 6-3zM231 424l-1 3 3 7 5 5 5 3 5-3 3-3 5-4 0-5-2-5-7 1-7-7-3 3-4 2zM365 658l-5-9-7 2-11 1-2 3-1 7 5 10 1 1 6 0 13 0 6-5-1-3 3-4zM166 391l-9 5-9 2-1 1-2 0-4 4 0 2 3 3 7 1 7 3 4-5 8-1 0-7-3-6zM345 574l-3-5-1-10-5-2-5 1-5 2-2 7 3 7 0 8 8 4 11 1 2-4 2-3zM198 582l-8 5 1 9 4 4 4 1 7 1 4-5 6-2-3-9 0-7-5 0-7-3zM1470 612l-3-9 1-8-8 0-13-5-7 1-2 7-7 8 0 8 9 4 5 6 12-2 8-5 10 2zM263 451l-10 5-3 4-1 4 0 1 8 7 6 6 5-7 10-5-4-7-3-8zM170 615l0 10 4 5 9-5 6-5 2-8-1-6-9 4-6-2-9-3-2 4zM287 488l7-1-5-11-2-8-5 0-4-2-10 5-5 7-1 5 1 5 9 2 11 5zM246 641l13-2 5-6 3-9-11-7-6-5-3 9-3 11-6 7 0 2zM1054 739l-7-9-2-11-10 2-9 8-6 8 1 9 8 6 3 6 9-5 11-1 6-6zM398 554l-3-5-8-5-10-1-2 1 0 8-6 6 8 0 7 8 7 0 2-4 4-5zM172 592l5-10-2-6-2-6-5-1-7-2-3 1-3 3-3 7-2 8 6 5 10 5zM185 425l-6-1-4 7-7 2 3 8 7 6 8 5 6-1 3-3 1-1 2-9-3-12zM189 396l2-6 0-3-2-2-2-2-9 5 0 1-4 1-7 3 3 6 0 7 3 1 7-1 6-3zM318 565l-6 3-4 7-6 9 0 1 9 0 9 4 4-3 3-4 0-8-3-7zM79 540l0-9-7 2-9-4-5 3 0 8 1 9 0 2 9 3 5-6 8-2zM247 423l7-1 5-6 5-5-4-7-7-7-6 1-5 5 2 5-4 8zM174 418l-1-11-3-1-8 1-4 5-3 11 6 11 4-2 3 1 7-2 4-7zM706 946l4 9 8-9 11 0-2-11-2-10-3-7-7 6-4 12-8 5-4 1zM173 530l-9-2-5 8-1 10 9-3 9 3 2-5 5-7zM75 490l-2-2-2 2-3 4z"/><path fill="#6f2f85" stroke="#fff" stroke-opacity="0.85" d="M115 462l-7-1-6 5-7 4 1 4 2 5 6 0 7 5 4-5 6-1 3-7-3-7zM1352 741l6-6 1-10 4-11-10-6-8-4-3 1-2 6-6 7-1 7 8 7 1 8 2 1zM256 427l0 5 8 6 8 0 5-8 4-6-8-3-5-10-4 0-5 5-5 6zM1439 845l-2-1-3-1-11 3-6 6-11 1 0 5 7-3 9-5 9-2 8-1zM989 197l-1-10 1-16-3-3-8 5-9-2-9 3 1 8-6 7 0 8 6 9 15-1 6 6zM580 1083l-1 3 3 2 3 1zM319 481l-9-3-9 2-7 7 8 3 5 6 3 7 6-1 4-6 3-4 0-6zM347 555l5-4 2-6-1-7-10-1-4-5-5 5-7 0-2 5 0 4 4 3 2 9 5-1 5 2zM1495 614l-11 3-5 6 4 4-1 9 9 6 12 3 12-4 8-8 1-8-9-5-9-3-5-8zM199 601l-4-1-5 3 0 3 1 6-2 8 5 8 12 2 3-4 3-1-1-7 1-8-6-8zM166 600l0 5 9 3 6 2 9-4 0-3 5-3-4-4-1-9-5-4-8-1-5 10-6 4zM107 454l1 7 7 1 6 2 4-9 2-11-3-4-10 1-4 1-2 3-1 1zM158 609l-3 3-2 9-4 4 0 11 6 6 1 0 9-8 9-2 0-2-4-5 0-10-6-6zM277 669l0 5 0 5 3 3 9 5 9 5 3-1 6-6-2-9-4-5-6-8-6-1-9 4zM1444 557l2-8-5-6-12 1-5 4-9 7 4 7-3 12 5 6 11 4 7 5 1-8 7-11 4-7zM1508 560l-12 6-2 13 4 4 4 5 14-3 8 4 12 0 2-5 3-1-3-10-6-12-7-10-5-2-5-1zM324 586l-4 3 0 9 4 7 8 4 8-4 3-2 3-2-1-7 1-7-11-1-8-4zM155 436l6-2-6-11 3-11-7-3-7-1-5 6-1 6 3 9 9 6zM275 662l5 4 9-4 6 1 4-8 4-6-8-4-10-4-4 6-8 7zM249 448l4 8 10-5 8 0 0-4 2-3-1-3 0-3-8 0-8-6-5 4-3 3zM308 648l2-2 1-4 0-12-10-2-1-10-8 4-4 4-4 9-1 3 2 3 10 4 8 4zM93 488l5-9-2-5-1-4-4-2-1 1-6 7-7 6-4 6 2 2 5 2 6 5zM343 603l-3 2 3 10-6 7 2 10 1 0 9-2 10 1 6-5-2-11-8-7-6-6-3-1zM293 427l6 9 1 8 5-3 5 0 5-5-1-6-1-9-8-6-4 0-6-1-2 5-6 4zM1362 785l-6 4-4 9 1 4 1 9 9 2 8 3 7 0 4-2 2-7 3-10-5-5-3-7-5-5-6 1zM300 618l1 10 10 2 0 12 9-5 7-7-6-9-4-10-7-3-10 5zM146 444l4-9-9-6-3-9-8 4-3 1-4 3-2 5 3 7 3 4 6 3 7-1zM191 644l-10-4-1 8 0 8 5 7 12 0 3-6 7-6-3-6-1-4zM156 591l-6-5-4 1-6 3 1 7-2 6 8 8 8 1 3-3 6 0 2-4 0-5 0-4zM95 470l7-4 6-5-1-7 0-8-6 7-5 9-5 6zM245 469l-7 6-4 7 0 5 2 5 5 3 9 4 5-5 8-6-1-5 1-5-6-6-8-7zM369 626l6-11 0-8-3-6-3-2-8 0-12 3 6 6 8 7 2 11 2 1zM238 639l-7-12-8-3-5 1-6 0-3 1-3 4 0 5-3 6 1 4 3 6 6 5 10-1 7-1 5-6 2-3 1-4zM271 447l0 4 3 8 4 7 4 2 5 0 5-3 3-5 3-5-1-8-7 1-7-7-10 3zM200 657l-3 6 0 2 2 9 4 5 8 4 6-4 7-1-2-8 3-7-2-8-10 1-6-5zM325 542l2-5-8-6-2-8-7 5-8-3-6 7-2 2 0 4 1 5 5 6 10 1 7-3 8-1zM1125 803l8 5 2 8 4 0 3-1 3-11-15-4-7 1zM206 635l0-5-12-2-5-8-6 5-9 5 0 2 1 5 6 3 10 4 12-3zM976 205l-15 1-6-9-5 5-8 6-8 0 0 5 9 10 7 9 10 4 8-9 7-10 7-5 0-1zM297 447l1 8-3 5 10 2 6 6 10-3 6-9-5-5-4-6-8-4-5 0-5 3zM283 706l9-3 4-4 2-7-9-5-9-5-7 9-7 7 4 3 5 7zM330 514l-6 4-7 4 0 1 2 8 8 6 7 0 5-5 5-6-2-12-2-3-2-3-1 0zM1500 597l1 12 5 8 9 3 9 5 4-1 5-3-2-12 7-10-2-10-12 0-8-4-14 3zM238 704l7 7 3 0 4-1 1-7 8-6-5-4-3-5-7-2-10 0-1 4-1 4zM302 506l-8 8-3 11 5 7 6-7 8 3 7-5 0-1-5-10-3-7zM1297 539l11 3 6 10 7 5 7-12 0-11 12-9-1-2-8-4-9-1-11 0-6 5-6 4-1 4-2 3zM332 475l2-6-1-9-4-4-2 0-6 9-10 3 0 5-1 5 9 3 4 5 3-1 5-4zM156 455l7 5 1-10-2-8-1-8-6 2-5-1-4 9-6 2 4 6 0 4zM112 617l-3 9 2 3 2 2 6 0 5 1 3-7 5-2 1-6-2-7-12-1-5-6-3 2zM1102 256l2 10-7 10 3-3 7-7 4-6zM722 918l2-5 3-3-3-5-2-6-8 1 0 10 2 10-1 4zM182 375l-2-8-1 11-1 10 9-5zM167 393l7-3-7 1-1 0zM355 535l4-1 2-6 1-6-2-1-1-3-11 0-6-4 2 12-5 6 4 5 10 1zM231 702l-9 3 0 6 4 6 6 0 5 3 2-5 6-4-7-7-4-10zM277 430l-5 8 0 3 1 3 10-3 7 7 7-1 3-3-1-8-6-9-6-4-4 0-2 1zM237 419l3-3 4-8-2-5-7-2-3-5-7 4-8 6 3 10 13 5z"/><path fill="#74409d" stroke="#fff" stroke-opacity="0.6" d="M774 959l-10-5-14-3-2 1-1 8-6 8 1 9 6 6 7 6 2 3 4-8 6-6 4-7 4-8 1-1zM972 360l10-1 9-7 2-9 6-9-12-2-10-7-9-4-3 6-8 4-5 8 5 8 3 7 4 6zM1373 823l5 10-5 8 9 4 6 7 10 1 4-1 2-9-2-9 1-9-7-7-8 0-6-4-4 2zM225 400l7-4-3-4 3-8-8-1-9-1-3 10-2 7 1 3 1 4 2 0 3 0zM452 235l9-8-1-5 2-4-13-3-12-5-9-13 0 11-8 8 1 11 2 2 9 6 12 0zM352 494l4-3-4-10 4-7-6-4-9-2-7 1-2 6-1 6 6 11 10 2zM1513 545l2 3 5 1 5 2 8-7 9-1 9-6 2-5 1-4-9-6 5-10-9-7-9 1-7 5-1 11-6 8-7 10 1 3zM1501 520l1 9 9 11 7-10 6-8 1-11-12-7-8-3-9 4-8 7zM348 583l-2 4-1 7 1 7 3 1 12-3 8 0 3-7 1-9-6-1-4-5-6 2-7 1zM334 452l-5 4 4 4 1 9 7-1 9 2 6 4 3-7 4-3-1-4 0-7-2-3-11-5-9 2zM367 582l6 1 7 2 5-3 4-3 2-3 2-4-2-6-7 0-7-8-8 0-2 1-7 10 3 8zM1532 561l6 12 3 10 9 2 6-3 2-11 7-2 3-9-10-6-2-10-5-7-9 6-9 1-8 7zM243 458l-8-2-7-1-4 4-3 5 2 4 0 6 3 5 8 3 4-7 7-6 4-4 0-1zM1289 547l0 13-7 7 2 10 7 3 8-1 6 0 6-7 7-4 4-10-1-1-7-5-6-10-11-3zM467 212l-5 6-2 4 1 5 4 7 10 3 2 8 3 1 4-1 6-10 10-10 1-3-2 0-8-7-11-2-6-9-2-1zM1239 566l9-2 11 0 2-1 3-11-1-9-1-7-7-6-12-1-9 1 4 11-10 10 3 10 0 1zM649 976l3-4-2-9-4-5-3-6-11-5-8 2 1 7 4 9 3 9-2 10 9 1 3-2 6 0zM1214 894l1 7-3 8 6 6 11 2 5-5 6-3 0-10-2-7-5-9-10 6-9-4zM610 1008l10-2 8 5 4-9 4-7 3-10-9-1 0 2-5 12-16 4zM334 500l-14-4-4 6-6 1-1 2 3 7 5 10 7-4 6-4 7-6zM1098 807l5 9-1 7 6 3 9 6 8-1 5-9 5-6-2-8-8-5-2-2-25 5zM210 374l1 5 4 3 9 1 8 1 3-3 4-4-1-3 1-2-12-4-5-7-7 5-5 4zM755 989l-7-6-6-6-8 4-6 5-7-1-3 4 0 4 3 10 5 7 10-2 6 3 1-2 4-9 9-7 1-1zM691 863l0-6-3-8-4-1 2 4-2 9-3 6 9-2zM1343 765l9-3-3-6-6-8 1-7-2-1-9 0-8 8 0 10 2 7 4 6 4 3zM252 323l8 2 6 7-1-10 5-13-2-9-6-4 0-5-4 0-4 4-5 9-3 7-4 9zM1032 761l0-3-3-6-8-6-1-9-4-1-10 4-1 13-11 7-1 10 7 11 6 0 3 1 8-4 5-11 10-1zM437 210l12 5 13 3 5-6 5-9-8-3-9-1-9-3-8-2-8-1-3 3 1 1zM580 1083l1-5-2-5-11-3-4-9-6 1 4 9 6 9 11 6zM260 404l4 7 4 0 4-6 5-6-1-9-8-9-6 5-6 1 0 5-3 5zM1478 526l-3-9 6-6-3-3-8 2-9 1-10-3-2 6-2 9-6 7 2 3 0 4 11-1 8-3 9 2zM235 690l1-4-1-2-5-2-6-4-7 1-6 4-2 3 0 7 3 9 4 2 6 1 9-3 3-8zM313 344l3 6 4 9 6-6 7-1 2-7-1-8-3-7-7-2-12 5-6 7zM256 749l7-3-2-7-1-7-12-2-8 0-1 5-3 2 3 10 4 3 6 5 4 0zM593 1059l-7 11-7 3 2 5-1 5 5 6 8 2 11 2 7-13 4 3 1-5 0-7-7-9-8-3zM247 398l6-1 3-5 0-5-9-6-8-4-4 4-3 3-3 8 3 4 3 5 7 2zM202 419l7-5 3-8-1-4-1-3-13-1-6-8-2 6-3 7 3 10 12 6zM299 655l-4 8 6 8 4 5 6-1 5-5 4-9-1-6-6-4-3-5-2 2-5 1zM1094 249l4 1 9-10 2-1 0-6-5-8-7-8-3-9 7-2-9-3-7 3-3 16 3 11 4 14zM133 617l-1 6 10 2 7 0 4-4 2-9-8-1-8-8-2 5-6 2zM1374 758l3-9-1-3-7-6-11-5-6 6-8 0-1 7 6 8 3 6 5 3 5-1zM180 648l1-8-6-3-1-5-9 2-9 8 0 1 2 8 7 2 5 8 5-1 5-4zM1284 539l-7-3-13-2-2 2 1 7 1 9-3 11 9 5 12-1 7-7 0-13 8-8-1-5zM239 747l-3-10-6 3 5 5zM859 788l-6-11 5-10-11 1-10 5-14 1 6 11 0 10 8 2 15-2 7 5zM1322 558l10 2 6 12 11 2 7-11-4-18 4-10-9-3-7-7-12 9 0 11-7 12zM1488 547l15-2 9-2-1-3-9-11-1-9-13-8-4 1-3-2-6 6 3 9-7 9 3 6 4 4z"/><path fill="#7b4fb1" stroke="#fff" stroke-opacity="0.6" d="M645 1012l11 9 9-4 3-6 4-4-10-3-8-11-6-10-6 0-3 2-3 10-4 7-4 9 3 2 1 3zM1322 518l9 1 8 4-1-10 6-7 0-8-10-6-4-9-9-2-8 0-4 3 2 13 2 10-2 11zM1433 460l-12 6-3 5 1 8 3 7 4 3 11 0 6 4 9-5 5-11 10-5-2-9-2-1-5 4-8 4-3-14-4-4zM1298 531l1-4-10-7-8-8-3-8-7-2-6 5 4 8-8 11 3 8 13 2 7 3 12-5zM690 865l-9 2-2 3 11 3zM295 406l0 8 6 1 4 0 4-7 8-8-8-1-4-6-8-5-6 6-2 6zM831 735l-9 7 1 20-5 9 2 2 3 1 14-1 10-5 11-1 4-3 1-5-2-8-7-12-9 0-11-5zM734 913l-7-3-3 3-2 5 3 7 2 10 2 11 9 6 10 0 2-1 5-8 4-9-4-11-10-3-4-9zM846 910l-6-7-11 0-8 4-12 5 3 6 0 1 6-3 12-1 13 0 2 1zM1386 393l6-3-6 0-5 3zM1496 505l9-4 5-11-3-9-10-9-8-3-9 1-5 5-2 13 5 9 0 11 3 3 3 2 4-1zM1333 740l9 0-1-8-8-7 1-7-9-1-12 6 0 11 0 11 4 3 8 0zM1104 266l-2-10-2-3-2-3-4-1-5-2-4 4-5-1-2 11-6 7-7 7 8 7 5 7 7-2 11-1 1-7-3 1 3-4zM186 358l-6 5 0 2 0 1 0 1 2 8 5 8 2 2 5-5 12-1 4-5 0-4-4-10-9-3zM1532 506l9-1 0-5 4-5-3-10-2-7-2-1-2 2-10 3 2-6-2 2-11 3-8 0 3 9-5 11 8 3 12 7zM1377 868l-7 0-7-7-7 7-4 5-7 5 6 8 2 2 5-6 7-4 9-1 9 1 1-1-1-1zM225 355l-3 6 5 7 12 4 4-6 6-7-2-3 2-4-4-5-10-2-5 1-6 4zM367 227l-2 8-2 8 9 9 0 7 9-4 7 5 9-4-4-12 3-8 0-10-3-3-5-3-6 0-5 0zM367 627l8 5 5 7 1 8 7-2 6-6-4-6 0-8-11 0-10 1zM342 353l-9-1-7 1-6 6 0 3-3 5 0 3 2 2 5 5 3 5 10 0 7-6 5-5 2-7zM289 373l4 8 4 4 9-4 6-3 7-6-2-2 0-3-8-2-5-1-10-2zM304 275l-3 7-2 7 1 5 4 3 8-2 12 2 5-6-2-8-3-11 1-7-5 1-4-4-3 3-7 2zM1155 890l-5 5-9 7 0 7 0 8 10 1 6-3 8-1 4-7 5-11-6-5-5-8zM1419 437l-8 6-1 4 0 3 6 5 5 11 12-6 10-8-2-2-5-8-9-4-7-2zM1340 525l7 7 9 3 7-3 8 1 9-7 3-8-6-5-9-8-5-6-8 4-11 3-6 7 1 10zM916 248l11 3 5 5 7-2 10-5 12 2 0-9-1-6-10-4-7-9-9-10-8 6-4 17-11 5zM1202 588l-3-10-4-6-9 0-7 5-9-3 1 10 1 8-4 8 8 4 6 4 9-1 7-11 7-3zM328 651l12 4 2-3 1-12-3-8-1 0-7 0-5-2-7 7-9 5-1 4 3 5 6 4zM269 724l4-3 2-8 0-5-5-7-4-3-5-1-8 6-1 7 9 8 2 8zM297 388l8 5 4 6 8 1 4 0 4-2 3-9-1-7-3-5-5-5-7 6-6 3-9 4zM276 390l1 9 6 2 6-1 2-6 6-6 0-3-4-4-7-1-8-2-9 1-1 2zM278 378l8 2 7 1-4-8 5-11-1-1-7-3-10 4-6 4-1 8 0 5zM718 946l-8 9-1 5-3 3 3 8 7 7 5 7 7 1 6-5 8-4-1-9 6-8 1-8-10 0-9-6zM1247 819l-9-5-8-1-9-4-8 3-1 11-9 8 6 4 3 9 11-7 9-4 11 2 3-5 2-5zM1198 565l5-9-3-5-3-8-7-4-4-3-9-3-2 1-7 6-3 14-6 6 9 6 2 8 9 3 7-5 9 0zM535 257l10 2 2 10 7-4 8-6 8 2 1-3-4-8-2-10-8-1-8-2-9-2-4 1-3 3 2 4-2 3zM643 931l5 0-2-5-7 3zM1336 777l2 5 11 4 7 3 6-4 6-4-4-7-2-10-5 1-5-3-9 3-8 9zM1169 832l-8 1-5 7-3 11 4 9 6 10 8-6 7-1 3-12-3-10 6-10-2-1zM1072 122l3 14-10 14-5 10 5 7 4 4 6-2 11-4 6-4-3-11 2-10-4-7-9-4-4-6zM212 392l3-10-4-3-1-5-4 5-12 1-5 5 2 2 0 3 6 8 13 1zM681 805l0 4 4 9 8 5 4 9 10-3 5-4 10-2 5-7-1-5-9-7-4-11-11 4-8 4-10 1zM403 512l-6-1-2 9-3 8 4 3 4 7 10 0 9-6-5-8-2-8zM754 902l-4 5-9 4 4 9 10 3 4 11 7-1 8-6 1-2-6-10-4-8 2-13-3-1-3 1zM380 585l-7-2-1 9-3 7 3 2 3 6 8-5 7 0-6-7 1-13z"/><path fill="#7b60c4" stroke="#fff" stroke-opacity="0.6" d="M1232 578l-3-9 2-7 0-1-11-6-10 2-7-1-5 9-3 7 4 6 3 10 3 5 6 2 5 1 8-2 2-5zM392 393l-3-6-5 3-7 3 1 4-3 5 2 4 4 3 7-5 12-1 1-4 1-3zM685 1019l13 3 8 12 3-1 3 2 1-10 5-7 8-8-5-7-3-10-13 1-10 2-13 7-1 2zM791 613l7 6 8-4 9 2 1-10 12-8 0-7-7-7-11-2-12 5-11 2 3 6-2 8zM640 1072l-4-6-12 2-8 3 0 7-1 5 7 5 9-6 9-5 3-2zM234 331l4 5-3 9 10 2 4 5 7-12 10-1 2-4-2-3-6-7-8-2-10-3-3 2-4 0zM1371 816l-8-3-9-2-6 7-6 0-4 5-2 9 1 3 2 2 7 5 9 0 7 5 7-2 4-4 5-8-5-10 5-7zM311 243l-1 10 6 9 4 4 5-1 6 0 4-5 0-8 6-7 1-11-4-3-2-3-8 5-8-3-9 3zM1482 636l1-9-4-4-3-2-1-2-10-2-8 5-12 2-1 10 1 7 4 7 3 2 9-6 10 1 9-6zM666 939l6 4 4-3-1-1-11-5-5 1zM442 407l8 10 7-5 6-2 10-1-5-8-8-9-6-8-7 5-3 9-8 3zM1367 401l-16 8-10 3 0 4 7 10 12 6 12 3 4-6 6-7 3-10-9-9-1-6-3 3-3 0zM301 180l10-2 6-2-9-4-11-2zM712 1035l-3-2-3 1-14 3-1 13-13 4 6 9-5 11 10 6 6-1 1-5-6-12 7-7 7-7 6-6 5-5zM1139 816l-4 0-5 6-5 9-3 6 3 10 9 0 8 0 11 4 3-11 5-7-5-9-9-1-5-8zM1147 823l9 1 5 9 8-1 13-2-6-8 4-12-1-2-23-2-11-2-3 11zM967 714l-6 9-8 12-6 7 5 5 6 8 2 7 5-9 14-1 1-9-1-9 1-8-7-5-2-8zM1012 277l-3-4-6-8-8-4-8-1-9-1-6 4-7 9 4 9-7 10 0 5 6 4 14 5 9-1 13-4 6-7 3-13zM1258 393l9 5 9 0 3-1-1-7-9 3-9-2-4 0zM315 436l-5 5 8 4 4 6 5 5 2 0 5-4 6-5-1-5 0-8-10-1-6-7-3 3-6 1zM820 876l-8-3-6 9-9 4 4 6 1 11 4 7 3 2 12-5 8-4 11 0 6-5 0-9-3-8-8-3-6-6zM1243 623l-9 2-12-6-2 6-5 6 4 8 1 6 3 9 8 0 6-1 9-2 3-2 2-10 1-10 2-7zM414 471l8 0 9 7 12-1 2-3 2-4-6-7-4-8 0-12-13 0-8 5-1 1-5 7 2 10zM849 247l-7 3-9 3 0 12 3 8 6 6 10-2 7 3 3-7 4-4-3-11-2-8-4-9zM248 730l12 2 0-4 3-2-2-8-9-8-4 1-3 0-6 4-2 5 2 4 1 6zM1016 736l1-12-8-8 2-14-13 5-12-3-11 4-3 2-1 3 2 8 7 5 14-1 8 13zM817 209l-3-2-7-3-7 1-11 5-3 11-9 9 6 4 3 14 6 5 5 1 4 1 8-6 7-4 2-10 5-9-4-12zM802 903l-1-11-4-6-8-1-5-2-10 2-7 9-2 13 4 8 6 10 10-4 9-10 12-1zM631 463l-5-7-11-2-8 8-12-4 5 7 1 13 4 10 9 2 8-1 6-6 2-9 7-6zM966 256l-5-5-12-2-10 5-7 2 5 11-2 17-6 9 12 1 8-7 13 4 7-10-4-9 7-9zM672 943l7 9-3 11 3 3 7 3 11 1 9-7 3-3 1-5-4-9-7-4-4 2-9 1-10-5zM1360 432l-12-6-7-10-5 7-5 7-1 6 2 6 9 8 7 7 10-4 5-4 9-7-1-4 1-3zM374 307l-4-10-7-2-12-3-7 2-5 4 0 3 0 3 2 8 6 9 7 3 10 1 7-6zM573 483l6 5 0 9 4 2 5-2 4 2 6-4 7-7-4-10-1-13-5-7-3-2-9 2-6 0-3 11-7 5zM904 245l3-3-8-7-4-16-5-12-9-5-11 0 0 9-6 6-6 9 2 4 0 4 16 3 13 11 13-2zM1265 627l9 7 15 1 3-6 6-3 1-4 0-6-4-8-6-6-5-7-9 1-7 6-8 2-4 6 0 10zM179 346l1-10-1-5-1-1-7 6 3 6 1 9zM279 722l7 6 8-2 3-5-6-8 1-10-9 3-8 2 0 5-2 8zM794 911l-9 10-10 4-1 2 10 5 0 12 1 0 1-2 3-10 7-8 11-3 5-2 0-1-3-6-3-2zM667 1024l-6 6 2 9 4 9 11 6 13-4 1-13 14-3-8-12-13-3-4-14-5 0-4 2-4 4-3 6zM748 688l1 3 12 4 9 4 11-4 0-7 8-7-2-8 0-1-7-8-7-2-11-1-7 6-6 7-2 11zM1336 476l9-1 3-6-2-5 2-7-7-7-9-8-4 6-8 8-8 3 1 6 3 10-3 6 8 0 9 2zM179 331l1 5 9-3 7 2 8 0 0-1-2-12-3-6-12-6-10 5-3 7 0 3 4 5zM213 300l7-2 3-4 5-4-2-8 2-7-1-9-2-5-8-2-4 1-5 1-4 9-9 6 0 5-1 5 5 5 6 7zM1283 906l3-3 3-7 4-5-2-6-2-5-11-4-10-2-4 4-3 5 2 6-1 4 5 6 10 6zM264 219l8-7 4-7-2-6-7-6-5-9-7 11-12 4-8 6 8 5 6 4 6 7zM1162 872l3 6-2 5 5 8 6 5 5 2 6 0 5-7 4-9 8-8 0-3-6-5-12 1-6-4-7 1-8 6zM1014 699l-3 3-2 14 8 8-1 12 4 1 6-8 9-8 10-2 2-3 0-7-5-3-4-7-13-1-8-4zM1195 833l-11-2-6 10 3 10-3 12 6 4 12-1 6 5 3-8 8-9 2-5-3-5-3-9-6-4zM1242 848l1-13-11-2-9 4-11 7 3 5-2 5 10 2 6 9 8 0 4-8 6-3zM815 772l-3-1-5 10-11 8-2 8 1 6 3 5 9 3 6-2 8-1 5-4 3-9 0-10-6-11-3-1-2-2zM311 675l-6 1 2 9-6 6 5 4 7 2 5-3 8-4 3-5 0-6-3-5-10-4zM1253 906l0-10 9-3 1-4-2-6-5-4-13 4-6-5-2 3-2 2 5 9 2 7 0 10 4-1zM1341 412l10-3 16-8 2-1-7 0-9 3-9 2-3 2zM985 468l-3 0-1 10-7 9 10 9 0 10 7 0 11-4 7-2 1-4 1-5-6-9-13-3-4-11zM862 273l-3 7-1 10 4 6 10-2 8 4 10 4 6-6 8-4 0-9-10-8 1-9-9 6-10-8-10 5zM548 510l8-4 12-2 11-7 0-9-6-5-6-9-8 5-9-1-7 0-3 12 2 6 3 11zM689 1080l-10-6-1 2 1 2 7 6 7 12 1-11 1-6zM1406 853l-4-1-4 1-2 9-7 6-6 8 1 1 4-7 6-6 9-5 3-1zM993 770l1-10-4-6-11-2-14 1-5 9-2 9-1 7 8 5 17 0 9 5 7-2 2-5zM238 374l1 3 8 4 9 6 6-1 6-5 1-2 0-5-8-3-5-8-7-4-6 7-4 6zM859 367l6-3 4-12-9-10 4-9-4-6-9-4-5-2-8 11-9 7-5 8 0 8 4 4 8 2 11 10 8 4zM287 224l-10-4-5-8-8 7-9 2-4 6 0 10 5 6 1 5 9 1 4 3 9-1 9-8 1-10zM522 322l1-3-8-9-14 6-10-9 5 12-8 11 0 14 1 0 11-9 7 0 13-1 4-3 0-5zM858 290l1-10-7-3-10 2-6-6-7 11-5 7-11 3 15 6 4 10 13 6 6-5 9-7 2-8zM251 227l4-6-6-7-6-4-8-5-3 0-6 7-3 6-4 9 3 3 1 5 8-1 12 2 8 1zM41 707l2-8-1-3-3-2-2 0-5 3-3 1 5 7 7 4zM749 674l6-7 7-6-2-8-2-6-14 3-8-10-11 4-3 9 3 6-3 8 8 5 9 7 8 6zM201 341l-1 8-3 8 9 3 4 10 5-4 7-5 3-6-1-5-9-3-4-7-7-4zM487 546l9-4 3-8 7-5 3-7-2-5 1-5-6-2-5-2-7 4-7 3-8 2-1 8-2 6 7 5 1 8zM764 954l10 5 2 3 4-10 5-8-1 0 0-12-10-5-8 6-7 1-4 9-5 8zM340 182l7-4 0-2-9-1-9 0-7 2 3 1 2 5zM204 335l-8 0-7-2-9 3-1 10-4 5 1 3 0 2 3 1 1 6 6-5 11-1 3-8 1-8 3-5zM755 865l-5 7-5 4 2 8 8 6 6 4 3-1 3 1 7-9 10-2-2-11-5-4-3-9-5-3-8 2zM410 456l5-7-7-3-11-3-6 0-2 3-2 3 3 9 1 9 13-1 8 0zM1447 523l2-9 2-6-3-8-5-7-6-4-11 0-1 9-5 9-3 8 5 7 11-1 8 9zM355 286l-1-11 0-7-9-6-10-2-4 5-6 0-1 7 3 11 2 8 3 5 7 2 5-4 7-2zM1002 738l-8-13-14 1-1 8 1 9-1 9 11 2 4 6 11-7 1-13 10-4zM839 606l9-2 4-11 2-7 3-10-12 1-6-9-11 1-8 8 1 8 7 7 0 7zM331 330l3 7 8-3 8-1 0-5 4-4-7-3-6-9-2-8-5 7-4 6-6 5-1 3 1 3zM1188 910l-3-12-6 0-5-2-5 11-4 7 6 6 5 8 11 0 7-7 1-5 2-2zM632 947l11 5 2-6 7-7 3-2-5 1-2-7-5 0-4-2-4 2-10 7-1 9 0 2zM291 741l3 4 6-3 5-1-1-4 5-13-7-1-5-2-3 5-8 2 2 4-2 5zM889 248l-13-11-16-3-1 3-2 4 4 9 2 8 3 11 10-5 10 8 9-6 0-9 7-11zM323 190l2 11 6 2 5 7 11-5 8-6-6-8 2-8-4-5-7 4-13 1zM1305 523l6-5 2-11-2-10-2-13-9-1-10 1-4 9-6 5-2 6 3 8 8 8 10 7zM375 321l-4-2-7 6-10-1-4 4 0 5 7 6 3 6 4 9 2-2 3-1 6-9 5-9-2-9zM419 338l6 2 2 10 2 0 6-6 13 0-7-10 2-11-8-3-7 2-10 3 0 4zM1210 557l10-2 11 6-3-10 10-10-4-11-5-6-3-5-5 9-16 1-8 14 3 8 3 5zM892 352l1-8 4-7-7-3-2-6-9 4-8 2-7-1-4 9 9 10-4 12 9-3 10 2 8-2zM1237 592l7 4 10-1 1-9 4-12 0-10-11 0-9 2-8-4-2 7 3 9-6 11zM329 433l10 1 1-8 7-5-10-7-5-7-8 8-1 11zM413 430l3 10 0 8 8-5 13 0 2-4-4-6-6-10-7-6-7 0-7 4z"/><path fill="#7b74d8" stroke="#fff" stroke-opacity="0.6" d="M302 222l4-10 0-8-4-3-4-5-9 4-7 0-8-1 2 6-4 7 5 8 10 4 2 9 6-3 8-1zM204 270l4-9-7-3-7-7-5-9-7 8-7 5-9 3 12 2 6 14 11 2zM1211 595l-6-2-7 3-7 11-9 1-1 10 2 7 3 6 10 3 10 0 9-3 5-6 2-6 1-8-6-8-1-7zM416 448l0-8-3-10-5-9-1 0-7 9-12 0 2 7 1 6 6 0 11 3 7 3zM1363 449l-5 4-10 4-2 7 2 5 9 2 5 8 6 1 5 0 6-4 4-7 0-8 1-7-8-6-4-6zM851 323l9 4 4 6 7 1 8-2 9-4-3-10 0-9 5-7-10-4-8-4-10 2-2 8-9 7-6 5 1 5zM1092 203l9 3 4-1 6-4 0-9-4-13 1-2-1 0-5-8-3-6-7-2-6 4-11 4-6 2-3 7 1 6 6 7 4 11 4 0 4 4zM1116 203l4-13-5-8-7-5-1 2 4 13 0 9 2 1zM1246 397l3-4-6 3-2 2zM254 177l8 7 10-4 6-10-4 0-9 2-10 2-1 0zM1250 916l-6-8-4 1-6 3-5 5 1 8-1 8 4-1 10-6 8-9 2 0zM1214 443l14 2 7 9 11-5 4-10 1-5-1-5-8-5 1-11-8-5-6-1-7-2-8 3-5 5-3 8-3 9 3 6zM941 783l6 2 3-6 7-1 1-7 2-9-2-7-6-8-5-5-6-2-8 2-2 9-6 14-2 9 7 5 5 5zM1099 758l1-8 6-8-1-8-7-9-8-3-5 0-4 1-2 9-5 11 7 3 8 5 5 7zM1224 594l-8 2 1 7 6 8-1 8 12 6 9-2 11-1 2-2 0-10 4-6-2-5-4-4-10 1-7-4-11-3zM1330 436l1-6-9-4-10 1-11-3-3 2-3 3 1 10-3 6 4 5 11 2 4 7 8-3 8-8 4-6zM830 862l-1 10 6 6 8 3 3 8 2-2 3 0 5-10 1-10 8-12-7-2-4-7-9 0-8 7zM1373 480l-5 0 1 12-6 7 5 6 9 8 6 5 4-3 3 1 5-10 0-8-1-12-8-6-7-4zM1332 608l5 6 2 6 6 5 11-2 6-5 3-10 6-4-2-14-16-5-2-10-1 0-8 9-7 7-6 8zM663 591l-5-8-3-7-7 2-7 4-9 9 0 9 5 11 5 5 10 5 8 1 5-3 0-9 3-9 5-4zM306 232l-3-3-8 1-6 3-1 10-9 8 3 2-1 3 11 0 6 7 8 4 7-2 3-3-6-9 1-10 0-10zM1280 498l6-5 4-9-9-6-5-8-9 5-7 7-8 1 2 8-5 7 12 2 4 7 6-5 7 2zM722 899l5-6 4-9-1-8-2-7-5-4-10 3-11-1-11-4-1 2 0 8 3 1 11 0 3 8 7 6 0 11 0 1zM1320 590l-8-4-7-7-6 0-8 1 0 9-7 6 5 7 6 6 4 8 7-7 7-8 10-3zM884 870l2 16-6 9 5 5 3 7 5-3 7 3 6-7 9-3 5-9-8-5-7-12 0-11-6 1-6-1zM1386 480l8 6 8 0 12-1 5-6-1-8 3-5-5-11-6-5-11-2-6 3-9 3-1 7 0 8-4 7zM525 352l-1-8-4-10-13 1-7 0-11 9 6 10-1 8 10 9 8 5 9-3 5-5 2-7zM1001 384l1 5 0 3 3 4 12-1 12 7 13 0 2-6 3-10 8-4-7-12-16-3-6-8-4 8-11 8-7 5zM1060 748l-2-2-6 6-11 1-9 5 0 3 0 5 11 4 5 9 9-9 9-1-1-11 0-10zM712 825l-5 4-10 3-2 12-7 5 3 8 0 6 11 4 11 1 10-3 1-7 5-8 3-9-6-7-4-11zM266 339l8 7-4 11 6 5 10-4 7 3 0-8 3-9-7-7-14 3-7-5zM798 588l12-5 11 2-1-8 8-8-3-5-1-4-11 2-7-5-8 8-7 8-8 6 1 3-1 3 3 3 1 2zM928 333l-9-3-12 2-10 5-4 7-1 8 0 9 5 9 11 2 2 8 4 2 4-2 0-19 8-11 5-14zM1182 651l4 8 9-3 14 7 10-2 2-4 2-3-3-9-1-6-4-8-9 3-10 0-10-3-1 7-5 3zM609 1062l7 9 8-3 12-2 1-8 2-9-3-8-7-3-11-3-8 2-10 3-1 11 2 8zM455 470l-8 0-2 4-2 3 0 1 6 9 6 6 9 6 7-3 9-6 3-6-8-8-4-8-2 0-3-2zM1134 969l-2-12 5-7-10-4-10 1-5 4-11 5 0 2 1 8 13 3 3 6 6-4 7 1zM359 697l1 8-1 7-1 8 11 1 8-3 1-5 5-5-7-4-5-8-7 0zM646 958l4 5 2 9 8-1 8-7 8-1 3-11-7-9-6-4-7-4-4 2-3 2-7 7-2 6zM349 445l11 5 1-5 4-9 2-7-8-3-2-6-6-1-4 2-7 5-1 8 0 8 1 5zM1333 627l-8 8 2 8 0 11 10-2 10-2 10 3 4-10 0-10-2-4-3-6-11 2-6-5zM1306 414l-5 10 11 3 10-1 9 4 5-7 5-7 0-4 0-5-6 4-9 6-9-5-9-6-4 1zM689 521l-5-10 3-14-7 0-9 0-7-1-6 4-6 8 7 8-4 10 4 12 7-3 9 0 10 1 2-3 2-2zM902 712l-4 5-9 7 5 7 5 10 8 1 9-6 7-3 0-6 0-6-5-5-6-9-7-5zM1099 918l-5 3-6 6-1 11 5 5 7 5 2 8 11-5 5-4-4-9 2-12-7-8zM1180 810l-4 12 6 8 2 1 11 2 8-2 9-8 1-11-3-8-3-9-10 4-3-1-14 10-1 0zM320 230l8 3 8-5-2-11 2-7-5-7-6-2-12 2-7 1 0 8-4 10 1 7 3 3 5 1zM258 291l4 0 1-2-7-7-6-7-3-12-10 4-10-1 1 9-2 7 2 8 11-2 8 8 7-1zM1327 598l2 1 6-8 7-7 8-9-1-1-11-2-6-12-10-2-4 10-7 4-6 7 7 7 8 4 3 8zM239 322l3-2 4-9 3-7 5-9-7 1-8-8-11 2-5 4-3 4 2 8 7 5 1 9 3 0 2 2zM1152 730l9 4 9 6 8-3 6-10 7-5 0-2-3-7-8-5-5-4-10 2-10 8-4 8-1 4zM992 798l-1-10-9-5-17 0-8-5-7 1-3 6 0 8 6 6 2 10 12 1 9 4 8-2 4-7zM1153 935l7 3 11 1 1-6 4-5-5-8-6-6-8 1-6 3-10-1 0 6 5 7-3 10zM1389 868l7-6 2-9-10-1-6-7-9-4-4 4-7 2-1 8 2 6 7 7 7 0 6 8zM1208 881l6 4 9 4 10-6 2-2 2-3 1-7-1-6-8 0-6-9-10-2-8 9-3 8 0 3zM1138 779l10 3 0-11 5-4-6-4-6-9-6 1-6 0-5 6-4 3 5 10 2 9zM1089 150l3 11 7 2-1-1-4-8-3-14zM778 573l-3-8-5-5-8 1-8-5-9 3-8 10 0 7 11 6 3 9 11 0 9-1 12-5 1-3-1-3zM767 272l4-1 9-3 8-8 4-7-6-5-3-14-6-4-4 1-3-1 0 1 0 9 5 9-1 9-8 13zM1165 644l9-7 6 4 5-3 1-7-3-6-2-7 1-10-6-4-8-4-7 4-6 4-10-1-2 9-2 6 1 9 8 2 6 7zM217 332l2-9 11-3-1-9-7-5-2-8-7 2-8-2-8 8 2 10 3 6 2 12zM1433 521l-11 1-5-7-6 3-8 2 4 10-1 9 1 11 3 3 5 2 9-7 5-4 12-1 1-4 1-2 0-4-2-3zM216 704l-4-2-7 4-3 5 0 4 2 4 6 4 7 1 3-4 6-3-4-6 0-6zM911 241l11-5 4-17 8-6 0-5-6-6-1-7-9-5-8 7-11 7-9 3 5 12 4 16 8 7zM864 217l6-6 0-9 0-6-5-7-7-3-7-5-11 3-7-2-5 8-13 8-1 9 3 2 2 5 17-1 6 13 16 0zM922 445l5-10 4-7-6-4-8-5-6-3-4 2-8 7-8 13-3 12 3 2 10-3 7 7 11-3zM797 641l2 6 6 5 8-1 7 1 9-10 5-7-6-5-9-5-4-8-9-2-8 4-1 10-3 8zM997 225l-2-8-5-4-8-1-7 5-7 10-8 9 1 6 0 9 5 5 6 7 6-4 9 1-1-10 11-8 3-10zM1206 946l-2 4 1 0 4-4 3-4zM32 697l5-3-9-3 1-8-8-4-1 0-1 7 2 6 8 5 0 1zM1139 693l-6-8-1-9-5-6-3-2-7 2-6 5-8 3 0 4-3 6 1 8 4 4 5 5 9 1 12-3 7-6zM1169 694l5 6 10-3 5-7 4-5-6-6 1-8-4-8-9 4-3 6-9 3 1 6-3 4zM1226 714l-5-8-8-1-5-4-2 8-9 3-6 8 0 2 5 5 8 6 6-4 6-3 10 0zM1098 972l-1-10-7 1-5 4-1 5-2 3 0 1 8 2 11 3zM565 697l8-10 6-11-2-4-3-6-10 3-11-6-5 7-5 12 2 10 6 4 1 2 5 2 8 1zM865 730l-8-1-3 10 7 12 2 8 9 6 9 1 11-4 0-7 6-5 1-9-5-10-5-7-7-6-14 2zM1355 503l8-4 6-7-1-12-6-1-5-8-9-2-3 6-9 1-6 7 4 9 10 6 0 8zM1268 602l7-6 9-1 7-6 0-9-7-3-2-10-12 1-9-5-2 1 0 10-4 12-1 9 4 4 2 5zM186 295l8-9 1-5 0-5-11-2-6-14-12-2-2 0-4 0 3 12-8 9 10 4 2 8 7 4zM298 263l-6-7-11 0-5 7 3 10-5 8 5 6 12-5 8 7 2-7 3-7 2-8zM433 493l9-6 1-9 0-1-12 1-9-7-8 0 1 12-6 6 5 8 9 3 5 1 5-2zM960 354l-3-7-5-8-13 1-8-4-5 14-8 11 0 19 5-1 4 2 15-1 5-12 14-1 2-3 1-4zM1003 334l-4 0-6 9-2 9-9 7 10 3 5 9 7 9 7-5 11-8 4-8 0-2-8-7-8-11-4-7zM437 443l0 12 4 8 6 7 8 0 11-4-2-11-1-6 3-10-10-2-9-3-4 4-4 1zM60 716l-5-7 0-7-6-4-6 1-2 8 0 2 1 1 12 4 5 3zM1036 626l-6 11 1 8 7 4 11 1 7-4 4-7 6-3-5-8-4-7-7-7-7 1-6 3zM1326 657l-2 2 1 6 2 5 10 7 6 2 10 3 2-10-2-11 4-8-10-3-10 2-10 2zM320 429l3-3 1-11 8-8-1-3-4-2-2-4-4 2-4 0-8 8-4 7 8 6 1 9zM239 724l-2-4-5-3-6 0-6 3-3 4-2 7 2 4 4-1 8 5 1 1 6-3 3-2 1-5zM299 324l1 8 4 8 2 0 6-7 12-5-1-3 1-3-7-9-9-3-7-3-3 1-2 3-1 4zM1272 697l4 1 6-5 12 3 9-5-2-11 2-9-7-9-4-3-6-2-2 1-4 10-10 5-2 10 0 6 2 6zM344 727l-6 5-11 1 0 1 4 1 11-1 5-1zM1254 622l-2 7-1 10-2 10 11-4 12 6 12 7 2-1 4-6-1-7 0-9-15-1-9-7-9-7zM981 865l5-5 12-3-3-5 0-4-4-4-7-3-7-5-7 2-10 3-5 2 0 11-5 10 0 1 8-1 8 4 6 4zM1255 858l-8-4-6 3-4 8 1 6-1 7 6 5 13-4 5 4 3-5 4-4 2-7-3-6zM337 414l10 7 4-2 6 1 2-7 1-8-4-5-2-3-8-1-10 3-5 5 1 3zM1155 714l10-8 10-2-1-4-5-6-8-8-5 5-7 3-10-1-1 4 6 7 3 7 4 11zM1352 873l4-5 7-7-2-6 1-8-7-5-9 0-7-5-8 7-3 15 3 9 3 7 9 3 2 0zM357 721l4 8 9-2 7-5 1-1-1-3-8 3-11-1zM1116 203l-3-1-2-1-6 4 11-1zM1280 707l4 7 3 8 10-2 9-3-1-9 6-7-3-7-2-1-3-2-9 5-12-3-6 5zM1195 916l-1 5 8 6-1 10 5 9 6-4 3-4 9-3 5-2 1-8-1-8-11-2-6-6-8 0-7 5zM741 841l-9 0-3 9-5 8-1 7 5 4 2 7 7 1 8-1 5-4 5-7 6-7-3-9-8-6zM1261 526l8-11-4-8-4-7-12-2-9 5-5 2-9 5 1 3-1 6 3 5 5 6 9-1 12 1 7 6 2-2zM368 495l2-8 11-3 3-8 0-1-6-3-7-8-8 0-4 3-3 7-4 7 4 10 4 4 4 0zM950 864l-9-6-13-2-13-4-6 5-4 3 0 11 7 12 8 5 11 1 7 1 6-8-2-10 8-7zM1204 950l-4 0-5 4-1 2-1 3 0 9 5-7 3-8 4-3zM1420 507l5-9 1-9-4-3-3-7-5 6-12 1-8 0 1 12 0 8-5 10 6 5 7-1 8-2 6-3zM1070 747l4-4 5-11 2-9-3-4-6-4-7-4-10 8-8-3-2 3 2 11 7 9 4 7 2 2 5 0zM1243 413l-1 11 8 5 7 0 8-6 6-4-1-8 6-5 0-8-9 0-9-5-2-2-5 1-2 1-3 4-5 1-5 5-1 5zM1101 696l-1-8-10 2-7 5-9-1 0 11-2 10 6 4 3 4 4-1 5 0 4-8 3-10 8-4zM493 481l-10 3 7 5 1 11 6 8 5 2 6 2 3-1 1-2 1-7 1-9 3-7-10-2-5-9zM256 363l5 8 8 3 1-8 6-4-6-5 4-11-8-7-10 1-7 12-2 4 2 3zM311 178l-10 2 2 8-5 8 4 5 4 3 7-1 12-2-2-11 4-7-2-5-3-1-2 0-3-1zM773 662l7 2 7 8 5-9 2-8 5-8-2-6-3-4-12 3-7 2-12-2-4 3-1 4 2 6 2 8zM929 737l4 5 8-2 6 2 6-7 8-12 6-9-8-2-4-7-9 0-8 5-5 5-10 6 0 6 0 6zM1130 981l1-9-7-1-6 4-4 4-1 5 13-4 5 7zM850 667l10-4 1-1-2-9-3-8-10-4-8-7-4 1-5 7-9 10 1 7 5 9 9 4 7 2zM179 357l-3-1 4 9 0-2zM218 187l4 5 2 9 8 4 3 0 8-6 12-4 7-11-8-7 0-3-8 3-8 3-9 2-6 0zM1065 758l1 11 5 4 6 1 6-5 4-9 7-2-5-7-8-5-7-3-4 4-5 1zM1263 722l1 10 6 7 3 1 5-1 9-8 0-9-3-8-4-7-4-9-4-1-2-2-8 9-8 4-1 4 0 3zM211 340l4 7 9 3 6-4 5-1 3-9-4-5 1-9-2-2-3 0-11 3-2 9-13 2 0 1 0 1zM542 496l-2-6 3-12-2-1-3-2-7 2-6 5-8 4-3 7-1 9-1 7 12 2 12-7 9 3zM1194 882l-4 9-5 7 3 12 9 4 7-5 8 0 3-8-1-7 0-9-6-4-6-7zM1386 570l1 12 9 5 9-4 2-6 9-3 3-12-4-7-5-2-3-3-8-2-8 3-8 3-3 7-2 5zM76 728l-6 4 1 2 10-2 1 0zM1276 398l0 8-6 5 1 8 11 1 4 5 9 4 3-3 3-2 5-10-2-7-10 3-8-4-6-6-1-3zM38 656l1 6 7-3 7 0 0-9 5-7-4-1-6-4-10 3-6 9zM469 510l6 7 8-2 7-3 7-4-6-8-1-11-7-5-3 6-9 6-7 3-1 2 0 4zM386 530l-5-1-2 6-2 8 10 1 8 5 2-6 3-5-4-7-4-3zM378 713l-1 5 1 3 8-4 6-7 5-5-1-2-6 6-7-1zM1175 704l5 4 8 5 3 7 6-8 9-3 2-8 0-7-4-6-5-2-6-1-4 5-5 7-10 3zM819 625l9 5 6 5 4-1 4-8 2-9 6-10-2-3-9 2-11-7-12 8-1 10zM174 322l3-7-1-5-5-5-5 0 2 7 3 10 3 3zM1448 500l3 8 10 3 9-1 8-2 0-11-5-9 2-13-3-2-5-1-10 5-5 11-9 5z"/><path fill="#7a86de" stroke="#fff" stroke-opacity="0.6" d="M171 305l3-4 0-6-7-4-2-8-10-4-5 1 6 8 3 9 6 6 1 2zM1041 339l-8 8-7 10 0 2 6 8 16 3 7 12 2 0 3-1 5-5 8-4 3-7 1-6 1-7-9-6-5-7-13-4zM542 226l-2 9 9 2 8 2 8 1 4-8 7-3 1-6-1-2-1-1-8-3-7-5-8 2-8 5-3 0zM147 255l13 3-8-13 9-16-5-10-9 1-2-1-6 1 2 11-1 10 2 13 1 2zM1057 770l-9 9 5 7-3 11 11-2 5 7 10 0 5-1 5-5-6-5-3-9 0-8-6-1-5-4zM815 198l13-8 5-8-7-6-4-11-8-4-13 2-1 0-2 3-6 6-4 8-4 8 7 3 6 6 3 8 7-1 7 3zM655 576l-1-12-6-10 4-10-6-4-14 1-7-2-2 9-6 11 2 9 7 1 10 5 5 8 7-4zM1351 575l9-2 8-6 10-1 2-5 3-7-8-7 2-8-6-6-8-1-7 3-4 10 4 18-7 11 1 1zM1302 856l0 3 7 7 10 4 5-3 7 1-3-9 3-15 8-7-2-2-1-3-9-3-7 3-6 8-10 7-4 7zM1108 390l2-4-9-9-13-8-12-4-3 7-8 4-5 5 4 10 12 8 5 9 11-2 8-2 9-7zM756 809l5 9 5 4 9 3 7 5 6 0 1-7 3-8 6-7-3-5-1-6-8-7-11-2-9-4-4 2-5 9-3 8zM550 478l9 1 8-5 7-5 3-11-7-3-4-9-4-5-8 5-9 0-8 6-1 3-3 3 4 9 1 8 3 2 2 1zM389 662l11 1 3-3-1-7 3-8-5-5-6-1-6 6-7 2 0 4-2 5zM1148 567l-6 5-4 8 0 9 0 5 3 8 4 2 0 3 10 1 6-4 7-4 4-8-1-8-1-10-2-8-9-6-5 1zM688 551l0-7-3-8-10-1-9 0-7 3-2 4-5 2-4 10 6 10 1 12 12-2 14-8 10-6zM409 579l-11-3-7 0-2 3-4 3-1 13 6 7 8 4 5 5 4 0 5 0 2-2 2-2 3-12-4-9zM36 670l-12 2-3 7 8 4-1 8 9 3 2 0 8-5 1-8-6-7-3-11zM1067 117l4 3 1 2 2 1-1-1-6-6zM377 447l-6 9-9-3 0 7 1 4 8 0 7 8 6 3 6-3 1-5-1-9-3-9zM570 591l10 2 5 9 8 1 8-3 4-4 1-9 0-8-1-7-2-1-7 5-11-4-7 4-5 6-4 6zM369 377l1-5-5-5-3-8-5 3-6 2-2 7-5 5 9 5 1 9 5-4 9-3zM723 713l11-1 2-2 4-1 0-11 9-7-1-3-1-3-8-6-9-7-8-5-5 1-3 6 3 10 3 10-4 14zM877 923l8-9 3-7-3-7-5-5-11-4-9-1-9-3-3 0-2 2 0 9-6 5 6 7-1 6 8 6 11 4 11 2 1 0zM651 481l3 8 10 7 7 1 9 0 7 0 1-2 2-3 0-3-5-8 3-6-3-9-5-7-14 0-5-5-9 2-5 11zM505 658l-8-8-3-2-3 0-8-2-10 6-2 4-3 3-1 7 7 7 2 1 10-1 9-3 9-3 3 1zM971 518l-14-4-7 2 2 10-8 7 3 10 2 2 2 1 8-1 7 1 7-3 3-8 5-11-1-4-1-2zM542 226l-1-7-6 0-7 5-10 1-5-1 9 3 3 9 4 1 4 2 3-3 4-1zM1115 969l-13-3-1-8-4 4 1 10 3 9 11 3 1 0 1-5 4-4zM500 553l-4-11-9 4-7-2-4 3-1 4 1 6 4 7 0 10 6 6 9-1 5-6 1-8 7-6zM1056 277l9-2 7-7 6-7 2-11-12-7-12-11-11 0-2 0-3 2-2 5 1 11 9 15 2 12zM1044 154l10 0 6 6 5-10 10-14-3-14-1-2-4-3-4 0-11 7-16 8-10 4 6 7 2 9zM1212 755l-9-6-9 5-5 8-9 1 6 7 2-2 14 4 0 4 2 0 7 9 3-2 2-2 1-13 2-7zM450 267l6-5 8 2 7-4 5-6 1-9-2-8-10-3-4-7-9 8-8 0-4 8 4 9-3 11zM570 297l8-7 0-2-4-9 1-12-5-6-8-2-8 6-7 4-2 3 0 2 2 11 10 5 2 6zM515 283l-4-6-5 1-3-2-5 11-9 3-1 9 2 8 1 0 10 9 14-6 8 9 5-6 2-7-3-7-4-7-1-8zM630 474l-2 9-6 6 3 9 6 9 13-3 8 4 6-8 6-4-10-7-3-8-4-14-4 2-6-1zM274 753l-5-5-4 1-2-3-7 3-3 6 2 6 3 4 5-1 8-5 8-2zM678 772l-5 6 2 8 8 8 1 8 10-1 8-4 11-4 1-4 0-6-10-4 0-12-11-5-5 3-5-1zM758 849l3 9 8-2 5 3 1-9 11-8 5-6-1-4-2-2-6 0-7-5-9-3-7 6-6 7-3 8zM628 602l4-2 0-9 9-9-5-8-10-5-7-1-7 2-7 2 1 7 0 8-1 9 6 5 13 3zM1048 315l6-4 12 2 8-4-1-8 5-12-5-7-8-7-9 2-6 0-5 3-4 5 1 12-1 8 5 9zM67 716l-7 0-1 1 5 3 6 12 6-4-3-5 0-6zM1101 956l-2-8-7-5-5-5-9-1-7 8-7-2-1 4 5 5 5 9 6 3 6 3 5-4 7-1 4-4zM637 1058l-1 8 4 6 3 3 7-5 8 1 9-2 8 1 3 6 1-2 5-11-6-9-11-6-4-9-6 6-13-2-5 6zM1179 776l0-13-2-1-8 2-9 1-7 2-5 4 0 11 4 6 18-4 8-7zM947 368l-5 12-15 1 5 14 16 9 9 7 5-7 0-9 6-4-6-5-1-8 0-11zM982 151l-10-7-6-13-5 5-10 0-5 6 0 8-7 10 5 4 10 4 6 6 9-3 9 2 8-5 0-3 1-4zM1160 765l9-1 8-2-4-9-2-7-1-6-9-6-9-4 0 12-10 2-1 10 6 9 6 4zM757 513l-1-8-6-9-2-5-9-4-5 6-7 7-6 6-2 7 2 10 4 5 7-4 9 2 9 2 3-1 2-4zM17 646l3-2 0-3-1-5-1 2-4 9zM959 904l9-5 8-2-5-9-1-8 2-8-6-4-8-4-8 1-8 7 2 10-6 8 2 9 7 5 1 6 4 1zM791 573l7-8 8-8-9-9-3-6-4-12-1 1-6 7-7 9-6 13 5 5 3 8 5 6zM294 362l10 2 5 1 8 2 3-5 0-3-4-9-3-6-7-4-2 0-5 1-3 3-3 9 0 8zM806 865l1-13-5-10-6-3-5-3-5 6-11 8-1 9 3 9 5 4 2 11 5 2 8 1 9-4 6-9zM1371 438l1 4 4 6 8 6 9-3 6-3 11 2 0-3 1-4-6-4-3-7-1-9-9 1-10-2-6 7-4 6zM1012 675l-11-6-12-4-5 7-7 1 1 13 2 9-5 13 11-4 12 3 13-5 3-3 3-5-1-6 1-5zM89 664l11-1 3-5 0-1 0-2-1-3-6-5-5-1-7 5-9 1-1 6 0 4 5 7 6 2zM297 170l-1 0-11-1-7 1-6 10-10 4 5 9 7 6 8 1 7 0 9-4 5-8-2-8zM1351 886l-6-8-2 0-5 5-5 10-1 6 8 4 4-11 8-3 1-1zM314 708l-1-11-7-2-5-4-3 1-2 7-4 4-1 10 6 8 5 2 7 1 2-2 4 0 0-4 3-4zM1270 852l-3 9 3 6-2 7 10 2 11 4 6-8 4-3 3-10 0-3-2-2-4-6-10-1-4 1-4 0zM1296 439l-1-10-9-4-4-5-11-1-6 4-8 6-7 0 1 5-1 5 9 2 6 11 11 5 12-4 5-8zM60 584l-3-1-9 1-8 9 1 7 5 4 7-5 12 4-2-9 1-8zM417 578l-2 8 4 9-3 12 9 0 10 2 8-2 1 0 2-8-6-7 4-9-11-2-8-8zM47 689l-8 5 3 2 1 3 6-1 6 4 12-3 4-8-8-3-3-9-6-1-6 3zM725 566l3 2 5 0 4 1 8-10 9-3-3-8-1-10 0-10-9-2-9-2-7 4-2 3-2 1-2 10 2 11 2 10zM17 646l3 8-2 12-4 7 5 2 1 4 1 0 3-7 12-2 3-7 0-1-1-6-6-6-6-5-6-1zM421 534l-2-2-9 6-10 0-3 5-2 6 3 5-1 3 7 2 7-4 9 5 2-9 2-6 0-11zM486 580l-6-6-7 2-4 6 1 6-2 9 10 3 5 3 5 7 4-2 4-2 6-9-2-7-2-6-3-5zM515 265l12-5 6-14 2-3-2-4-4-2-4-1-13 2-9 7-11 6 4 9 3 10 4 6 3 2 5-1zM1080 351l-2 1-1 7-1 6 12 4 13 8 9 9 5-5 5-5-1-10 3-10-2-14-11-1-16 4-11 3zM1295 829l-5 8-4 10 10 1 4 6 4-7 10-7 6-8-7-3-7-7-3-6-7 1-5 0zM737 877l-7-1 1 8-4 9-5 6 2 6 3 5 7 3 7-2 9-4 4-5 7-8-6-4-8-6-2-8zM899 861l6-1 4-3 6-5 5-6 1-12 0-8-3-4-3-4-3 0-5-2-7 7-6 2-10 4 0 8 4 8-4 9 4 2 5 4zM439 267l-4 1-4 13 4 8 8 3 6 6 10-4 4-6 8-3-4-8 2-7-5-6-8-2-6 5-9-4zM369 537l6 7 2-1 2-8 2-6-5-2-3-6-6 0-5 1-1 6-2 6zM1327 765l-2-7 0-10-8 0-4-3-3 1-2 13-2 10-7 8 2 0 9 1 9-9 12 2zM855 818l-2 5 4 9-6 7 3 7 4 7 7 2 8 1 11-2 4-9-4-8 0-8-7-2-5-12-10-2zM163 270l-3-12-13-3-4 1 3 14 4 10 5-1zM1124 848l-2 8-3 8 4 11 14-2 13 3 12-4 1-2-6-10-4-9-11-4-8 0-9 0zM545 272l2-3-2-10-10-2-2-11-6 14-12 5-4 12 4 6 7 1 8-7 9 0 6-3zM1227 677l6 7 9-8 10-1-2-9-5-6 1-9-9 2-6 1-8 0-2 3-2 4 2 7-1 5zM389 672l9 0 0-4 2-5-11-1-10-6-3 2-4 3-3 4 1 3 2 8 4 4 3 1zM418 321l0 4 10-3 7-2 8 3 3-9 6-2-2-9-1-5-6-6-8-3-7 3-6 4-5 8 0 6-1 9zM1232 690l1-6-6-7-7-4-5 6-6 1-5 8 4 6 0 7 5 4 8 1 4-7 9-5zM1151 722l-4-11-3-7-6-7-7 6-12 3 0 8 4 13 9 1 8-6 10 4zM1333 893l5-10 5-5-9-3-3-7-7-1-5 3-5 5-3 8 1 8 6 5 8-4 6 7zM1097 796l-1-14 8-6 1-13-3-2-3-3-5 0-7 2-4 9-6 5 0 8 3 9 6 5 5-1 5 2zM187 310l12 6-2-10 8-8-6-7-5-5-8 9-12 0 0 6-3 4 5 5 1 5zM916 736l-9 6-8-1-1 9-6 5 0 7 4 3 3 7 9-1 7 7 8-4 2-9 6-14 2-9-4-5-6-4zM390 437l-2-7-3-2-5-2-6 1-7 2-2 7-4 9-1 5 2 3 9 3 6-9 10 2 2-3 2-3zM1275 840l-13-4-4-12-6 1-4 0-2 5-3 5-1 13 5 6 8 4 12 3 3-9 8-4zM773 231l4-1 9-9 3-11 11-5-3-8-6-6-7-3-2 2-8 8-2 12-2 12 0 8zM353 381l-9-5-7 6-10 0 1 7-3 9 2 4 4 2 5-5 10-3 8 1 1-4-1-3zM588 497l-5 2-7 10 0 9-1 10 13 4 6 8 8-5 7-5-7-12-4-8-6-11zM337 707l2-6-8-5-5-6-8 4-5 3 1 11 4 6 8-5 10 1zM379 625l11 0 3-10 10-4-5-5-8-4-7 0-8 5 0 8-6 11zM501 565l-1 8-5 6 3 5 2 6 8 3 10-8 9 1 1-8-5-8 2-10-7 1-10-2zM1109 997l6 3 4 5 2-6 7-8-2 0-6 3-8-1zM1086 659l2 3 7 11 8 5 8-3 6-5 7-2-3-11 5-10-3-8-6-2-9-4-4 7-12 8-4 6zM488 615l-4 3 6 10-5 10 6 10 3 0 3 2 6-6 6-9 8-4 1-5 0-6-9-4-4-7-9-3-4 2-4 2zM1189 762l5-8 9-5-3-7 4-9-8-6-5-5-7 5-6 10-8 3 1 6 2 7 4 9 2 1 1 0zM813 294l11-3 5-7 7-11-3-8 0-12-10-5-7-3-7 4-8 6-1 15 7 11 5 12zM573 582l5-6 1-8-4-11-7-2-8-4-5 5-7 1 5 10 2 8 2 10 7 4 5-1zM688 979l-5 14-1 10 13-7 10-2 13-1 0-4 3-4-5-7-7-7-3-8-9 7-11-1zM813 809l-6 2-9-3-6 7-3 8-1 7 2 2 1 4 5 3 6 3 12 0 8-5 4-6 3-8-3-6-5-9zM1137 950l8 4 11 7 8 6 6-5 5-7 2-6-3-6-3-4-11-1-7-3-10 5-2 6zM644 504l-13 3-1 9-11 6-1 9 4 3 3 5 7 2 14-1 6 4 5-2 2-4-4-12 4-10-7-8zM1092 991l3 6 10 2 4-2 3-4-16-1zM863 809l-1 4 10 2 5 12 7 2 10-4 6-2 7-7-1-9-8-5-6-9-9 0-10 8-11 3zM1253 712l1-4-7-6-6-2-7-6-9 5-4 7 5 8 0 12 2 2 3 0 5-5 12-1 5-7zM1063 117l4 0 0-1-5-4-5-1zM1088 914l-8-2-7-7-4 8-5 11-7 7 2 8 5 4 7 2 7-8 9 1 1-11 6-6zM607 462l8-8 11 2-2-7-1-10 4-7-5-1-7-5-10 5-8 6-2 7-3 12 3 2zM1132 988l-6 3 2 0 2 0 2-2zM1123 875l-9-7-17 7-9-7-1 1 3 12-4 8 8 2 6 6 10-1 3-7 9-6 0-4zM1118 920l15-6 8 3 0-8 0-7-3-9-6-6-10-4-9 6-3 7 3 9-3 11zM996 155l14-12 7-12-2-3-1-3-5-5-6-3-13 4-11 6-11 1-2 3 6 13 10 7 5 10zM405 320l11-1 1-9 0-6 5-8-7-6-7-5-8 1-5 1-4 3 3 7 1 8 1 10zM1180 763l-1 0 0 13-1 1 8-7zM262 296l6 4 6 6 11 3 11 2 2-3 3-1 2-5 1-5-4-3-1-5-8-7-12 5-5-6-6 2-5 6-1 2zM776 547l7-9 6-7-11-3-10-8-13 3-2 4-3 1 0 10 1 10 3 8 8 5 8-1zM215 731l2-7-7-1-6-4-4 2-3 6 4 6 2 6 2 1 5-3 7-2zM611 286l6 6-2 7 8-3 7 2 8-2 2-6 10-9 1-8-2-2-7 0-10-7-7 5-6 4-7 4zM1132 676l1 9 6 8 10 1 7-3 5-5 3-4-1-6-9-5-2-8-9 4-9-1-7 4zM154 668l-9-7-5 0-7 0-1 7-5 5 9 6 8 6 4 1 5-2 3-3 0-4zM1188 671l-1 8 6 6 6 1 5 2 5-8 6-1 5-6 1-5-2-7-10 2-14-7-9 3 0 2-2 2zM544 378l-10 3-10-2 3 11-5 7 8 10 13-2 6 7 2-3 1-1 1-9 2-6-2-9zM767 501l6-1 9-8 5-6 0-8-3-3-3-5-10 6-18-3-13 2-2 2 0 5 1 5 9 4 2 5 6 9zM921 476l-5 7 9 9 7-1 11 4 3-7-3-12 3-11-6 0-8 2-8-4zM621 632l4 5 8 0 6 1 3-7 7-3 3-7-10-5-5-5-5-11-4 2-4 2-5 7-3 10 1 8zM326 709l-8 5-3 4 0 4 4 4 8 7 11-1 6-5 2-3-2-8-8-6zM44 630l4 8 6 4 4 1 5 0 3-2 2-4 1-2-2-7-5-6-8 3-9-2zM691 560l-10 6-14 8-12 2 3 7 5 8 10 6 10-4 10 2-1-11 0-10 2-12zM1060 639l-4 7 3 7 0 12 2 8 6-7 12 4 9-8-2-3 2-5-4-9-6-4-11-5-1 0z"/><path fill="#7497e4" stroke="#fff" stroke-opacity="0.6" d="M801 163l13-2 8 4 7-8-1-6-3-1-10 0-9 1-4 7-2 5zM308 310l9 3 7 9 6-5 4-6 5-7 0-3 0-3-7-2-3-5-5 6-12-2-8 2-1 5-2 5zM759 643l4-3 3-11-5-10-5-7-11-4-6 3-4 0-8 9-4 11 2 13 11-4 8 10 14-3zM1041 305l1-8-1-12-9 3-8-9-11 1-3 13-6 7 4 8 3 12 13-1 12 2 10-7zM794 655l-2 8-5 9 0 1 9 0 7 8 10-2 7-3 6-8-5-9-1-7-7-1-8 1-6-5zM867 712l1 8 14-2 7 6 9-7 4-5 3-10-1-4-5-3-2-6-11 5-10-4-7 4-4 11zM568 431l6-5 9-5 0-7 2-11-11 1-10 6-12-2-1 1-2 3 0 3 3 9 4 5 6 5zM858 494l3-4 0-5-5-5-13-2-13 8-14-6 6 9-2 16 2 8 12-5 12-6 13-1zM503 436l4-6 1-7-2-4 0-5-11-3-6-7-9 2-6 4-1 9 4 9-4 7 8 0 8 10 9-1zM654 993l8 11 10 3 4-2 5 0 1-2 1-10 5-14-2-10-7-3-3-3-8 1-8 7-8 1-3 4-1 7zM414 497l-5-8-7 3-5 2-2 6-2 6 1 3 3 2 6 1 9 4 5-8 6-8zM361 199l-6 0-8 6-11 5-2 7 2 11 2 3 4 3 7 2 9-5 7 4 2-8 10-7-6-3 0-11-6-5zM606 336l7 2 4-3 4-4-6-6-3-11-1-10-11 0-9 1-5 10-2 10 10 5 4 9zM658 317l8 0 10-2 2-4 2-5-9-7-1-15-10-8-4-3-5 0-1 8-10 9-2 6 1 11 8 8zM1236 403l-5-9-5-9-6-7-1-1 1 8-5 8 3 6 4 6 7 2 6 1zM1280 750l0 10 6 10 5 1 6 6 2 0 7-8 2-10 2-13-12-3-11-3-9-1zM922 513l12 1 10-7 0-6 0-4-1-2-11-4-7 1-9-9-8-1-7 6 6 10-4 9 1 11 2 2 4 1zM536 455l1-3-3-10-3-5-1-8-8-5-7-3-7 2-1 7-4 6-5 8 0 1 4 4 3 5 8 0 11 2 9 2zM723 631l4-11 8-9-5-5-10-5-7-4-6 2-5 1 4 10-8 10 1 14 8 4 9 3 9 3zM1014 510l5 7 11 1 10-5 10-1-7-10 0-8 3-11-8-5-7 0-6 8-5 2-9 3-1 5-1 4zM738 758l-2 7 8 12 12 1 6 8 4-2 1-11 9-7-3-7-3-10-2-8-12-3-8 5-12 7zM359 712l1-7-1-8-3 0-3-3-8 4-6 3-2 6-1 3 8 6 2 8 4-2 7-1 1-1zM688 849l7-5 2-12-4-9-8-5-4-9-7 7-8 3-3 1 1 4 9-2 9-2-2 9-1 9 5 10zM1103 618l3 6 2 9 9 4 6 2 12-3 7-5-1-9 2-6 2-9 0-3-4-2-13-1-8 4-13-3-7 4-4 6zM347 178l4 5-2 8 6 8 6 0 4 2 4-7 7-5 2-6-4-1-8-5-10-2-9 1zM506 465l-1-11-3-5-4-4-7 6-9 10-11 7 4 8 8 8 10-3 9-6zM966 310l2-10-6-4 0-5-13-4-8 7-12-1-3 2-2 2 3 13 3 10-2 13 3 3 8 4 13-1 5-8 8-4 3-6zM256 243l-5-6-8-1-12-2-8 1-4 7-3 7 1 10 8 2 2 5 10 1 10-4 8-4 2-11zM518 561l7-1 3-4 6-3-3-7 1-8-8-1-10-8-5-7-3 7-7 5-3 8 4 11 8 6zM1050 684l-3 13-5 9 5 3 0 7 8 3 10-8 7 4 2-10 0-11-8-3-5-6-2-7zM670 284l1 15 9 7 7 0 4-9 9-1-1-9-1-6 3-7-2-8-9-5-10 6-8 2-12 7zM692 574l0 10 1 11 4 4 5 1 5-1 6-2 8-8 5-8 2-13-3-2-2-3-11-3-10 6-8-4zM376 680l-8 7-4 9 7 0 5 8 7 4 7 1 6-6-4-7-11-5-2-10zM420 376l9-2 6-5-1-11-5-8-2 0-9 1-7 7-7 5 2 8 4 5 6 5zM793 708l-9-7-7 7-4 11-2 9 0 3 1 2 8-1 11 4 9 0 5-3 2-3-5-7 1-8 0-8zM1214 783l-3 2-2 6-2 4 3 9 3 8 8-3 9 4 8 1 5-8 0-8 0-11-9 1-7-5-11-2zM982 513l2-7 0-10-10-9-8 2-10 8-12 0 0 4 0 6 4 2 2 7 7-2 14 4 8 0zM1194 956l1-2-10-4-8-1-2 6-5 7-6 5 0 1 2 2 6 0 4 5 2 0 4-1 7-5 4-10zM1059 678l2 7 5 6 8 3 9 1 7-5 10-2 3-6 0-4-8-5-7-11-9 8-12-4-6 7-2 4zM873 801l10-8 9 0 3-12 4-9-3-7-4-3-11 4-9-1-9-6-1 5-4 3-5 10 6 11 0 12 3 2 0 2zM327 733l-8-7-4-4-4 0-2 2-5 13 1 4 6-2 9-5 7 0zM955 555l-4 11 5 11 7 3 7-1 6-5 4-7 5-9-8-7-4-8-7 3-7-1-8 1zM443 675l-6 5-11-4-2 6-2 2 6 4 12-10 3-2zM568 555l7 2 11-7 7-6 1-4-6-8-13-4-4 2-7 0 0 10-4 11zM372 259l0-7-9-9 2-8-7-4-9 5-7-2-1 11-6 7 0 8 10 2 9 6 9-5 9-3zM1063 520l4 1 5-8 7-12 7-9-1-4-4-5-8-1-11-3-9-1-3 2-4 3-3 11 0 8 7 10 5 3 3 4zM790 596l-3-6-1-2-3-3-12 5-9 1-11 0-4 10-2 7 11 4 5 7 8-5 6-7 13-3zM960 917l3 7 2 9 9 3 8-2 10-1 6-2 2-5 0-12 0-9-8-6-7 0-9-2-8 2-9 5-7 7zM549 302l-12 4-7 0-2 7-5 6-1 3 2 4 10 7 12-1 12 5 4-3 1-4-3-9-5-9 0-10zM1262 704l8-9-2-6 0-6-8-6-8-2-10 1-9 8-1 6 2 4 7 6 6 2 7 6zM1142 744l10-2 0-12-2-4-10-4-8 6-9-1-3 3-1 2 1 9 9 4 0 10 6 0 6-1zM524 456l-11-2-8 0 1 11-4 10 5 9 10 2 8-4 6-5 7-2-1-8-4-9zM643 469l4-2 5-11 9-2 1-4 0-4-3-10-11-4-4-8-8 1-9 7-4 7 1 10 2 7 5 7 6 5zM921 834l-1 12-5 6 13 4 13 2 9 6 5-10 0-11-4-9-8-8-6 1-8 0-8-1zM268 335l8-10 10-7 9-3 1-4-11-2-11-3-6-6 2 9-5 13 1 10zM380 325l-2-1 2 9-5 9-6 9 10 6 8-6 8 4 1-6 2-7-4-6-5-5-5-7zM1060 953l-9 2-7 8 5 4 7 3 7 6 2-8 8-7-5-9-5-5zM736 710l-2 2 4 11 1 11-5 14 2 2 12-7 8-5 12 3 3-3 1-5-1-2 0-3-8-9-13-9-10-1zM907 332l12-2 9 3 2-13-3-10-3-13-7-4-13-1-8 4-6 6-5 7 0 9 3 10 2 6 7 3zM642 324l5-9-8-8-1-11-8 2-7-2-8 3-2 2-2 3 1 10 3 11 6 6 8-3 6 3zM518 585l-10 8-8-3 2 7-6 9 9 3 4 7 9 4 8-6 9-4-2-7 4-8-4-6-6-3zM387 508l6-2 2-6 2-6-3-9-5-2-5-7-3 8-11 3-2 8 9 3 6 8zM1289 911l-3-8-3 3-6-1-7 6-1 3 3 0 6 7 5 7 3-14 4-2zM1126 545l-4 2-4 7-4 8-7 3 2 3 1 2 9 0 9 12 10-2 4-8 6-5 6-6-5-8-8-4-11-4zM435 609l-10-2-9 0-2 2-2 2 3 7-2 9 5 8 6 5 10 4 1-1 4-2 3-4 2-10 0-11-1-9zM1186 511l-7 8-2 14 9 3 4 3 7 4 8-14 16-1 5-9 1-6-1-3-4-2-2-3-9-1-8 4-11-5zM1102 761l3 2 8 1 7 0 4-3 5-6 0-10-9-4-1-9-8 1-6 1 1 8-6 8-1 8zM414 192l13 4 3-3-1 0-9-2-9 0zM805 767l-4-4-9 4-6-6-10 5-9 7-1 11 9 4 11 2 8 7 2-8 11-8 5-10zM1260 482l7-7 9-5 2-7-2-6-11-5-6-11-9-2-4 10-11 5-1 4 3 9 6 11 9 5zM1255 761l-4 10 4 6 13 1 9-2 9-6-6-10 0-10-2-11-5 1-3-1-7 6-5 6-8 4zM1137 422l3-10-13-5-8-3-10-7 1 8 3 12-4 10 8 3 10 2 8 7 3-3 2-6zM888 856l-4-2-11 2-8-1-8 12-1 10-5 10 9 3 9 1 11 4 6-9-2-16 9-10zM683 667l-5-7-1-7-10 0-9 3-9-1-3 9-6 10 10 4 6 12 12 3 4-1 4 0 5-6 3-12zM433 581l11 2 5-4 5-3 2-9-3-11-4-2-5 6-10 3-9 4-1 2 1 4zM618 347l1 9 1 12 5 8 8 1 3-2 2-1 6-10-5-9 6-12-7-3-3-9-6-3-8 3-4 4-4 3zM797 629l1-10-7-6-3-9-13 3-6 7-8 5 5 10-3 11 12 2 7-2 12-3zM1132 278l-3 9 9 3 6 8 9-1 7 1 10-3 3-3 2-6 0-3-2-1-1 0-10 0-9-4-9-2-9-2-4 0zM1059 939l-2-8-8 1-9-6-10 6-6 5-2 9 8 7-3 7 3 3 6 1 4 0 4-1 7-8 9-2 3-6 1-4zM756 262l8 7 1 1-3-7-6-5zM406 191l-3 1-1 12-7 8-7 8 5 3 3 3 7-4 11 8 7-3-1-11 8-8 0-11-1-1-13-4-3-1-1 0zM685 409l-8-6-11 3-9 5-10 1-4 7 1 5 4 8 11 4 3 10 8-6 11-9 6-6 2-2 0-3zM1096 797l-5-2-5 1-5 5-5 1 0 9 2 11-6 10 6 3 9 2 3-9 12-5 1-7-5-9 0-1-8 2-10-4 17-4zM163 712l9 0 1-7-3-7-5-4-8-1-3 8-4 5 1 8 6 6zM1313 481l3-6-3-10-1-6-4-7-11-2-4-5-5 8-12 4 2 6-2 7 5 8 9 6 10-1 9 1zM946 150l0-8-2-10-12-4 0 1-1 10-4 9-9-1 3 7 2 12 10-1 6-5zM463 288l-4 6-10 4 1 5 2 9 5 3 7 3 8-3 10-5 8-3-2-8 1-9-10-1-8-4zM602 535l-8 5-1 4 8 7 1 9 1 11 2 1 7-2 7-2-2-9 6-11 2-9-3-5-4-3-5-2-4 1zM637 221l-5 0-2 3-4 8-5 12 3 6 2 8 6 6 10 7 7 0 5-10 8-12-2-7-4-2-7-7-6-8-1-1zM1258 751l5-6 7-6-6-7-1-10-10-7-5 7-12 1-5 5-1 8 7 6 1 8 7 1 5 4zM1222 508l4 2 9-5 5-2 9-5 5-7-2-8-9-5-6-11-3-9-12 4-5 10 5 8 1 13-3 12zM831 846l-9-9-8 5-12 0 5 10-1 13 6 8 8 3 9-4 1-10 7-9zM1122 879l0 4 10 4 6 6 3 9 9-7 5-5 8-7 2-5-3-6-12 4-13-3-14 2zM944 132l2 10 5-6 10 0 5-5 2-3-3-7-1-3-8-1-11 1-11 1-2 9zM1078 641l6 4 4 9 4-6 12-8 4-7-2-9-3-6-7-6-1-1-10 4-8 15-10 6zM1073 903l-8-5-6-3-8-6-5 7-11 2 2 9 4 11-1 8 9 6 8-1 7-7 5-11 4-8zM376 189l-7 5-4 7 6 5 0 11 6 3 5 0 6 0 7-8 7-8 1-12-11 0-7-4-6-5-1 0zM997 942l-5 12 5 7 6 1 10-1 5 1 9-2 3-7-8-7 2-9-8-4-9-8-7 1-2 5-6 2zM1306 822l7 7 7 3 7-3 9 3 2-9 4-5-7-5 1-8-7-6-7 2-10-3-7 5-2 13zM20 641l10-4 3-13 10-3-2-4-7 0-7-3-1 6-4 9-3 7zM377 511l-4 10 3 6 5 2 5 1 6-2 3-8 2-9-3-2-1-3-6 2-4-2zM424 682l2-6-1-7-4-4-6-6-12 1-3 3-2 5 0 4 7 7 3 11 6-4 3-5 5 3zM1047 593l4 6 4 6 9-3 5-1 9-2-1-9 4-8-4-7-7 0-7-8-2 0-3 6-4 7-9 4zM839 683l0 5 3 9 6 3 8 3 9 2 4-11 7-4-1-11-6-9-9-7-10 4-8 7zM1008 308l-4-8-13 4-9 1-14-5-2 10 2 11 9 4 10 7 12 2 4 0 3-2 3-4 2-8zM261 739l2 7 2 3 4-1 9-5 8-6 2-5-2-4-7-6-6-1-4 3-6 2-3 2 0 4zM823 705l10-1 4-3 5-4-3-9 0-5 3-9-7-2-9-4-6 8-7 3 2 8-1 12zM139 725l6 2 8-2 3-4 1-1-6-6-1-8-6 3-8-2-3 6 1 9zM899 204l11-7 8-7 1-6-2-10-11 1-8-9-11 3-4 8-9 9-9 3 5 7 0 6 11 0 9 5zM372 387l-4-4-9 3-5 4 1 3-1 4 2 3 4 5 8-4 7 1 3-5-1-4zM1164 968l0-1-8-6-11-7-8-4-5 7 2 12 8 6 2 0 12-1zM1282 848l4-1 4-10 5-8-4-12-10-2-6-7-3 6-9 3-5 7 4 12 13 4 3 8zM1107 240l-9 10 2 3 2 3 9 4 1-2-3-12 0-7zM656 342l8 1 1-11 10-2 1-12 0-3-10 2-8 0-11-2-5 9-7 7 3 9 7 3zM1082 975l2-3 1-5-6-3-6-3-8 7-2 8 1 2 2-6 15 4zM76 702l-5-11-4 8-12 3 0 7 5 7 7 0 6 1 5-2 1-7zM1171 420l0 9 3 7 3 9 9 1 5 4 10-5 5-9-3-6 3-9-8 2-9-9-12 0zM1014 125l1 3 2 3 4 5 5 0 10-4 16-8 11-7-6-6-4 0-10 2-9 1-12-1zM175 255l7-5 7-8-2-11 3-7-11-5-13 2-7-3-3 1 5 10-9 16 8 13 4 0 2 0zM1222 462l12-4 1-4-7-9-14-2-8-7-5 9-10 5-1 9 6 9 8 3 13 1zM345 698l8-4 0-6-4-9-4-6-1-1-9 2-6 5 0 6-3 5 5 6 8 5zM622 431l5 1 9-7 8-1-1-5 4-7-2-11-13-2-1-10-7 3-5 9-10 2 1 9 3 6 2 8zM444 252l-4-9 4-8-12 0-9-6 1 11-10 7 1 12 11 4 9 5 4-1 2-4zM592 273l-10 7-4 8 0 2 9 7 4 8 9-1 11 0 2-3 2-2 2-7-6-6 1-9-5-2-5-3zM474 622l-8 2-4 7-1 6 4 10 8 5 10-6 8 2-6-10 5-10-6-10zM255 761l-2-6-4 0 1 1 5 10 3-1zM651 788l7 3 9-7 8 2-2-8 5-6 5-8-12-3-11-6-2-3-4 4-8 4 4 9 4 9-6 7 0 1zM860 230l-2-4-16 0-6-13-17 1 4 12-5 9-2 10 7 3 10 5 9-3 7-3 8-6 2-4 1-3zM599 632l10-4 8 1-1-8 3-10 5-7-13-3-6-5-4 4-8 3 3 8-1 10-3 8zM85 677l0-6-6-2-5-7-4 2-7 2-3 5 0 8 3 9 8 3 6-4 8-5zM570 377l9 3 7 8 4-9 5-8-4-9-3-7-7 0-12-4-9 3 1 7-1 7 3 8zM1292 629l-3 6 0 9 1 7-4 6 6 2 4 3 9 1 8-1 11-3 2-2 1-3 0-11-2-8-11-1-5-7-11-1zM1177 410l-2-4-6-4-9 1-8-4-3 10-9 3-3 10 3 8 12 3 7-6 12 2 0-9 6-6zM1174 981l2-6-4-5-6 0 3 12 5 2 1-1zM450 366l7-6 1-11-5-2-5-3-13 0-6 6 5 8 1 11 6 4 8 1zM697 244l2-6-7-2-9 2-8 3-8 3 14-2 10 6zM39 592l0 1-5 8-6 9-1 4 7 3 7 0 2-8 3-5-5-4-1-7zM559 299l0-3-2-6-10-5-2-11-6 3-9 0-8 7 1 8 4 7 3 7 7 0 12-4 6 0zM1148 782l-10-3-11 4-3 5-4 6 10-2 22-4zM829 157l-7 8 4 11 7 6 7 2 11-3-3-13 12-13-2-11-6 0-9 2-9 5-6 0zM1119 714l0-8-9-1-5-5-8 4-3 10-4 8 8 3 7 9 6-1 8-1 1-2 3-3zM884 161l-4-6 1-4-1 0-9-4-9-2-4-1 2 11-12 13 3 13 7 5 7 3 9-3 9-9 4-8zM40 593l8-9 9-1-4-6 0-7-5 4-6 9-3 9zM1029 898l-9-4-8-1-8 3-4 9 0 9 0 12 7-1 9 8 8 4 6-5 10-6 1-8-4-11-2-9zM1115 926l-2 12 4 9 10-1 10 4 4-4 2-6 3-10-5-7 0-6-8-3-15 6-8-4-2 2zM274 753l5 4 6-7 8-4 1-1-3-4-5-4-8 6-9 5zM1132 989l7 3 3 0-4-10-6-8 10 1-8-6-3 3-1 9 1 6 1 1zM1049 676l-11-1-7-6-10 5-4 9-1 5 1 6 8 4 13 1 4 7 5-9 3-13 9-6 0-1zM578 635l-8-2-7-6-3 1-3 1-3 9-1 7-8 7 4 4 4 7 11 6 10-3 6-5 4-7 4-6 3-6-4-9zM1071 528l7 4 1 0 10-1 8-10 9 1 4-7 3-8-3-3 0-7-7 1-10-6-7 0-7 9-7 12-5 8zM975 616l8-11 4-7-7-7-5-8-5-4-7 1-7-3-6 4-5 4 1 7-1 7-2 9 8 7 6 5 9 1zM391 381l-3-6-11-1-7-2-1 5-1 6 4 4 5 6 7-3 5-3zM1052 323l-1 12 13 4 5 7 9 6 2-1 2-3-1-11 7-8-3-11-8-2-3-7-8 4-12-2-6 4zM1189 414l9 9 8-2 3-8 5-5 8-3-4-6-3-6-8-2-9-4-12 0-2 5-6 9-3 5 2 4 0 4zM1182 974l-4 1-2 0-2 6 1 2 9-7zM103 714l-7-1-3 11-1 2 8-2 7 1-1-1 5-5zM1331 771l-12-2-9 9-9-1 2 8 5 8 4 5 10 3 7-2 3-9 6-8-2-5-1-3zM474 346l6 2 8-4 0-14 8-11-5-12-1 0-8 3-10 5-8 3 1 10 9 7-1 11zM415 417l7 0 4-9 6-7-8-3-8-10-6 3-8 5-1 3-1 4 0 12 7 6 1 0zM726 581l-5 8-8 8 7 4 10 5 5 5 4 0 6-3 2-7 4-10-3-9-11-6 0-7-4-1-5 0zM1101 430l8-3 4-10-3-12-1-8-9 7-8 2-11 2-3 6-1 7 6 5 1 7 9 4zM424 398l8 3 4 0 8-3 3-9 7-5-4-4-1-6-8-1-6-4-6 5-9 2-4 5 2 4-2 3zM1043 770l-11-4-10 1-5 11-8 4 5 6 8 5 1 8 7 1 8 2 8-3 3-2 1-2 3-11-5-7zM20 644l6 1 6 5 6-9 10-3-4-8 1-7-2-2-10 3-3 13-10 4zM406 191l0-1-5-2-9 0-9-4-4-1 6 5 7 4 11 0zM20 679l-1-4-5-2-6 0 2 4 7 7 2 2zM1189 475l7-7-6-9 1-9-5-4-9-1-5 10-7 2-9 5 13 4 8 11 6 7zM462 579l7 3 4-6 7-2 0-10-4-7-1-6-8-1-5 3-9 3 3 11-2 9zM1081 582l-4 8 1 9 10 6 7 6 1 1 4-6 7-4 3-9 3-12-3-11-1-2-2-3-3-1-12 2-5 7-10 2zM698 620l8-10-4-10-5-1-4-4-10-2-10 4-5 4-3 9 0 9 4 6 8 8 6 7 7-2 9-4zM562 343l-4-6-12-5-12 1-10-7 0 5-4 3 4 10 1 8 3 9 10-5 9-4 12 1zM720 694l-3-10-3-10-11 3-12-5-7 2-3 12-5 6 1 10 13 6 6 8 11 1 9-9zM564 540l0-10-8-1-6-9-3 9-6 4-9 5-1 8 3 7 8 3 6 1 7-1 5-5zM569 351l12 4 7 0 1-9 9-7-4-9-10-5-13-1-8 6-1 4-4 3 4 6-3 10 1 1zM1313 601l-7 8-7 7 0 6-1 4 11 1 5 7 11 1 8-8 6-7-2-6-5-6-3-9-2-1-4 0zM1391 551l8-3 8 2-1-11 1-9-4-10-7 1-6-5-3-1-4 3-3 8-9 7 6 6-2 8 8 7zM1312 891l-11-3-8 3-4 5-3 7 3 8 1 1 4-2 6-6 8-5 9-3 1 0zM656 273l4 3 12-7 8-2 10-6 3-7-2-6-10-6-14 2-1 0 0-1-6-1 2 7-8 12-5 10 2 2zM1209 791l2-6-7-9-2 0 0 16-8 6 3 1 10-4zM1118 297l6-4 5-6 3-9-1-4-6 1-9-3-11 3-8 4-1 7 3 7 10 5zM440 592l6 7-2 8 2 0 4 0 8-5 10-5 2-9-1-6-7-3-8-3-5 3-5 4zM424 569l1-2-4-2-1-5-9-5-7 4-7-2-4 5-2 4 2 6-2 4 7 0 11 3 6 7 2-8 8-5zM1113 581l-3 12-3 9 13 3 8-4 13 1-3-8 0-5 0-9-10 2-9-12-9 0zM656 690l-6-12-10-4-4 1-4 9-2 8-6 7 2 3 1 4 7 3 10 3 5 1 8-5 7-9 4-6zM1091 842l3 8 11 3 9-4 10-1 1-1-3-10 3-6-8 1-9-6-6-3-12 5-3 9zM560 437l2-3-6-5-4-5-3-9-9 1-5 5-5 8 1 8 3 5 3 10 8-6 9 0 8-5zM344 727l3 6 4-1 10-3-4-8-7 1-4 2zM389 316l7-1-1-10-1-8-3-7-5-3-4 2-4 6-8 2 4 10-3 12 4 2 3 3 2 1 4-1zM93 724l3-11-2-4-8 3-7-4-1 7-5 2 0 6 3 5 6 4 8-5 2-1zM844 821l-8 5-7-3-3 8-4 6 9 9 6 7 8-7 9 0-3-7 6-7-4-9zM595 621l1-10-3-8-8-1-5-9-10-2-2 14 1 13-6 9 7 6 8 2 9-2 2-2 3-2zM585 572l11 4 7-5-1-11-1-9-8-7-7 6-11 7 4 11-1 8zM1301 888l11 3-1-8 3-8 5-5-10-4-7-7-3 10-4 3-6 8 2 5 2 6zM1237 742l-7-6 1-8-3 0-2-2-10 0-6 3-6 4-4 9 3 7 9 6 7 6 12-3 7-8zM364 504l-2 8-3 6 1 3 2 1 5-1 6 0 4-10 6-5-6-8-9-3-4 0zM400 415l0-12-12 1-7 5-3 7 2 10 5 2 3 2 12 0 7-9zM551 515l-1 5 6 9 8 1 7 0 4-2 1-10 0-9 7-10-4-2-11 7-12 2-8 4zM1047 386l-3 10-2 6 1 5 0 3 4 6 11 2 5 8 4-5 10 0 1-7 3-6-5-9-12-8-4-10-3 1-2 0zM1077 316l8 2 8 1 5-7 9-1 0-8 2-5-10-5-3-7-11 1-7 2-5 12 1 8zM1270 673l10-5 4-10-12-7-12-6-11 4-3 2-1 9 5 6 2 9 8 2 8 6zM275 340l14-3 7 7 3-3 5-1-4-8-1-8-4-9-9 3-10 7-8 10zM76 632l-7 3-1 2-2 4 5 7 4 4 9-1 7-5-7-9 1-9zM1261 786l8 14 6 7 2-13 16-5 4-12-6-6-5-1-9 6-9 2-13-1-1 4zM1038 804l-8-2-7-1-1 13-6 6 12 2 6 9 6-4 5-1 4-7-6-11 3-7z"/><path fill="#7ba3e6" stroke="#fff" stroke-opacity="0.6" d="M924 796l-6 8-3 14 3 4 3 4 8 1 8 0 6-1 3-11 9-6-2-10-6-6 0-8-6-2-6 1zM859 614l14-4 7 7 3-10 7-4 1-11-10-6-3-11-6-7-8 7-7 1-3 10-2 7-4 11 2 3zM446 314l-3 9-2 11 7 10 5 3 5 2 8-1 7-2 1-11-9-7-1-10-7-3-5-3zM845 424l-3 8-7 9 8 8 6 6 10 4 6-1 10-4 4-6-6-8-2-10-1-7-7-4-10 0zM899 970l-6 0 3 1 4 0zM98 629l-11-5-2 4-1 9 7 9 5 1 6 5 2-10 8-1 1-10-2-2-2-3zM1070 575l7 0 10-2 5-7 12-2-5-13-11-8-9-11-1 0-1 15-5 12-9 8zM918 537l-2-6-6-10-4-1-2-2-7 6-9 1 2 13-4 7-2 10 9-5 16 10 10-3 3-5 1-5zM1127 670l7-4 9 1 9-4 2-7-2-8 4-8-6-7-8-2-7 5-12 3 3 8-5 10 3 11zM1033 239l5 0 2-5 3-2-5-10-4-8-7-1-8-7-8 1-6 5-10 5 2 8 3 7 8 8 12 2 11-1zM811 518l-7 6-9-1-1 5-4 2 4 12 3 6 9 9 7 5 11-2 6-9 4-11-4-9-6-7-4-7zM1243 798l0 8-5 8 9 5 1 6 4 0 6-1 5-7 9-3 3-6 0-1-6-7-8-14-7-5-7 3-4 3zM951 673l-9 0-5 7 1 3-2 3 8 10 2 9 9 0 4 7 8 2 4-1 1-3 3-2 5-13-2-9-1-13-8-4-10-3zM408 690l-5 9-7 4 1 2 3-4 10-6 4-9zM862 802l-3-2-7-5-15 2-8-2-3 9-5 4 5 9 3 6 7 3 8-5 9 2 2-5 7-5 1-4-1-5zM912 707l6 9 5 5 10-6 5-5 8-5-2-9-8-10-14 0-10 4-8 8 1 4zM1003 115l-3 2-10 2-10 3-12-3-4-1 1 3 3 7 11-1 11-6 13-4zM717 668l5-1 3-8-3-6 3-9-9-3-9-3-8-4-9 4-7 2-1 6-5 7 1 7 5 7 1 7 7-2 12 5 11-3zM995 990l-8-3-2 2 6 0zM1093 345l16-4 11 1 2-4 3-2-5-12-5-7-8-6-9 1-5 7-8-1 3 11-7 8 1 11zM815 687l-2-8-10 2-7-8-9 0 2 8-8 7 0 7 2 3 1 3 9 7 10-1 5-3 6-5zM588 431l9 6 8-6 10-5-2-8-3-6-1-9-11-1-9-3-3 1-1 3-2 11 0 7zM452 615l7 7 7 2 8-2 10-4 4-3 0-5-5-7-5-3-10-3-10 5-8 5zM402 492l7-3 6-6-1-12-2-5-8 0-13 1-1 5-6 3 0 1 5 7 5 2 3 9zM646 664l3-9-1-10-9-7-6-1-8 0-4 9-7 7 0 9 5 6 8 2 9 5 4-1zM1049 650l-11-1-7-4-2 1 2 6 1 11-1 6 7 6 11 1 10 1 2-4-2-8 0-12-3-7zM147 220l9-1 3-1 3-4-6 0-8 4-3 1zM1110 916l3-11-3-9-10 1-6-6-8-2-4 9-9 5 0 2 7 7 8 2 6 7 5-3 9 0zM523 637l11 7 9 8 2 0 8-7 1-7 3-9-10-5-5-7-7-7-9 4-8 6 0 6-1 5zM1085 233l-3-11 3-16-4-4-4 0-7 17-13 8-12 5 11 0 12 11 12 7 5 1 4-4zM727 816l-5 7 4 11 6 7 9 0 9 2 3-8 6-7 7-6-5-4-5-9-2-6-10 7-12-5-6 6zM536 504l-12 7-12-2-1 2-3 1-1 5 2 5 5 7 10 8 8 1 9-5 6-4 3-9 1-5-3-5-3-3zM389 331l5 5 4 6 7-3 6-8 7-2 0-4 0-4-2-2-11 1-9-5-7 1-5 8zM813 374l8-7 7-8-4-4 0-8-6 0-4-4-8 4-9-1-10 6-3 9-1 8-1 7 8 2 3 5 8-4 9 2zM460 392l8 9 5 8 1 1 6-4 9-2-2-10 2-11-7 1-7-8-10 1-5 3-6 4zM702 566l10-6 11 3-2-10-2-11 2-10-12-2-11-2-9 3-2 2-2 3 3 8 0 7 3 9 3 2zM740 388l3 13-1 8 9-2 10 5-2-13 4-13 7-8-8-4-8 0-6-5-3 8-7 4zM650 797l1-9-3-2-7 6 5 10 8 3 1 1zM395 287l5-1 6-8-5-11 4-6-3-4-5-1-9 4-7-5-9 4 0 1 4 8 2 12 4 9 4-2 5 3zM1022 793l-8-5-5-6-3-1-6 0-2 5-7 2 1 10-4 7 7 3 7 9 6 6 4-3 4 0 6-6 1-13zM1015 583l7-3-1-8 2-14 5-7-11-3-5-11-6 11-4 6-9 4 6 6 2 12 10 5zM888 450l-5-3-4 1-4 6-10 4-6 1 1 13-4 8 5 5 0 5 13-3 11 1 13-2-3-12-4-10 0-12zM785 443l-5 8 2 8-1 11 3 5 3 3 7-2 10 1 10 1 6-11 2-13 2-9-8-4-16 6-7-5zM408 285l7 5 7 6 6-4 7-3-4-8 4-13-9-5-11-4-4 2-6 0-4 6 5 11-6 8zM119 631l-6 0-1 10-8 1-2 10 1 3 0 2 8-1 10 2 7-5 0-7 2-5-2-6-4-3zM1085 488l1 4 7 0 10 6 7-1 1-8 6-4-3-8-9-7-3-11-7 0-4-3-7 6 1 13-4 8zM909 974l5 2 10 2 1 0-1-4-7-3-3 0-2 1zM763 386l-4 13 2 13 1 3 2 1 9-5 10 7 9-5-1-10 2-11 0-9-3-5-8-2-6-2-6 4zM1114 849l-9 4-11-3 0 9-6 9 9 7 17-7 9 7-4-11 3-8 2-8zM192 676l-10 4 0 7 3 3 3 2 13-3 8-3 2-3-8-4-4-5-2-9zM682 646l1-6-6-7-8-8-4-6-5 3-8-1-3 7-7 3-3 7 9 7 1 10 9 1 9-3 10 0zM938 613l5-5 2-9 1-7-1-7-7-2-8-7-9-3-8 5-1 8-9 4 6 8 7 11 12 7zM883 447l5 3 3-12 8-13 8-7-8-4-10 2-9-5-7 4-3 8 1 7 2 10 6 8zM790 530l4-2 1-5 0-10-8-9-5-12-9 8-6 1-11 4 1 8-2 10 13-3 10 8 11 3zM717 443l7-2 4-8 0-6-3-9-5-2-4-3-11 5-6-3-10 5 0 3-2 2 2 8 9 10 3 7 7 3 5-1zM860 631l10-7 11-6-1-1-7-7-14 4-9-7-6 10-2 9-4 8 8 7 10 4zM982 212l8 1 5 4 10-5 6-5 1-8-2-9 3-10-9 1-7-5-8-5-1 16 1 10-7 14zM1146 388l2-9-8-1-12-4-8 2-5 5-5 5-2 4 1 7 10 7 8 3 13 5 9-3 3-10zM1022 113l-13-1-6 3 0 2 6 3 5 5zM1107 303l0 8 8 6 5 7 5 12 3-1 5 0 6-13 0-15 5-9-6-8-9-3-5 6-6 4-9 1zM1012 537l5 11 11 3 7-4 5 2 5-10 3-13 10-7-3-4-5-3-10 1-10 5-11-1-2 8-6 10zM845 739l9 0 3-10 8 1 3-10-1-8-2-7-9-2-8-3-6-3-5 4-4 3-5 12 1 10 5 8zM282 253l-3-2-9 1-4-3-9-1-2 11-8 4 3 12 6 7 7 7 5-6 6-2 5-8-3-10 5-7zM99 686l8-9 8 1-8-5 2-9-6-6-3 5-11 1-4 7 0 6 0 5 3 3 4 1zM590 683l-11-7-6 11-8 10 0 4 3 1 5 6 3 0 8 5 7-10 9-2 4-9-1-5-3-5zM859 522l0 12-8 5 9 10 6 8 6 10 7-3 5-9 2-10 4-7-2-13-7-1-8-2-7-4zM555 312l5 9 3 9 8-6 13 1 2-10 5-10-4-8-9-7-8 7-11-1 0 3-4 3zM999 458l10-2 10-6 1-4 2-4-1-3-9-2-7-9-6-7-5 6-10-1 1 14-1 11-5 14 3 3 3 0 3 0zM660 755l11 6 12 3 5 1 5-3 5-10 6-8 0-7-6-11-3-7-17 5-9 4-14 14-1 3 7 4-3 3zM1033 580l-10 1 4 10-1 11 1 10 6 3 4 3 6-3 7-1 4-4 1-5-4-6-4-6-2-9zM378 416l3-7-4-3-2-4-7-1-8 4-1 8-2 7 2 6 8 3 7-2 6-1zM326 674l3 5 6-5 9-2-5-10 1-7-12-4-9 4 1 6-4 9zM213 260l4-1-1-10 3-7 4-7-1-5-3-3-10 0-7-5-7-1-2 2-3 1-3 7 2 11 5 9 7 7 7 3zM612 368l-7 1-10 2-5 8-4 9 2 5 1 6 9 3 11 1 10-2 5-9 7-3 2-6 0-6-8-1-5-8zM1097 800l19-5-10-2-9 3-1 1zM728 427l0 6 9 3 4 5 7 3 9-4 6-2 2-6 0-9-1-7-2-1-1-3-10-5-9 2-7 8-10 1zM1200 950l4 0 2-4-5-9 1-10-8-6-7 7-11 0-4 5-1 6 3 4 3 6 8 1 10 4zM1028 822l-12-2-4 0-4 3-2 7-9 8-2 10 0 4 3 5 5 5 5 1 11 1 9-8 0-9 3-8 3-8zM914 382l-3 8 0 15 0 11 6 3 8 5 6 4 7 3 7-4 8-5 4-5 1-3-1-3-9-7-16-9-5-14-4-2-5 1zM457 665l11-6 3-3 2-4-8-5-4-10-9 1-10-1-3 4-4 2 4 10 4 5 7 4zM1105 470l9 7 3 8 6-7 10 0 7-2 4-7 1-6-7-6-3-11-14 0-9 11-10 2zM1088 543l11 8 5 13 3 1 7-3 4-8 4-7-5-11-1-6-10-8-9-1-8 10-10 1zM824 736l-10-6-7 0-2 3-5 3 1 10-4 7 4 10 4 4 7 4 3 1 3-1 5-9-1-20 9-7zM948 910l-7 7-8 7-9 4 0 4 2 8 9 5 5 6 13 0 7-6 3-7 2-5-2-9-3-7-8-6zM963 938l-3 7 0 9 8 2 2 10 3-1 4 0 11-3 4-8 5-12-5-9-10 1-8 2-9-3zM1002 817l-7-9-7-3-4 7-8 2-2 12 3 10 7 5 7 3 4 4 2-10 9-8 2-7zM962 395l0 9-5 7 1 3-1 3 7 6 8 4 12-1 10 1 5-6 3-7-3-9 6-9-3-4 0-3-11 3-11-8-12 7zM898 802l8 5 1 9 5 2 3 0 3-14 6-8 11-12-5-5-7-5-8 4-7-7-9 1-4 9-3 12zM1057 227l13-8 7-17-4-11-6-7-10 2-8 0-7 6-3 7-3 7-2 8 4 8 5 10 2 0zM878 575l3 11 10 6 6 0 6-2 9-4 1-8 8-5-4-9 2-7-10 3-16-10-9 5-5 9-7 3 0 1zM381 691l11 5 4 7 7-4 5-9-3-11-7-7-9 0-10 9zM71 648l-5-7-3 2-5 0-5 7 0 9 6 2 4 5 7-2 4-2 0-4 1-6zM1036 321l-12-2-13 1-2 8-3 4 4 7 8 11 8 7 7-10 8-8 10-4 1-12-4-8-2-1zM390 633l4 6 6 1 5 5 7-2 6-8-5-8 2-9-3-7-5 0-4 0-10 4-3 10zM59 661l-6-2-7 0-7 3 0 1 3 11 6 7 6-3 6 1 0-8 3-5zM729 476l-5-5-10 8-14 6-10 4 0 3-2 3 9 2 10 9 14 0 6-6 7-7 5-6-1-5 0-5zM378 295l4-6-4-9-2-12-4-8-9 3-9 5 0 7 1 11-4 6 12 3 7 2zM921 171l2-5-2-12-3-7-10 1-9 4-10-1-8 0-1 4 4 6 3 8 11-3 8 9 11-1zM160 673l-4 4 0 4-3 3 0 5 4 4 8 1 5 4 8-3 7-5-3-3 0-7-9-2-5-7zM503 245l9-7 13-2-3-9-9-3-4 0-8-2-1 3-10 10-6 10 5 4 3 2zM469 270l-2 7 4 8 8 4 10 1 9-3 5-11-4-6-3-10-4-9-3-2-5-4-4 1-3-1-1 9-5 6-7 4zM944 533l8-7-2-10-2-7-4-2-10 7-12-1-12 8 6 10 2 6 5 10 9 0 6-4 9 0zM698 752l-5 10 11 5 0 12 10 4 6-9 6-6 10-3 2-7-2-8-2-2-11-6-7 1-12 1zM555 393l-2 6-1 9 12 2 10-6 11-1 1-3 3-1-1-6-2-5-7-8-9-3-7-1-4 5-6 3zM362 356l2-2-4-9-3-6-7-6-8 1-8 3 1 8-2 7 9 1 9 11 6-2 5-3zM564 589l-7-4-5 3-6 6-9 1-4 8 2 7 7 7 5 7 10 5 3-1 3-1 6-9-1-13 2-14-1-3zM1172 673l3-6 9-4 2-2 0-2-4-8-2-10-6-4-9 7-9-4-4 8 2 8-2 7 2 8 9 5zM754 299l-8-8-7-6-8 6-1 8-10 7 4 9 2 9 10-4 10 4 5-4 2-10 8-5zM424 545l-2 6-2 9 1 5 4 2 9-4 10-3 5-6-2-6-2-5-12-3-8-6-1 0zM1173 292l-3 3-3 10 10 11-5 14 10-1 13-1 13 3 1-7 1-3 0-8-2-8-7-1-1 0-3 0-10-4-1-7zM690 708l-13-6-1-10-4 0-4 1-4 6-7 9-8 5 3 12 5 7-2 10 14-14 9-4 17-5 1-3zM1281 815l10 2 5 0 7-1 2-13 7-5-4-5-5-8-2-8-2 0-2 0-4 12-16 5-2 13 0 1zM428 501l-5-1-6 8-5 8 2 8 5 8 2 2 3 0 1 0 9-6 3-7 4-9-2-9-6-4zM1245 751l-7-1-7 8-12 3-2 7-1 13 11 2 7 5 9-1 4-3 7-3 1-4-4-6 4-10-5-6zM922 457l-3-4-11 3-7-7-10 3 0 12 4 10 3 12 3 2 7-6 8 1 5-7 3-13zM739 242l7-1-1-1-8 1-2 0zM659 380l-11-9-10 3-2 1-3 2 0 6-2 6 1 10 13 2 2 11 10-1 9-5 11-3-3-12 5-8-2-5-4-4zM808 704l-5 3 0 8-1 8 5 7 7 0 10 6 7-1 3-1-5-8-1-10 5-12-10 1-9-6zM1049 799l-3 2-3 7 6 11-4 7 10 8 10 2 4-1 3-3 6-10-2-11 0-9-10 0-5-7-11 2zM1141 549l8 4 5 8 5-1 6-6 3-14 7-6-12-7-5-5-9-7-4 1-5 8-2 12-8 9zM698 443l-9-10-2-8-6 6-11 9-8 6 0 4-1 4 5 5 14 0 5 7 7-3 2-10 7-3zM1173 496l-8 0-12 5-4 8 0 6 9 7 5 5 12 7 2-1 2-14 7-8 6-8-8-7-2-7zM740 698l0 11 10 1 13 9 8 9 2-9 4-11 7-7-1-3-2-3-11 4-9-4-12-4zM926 633l-3-7-12 6-10-2-10-2-2 10 0 8 4 8 3 6 6 3 10-3 7-1 4-6 5-10zM629 1023l-2 9 2 6 7 3 3 8 5-6 13 2 6-6-2-9 6-6-2-7-9 4-11-9-13 4zM1025 987l5-5 2-9-2-10-2 8-12 5-5 7 6 5 0 3 4 0zM1182 489l2 7 8 7 11 5 8-4 9 1 3-12-1-13-5-8-13-1-8-3-7 7-6 9zM987 970l2 11 5-4 7 0-2-7 4-8-6-1-5-7-4 8-11 3zM938 543l-6 4-9 0-1 5-3 5-2 7 4 9 9 3 8 7 7 2 5-4 6-4-5-11 4-11-4-9-2-1-2-2zM890 603l-7 4-3 10 1 1 2 7 8 3 10 2 10 2 12-6 4-3 1-7-12-7-7-11-6-8-6 2-6 0zM467 666l1-7-11 6-7-3-1 8-6 5 0 1 11-6 11 1 9 2zM1106 793l10 2 4-1 4-6 3-5-2-9-5-10-7 0-8-1-1 13-8 6 1 14zM914 971l3 0 5-4 11 0 4-5 1-7 2-4-5-6-9-5-2-8-6 6-9 7-1 8 6 10-2 9zM944 980l-1-12-2-5-4-1-4 5-11 0-5 4 7 3 1 4 9 3 8 2zM1112 457l9-11 14 0 0-4 0-3-8-7-10-2-8-3-8 3-8 7-3 11 1 8 4 3 7 0zM698 528l11 2 12 2 2-1 2-3-4-5-2-10 2-7-14 0-10-9-9-2-1 2-3 14 5 10 0 10zM443 658l-4-5-4-10-1 1-6 6 0 7-7 8 4 4 1 7 11 4 6-5 6-5 1-8zM196 194l-3 7-6 9-5 8-9 0-8-3-3-1-3 4 7 3 13-2 11 5 3-1 2-2 4-10-3-9 1-8zM1045 280l5-3-2-12-9-15-1-11-5 0-2 2-4 11-12 9-6 12 3 4 1 3 11-1 8 9 9-3zM639 355l5 9-6 10 10-3 11 9 14-6-2-4 4-7-5-7-5-3-1-10-8-1-11 1zM797 753l4-7-1-10-9 0-11-4-8 1-1 5-3 3 2 8 3 10 3 7 10-5 6 6 9-4zM205 706l7-4-3-9 0-7-8 3-13 3 4 6 0 8 5 1 5 4zM524 668l10-11 9-5-9-8-11-7-6-6-8 4-6 9-6 6 8 8 2 10 4 2zM460 380l5-3 10-1-4-8 5-14-2-8-1 0-7 2-8 1-1 11-7 6-1 8 1 6 4 4zM932 467l8-2 6 0 3-5 5-2 1-13-2-8-8-10-7 4-7-3-4 7-5 10-3 8 3 4 2 6zM410 391l6-3 2-3-2-4-6-5-4-5-2-8-4-2-10 6-2 8 3 6-2 6 3 6 10 3zM756 262l0-4-2-1-4-8-4-8-7 1-4-1-2-1-2 10-2 8-2 8 1 8 10 4 1 7 11-2 6-8 8-6zM1110 515l-4 7 10 8 1 6 5 11 4-2 4 0 8-9 2-12 5-8-9-1-14-5-9-3zM1004 978l-3-1-7 0-5 4-2 3 0 3 8 3 5 2 1-3 4-7zM1332 790l-3 9 7 6-1 8 7 5 6 0 6-7-1-9-1-4 4-9-7-3-11-4zM650 797l5 9 6 4 2 10 3-1 8-3 7-7 0-4 3-3-1-8-8-8-8-2-9 7-7-3zM1018 962l-5-1-10 1-4 8 2 7 3 1 1 4 3 2 3-1 5-7 12-5 2-8-3-3zM967 810l-12-1-9 6-3 11 8 8 4 9 5-2 10-3 7-2-3-10 2-12zM735 417l7-8 1-8-3-13-2-7-9 1-8-1-7 3-1 10 2 9 1 10 4 3 5 2zM665 353l5 3 5 7 7-11 12 0 7-11-4-10-11-9-10-4-1 12-10 2-1 11zM1166 970l-2-2-8 6 9 6 4 2zM463 449l1 6 2 11 3 2 2 0 11-7 9-10 7-6 0-1-9 1-8-10-8 0-3 1-4 3zM976 535l-3 8 4 8 8 7 3 0 5 0 9-4 4-6 6-11-1-2-8-1-8-10-14 0zM1193 959l-4 10-7 5 2 2 3-2 6-6zM1270 911l7-6-10-6-5-6-9 3 0 10-9 2 6 8 3 1 9-2 7-1z"/><path fill="#84b0e3" stroke="#fff" stroke-opacity="0.6" d="M1021 674l10-5 1-6-1-11-2-6-10 2-7-1-9-6-4 3-4 2 0 12-6 7 12 4 11 6 5 8zM999 405l3 9-3 7 6 7 7 9 9 2 9-11 7-6 6-12 0-3-1-5-13 0-12-7-12 1zM1195 328l-13 1-10 1-1 3-3 3 1 10 7 8 8 11 8-8 10 4 6-7 1-7 2-9-2-2-1-5zM1306 693l2 1 5-1 6-1 3-9 3-8 2-5-2-5-1-6-11 3-8 1-9-1 7 9-2 9 2 11zM637 221l5 3-4-8-2 2zM736 1008l-10 2-8 8-5 7-1 10 3 2 1-1 6-6 7-7 8-6 5-6zM909 945l9-7 6-6 0-4-8-7-8-8-8-6-7-3-5 3-3 7-8 9-1 5 10 4 9 4 8 6-1 1zM708 453l-7-3-7 3-2 10-7 3 3 9-3 6 5 8 10-4 14-6 10-8-7-11-4-8zM984 451l1-11-1-14-12 1-8-4-7-6-4 5-8 5 8 10 2 8-1 13 9 5 9-3 7 5zM88 685l-3-3-8 5-6 4 5 11 3 6 7 4 8-3 1-5 3-3-1-8-5-7zM1122 510l14 5 9 1 4-1 0-6 4-8 0-8-13-9 0-8-7 2-10 0-6 7-6 4-1 8 0 7 3 3zM1159 427l-7 6-12-3-2 6-3 3 0 3 0 4 3 11 7 6 5 0 6-1 9-5 7-2 5-10-3-9-3-7zM699 266l2 8 8-5 12 3 6-6 2-8 2-8 2-10-8-1-6 2-9-1-9-2-2 0-2 6-6 4 2 6-3 7zM523 376l-2-3-9 3-8-5-8 3-7 9-2 11 2 10 6 7 11 3 5-8 3-4 8-5 5-7-3-11zM1072 559l5-12 1-15-7-4-4-7-4-1-5-1-10 7-3 13-5 10 8 8 8 1 5 9 2 0zM559 381l4-5-3-8 1-7-1-7-1-1-12-1-9 4-10 5-2 7-5 5 2 3 1 3 10 2 10-3 9 6zM966 621l-9-1-6-5-8-7-5 5-10 3-1 7-4 3 3 7 2 10 7-1 10 7 8-3 1-9 10-4 3-7zM979 465l-7-5-9 3-9-5-5 2-3 5-3 11 3 12-3 7 1 2 12 0 10-8 8-2 7-9 1-10zM717 460l7 11 5 5 9 1 2-2 6-9-1-11 3-11-7-3-4-5-9-3-4 8-7 2-4 9zM1122 338l-2 4 2 14-3 10 1 10 8-2 12 4 8 1 3-2 2-3-2-11 2-12-3-10-10 1-7-7-5 0-3 1zM1329 692l7 7 6 6 3-1 1-9 5-3 2-9 0-1-10-3-6-2-10-7-2 5-3 8-3 9zM437 521l-3 7-9 6 8 6 12 3 3-7 7-6-4-7-4-10-3-2-3 1zM845 316l-13-6-4-10-15-6-4 10-9 6 1 9 1 7 8 9 4 8 4 4 6 0 5-8 9-7 8-11zM914 963l-6-10 1-8-7-2-6 3-7 5-6 4 0 1 1 11 3 1 6 2 6 0 1 1 6 1 3 2 3-2zM594 238l-3-7-9 2-6-4-7 3-4 8 2 10 4 8 10-2 6-2 10 1 2-2 2-5zM129 724l-8-4-5-4-3 0-2 3-5 5 1 1 4 1 10 6 8-3zM927 195l1 7 6 6 8 0 8-6 5-5 0-8 6-7-1-8-6-6-10-4-5-4-6 5-10 1-2 5-4 3 2 10-1 6zM453 556l9-3 5-3 8 1 1-4 4-3-1-8-7-5-10-5-7 4-7 6-3 7 2 5 2 6zM551 696l-6-4-1 0 3 4 5 2zM676 318l10 4 11 9 4 10 7 1 7 1 1 0 3-14 7-5-2-9-4-9-7-3-6-3-7-4-9 1-4 9-7 0-2 5-2 4zM869 670l6 9 1 11 10 4 11-5 0-8 1-12 4-6-6-3-3-6-12 2-10 9-10-3-1 1zM846 502l-12 6-12 5 0 2-2 2 4 7 6 7 4 9 9 2 8-3 8-5 0-12 7-4 0-9-7-8zM726 768l-6 6-6 9 0 6-1 4 4 11 9 7 6-6 12 5 10-7 3-8 5-9-6-8-12-1-8-12zM1053 459l-1 10 1 9 9 1 11 3 8 1 4-8-1-13 7-6-11 4-8-9-13 2zM202 715l0-4-5-4-5-1-6 5-6 6 0 4 2 5 3 2 7 2 5-3 3-6 4-2zM1082 898l4-9 4-8-3-12-9-3-11 1-9-4-2 2-3 2 0 8 2 6-4 8 8 6 6 3 8 5zM589 631l-2 2 4 9-3 6 11 2 1 11 11 2 3-1 0-9 7-7 4-9-4-5-4-3-8-1-10 4-7-3zM185 663l-5-7-5 4-5 1-3 5 1 5 5 7 9 2 10-4 5-11 0-2zM848 405l3 8 2 6 10 0 7 4 3-8 7-4-4-6 0-11-5-4-7-7-8 0-4 9-5 5zM792 431l5-9-3-7-2-2-9 5-10-7-9 5 1 7 0 9-2 6 4 9 13 4 5-8 8-1zM132 723l-3 1 0 5 2-1 11-1 4 2-1-2-6-2-5-3zM1054 610l-4 4 7 7 4 7 5 8 1 0 10-6 8-15 10-4-7-6-10-6-9 2-5 1-9 3zM781 332l1-10-5-7-8-11-3 2-5-1-8 5-2 10-5 4 5 9 9 7 7-3 8 1zM121 674l-5 4 5 8-2 11 1 1 5-1 5 2 5-6 9-8-8-6-9-6zM167 666l3-5-5-8-7-2-2-8-2 8-9 10 9 7 2 9 4-4 8-2zM898 486l-13 2-11-1-13 3-3 4 1 7 7 8 0 9 7 4 8 2 7 1 9-1 7-6-1-11 4-9-6-10zM446 424l1 10 9 3 10 2 4-3 3-1 4-7-4-9 1-9-1-1-10 1-6 2-7 5zM390 367l10-6-1-3-4-3-8-4-8 6-10-6-3 1-2 2-2 2 0 3 3 8 5 5 7 2 11 1zM872 567l-6-10-6-8-9-10-8 3-9-2-4 11-6 9 1 4 3 5 11-1 6 9 12-1 7-1 8-7zM43 609l-2 8 2 4 2 2 9 2 8-3 3-10 5-5-2-3-3-1-12-4-7 5zM446 607l-2 0-1 0 1 9 0 11-2 10 10 1 9-1 1-6 4-7-7-2-7-7-2-8zM1022 580l-7 3-4-2-7 6-5 7-8 4 7 5 5 8 4 7 12 0 8-6-1-10 1-11-4-10zM721 272l-12-3-8 5-3 7 1 6 1 9 7 4 6 3 7 3 10-7 1-8 8-6-1-7-10-4-1-8zM109 664l-2 9 8 5 1 0 5-4 6-1 5-5 1-7-4-3-1-5-7 5-10-2-8 1 0 1zM707 717l-11-1-1 3 3 7 6 11 0 7 12-1 7-1 11 6 5-14-1-11-4-11-11 1-7-5zM1020 242l-12-2-8-8-3 10-11 8 1 10 8 1 8 4 6 8 6-12 12-9 4-11zM1287 740l11 3 12 3 3-1 0-11 0-11-4-2-3-4-9 3-10 2 0 9-9 8zM1030 182l5 4 7 6 7-6 8 0 10-2-1-6 3-7-4-4-5-7-6-6-10 0-10-2-9 7 2 10-6 8zM861 955l5-4-9-1 2 7zM857 379l-1 4 8 0 7 7 5 4 10-8 14-5 10-1-2-8-11-2-5-9-8 2-10-2-9 3-6 3-4 8zM614 490l-9-2-7 7-6 4 6 11 4 8 7 12 4-1 5 2 1-9 11-6 1-9-6-9-3-9zM827 444l-3 1-2 9-2 13-6 11 2 2 14 6 13-8 13 2 4-8-1-13-10-4-6-6-8-8-4 0-2 0zM186 735l-1-7-3-2-8 1-8 8 1 3-1 1 8 3 11 0 1 0zM439 503l2 9 3-1 3 2 6-5 10-3 0-4 1-2-9-6-6-6-6-9-1 9-9 6 0 6zM965 972l2-5 3-1-2-10-8-2 0-9-7 6-13 0-2 4-1 7 4 1 2 5 9 3 9 3zM584 713l-8-5-3 0 1 2 8 7 3-4zM871 665l10-9 12-2-4-8 0-8 2-10-8-3-2-7-11 6-10 7-4 14 3 8 2 9zM577 223l-1 6 6 4 9-2 4-1-5-2-9-2-5-5zM767 447l-4-9-6 2-9 4-3 11 1 11-6 9 13-2 18 3 10-6 1-11-2-8zM599 253l-2 2 3 9 2 8 5 3 5 2 7-4 6-4 7-5-6-6-2-8-3-6-10-1-10 5zM630 224l2-3 5 0-1-3-5 4-5 1zM1209 336l2 2 4 2-3-8-1-10-1-1-1 3-1 7zM144 709l6-3 4-5 3-8-4-4 0-5-5 2-4-1-9 8-5 6 4 2 2 6zM964 633l-10 4-1 9 1 9 5 11 10 3 8 4 7-1 5-7 6-7 0-12-13-3-7-9-8-8zM1048 984l-1-13-7-7-4 0-6-1 2 10-2 9 5 6 1 1 10-3 0 1zM192 698l-4-6-3-2-7 5-8 3 3 7-1 7 2 4 6 1 6-6 6-5zM404 363l7-5 7-7 9-1-2-10-6-2-1-9-7 2-6 8-7 3-2 7-1 6 4 3 1 3zM203 739l-2-6-4-6-5 3-7-2 1 7 0 7 14 0 3-1zM980 520l1 4 14 0 8 10 8 1 6-10 2-8-5-7-5-10-7 2-11 4-7 0-2 7-3 5zM584 654l-4 7-6 5 3 6 2 4 11 7 10-1 3-11 8-8-11-2-1-11-11-2zM1017 988l-6-5-3 1-3-2-4 7-1 3 11-3 6 2zM980 988l-8-2 0 3 9 0 3 0zM156 642l-1 0-7-2-9-2-9 3-2 5 0 7 1 5 4 3 7 0 5 0 9-10 2-8zM167 738l-1-3-7-4-3-10-3 4-8 2 1 2 7 3 11 6 2 1zM861 955l-2 2 1 3 9 3 9 3 5 2 1-1-1-11 0-1-1 1-8-2-8-3zM396 236l-3 8 4 12 5 1 3 4 6 0 4-2-1-12 10-7-1-11-2-2-7 3-11-8-7 4zM923 653l-4 6 7 6 9 6 2 9 5-7 9 0 8-7-5-11-1-9-8 3-10-7-7 1zM992 479l13 3 6 9 9-3 5-2 6-8-6-10 1-12-7-6-10 6-10 2-11 10zM1019 206l8 7 7 1 2-8 3-7 3-7-7-6-5-4-9-5-4 0-4 3-3 10 2 9-1 8zM910 380l-10 1-14 5-10 8 0 11 4 6 9 5 10-2 8 4 4-2 0-11 0-15 3-8zM474 525l1-8-6-7-6-5-10 3-6 5 4 10 4 7 7-4 10 5zM1035 988l-5-6-5 5-4 4 11-1 4-1zM589 346l-1 9 3 7 4 9 10-2 7-1 8 0-1-12-1-9-5-9-7-2-8 3zM600 264l-3-9-10-1-6 2-10 2-1 3 5 6-1 12 4 9 4-8 10-7 10-1z"/><path fill="#8bbae1" stroke="#fff" stroke-opacity="0.6" d="M1313 693l-5 1 3 7-6 7 1 9 3 4 4 2 12-6 9 1 6-7 2-6-6-6-7-7-10 0zM1072 451l8 9 11-4-1-8 3-11-9-4-1-7-6-5-10 0-4 5-3 7-1 6-3 9 2 2 1 3zM1175 283l0 3-2 6 13 1-1-5 0-12zM1201 304l7 1 0-2-8 1zM625 715l2-9-1-4-2-3-9-7-11 0-4 9-9 2-7 10 1 0 5-7 9 2 7 6 8 3 2 6zM545 692l-2-10 5-12 5-7-4-7-4-4-2 0-9 5-10 11-13 2 2 0 8 3 8 5 5 7 8 4 2 3zM1078 835l-6-3-3 3-4 1-3 11-3 5-1 11 9 4 11-1 9 3 1-1 6-9 0-9-3-8-4-5zM1177 477l-8-11-13-4-6 1-5 0-1 6-4 7 0 8 13 9 0 8 12-5 8 0 9-7 1-5zM429 423l6 10 4 6 4-1 4-4-1-10 4-7-8-10-6-6-4 0-6 7-4 9zM14 673l4-7 2-12-3-8-3 1 0 1-5 9-5 9 4 7zM1010 881l-1-8-1-10-5-1-5-5-12 3-5 5-9 7-2 8 1 8 5 9 9 2 7 0 8 6 4-9 8-3zM115 704l5-6-1-1-8 5-13-1-3 3-1 5 2 4 7 1 8 5 2-3 3 0zM699 415l6 3 11-5-1-10-2-9 1-10-3-3-4-2-10 4-10-5-8 5-5 8 3 12 8 6 4 11zM839 400l-7 4-7-2-4 7-3 7 4 7 0 11 7 7 2 0 4 0 7-9 3-8 8-5-2-6-3-8-1-8zM733 240l-5-2-3 1zM1017 177l4 0 6-8-2-10 9-7-2-9-6-7-5 0-4-5-7 12-14 12-9 6-1 4 0 3 3 3 8 5 7 5 9-1zM514 402l-3 4-5 8 0 5 2 4 7-2 7 3 8 5 5-8 5-5 9-1 0-3-6-7-13 2-8-10zM677 378l2 5 8-5 10 5 10-4 0-11-1-13 9-12-7-1-7-1-7 11-12 0-7 11-4 7 2 4zM912 690l10-4 14 0 2-3-1-3-2-9-9-6-7-6-7 1-10 3-4 6-1 12 0 8 2 6 5 3zM1178 401l6-9 2-5-4-6-1-8-11 1-10-2-7 2-2 3-3 2-2 9 6 11 8 4 9-1 6 4zM208 184l-5 0-6 8-1 2 1 0 7-4 4-5zM960 980l1-6-9-3-9-3 1 12-2 3 1 0 10 2 2 0zM627 670l-8-2-5-6-3 1-8 8-3 11 3 5 1 5 11 0 9 7 6-7 2-8 4-9zM1175 283l10-7-12 6zM987 987l0-3 2-3-2-11-10-5-4 0-3 1-3 1-2 5 4 8 3 6 8 2 4 1 1 0zM771 295l7-5-5-10-2-9-4 1-1-1 0 1-1-2-1-1-8 6-6 8-11 2 7 6 8 8 7 6 5 1 3-2zM820 505l2-16-6-9-2-2-10-1-10-1-7 2 0 8-5 6 5 12 8 9 0 10 9 1 7-6 9-1 2-2 0-2zM800 310l9-6 4-10-1-1-12 2-11 1-11-6-7 5-2 9 8 11 5 7 9-2 10-1zM1054 580l4-7 3-6-5-9-8-1-8-8-5-2-7 4-5 7-2 14 1 8 1 1 10-1 12 4zM1140 342l10-1 10-4 8-1 3-3 1-3 5-14-10-11 3-10-10 3-7-1-9 1-5 9 0 15-6 13zM947 904l-7-5-2-9-7-1-11-1-5 9-9 3-6 7 8 6 8 8 8 7 9-4 8-7 7-7zM159 731l7 4 8-8 8-1-2-5 0-4-6-1-2-4-9 0-6 8-1 1zM1214 358l1-4 2-8-2-6-4-2-2 9-1 7zM822 434l0-11-4-7-7 2-8-1-9-2 3 7-5 9 1 11 7 5 16-6 8 4 3-1 2-3zM428 657l0-7 6-6-10-4-6-5-6 8-7 2-3 8 1 7 12-1 6 6zM611 243l10 1 5-12 4-8-4-1-5 2-6 8-9 3-8-5-3-1-4 1 3 7 7 10zM797 346l9 1 8-4-4-8-8-9-1-7-10 1-9 2-1 10-6 6 8 5 4 9zM1160 372l10 2 11-1 0-5 3-3-8-11-7-8-1-10-8 1-10 4 3 10-2 12 2 11zM97 693l1 8 13 1 8-5 2-11-5-8-1 0-8-1-8 9-7 0z"/><path fill="#9ecae3" stroke="#fff" stroke-opacity="0.6" d="M1059 439l1-6 3-7-5-8-11-2-4-6-6 12-7 6-9 11 1 3 10 4 13-3 11 5zM852 392l4-9 1-4-2-4-8-4-11-10-8-2-7 8-8 7-3 7 6 8 7 4 2 9 7 2 7-4 8-3zM972 986l-3-6-4-8-4 2-1 6-5 5 8 0 9 4zM1055 881l-2-6 0-8-9-1-5-10-11 0-9 8-11-1 1 10 1 8 2 12 8 1 9 4 6 0 11-2 5-7zM496 374l8-3-10-9 1-8-6-10-1 0-8 4-6-2 2 8-5 14 4 8 7 8 7-1zM773 280l5 10 11 6 11-1 12-2-5-12-7-11 1-15-4-1-5-1-4 7-8 8-9 3zM213 187l-5-2-4 5-7 4-1 8 3 9-4 10 7 1 7 5 10 0 4-9 3-6 6-7-8-4-2-9-4-5zM583 458l9-2 3-12 2-7-9-6-5-10-9 5-6 5-6 3-2 3 2 4 4 5 4 9 7 3zM1208 354l-6 7-10-4-8 8-3 3 0 5 1 8 4 6 12 0 9 4 8 2 5-8-1-8-7-6 2-8 0-5zM975 634l7 9 13 3 4-2 4-3 4-5 0-12 0-6-4-7-5-8-7-5-4 0-4 7-8 11-9 5 1 5zM523 570l5 8-1 8 6 3 4 6 9-1 6-6 5-3-2-10-2-8-5-10-6-1-8-3-6 3-3 4zM223 182l-3 0-8 2-4 0 0 1 5 2 5 0zM745 377l3-8-1-3-7-12-12-2-12-9-1 0-9 12 1 13 0 11 4 2 3 3 7-3 8 1 9-1zM1026 456l-1 12 6 10 7 0 8 5 4-3 3-2-1-9 1-10 6-6-1-3-2-2-11-5-13 3-10-4-2 4-1 4zM1040 827l-6 4-3 8-3 8 0 9 11 0 5 10 9 1 3-2 2-2 1-11 3-5 3-11-10-2-10-8zM372 676l-2-8-6 5-13 0-6 0 4 6 4 9 0 6 3 3 3 0 5-1 4-9 8-7zM736 320l-10 4-7 5-3 14 12 9 12 2 7 12 1-12 11-6 1-8-9-7-5-9zM754 374l8 0 8 4 6-4 6 2 1-7 1-8 3-9-4-9-8-5-8-1-7 3-1 8-11 6-1 12 1 3zM133 713l3-6-2-6-4-2-5-2-5 1-5 6 1 12 5 4 8 4 3-1 2-1zM1033 615l-6-3-8 6-12 0 0 6 0 12-4 5 9 6 7 1 10-2 2-1-1-8 6-11 1-8zM999 594l5-7 7-6-10-5-2-12-6-6-5 0-3 0-5 9-4 7-6 5 5 4 5 8 7 7 4 0z"/><path fill="#b4d8e5" stroke="#fff" stroke-opacity="0.6" d="M655 742l2-10-5-7-3-12-5-1-10-3-7-3-2 9-9 8 1 2 2 3 10 2 11 1 10 11 4 3zM823 393l-7-4-6-8-9-2-8 4 0 9-2 11 1 10 2 2 9 2 8 1 7-2 3-7 4-7z"/><path fill="#cbcbcb" stroke="#f1efe9" stroke-opacity="0.85" d="M1545 718l-5-6-3-9-3-1-5 10-7 6-9 3 5 6 13 4 4 9 5-2 3 1 1-11 6-5zM1066 1177l-1-5-4 0-3-1-4 2 0 6 1 6 5-2 7 1zM1491 672l-6-1-7 4-8 4 0 4-2 3 4 11 8 9 6 5 5 1 7 0-2-12 4-11 5-8-3-3-1-3zM997 1090l2-2 1-1-9-6-1-7-4 0-4 3 4 4-1 5 3 2 5 2zM1301 1106l-7 2-1 1 0 7 1 2 5-1 5-11zM1049 1115l5-3 4-5 2-4 0-4-2-3-2-2-5-1-3 2-4 2-3 4 3 6-1 7zM1429 758l5 6 12-1 8-2 8 3-7-10 5-12-10-11-2 0-10 8-6 6zM1122 1112l-4 6 0 1 3 3 5 3 7-2 3-8 0-6-4-1-6 0zM1117 1157l6-3-2-4 2-4-10-1-4-5-1 2-1 8 3 8zM1169 1072l-2 7 1 5 6 1 6-2 0-4 2-4-5-2-1-4-2 0zM1122 1055l-4-2-2 4 0 5 4 4 1 3 3-3 6 0 1-5 2-4-1-3-3-1zM1033 1180l1 6 0 1 4 0 3-1-1-8 5-7-3-3-1-1-5 7-4 5zM1298 1090l-1-8 5-8-7-2-6 0 1 4-5 6 2 4 7 5zM1155 1076l-2 1-2 4 3 2 1 5 7 1 4 0 0-3 2-2-1-5-5-1-5-4zM1501 718l-3-6-7 0-5-1-8 0-10 7-4 7 8 8 10 5 6 12 3 1 3-3 4-11 4-7 4-9zM1033 1025l1 7 0 8 5 2 5 2 4-1 3-6 2-10-1 0-8 0zM987 1050l-1 0-4 2-6 3 0 1 1 6 5 3 10 0 2-4 0-4-2-3-1-4zM1245 1084l-9 5-1 2 0 4 2 3 6 2 6 2 3-2 5-3-7-8 1-8zM1185 1094l3 6 9 3 2 0 2-1 3-2 2-4 0-3-2-4-6-1-6-3-2 4-5 3zM1192 1115l-7-3-4 0-4 5-4 1 0 2 9 4 5 5 3 0 5-3 0-1zM1513 761l-11-6-8-7-3 3-3-1-5 8-7 6 5 12 1 1 6-2 9-2 9 1 9-3 2-7zM1020 1091l0-7-1-8-5 0-6-1-5 4-3 8-1 1 3 1 2 3 6-2 8 3zM966 1081l-6 0-4-5-4 4-3 1 1 2 9-1 8 0zM1547 743l-4-4-3-1-5 2-1 9 9-1 9-2zM1095 997l-3-6-2 2-1 6-3 7 2 4 2 1 5 1 4-1 6-6 0-6zM1041 1051l-6 5 5 3 6 4 5-2 4-6 1-2-5-6-3-4-4 1zM1089 1016l1-5-2-1-2-4-5-1-6 1-1 7-3 4 6 3 2 4 3-1 4 0zM1104 1093l0-5-1-2-6-1-6-2-2 3-3 1 0 6-1 5 4 3 5-3 6 1zM1481 776l-5-12-5 2-8-1 0 7-8 5-1 11 2 8 9 5 3 0 2 0 3-4 3-8 3-11 3-1zM1120 1096l-8-1-8-7 0 5-4 6 3 2 2 5 5 0 6-1 4-7zM1145 1095l-6 0 0 7 0 5 5 3 6 2 1-6 5-6-3-2-1-3zM1159 1132l0-3-3-4-5-5-5 2-3 5 2 4 1 6 7 1 4-3zM1059 985l-1 3 1 8-3 5 2 1 6-3 8 4 2-6 1-6-2-4-9-4zM1191 1110l-6 2 7 3 3 10 4-3 3-2-1-8-2-9-2 0zM1182 1095l-3 3 2 6 0 8 4 0 6-2 6-7-9-3-3-6zM1105 1005l-6 6 5 3 3 3 8-1 5-7-1-4-4-5-6-3-4 2zM1540 671l-6 9-4 8 2 7 2 7 3 1 10 0 4-6 10-2 3-4-4-7-8-7-1-9-3 0-2-2-1 0zM1206 1096l-2 4 6 3 8 6 1 0 2-9 3-4-4-2-1-2-2 0-4 2-7-1zM1502 678l3 3 8 5 7 1 10 1 4-8 6-9 5-5-7-8-8-3-13-2-7 8-3 4-6 10zM1257 1097l-5 3-3 2 2 5-3 8 6 2 10 1 1-2 2-2 0-10-4-5-2-1zM1093 1187l-1 2 1 4 3-1 6-4-5-4-2 1zM1077 1020l-6-3-6-1-5 3-3 4-2 4 5 6 7 1 4 0 2-1 2-5 4-4zM1240 1114l-7-4-3-2 4 5 7 5zM1151 1116l0 4 5 5 3 4 5-3 5 0 4-3 0-3 0-2-2-3-4-2-7 3-8-2zM1292 1095l2 6 0 7 7-2 3 0-5-14 1-1-2-1-4 1zM1060 1033l-5-6-2 0-2 10-3 6 3 4 5 6 4-3 6-1 2-8-1-7zM1048 1022l4 5 1 0 2 0 2-4 3-4 1-10-3-7-2-1-2 2-3-1-1 6-5 6zM1110 1132l1-9-8 0-5-5-1 0-2 3-2 4 4 4 0 4 6 4 5 1zM1113 1041l-10-2-1 1 3 4 3 4 3 1 5 1 1-6 5-6-2-2zM1615 704l-7 2-3 11 3 8 4 1 2-5 1-11 2-7zM1469 843l-3-3-3 0-2-1-8 2-6 1-8 3 0 2 2 0 9-1 8 4 7 6 4-8 0-4zM1575 742l-6 3-11 0-3 0 6 0 9 1 5 0zM1105 1044l-3-4-3 5-7 2-1 5 2 5 5 1 3 4 2-8 5-6zM1058 1096l7-3 6 1 4-4 0-6-1-2-2-2-7 2-6 0-1 6-2 6zM1304 1069l-1 5 2 2 3 0 8-3-3-2-9-3zM1055 1117l-1-5-5 3-6-1-2 2 6 6 3 7 4 1 2-1 5-4 0-6zM1115 1016l-8 1 0 4 0 2 6 1 5 4 6-7 5-4-1-3-4 0-4-5zM1590 652l-8-1-1 6-4 5 5 6 3 11 4 7 2 1 7-8 0-1-4-10-1-11 2-7zM1176 1054l-3-3 0 6-5 6 1 3 5 3 2 0 4-3 4-6-4-3-1-4zM1052 1151l-5 1-1 3-2 9-3 3 1 1 3 3 5-1 4 3 4-2-1-7 2-9-2-4zM1440 816l12-2 6-9 7-4-9-5-2-8-6-1-8 2 0 7-4 7-4 8zM1045 1131l5-2-3-7-6-6-1 0 2 1 2 11zM1072 1070l2 3 6 0 4-2 0-5 1-5-5 0-5-6-2 5-3 7zM1027 1026l6-1 0-7 2-4-7 5-7 6zM1052 1151l5 0 2-3-6-10 1-8-4-1-5 2 1 7 0 3 1 1 0 2 0 3 0 5zM1010 1090l-6 2 5 6 0 1 1 0 9 3 1-1-1-4-1-4zM1293 1116l0-7-6 0-6-1-3 2-2 3 5 4 0 1 1 0 9 0 3 0zM1144 1085l-6 0 2 3-2 5 1 2 6 0 7 0 3-4 0-3-1-5-3-2zM1572 718l4 3 4-11 10-8 4-7-2-4-1-4-2-1-10 5-6-5-9 5-3 4 0 8 4 9 3 5zM1075 1107l1-7-1-5-4-1-6-1-7 3 2 3 0 4 6 4 5 4zM1105 1106l-2 9-5 3 5 5 8 0 4 0 3-4 0-1-3-6-5-6zM1438 739l10-8-6-6-9-6-6-8-4 4-6 0-7 3-3 10 1 6 2 6 8 5 7-4 7 4zM1601 742l-1-8-8-5-10 3-4 5-3 5 0 4 4 0 10 0 10 1 4 1zM1155 1028l-4 5-1 4 0 3 4 3 5 2 4 1 5-2 2-4-1-2-5-3-3-5zM1466 840l3 3 0 1 1-4 0-2zM1474 824l0 4 2-4 0-2zM1026 1071l-1 2 3 9 5 4 5 0 3-1 1-5 3-7-1 0-7-1-9-2zM1139 1047l-9-5 1 4-2 7 3 1 1 3 4-2 5 1 2-7 1-5zM1033 1018l0 7 11 2 8 0-4-5-3-8-6-1-1-1-3 2zM1500 689l-4 11 2 12 3 6 5 3 3 0 4 0 9-3 7-6 5-10-2-7-2-7-10-1-7-1-8-5zM1075 1197l0-8-1-1-7 5-6 6 3 5 9-2 3-2zM1092 1189l-9-2-8 2 0 8 1 3 4-2 8-4 5-1zM1240 1114l1 4 1 0 1 1 1-3 4-1 3-8-2-5-6-2-6-2 1 5-5 7zM1047 1069l-3 4 1 0 7 0 4 4 1-7 5-4-1-6-6-5-4 6-5 2zM1534 749l1-9-4-9-13-4-5-6-4 0-3 0-4 9-4 7-4 11 8 7 11 6 4 3 1-4 4-10 11-1zM1071 1049l-5 0-6 1-4 3-1 2 6 5 1 6 5 0 3 1 3-7 2-5-1-3zM1103 1101l-3-2-6-1-5 3-2 4 1 5 4 5 5 3 1 0 5-3 2-9zM1026 1104l5-3 4-2-1-5-4-3-4 1-6-1-2 2 1 4 1 4 3 3zM1308 1076l2 6 1 2 9-6-4-5zM1071 1034l-4 0 1 7-2 8 5 0 3 3 3-6 6-3-5-5-5-5zM1124 1021l-6 7 2 4 0 4 2 2 3 0 3 0 2-6 5-4-1-2 1-3-5-2-1-4zM1177 1139l7-2 2-4 1-4-5-5-9-4 0 3-4 3 4 7 0 6zM1163 1046l-4-1-4 8 2 7 3 3 5-1 3 1 5-6 0-6-2-4-3-3zM1250 1089l7 8 4 1 6-8 3-9-1-1-9 0-9 1zM959 1067l6-1 9 1 1-3 2-2-1-6 0-1-5 1-8 6-5 3zM992 1054l2 3 7 3 8-4-2-3 2-4-6-2-3-5-5 4-4 4zM1054 1003l2-2 3-5-1-8-5-3-5-1-2 3 2 13-1 2 4 0zM1148 1004l-6 2-6 0-6 3-2 5 1 3 1 4 5 2 7-3 8-2-1-7 0-2zM1236 1089l9-5 6-3-3-3 1-6-7 6-7 7-2 1zM1608 706l7-2 2-1 1-3-12 2zM1598 679l-7 8 1 4 2 4 3 1 3-7-2-11zM1095 1012l-5-1-1 5-3 7 3 2 1 3 5 2 5 1 4-3 3-5 0-2 0-4-3-3-5-3zM1173 1148l-2-6-3-1-5 3-2 4-1 1 4 0 10 0zM1063 976l-7-6-7-3-5-4-4 1 7 7 1 13 5 1 5 3 1-3 5-2-2-1 2-4zM1220 1094l4 2 5-2 6 1 0-4 1-2-3-3-7 3-7 3zM1269 1072l1 4-1 4 1 1 4 1 4 2 4 0 3-2 5-6-1-4-2-3-4 1-9-1zM986 1074l4 0 0-4 2-3 0-2-10 0-5-3-2 2-1 3 2 3-1 3 3 2 4 2zM1281 1117l-5-4-3 2-6-1-2 2-1 2 0 2 0 1 2 0 8-4 7 1zM1184 1137l-7 2-4 0-2 3 2 6 1 1 7-6 5-5zM1021 1054l-4 4 1 8 8 5 2-1 5-7 0-6-5-2-2-4zM1019 1035l-1 4 4 1 3 3 4-1 5-2 0-8-1-7-6 1-6-1-1 0-4 5zM1425 815l2 11 2 11 5 6 3 1 2 1 8-3 6-1 8-2-2-11-6-7-1-7-12 2-8-5-4 1zM1590 702l-10 8-4 11 4 4 2 7 10-3 8 5 5-3 3-6-3-8 3-11-2-4-13 1 4-7-3-1zM1201 1112l1 8 3 0 5 1 1-1 3-3 2-2 2-6-8-6-6-3-3 2-2 1zM1116 1105l-6 1 5 6 3 6 4-6 4-4-4-5-2-5zM1106 1159l4-1-3-8 1-8-7 2-5 4-2 4 2 4 1 2 4 2zM1074 1076l-2 4 2 2 1 2 4 4 7-1 3-1 2-3-2-4 0-4-1-3-4-1-4 2-6 0zM1112 1095l8 1 5-6-3-9-1-3-3-2-5 3-5 0-4 4-1 3 1 2zM1448 787l6 1 1-11 8-5 0-7-1-1-8-3-8 2-12 1-5 4-2 6 8 4 5 11zM1170 1040l-2 4 3 3 2 4 3 3 3-1 2-5-3-6-4-2zM1125 1142l-2 4-2 4 2 4 3 4 4 0 6-6 2-7-6-2-2-4zM1061 1199l-4 0-1-2-4 0 12 7zM1138 1077l-1-5-4-3-3-3-6 0-3 3-3 3 0 4 3 2 1 3 9 2 6 0zM1144 1033l-9-5-5 4-2 6 2 4 9 5 6-3 2-2 3-2 0-3zM1008 1036l-1 0-8 5 1 1 3 5 6 2 3-6 6-4 1-4-3-5-2 2-5 3zM1161 1148l2-4-3-4-3-5-4 3-7-1-1 3-2 4 3 4 3 2 3 0 1-1 7 0zM1078 1128l-3-7-1-5-1-1-7 1-5 3 0 6-5 4 8 2 9 2 4-3zM1287 1086l-2-4-3 2-4 0 1 7-1 6 1 1 4-3 9 0 2-4zM1081 1183l0-12 0-1-2-3-4 0-4 4-6 1 1 5 1 7 4 1 3 3zM1196 1071l3 2 1 1-1-1-6-7zM1199 1073l-3-2-3 1-1 3 1 5-1 5 6 3 6 1 3-5 0-1-1-1-6-8zM1103 1075l-2-8-5 4-7 4 0 4 2 4 6 2 6 1 1-3 4-4zM1266 1069l3 3 5-3zM1081 1171l6 8 8 6 2-1 2-6 2-3-3-4-1-3-6 0-5-1-4 1-1 2zM1144 1058l-2-2-5-1-4 2-2 4-1 5 3 3 4 3 5-1 4-3-1-3 2-4zM1123 1172l-4 2 0 4-1 2 5-7zM1106 1171l8-1-4-6 0-6-4 1-5 1-3 4-1 4 1 3 3 4zM1084 1034l-1 9 4 3 5 1 7-2 3-5 1-1-1-4-2-4-5-1-5-2zM1081 1098l4 0 1-5 0-6-7 1-4-4 0 6-4 4 4 1 1 5zM1530 655l8 3 7 8 1 0-4-12 10-11 2-13-7-4-5-4-9-1-5 3-4 1-1 8-8 8 0 6 2 6zM1264 1120l0-2-10-1-6-2-4 1-1 3 6 5 8-4 6 1zM1091 1168l6 0 1-4 3-4-4-2-1-2-4 2-3-1-3 5 0 5zM1544 728l-1 11 4 4 5 3 3-1 3 0 11 0 6-3 3-5 4-5-2-7-4-4-4-3-4-1-8 2-10 4zM1071 1171l4-4-1-5-7-4-8-3-2 9 1 7 3 1 4 0zM1124 1014l4 0 2-5 6-3-5-7-1-8-2 0-7 8-2 6 1 4zM1279 1102l2 6 6 1 6 0 1-1 0-7-2-6-9 0-4 3zM1130 1159l-5 4-2 9 5-8 4-3zM1160 1098l-4 2-5 6-1 6 2 2 8 2 7-3 2-7-1-7zM1289 1072l6 0 7 2 1 0 1-5 0-1-1-1-11 0-5 2zM1463 765l8 1 5-2 7-6 5-8-6-12-10-5-8-8-4 0-5 3-5 3 10 11-5 12 7 10zM1087 1130l6-5 2-4 2-3-5-3-4-5-9 2-5 4 1 5 3 7zM1039 1013l6 1 5-6 1-6-4 0-4 6-5 4zM970 1080l-4 1 1 1 2 0 3 0zM1075 1189l8-2 9 2 1-2 2-2-8-6-6-8 0 12-7 5zM952 1080l4-4 3-5 0-4-1-2-4 2-8 7 3 7zM1118 1119l-3 4-4 0-1 9-2 6 1 1 5-4 9-1-3-5 1-7zM1063 1149l5-5 4-6 1-5-9-2-8-2-2 1-1 8 6 10zM1071 1185l-4-1-7-1-5 2-1 2 2 4 0 6 1 2 4 0 6-6 7-5zM1028 1055l5 2 2-1 6-5 3-7-5-2-5-2-5 2-4 1-1 5 2 3zM1168 1099l1 7-2 7 4 2 2 3 4-1 4-5 0-8-2-6-5 2-5-3zM1067 1066l-5 0-5 4-1 7 2 2 1 3 6 0 7-2 2-4 0-3-2-3-2-3zM1041 1116l2-2 1-7-3-6-4-1-2-1-4 2-5 3 0 1 3 1 6 7 5 3zM1098 1058l-5-1-4 2-4 2-1 5 0 5 4 1 1 3 7-4 5-4 0-5zM1120 1129l3 5 2 2 5 1 4-4 2-7-3-3-7 2-5-3zM1154 1022l0 3 1 3 6 2-5-8zM1104 1028l-4 3 2 4 1 4 10 2 7-5 0-4-2-4-5-4-6-1zM1300 1091l10-6 1-1-1-2-2-6-3 0-2-2-1 0-5 8 1 8zM1075 1055l5 6 5 0 4-2 4-2-2-5 1-5-5-1-4-3-6 3-3 6zM1139 992l-7-3-2 2 1 8 5 7 6 0 6-2-1-4-5-8zM1018 1066l-1-8-4-3-4 1-2 6-1 8 2 2 0 3 6 1 5 0 3-3 3 0 1-2zM1179 1053l1 4 4 3 4 0 1 0-4-4-4-8zM1073 987l2 4 6 1 9 1 2-2-16-3zM1111 1049l-3-1-5 6-2 8 8-1 7 1 0-5 2-4-2-3zM1002 1089l-3-1-2 2-1 1 4 1 9 7 0-1-5-6zM1082 1023l-3 1-4 4-2 5 5 5 5 5 1-9 6-6-1-3-3-2zM1059 1155l8 3 7 4-1-5 6-6-5-4-6-3-5 5-4-1-2 3zM1263 1099l8-5 7 3 1-6-1-7-4-2-4-1-3 9-6 8zM1146 1148l-3-4-3 1-2 0-2 7-6 6 0 1 2 2 4-3 8-5 4-2 1-1zM1162 1089l-7-1 0 3-3 4 1 3 3 2 4-2 8 1 1-2 0-5-3-3zM1122 1103l4 5 6 0 4 1 3-2 0-5 0-7-1-2-11-2-7 5 0 2zM1150 1071l-4-3-4 3-5 1 1 5-1 6 1 2 6 0 7-4 2-4zM1136 1115l-3 8 3 3 4 2 3-1 3-5 5-2 0-4 1-2-2-2-6-2-5-3-3 2zM1207 1084l-3 5 2 4 7 1 4-2-10-9zM1180 1066l-4 3 1 4 5 2 6-1 4 1 1-3 3-1-3-5-1-2-3-4-1 0-4 0zM1132 1143l6 2 2 0 3-1 2-4 1-3-1-6-2-4-3 1-4-2-2 7-4 4 0 2zM1173 1133l-4-7-5 0-5 3 0 3-2 3 3 5 3 4 5-3 3 1 2-3zM1110 1164l4 6 2 3 3 1 4-2 2-9 5-4 0-1-4 0-3-4-6 3-7 1zM1007 1053l2 3 4-1 4 3 4-4 5-3-2-3 1-5-3-3-4-1-6 4-3 6zM1101 1067l2 8 5 4 5 0 5-3 0-4 3-3-1-3-4-4-7-1-8 1zM1074 1116l5-4 9-2-1-5 2-4-4-3-4 0-5 2-1 7-4 4 2 4zM1092 1158l4-2-2-4 2-4-3-3-5-2-2 0-4 3 0 4 1 5 6 2zM1085 1136l1 7 2 0 6-3 3-7 0-4-4-4-6 5-9-2-1 2zM1166 1086l0 3 3 3 0 5 5 3 5-2 3-3 3-1 0-2-2-5-3-4-6 2-6-1zM1033 1180l-1-1-4 4 6 3zM1081 992l-6-1-1 6-2 6 3 3 6-1 5 1 3-7 1-6zM1158 1068l-1 6 5 4 5 1 2-7 5-3-5-3-1-3-3-1-5 1zM1050 1170l-5 1-5 7 1 8 5-2 8 3 1-2-1-6 0-6zM991 1081l9 6 3-8 5-4 0-3-2-2-7-1-7-2-2 3 0 4zM1033 1063l-5 7 9 2 7 1 3-4-1-6-6-4-5-3-2 1zM1131 1046l-1-4-2-4-3 0-3 0-5 6-1 6 2 3 4 2 7-2zM1470 801l2 2 0-3 1-3zM1271 1094l-8 5 4 5 0 10 6 1 3-2 2-3 3-2-2-6 0-4-1-1zM1020 1084l0 7 6 1 4-1 1-3 2-2-5-4-3-9-3 0-3 3zM1051 1093l5 1 2-6 1-6-1-3-2-2-4-4-7 0-3 7-1 5 2 7 5 3zM1608 725l-3 6-5 3 1 8 2 6 5 2 3-9 0-10 1-5zM1260 1080l9 0 1-4-1-4-3-3-4 0-10 2-3 1-1 6 3 3zM987 1050l4 0 4-4 5-4-1-1-7 5-6 4zM1195 1126l0 4 1-1 10-4 4-4-5-1-3 0-3 2-4 3zM1152 1021l2 1 2 0 0-1-7-11 0-1 0 2 1 7zM1109 1140l4 5 10 1 2-4 5-3 0-2-5-1-2-2-9 1-5 4zM1102 1188l4-2 6-3 1 0 1 0 3-2 1-1 1-2 0-4-3-1-2-3-8 1-5 4-2 3-2 6zM1195 1126l-5 3-3 0-1 4-2 4 2 1 2-3 7-5zM1170 1040l4 0-5-2zM1137 1083l-6 0-9-2 3 9-5 6 7-5 11 2 2-5-2-3zM1043 1092l-2-7-3 1-5 0-2 2-1 3 4 3 1 5 2 1 4 1 3-4 4-2zM1183 1087l2 5 5-3 2-4 1-5-1-5-4-1-6 1-2 4 0 4zM1066 1116l7-1-2-4-5-4-6-4-2 4-4 5 1 5 6 2zM1074 1147l5 4 3-1 0-4 4-3-1-7-8-6-4 3-1 5-4 6zM1134 1026l1 2 9 5 6 4 1-4 4-5-1-3 0-3-2-1-2-3-8 2-7 3zM1079 1167l2 3 1-2 4-1 0-5 3-5-6-2-1-5-3 1-6 6 1 5 1 5zM1064 999l-6 3 3 7-1 10 5-3 6 1 3-4 1-7-3-3zM976 1070l-2-3-9-1-6 1 0 4-3 5 4 5 6 0 4-1 3-2 2-5zM1233 1110l5-7-1-5-2-3-6-1-5 2-3 4-2 9 3 1 6-4 2 2zM1219 1109l-1 0-2 6 5-4 1-1zM1468 718l10-7 8 0-6-5-8-9-4-11-8 5-4 7 1 8 0 9 3 10 4 0zM986 1081l-4-4-4-2-3-2-2 5-3 2 2 2 6 0 7 4zM1108 1138l-5-1-6-4-3 7-6 3 5 2 3 3 5-4 7-2 1-2 0-1zM1020 1101l-1 1 2 1 2 1zM1154 1043l-4-3-3 2-2 2-1 5-2 7 2 2 3 3 5-2 5 1-2-7 4-8zM1552 677l8 7 4 7 9-5 6 5 10-5-4-7-3-11-5-6-10 6-6-1-10 1zM1152 1059l-5 2-2 4 1 3 4 3 3 6 2-1 2-2 1-6 2-5-3-3zM1560 719l8-2-3-5-4-9 0-8-10 2-4 6-10 0 3 9 5 6 5 5zM1038 1189l1 0 11 7 2 1 4 0 0-6-2-4-8-3-5 2-3 1zM994 1061l-2 4 0 2 7 2 7 1 1-8 2-6-8 4-7-3zM1470 801l-2 0-3 0-7 4-6 9 1 7 6 7 2 11 2 1 3 0 4-2 2-6 2-4 0-4 2-2-3-10-1-9z"/></g>
</svg>
<div class="mt" id="t1"><b>Вибори Президента, 2004</b> (1 тур)</div>
<div class="mt" id="t2"><b>Вибори Президента, 2014</b></div>
<div class="mt" id="t3"><b>Вибори Президента, 2019</b> (1 тур)</div>
<div id="h1">Відхилення результатів голосування</div>
<div class="sub" id="s1">в об’єднаних територіальних громадах</div>
<div class="sub" id="s2">від результатів голосування загалом по Україні,</div>
<div class="sub" id="s3">у відсоткових пунктах</div>
<div id="legend">
<div class="w" style="left:0px;top:0px;background:#3b0f2b;text-indent:-2.4px">&gt; 95</div>
<div class="w" style="left:150px;top:0px;background:#49133d;text-indent:-1.6px">90 - 95</div>
<div class="w" style="left:301px;top:0px;background:#59184f;text-indent:-0.8px">85 - 90</div>
<div style="left:0px;top:49px;background:#621d62;text-indent:-2.4px">80 - 85</div>
<div style="left:150px;top:49px;background:#692774;text-indent:-1.6px">75 - 80</div>
<div style="left:301px;top:49px;background:#6f2f85;text-indent:-0.8px">70 - 75</div>
<div style="left:0px;top:100px;background:#74409d;text-indent:-2.4px">65 - 70</div>
<div style="left:150px;top:100px;background:#7b4fb1;text-indent:-1.6px">60 - 65</div>
<div style="left:301px;top:100px;background:#7b60c4;text-indent:-0.8px">55 - 60</div>
<div style="left:0px;top:151px;background:#7b74d8;text-indent:-2.4px">50 - 55</div>
<div style="left:150px;top:151px;background:#7a86de;text-indent:-1.6px">45 - 50</div>
<div style="left:301px;top:151px;background:#7497e4;text-indent:-0.8px">40 - 45</div>
<div style="left:0px;top:202px;background:#7ba3e6;text-indent:-2.4px">35 - 40</div>
<div style="left:150px;top:202px;background:#84b0e3;text-indent:-1.6px">30 - 35</div>
<div style="left:301px;top:202px;background:#8bbae1;text-indent:-0.8px">25 - 30</div>
<div style="left:0px;top:253px;background:#9ecae3;text-indent:-2.4px">20 - 25</div>
<div style="left:150px;top:253px;background:#b4d8e5;text-indent:-1.6px">15 - 20</div>
<div style="left:301px;top:253px;background:#d0e6ea;text-indent:-0.8px">&lt; 15</div>

</div>
</body></html>
